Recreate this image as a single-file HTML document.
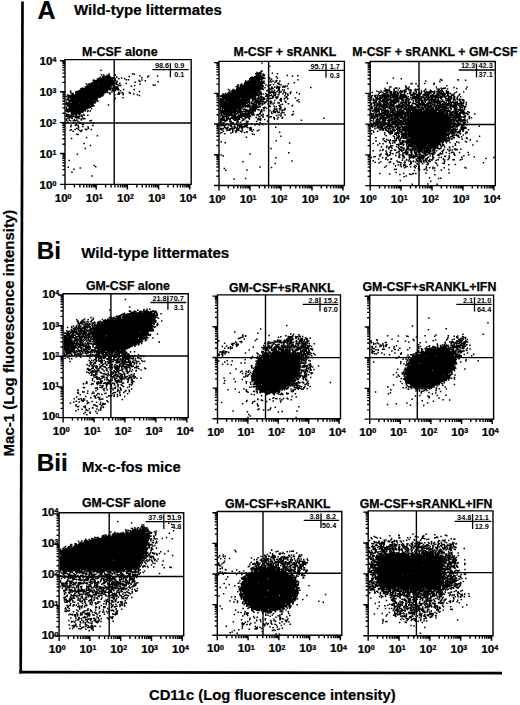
<!DOCTYPE html>
<html><head><meta charset="utf-8"><style>
html,body{margin:0;padding:0;background:#fff;width:520px;height:705px;overflow:hidden}
svg{display:block}
text{font-family:"Liberation Sans", sans-serif;font-weight:bold;fill:#000}
.big{font-size:24.3px;stroke:#000;stroke-width:.2px}
.sub{font-size:15.05px;stroke:#000;stroke-width:.2px}
.ax{font-size:14.8px;stroke:#000;stroke-width:.2px}
.ti{font-size:12.3px;stroke:#000;stroke-width:.25px}
.t{font-size:10.6px;stroke:#000;stroke-width:.25px}
.p{font-size:7.3px}
</style></head><body>
<svg width="520" height="705" viewBox="0 0 520 705">
<path d="M22.5 1.4L20.7 673.4" stroke="#000" stroke-width="2.7"/>
<path d="M19.4 672.2L502 673.2" stroke="#000" stroke-width="2.7"/>
<text x="37.6" y="18.8" class="big" style="font-size:25px">A</text>
<text x="74" y="14.8" class="sub">Wild-type littermates</text>
<text x="36.8" y="258.5" class="big">Bi</text>
<text x="81.3" y="258.3" class="sub">Wild-type littermates</text>
<text x="36.8" y="470.5" class="big">Bii</text>
<text x="82" y="471.6" class="sub" style="font-size:14.8px">Mx-c-fos mice</text>
<text x="149" y="700" class="ax">CD11c (Log fluorescence intensity)</text>
<text transform="translate(13.8 456.4) rotate(-90)" class="ax" style="font-size:15px">Mac-1 (Log fluorescence intensity)</text>
<path d="M65 59.6H191.2V184.4H65ZM114.2 59.6V184.4M65 123H191.2M65 184.4h-5M65 184.4v5M65 175.1h-2.6M74.39 184.4v3M65 169.66h-2.6M79.89 184.4v3M65 165.8h-2.6M83.78 184.4v3M65 162.8h-2.6M86.81 184.4v3M65 160.36h-2.6M89.28 184.4v3M65 158.29h-2.6M91.37 184.4v3M65 156.49h-2.6M93.18 184.4v3M65 154.91h-2.6M94.77 184.4v3M65 153.5h-5M96.2 184.4v5M65 144.2h-2.6M105.59 184.4v3M65 138.76h-2.6M111.09 184.4v3M65 134.9h-2.6M114.98 184.4v3M65 131.9h-2.6M118.01 184.4v3M65 129.46h-2.6M120.48 184.4v3M65 127.39h-2.6M122.57 184.4v3M65 125.59h-2.6M124.38 184.4v3M65 124.01h-2.6M125.97 184.4v3M65 122.6h-5M127.4 184.4v5M65 113.3h-2.6M136.79 184.4v3M65 107.86h-2.6M142.29 184.4v3M65 104h-2.6M146.18 184.4v3M65 101h-2.6M149.21 184.4v3M65 98.56h-2.6M151.68 184.4v3M65 96.49h-2.6M153.77 184.4v3M65 94.69h-2.6M155.58 184.4v3M65 93.11h-2.6M157.17 184.4v3M65 91.7h-5M158.6 184.4v5M65 82.4h-2.6M167.99 184.4v3M65 76.96h-2.6M173.49 184.4v3M65 73.1h-2.6M177.38 184.4v3M65 70.1h-2.6M180.41 184.4v3M65 67.66h-2.6M182.88 184.4v3M65 65.59h-2.6M184.97 184.4v3M65 63.79h-2.6M186.78 184.4v3M65 62.21h-2.6M188.37 184.4v3M65 60.8h-5M189.8 184.4v5" fill="none" stroke="#000" stroke-width="1.4"/>
<text transform="translate(63.1 201.5) scale(1.1 1)" text-anchor="middle" class="t">10<tspan font-size="6.4" dy="-2.8">0</tspan></text>
<text transform="translate(94.3 201.5) scale(1.1 1)" text-anchor="middle" class="t">10<tspan font-size="6.4" dy="-2.8">1</tspan></text>
<text transform="translate(125.5 201.5) scale(1.1 1)" text-anchor="middle" class="t">10<tspan font-size="6.4" dy="-2.8">2</tspan></text>
<text transform="translate(156.7 201.5) scale(1.1 1)" text-anchor="middle" class="t">10<tspan font-size="6.4" dy="-2.8">3</tspan></text>
<text transform="translate(187.9 201.5) scale(1.1 1)" text-anchor="middle" class="t">10<tspan font-size="6.4" dy="-2.8">4</tspan></text>
<text x="81.9" y="55.8" class="ti" style="font-size:12.5px">M-CSF alone</text>
<path d="M152.3 69.6H188.7M170.4 63.2V77.2" stroke="#000" stroke-width="1.3" fill="none"/>
<text x="169.1" y="68" text-anchor="end" class="p">98.6</text>
<text x="184.4" y="68" text-anchor="end" class="p">0.9</text>
<text x="184.4" y="76.8" text-anchor="end" class="p">0.1</text>
<path d="M219 61.4H344.4V185.5H219ZM268.6 61.4V185.5M219 124H344.4M219 185.5h-5M219 185.5v5M219 176.25h-2.6M228.33 185.5v3M219 170.84h-2.6M233.79 185.5v3M219 167h-2.6M237.66 185.5v3M219 164.02h-2.6M240.67 185.5v3M219 161.59h-2.6M243.12 185.5v3M219 159.53h-2.6M245.2 185.5v3M219 157.75h-2.6M247 185.5v3M219 156.18h-2.6M248.58 185.5v3M219 154.78h-5M250 185.5v5M219 145.53h-2.6M259.33 185.5v3M219 140.12h-2.6M264.79 185.5v3M219 136.28h-2.6M268.66 185.5v3M219 133.3h-2.6M271.67 185.5v3M219 130.87h-2.6M274.12 185.5v3M219 128.81h-2.6M276.2 185.5v3M219 127.03h-2.6M278 185.5v3M219 125.46h-2.6M279.58 185.5v3M219 124.05h-5M281 185.5v5M219 114.8h-2.6M290.33 185.5v3M219 109.39h-2.6M295.79 185.5v3M219 105.55h-2.6M299.66 185.5v3M219 102.57h-2.6M302.67 185.5v3M219 100.14h-2.6M305.12 185.5v3M219 98.08h-2.6M307.2 185.5v3M219 96.3h-2.6M309 185.5v3M219 94.73h-2.6M310.58 185.5v3M219 93.33h-5M312 185.5v5M219 84.08h-2.6M321.33 185.5v3M219 78.67h-2.6M326.79 185.5v3M219 74.83h-2.6M330.66 185.5v3M219 71.85h-2.6M333.67 185.5v3M219 69.42h-2.6M336.12 185.5v3M219 67.36h-2.6M338.2 185.5v3M219 65.58h-2.6M340 185.5v3M219 64.01h-2.6M341.58 185.5v3M219 62.6h-5M343 185.5v5" fill="none" stroke="#000" stroke-width="1.4"/>
<text transform="translate(217.1 202.6) scale(1.1 1)" text-anchor="middle" class="t">10<tspan font-size="6.4" dy="-2.8">0</tspan></text>
<text transform="translate(248.1 202.6) scale(1.1 1)" text-anchor="middle" class="t">10<tspan font-size="6.4" dy="-2.8">1</tspan></text>
<text transform="translate(279.1 202.6) scale(1.1 1)" text-anchor="middle" class="t">10<tspan font-size="6.4" dy="-2.8">2</tspan></text>
<text transform="translate(310.1 202.6) scale(1.1 1)" text-anchor="middle" class="t">10<tspan font-size="6.4" dy="-2.8">3</tspan></text>
<text transform="translate(341.1 202.6) scale(1.1 1)" text-anchor="middle" class="t">10<tspan font-size="6.4" dy="-2.8">4</tspan></text>
<text x="233.5" y="56.1" class="ti">M-CSF + sRANKL</text>
<path d="M308.7 70.4H344.2M326 63.6V77.8" stroke="#000" stroke-width="1.3" fill="none"/>
<text x="324.7" y="68.8" text-anchor="end" class="p">95.7</text>
<text x="339.9" y="68.8" text-anchor="end" class="p">1.7</text>
<text x="339.9" y="77.6" text-anchor="end" class="p">0.3</text>
<path d="M370.2 61.5H495.3V185.6H370.2ZM419 61.5V185.6M370.2 124.5H495.3M370.2 185.6h-5M370.2 185.6v5M370.2 176.35h-2.6M379.51 185.6v3M370.2 170.94h-2.6M384.95 185.6v3M370.2 167.1h-2.6M388.82 185.6v3M370.2 164.12h-2.6M391.82 185.6v3M370.2 161.69h-2.6M394.26 185.6v3M370.2 159.63h-2.6M396.33 185.6v3M370.2 157.85h-2.6M398.13 185.6v3M370.2 156.28h-2.6M399.71 185.6v3M370.2 154.88h-5M401.12 185.6v5M370.2 145.63h-2.6M410.43 185.6v3M370.2 140.22h-2.6M415.88 185.6v3M370.2 136.38h-2.6M419.74 185.6v3M370.2 133.4h-2.6M422.74 185.6v3M370.2 130.97h-2.6M425.19 185.6v3M370.2 128.91h-2.6M427.26 185.6v3M370.2 127.13h-2.6M429.05 185.6v3M370.2 125.56h-2.6M430.63 185.6v3M370.2 124.15h-5M432.05 185.6v5M370.2 114.9h-2.6M441.36 185.6v3M370.2 109.49h-2.6M446.8 185.6v3M370.2 105.65h-2.6M450.67 185.6v3M370.2 102.67h-2.6M453.67 185.6v3M370.2 100.24h-2.6M456.11 185.6v3M370.2 98.18h-2.6M458.18 185.6v3M370.2 96.4h-2.6M459.98 185.6v3M370.2 94.83h-2.6M461.56 185.6v3M370.2 93.42h-5M462.98 185.6v5M370.2 84.18h-2.6M472.28 185.6v3M370.2 78.77h-2.6M477.73 185.6v3M370.2 74.93h-2.6M481.59 185.6v3M370.2 71.95h-2.6M484.59 185.6v3M370.2 69.52h-2.6M487.04 185.6v3M370.2 67.46h-2.6M489.11 185.6v3M370.2 65.68h-2.6M490.9 185.6v3M370.2 64.11h-2.6M492.48 185.6v3M370.2 62.7h-5M493.9 185.6v5" fill="none" stroke="#000" stroke-width="1.4"/>
<text transform="translate(368.3 202.7) scale(1.1 1)" text-anchor="middle" class="t">10<tspan font-size="6.4" dy="-2.8">0</tspan></text>
<text transform="translate(399.23 202.7) scale(1.1 1)" text-anchor="middle" class="t">10<tspan font-size="6.4" dy="-2.8">1</tspan></text>
<text transform="translate(430.15 202.7) scale(1.1 1)" text-anchor="middle" class="t">10<tspan font-size="6.4" dy="-2.8">2</tspan></text>
<text transform="translate(461.08 202.7) scale(1.1 1)" text-anchor="middle" class="t">10<tspan font-size="6.4" dy="-2.8">3</tspan></text>
<text transform="translate(492 202.7) scale(1.1 1)" text-anchor="middle" class="t">10<tspan font-size="6.4" dy="-2.8">4</tspan></text>
<text x="352.3" y="55.9" class="ti">M-CSF + sRANKL + GM-CSF</text>
<path d="M458.7 70H494.6M476.5 63.4V77.6" stroke="#000" stroke-width="1.3" fill="none"/>
<text x="475.2" y="68.4" text-anchor="end" class="p">12.3</text>
<text x="492.7" y="68.4" text-anchor="end" class="p">42.3</text>
<text x="492.7" y="77.2" text-anchor="end" class="p">37.1</text>
<path d="M63.1 293.8H188.2V417.6H63.1ZM110.9 293.8V417.6M63.1 356H188.2M63.1 417.6h-5M63.1 417.6v5M63.1 408.37h-2.6M72.41 417.6v3M63.1 402.98h-2.6M77.85 417.6v3M63.1 399.15h-2.6M81.72 417.6v3M63.1 396.18h-2.6M84.72 417.6v3M63.1 393.75h-2.6M87.16 417.6v3M63.1 391.7h-2.6M89.23 417.6v3M63.1 389.92h-2.6M91.03 417.6v3M63.1 388.35h-2.6M92.61 417.6v3M63.1 386.95h-5M94.03 417.6v5M63.1 377.72h-2.6M103.33 417.6v3M63.1 372.33h-2.6M108.78 417.6v3M63.1 368.5h-2.6M112.64 417.6v3M63.1 365.53h-2.6M115.64 417.6v3M63.1 363.1h-2.6M118.09 417.6v3M63.1 361.05h-2.6M120.16 417.6v3M63.1 359.27h-2.6M121.95 417.6v3M63.1 357.7h-2.6M123.53 417.6v3M63.1 356.3h-5M124.95 417.6v5M63.1 347.07h-2.6M134.26 417.6v3M63.1 341.68h-2.6M139.7 417.6v3M63.1 337.85h-2.6M143.57 417.6v3M63.1 334.88h-2.6M146.57 417.6v3M63.1 332.45h-2.6M149.01 417.6v3M63.1 330.4h-2.6M151.08 417.6v3M63.1 328.62h-2.6M152.88 417.6v3M63.1 327.05h-2.6M154.46 417.6v3M63.1 325.65h-5M155.88 417.6v5M63.1 316.42h-2.6M165.18 417.6v3M63.1 311.03h-2.6M170.63 417.6v3M63.1 307.2h-2.6M174.49 417.6v3M63.1 304.23h-2.6M177.49 417.6v3M63.1 301.8h-2.6M179.94 417.6v3M63.1 299.75h-2.6M182.01 417.6v3M63.1 297.97h-2.6M183.8 417.6v3M63.1 296.4h-2.6M185.38 417.6v3M63.1 295h-5M186.8 417.6v5" fill="none" stroke="#000" stroke-width="1.4"/>
<text transform="translate(61.2 434.7) scale(1.1 1)" text-anchor="middle" class="t">10<tspan font-size="6.4" dy="-2.8">0</tspan></text>
<text transform="translate(92.12 434.7) scale(1.1 1)" text-anchor="middle" class="t">10<tspan font-size="6.4" dy="-2.8">1</tspan></text>
<text transform="translate(123.05 434.7) scale(1.1 1)" text-anchor="middle" class="t">10<tspan font-size="6.4" dy="-2.8">2</tspan></text>
<text transform="translate(153.97 434.7) scale(1.1 1)" text-anchor="middle" class="t">10<tspan font-size="6.4" dy="-2.8">3</tspan></text>
<text transform="translate(184.9 434.7) scale(1.1 1)" text-anchor="middle" class="t">10<tspan font-size="6.4" dy="-2.8">4</tspan></text>
<text x="85.9" y="290" class="ti">GM-CSF alone</text>
<path d="M150.6 302.5H186.2M167.9 295.8V309.8" stroke="#000" stroke-width="1.3" fill="none"/>
<text x="166.6" y="300.9" text-anchor="end" class="p">21.8</text>
<text x="183.8" y="300.9" text-anchor="end" class="p">70.7</text>
<text x="183.8" y="309.7" text-anchor="end" class="p">3.1</text>
<path d="M217.5 294.9H340.5V418.8H217.5ZM265.5 294.9V418.8M217.5 357.6H340.5M217.5 418.8h-5M217.5 418.8v5M217.5 409.57h-2.6M226.65 418.8v3M217.5 404.16h-2.6M232 418.8v3M217.5 400.33h-2.6M235.8 418.8v3M217.5 397.36h-2.6M238.75 418.8v3M217.5 394.93h-2.6M241.16 418.8v3M217.5 392.88h-2.6M243.19 418.8v3M217.5 391.1h-2.6M244.95 418.8v3M217.5 389.53h-2.6M246.51 418.8v3M217.5 388.12h-5M247.9 418.8v5M217.5 378.89h-2.6M257.05 418.8v3M217.5 373.49h-2.6M262.4 418.8v3M217.5 369.66h-2.6M266.2 418.8v3M217.5 366.68h-2.6M269.15 418.8v3M217.5 364.26h-2.6M271.56 418.8v3M217.5 362.2h-2.6M273.59 418.8v3M217.5 360.42h-2.6M275.35 418.8v3M217.5 358.85h-2.6M276.91 418.8v3M217.5 357.45h-5M278.3 418.8v5M217.5 348.22h-2.6M287.45 418.8v3M217.5 342.81h-2.6M292.8 418.8v3M217.5 338.98h-2.6M296.6 418.8v3M217.5 336.01h-2.6M299.55 418.8v3M217.5 333.58h-2.6M301.96 418.8v3M217.5 331.53h-2.6M303.99 418.8v3M217.5 329.75h-2.6M305.75 418.8v3M217.5 328.18h-2.6M307.31 418.8v3M217.5 326.77h-5M308.7 418.8v5M217.5 317.54h-2.6M317.85 418.8v3M217.5 312.14h-2.6M323.2 418.8v3M217.5 308.31h-2.6M327 418.8v3M217.5 305.33h-2.6M329.95 418.8v3M217.5 302.91h-2.6M332.36 418.8v3M217.5 300.85h-2.6M334.39 418.8v3M217.5 299.07h-2.6M336.15 418.8v3M217.5 297.5h-2.6M337.71 418.8v3M217.5 296.1h-5M339.1 418.8v5" fill="none" stroke="#000" stroke-width="1.4"/>
<text transform="translate(215.6 435.9) scale(1.1 1)" text-anchor="middle" class="t">10<tspan font-size="6.4" dy="-2.8">0</tspan></text>
<text transform="translate(246 435.9) scale(1.1 1)" text-anchor="middle" class="t">10<tspan font-size="6.4" dy="-2.8">1</tspan></text>
<text transform="translate(276.4 435.9) scale(1.1 1)" text-anchor="middle" class="t">10<tspan font-size="6.4" dy="-2.8">2</tspan></text>
<text transform="translate(306.8 435.9) scale(1.1 1)" text-anchor="middle" class="t">10<tspan font-size="6.4" dy="-2.8">3</tspan></text>
<text transform="translate(337.2 435.9) scale(1.1 1)" text-anchor="middle" class="t">10<tspan font-size="6.4" dy="-2.8">4</tspan></text>
<text x="228.9" y="291.5" class="ti">GM-CSF+sRANKL</text>
<path d="M302.7 304.4H338.3M320 297.2V311.6" stroke="#000" stroke-width="1.3" fill="none"/>
<text x="318.7" y="302.8" text-anchor="end" class="p">2.8</text>
<text x="337.8" y="302.8" text-anchor="end" class="p">15.2</text>
<text x="337.8" y="311.6" text-anchor="end" class="p">67.0</text>
<path d="M369.7 295.1H493.6V419.1H369.7ZM417.3 295.1V419.1M369.7 357.6H493.6M369.7 419.1h-5M369.7 419.1v5M369.7 409.86h-2.6M378.92 419.1v3M369.7 404.45h-2.6M384.31 419.1v3M369.7 400.62h-2.6M388.14 419.1v3M369.7 397.64h-2.6M391.11 419.1v3M369.7 395.21h-2.6M393.53 419.1v3M369.7 393.16h-2.6M395.58 419.1v3M369.7 391.38h-2.6M397.36 419.1v3M369.7 389.8h-2.6M398.92 419.1v3M369.7 388.4h-5M400.32 419.1v5M369.7 379.16h-2.6M409.54 419.1v3M369.7 373.75h-2.6M414.94 419.1v3M369.7 369.92h-2.6M418.76 419.1v3M369.7 366.94h-2.6M421.73 419.1v3M369.7 364.51h-2.6M424.16 419.1v3M369.7 362.46h-2.6M426.21 419.1v3M369.7 360.68h-2.6M427.98 419.1v3M369.7 359.1h-2.6M429.55 419.1v3M369.7 357.7h-5M430.95 419.1v5M369.7 348.46h-2.6M440.17 419.1v3M369.7 343.05h-2.6M445.56 419.1v3M369.7 339.22h-2.6M449.39 419.1v3M369.7 336.24h-2.6M452.36 419.1v3M369.7 333.81h-2.6M454.78 419.1v3M369.7 331.76h-2.6M456.83 419.1v3M369.7 329.98h-2.6M458.61 419.1v3M369.7 328.4h-2.6M460.17 419.1v3M369.7 327h-5M461.58 419.1v5M369.7 317.76h-2.6M470.79 419.1v3M369.7 312.35h-2.6M476.19 419.1v3M369.7 308.52h-2.6M480.01 419.1v3M369.7 305.54h-2.6M482.98 419.1v3M369.7 303.11h-2.6M485.41 419.1v3M369.7 301.06h-2.6M487.46 419.1v3M369.7 299.28h-2.6M489.23 419.1v3M369.7 297.7h-2.6M490.8 419.1v3M369.7 296.3h-5M492.2 419.1v5" fill="none" stroke="#000" stroke-width="1.4"/>
<text transform="translate(367.8 436.2) scale(1.1 1)" text-anchor="middle" class="t">10<tspan font-size="6.4" dy="-2.8">0</tspan></text>
<text transform="translate(398.43 436.2) scale(1.1 1)" text-anchor="middle" class="t">10<tspan font-size="6.4" dy="-2.8">1</tspan></text>
<text transform="translate(429.05 436.2) scale(1.1 1)" text-anchor="middle" class="t">10<tspan font-size="6.4" dy="-2.8">2</tspan></text>
<text transform="translate(459.68 436.2) scale(1.1 1)" text-anchor="middle" class="t">10<tspan font-size="6.4" dy="-2.8">3</tspan></text>
<text transform="translate(490.3 436.2) scale(1.1 1)" text-anchor="middle" class="t">10<tspan font-size="6.4" dy="-2.8">4</tspan></text>
<text x="362.4" y="291.2" class="ti" style="font-size:12.45px">GM-CSF+sRANKL+IFN</text>
<path d="M456.3 304.4H491.8M474.5 297.2V311.6" stroke="#000" stroke-width="1.3" fill="none"/>
<text x="473.2" y="302.8" text-anchor="end" class="p">2.1</text>
<text x="491.2" y="302.8" text-anchor="end" class="p">21.0</text>
<text x="491.2" y="311.6" text-anchor="end" class="p">64.4</text>
<path d="M59.1 512.7H183.7V635.9H59.1ZM109.2 512.7V635.9M59.1 576.5H183.7M59.1 635.9h-5M59.1 635.9v5M59.1 626.72h-2.6M68.37 635.9v3M59.1 621.35h-2.6M73.8 635.9v3M59.1 617.54h-2.6M77.64 635.9v3M59.1 614.58h-2.6M80.63 635.9v3M59.1 612.17h-2.6M83.07 635.9v3M59.1 610.12h-2.6M85.13 635.9v3M59.1 608.36h-2.6M86.92 635.9v3M59.1 606.8h-2.6M88.49 635.9v3M59.1 605.4h-5M89.9 635.9v5M59.1 596.22h-2.6M99.17 635.9v3M59.1 590.85h-2.6M104.6 635.9v3M59.1 587.04h-2.6M108.44 635.9v3M59.1 584.08h-2.6M111.43 635.9v3M59.1 581.67h-2.6M113.87 635.9v3M59.1 579.62h-2.6M115.93 635.9v3M59.1 577.86h-2.6M117.72 635.9v3M59.1 576.3h-2.6M119.29 635.9v3M59.1 574.9h-5M120.7 635.9v5M59.1 565.72h-2.6M129.97 635.9v3M59.1 560.35h-2.6M135.4 635.9v3M59.1 556.54h-2.6M139.24 635.9v3M59.1 553.58h-2.6M142.23 635.9v3M59.1 551.17h-2.6M144.67 635.9v3M59.1 549.12h-2.6M146.73 635.9v3M59.1 547.36h-2.6M148.52 635.9v3M59.1 545.8h-2.6M150.09 635.9v3M59.1 544.4h-5M151.5 635.9v5M59.1 535.22h-2.6M160.77 635.9v3M59.1 529.85h-2.6M166.2 635.9v3M59.1 526.04h-2.6M170.04 635.9v3M59.1 523.08h-2.6M173.03 635.9v3M59.1 520.67h-2.6M175.47 635.9v3M59.1 518.62h-2.6M177.53 635.9v3M59.1 516.86h-2.6M179.32 635.9v3M59.1 515.3h-2.6M180.89 635.9v3M59.1 513.9h-5M182.3 635.9v5" fill="none" stroke="#000" stroke-width="1.4"/>
<text transform="translate(57.2 653) scale(1.1 1)" text-anchor="middle" class="t">10<tspan font-size="6.4" dy="-2.8">0</tspan></text>
<text transform="translate(88 653) scale(1.1 1)" text-anchor="middle" class="t">10<tspan font-size="6.4" dy="-2.8">1</tspan></text>
<text transform="translate(118.8 653) scale(1.1 1)" text-anchor="middle" class="t">10<tspan font-size="6.4" dy="-2.8">2</tspan></text>
<text transform="translate(149.6 653) scale(1.1 1)" text-anchor="middle" class="t">10<tspan font-size="6.4" dy="-2.8">3</tspan></text>
<text transform="translate(180.4 653) scale(1.1 1)" text-anchor="middle" class="t">10<tspan font-size="6.4" dy="-2.8">4</tspan></text>
<text x="81.9" y="507.3" class="ti">GM-CSF alone</text>
<path d="M145.6 521.7H181.2M163.8 514.2V529" stroke="#000" stroke-width="1.3" fill="none"/>
<text x="162.5" y="520.1" text-anchor="end" class="p">37.9</text>
<text x="181.3" y="520.1" text-anchor="end" class="p">51.9</text>
<text x="181.3" y="528.9" text-anchor="end" class="p">4.8</text>
<path d="M217.3 511.5H341.8V635.3H217.3ZM263 511.5V635.3M217.3 573.3H341.8M217.3 635.3h-5M217.3 635.3v5M217.3 626.07h-2.6M226.56 635.3v3M217.3 620.68h-2.6M231.98 635.3v3M217.3 616.85h-2.6M235.83 635.3v3M217.3 613.88h-2.6M238.81 635.3v3M217.3 611.45h-2.6M241.25 635.3v3M217.3 609.4h-2.6M243.31 635.3v3M217.3 607.62h-2.6M245.09 635.3v3M217.3 606.05h-2.6M246.67 635.3v3M217.3 604.65h-5M248.08 635.3v5M217.3 595.42h-2.6M257.34 635.3v3M217.3 590.03h-2.6M262.76 635.3v3M217.3 586.2h-2.6M266.6 635.3v3M217.3 583.23h-2.6M269.59 635.3v3M217.3 580.8h-2.6M272.02 635.3v3M217.3 578.75h-2.6M274.08 635.3v3M217.3 576.97h-2.6M275.87 635.3v3M217.3 575.4h-2.6M277.44 635.3v3M217.3 574h-5M278.85 635.3v5M217.3 564.77h-2.6M288.11 635.3v3M217.3 559.38h-2.6M293.53 635.3v3M217.3 555.55h-2.6M297.38 635.3v3M217.3 552.58h-2.6M300.36 635.3v3M217.3 550.15h-2.6M302.8 635.3v3M217.3 548.1h-2.6M304.86 635.3v3M217.3 546.32h-2.6M306.64 635.3v3M217.3 544.75h-2.6M308.22 635.3v3M217.3 543.35h-5M309.62 635.3v5M217.3 534.12h-2.6M318.89 635.3v3M217.3 528.73h-2.6M324.31 635.3v3M217.3 524.9h-2.6M328.15 635.3v3M217.3 521.93h-2.6M331.14 635.3v3M217.3 519.5h-2.6M333.57 635.3v3M217.3 517.45h-2.6M335.63 635.3v3M217.3 515.67h-2.6M337.42 635.3v3M217.3 514.1h-2.6M338.99 635.3v3M217.3 512.7h-5M340.4 635.3v5" fill="none" stroke="#000" stroke-width="1.4"/>
<text transform="translate(215.4 652.4) scale(1.1 1)" text-anchor="middle" class="t">10<tspan font-size="6.4" dy="-2.8">0</tspan></text>
<text transform="translate(246.18 652.4) scale(1.1 1)" text-anchor="middle" class="t">10<tspan font-size="6.4" dy="-2.8">1</tspan></text>
<text transform="translate(276.95 652.4) scale(1.1 1)" text-anchor="middle" class="t">10<tspan font-size="6.4" dy="-2.8">2</tspan></text>
<text transform="translate(307.73 652.4) scale(1.1 1)" text-anchor="middle" class="t">10<tspan font-size="6.4" dy="-2.8">3</tspan></text>
<text transform="translate(338.5 652.4) scale(1.1 1)" text-anchor="middle" class="t">10<tspan font-size="6.4" dy="-2.8">4</tspan></text>
<text x="225" y="508" class="ti">GM-CSF+sRANKL</text>
<path d="M303.7 520.4H339.2M321 513.4V528" stroke="#000" stroke-width="1.3" fill="none"/>
<text x="319.7" y="518.8" text-anchor="end" class="p">3.8</text>
<text x="336.2" y="518.8" text-anchor="end" class="p">8.2</text>
<text x="336.2" y="527.6" text-anchor="end" class="p">50.4</text>
<path d="M368.2 510.9H493V635.7H368.2ZM416.4 510.9V635.7M368.2 572.6H493M368.2 635.7h-5M368.2 635.7v5M368.2 626.4h-2.6M377.49 635.7v3M368.2 620.96h-2.6M382.92 635.7v3M368.2 617.1h-2.6M386.77 635.7v3M368.2 614.1h-2.6M389.76 635.7v3M368.2 611.66h-2.6M392.21 635.7v3M368.2 609.59h-2.6M394.27 635.7v3M368.2 607.79h-2.6M396.06 635.7v3M368.2 606.21h-2.6M397.64 635.7v3M368.2 604.8h-5M399.05 635.7v5M368.2 595.5h-2.6M408.34 635.7v3M368.2 590.06h-2.6M413.77 635.7v3M368.2 586.2h-2.6M417.62 635.7v3M368.2 583.2h-2.6M420.61 635.7v3M368.2 580.76h-2.6M423.06 635.7v3M368.2 578.69h-2.6M425.12 635.7v3M368.2 576.89h-2.6M426.91 635.7v3M368.2 575.31h-2.6M428.49 635.7v3M368.2 573.9h-5M429.9 635.7v5M368.2 564.6h-2.6M439.19 635.7v3M368.2 559.16h-2.6M444.62 635.7v3M368.2 555.3h-2.6M448.47 635.7v3M368.2 552.3h-2.6M451.46 635.7v3M368.2 549.86h-2.6M453.91 635.7v3M368.2 547.79h-2.6M455.97 635.7v3M368.2 545.99h-2.6M457.76 635.7v3M368.2 544.41h-2.6M459.34 635.7v3M368.2 543h-5M460.75 635.7v5M368.2 533.7h-2.6M470.04 635.7v3M368.2 528.26h-2.6M475.47 635.7v3M368.2 524.4h-2.6M479.32 635.7v3M368.2 521.4h-2.6M482.31 635.7v3M368.2 518.96h-2.6M484.76 635.7v3M368.2 516.89h-2.6M486.82 635.7v3M368.2 515.09h-2.6M488.61 635.7v3M368.2 513.51h-2.6M490.19 635.7v3M368.2 512.1h-5M491.6 635.7v5" fill="none" stroke="#000" stroke-width="1.4"/>
<text transform="translate(366.3 652.8) scale(1.1 1)" text-anchor="middle" class="t">10<tspan font-size="6.4" dy="-2.8">0</tspan></text>
<text transform="translate(397.15 652.8) scale(1.1 1)" text-anchor="middle" class="t">10<tspan font-size="6.4" dy="-2.8">1</tspan></text>
<text transform="translate(428 652.8) scale(1.1 1)" text-anchor="middle" class="t">10<tspan font-size="6.4" dy="-2.8">2</tspan></text>
<text transform="translate(458.85 652.8) scale(1.1 1)" text-anchor="middle" class="t">10<tspan font-size="6.4" dy="-2.8">3</tspan></text>
<text transform="translate(489.7 652.8) scale(1.1 1)" text-anchor="middle" class="t">10<tspan font-size="6.4" dy="-2.8">4</tspan></text>
<text x="359.8" y="507.5" class="ti">GM-CSF+sRANKL+IFN</text>
<path d="M454.7 521.3H491.3M472.6 514V529" stroke="#000" stroke-width="1.3" fill="none"/>
<text x="471.3" y="519.7" text-anchor="end" class="p">34.8</text>
<text x="488.9" y="519.7" text-anchor="end" class="p">21.1</text>
<text x="488.9" y="528.5" text-anchor="end" class="p">12.9</text>
<text transform="translate(56.4 189) scale(1.1 1)" text-anchor="end" class="t">10<tspan font-size="6.4" dy="-2.8">0</tspan></text>
<text transform="translate(56.4 157.8) scale(1.1 1)" text-anchor="end" class="t">10<tspan font-size="6.4" dy="-2.8">1</tspan></text>
<text transform="translate(56.4 127.1) scale(1.1 1)" text-anchor="end" class="t">10<tspan font-size="6.4" dy="-2.8">2</tspan></text>
<text transform="translate(56.4 96.1) scale(1.1 1)" text-anchor="end" class="t">10<tspan font-size="6.4" dy="-2.8">3</tspan></text>
<text transform="translate(56.4 65.1) scale(1.1 1)" text-anchor="end" class="t">10<tspan font-size="6.4" dy="-2.8">4</tspan></text>
<text transform="translate(59.2 420.4) scale(1.1 1)" text-anchor="end" class="t">10<tspan font-size="6.4" dy="-2.8">0</tspan></text>
<text transform="translate(59.2 390.2) scale(1.1 1)" text-anchor="end" class="t">10<tspan font-size="6.4" dy="-2.8">1</tspan></text>
<text transform="translate(59.2 360.2) scale(1.1 1)" text-anchor="end" class="t">10<tspan font-size="6.4" dy="-2.8">2</tspan></text>
<text transform="translate(59.2 329.5) scale(1.1 1)" text-anchor="end" class="t">10<tspan font-size="6.4" dy="-2.8">3</tspan></text>
<text transform="translate(59.2 298.1) scale(1.1 1)" text-anchor="end" class="t">10<tspan font-size="6.4" dy="-2.8">4</tspan></text>
<text transform="translate(58.5 639.4) scale(1.1 1)" text-anchor="end" class="t">10<tspan font-size="6.4" dy="-2.8">0</tspan></text>
<text transform="translate(58.5 608.4) scale(1.1 1)" text-anchor="end" class="t">10<tspan font-size="6.4" dy="-2.8">1</tspan></text>
<text transform="translate(58.5 577.6) scale(1.1 1)" text-anchor="end" class="t">10<tspan font-size="6.4" dy="-2.8">2</tspan></text>
<text transform="translate(58.5 546.9) scale(1.1 1)" text-anchor="end" class="t">10<tspan font-size="6.4" dy="-2.8">3</tspan></text>
<text transform="translate(58.5 516.1) scale(1.1 1)" text-anchor="end" class="t">10<tspan font-size="6.4" dy="-2.8">4</tspan></text>
<path d="M269 66h1v1h-1zM261 71h1v1h-1zM259 72h1v1h-1zM132 73h1v1h-1zM255 73h5v1h-5zM261 73h1v1h-1zM272 73h1v1h-1zM277 73h1v1h-1zM101 74h1v1h-1zM115 74h1v1h-1zM134 74h1v1h-1zM257 74h4v1h-4zM263 74h1v1h-1zM107 75h2v1h-2zM256 75h5v1h-5zM262 75h1v1h-1zM264 75h1v1h-1zM287 75h1v1h-1zM297 75h1v1h-1zM104 76h6v1h-6zM129 76h1v1h-1zM254 76h8v1h-8zM276 76h1v1h-1zM292 76h1v1h-1zM100 77h1v1h-1zM102 77h10v1h-10zM116 77h1v1h-1zM141 77h1v1h-1zM251 77h2v1h-2zM254 77h10v1h-10zM269 77h1v1h-1zM99 78h1v1h-1zM101 78h12v1h-12zM115 78h1v1h-1zM118 78h1v1h-1zM124 78h1v1h-1zM250 78h15v1h-15zM401 78h1v1h-1zM97 79h15v1h-15zM126 79h1v1h-1zM128 79h1v1h-1zM250 79h2v1h-2zM253 79h9v1h-9zM440 79h1v1h-1zM93 80h20v1h-20zM115 80h1v1h-1zM145 80h1v1h-1zM250 80h10v1h-10zM261 80h1v1h-1zM270 80h1v1h-1zM276 80h1v1h-1zM465 80h1v1h-1zM93 81h18v1h-18zM112 81h1v1h-1zM140 81h1v1h-1zM245 81h1v1h-1zM248 81h8v1h-8zM257 81h5v1h-5zM263 81h1v1h-1zM276 81h1v1h-1zM439 81h1v1h-1zM92 82h22v1h-22zM116 82h1v1h-1zM135 82h1v1h-1zM245 82h19v1h-19zM294 82h1v1h-1zM89 83h1v1h-1zM91 83h23v1h-23zM116 83h1v1h-1zM119 83h1v1h-1zM126 83h1v1h-1zM244 83h21v1h-21zM277 83h2v1h-2zM288 83h1v1h-1zM424 83h1v1h-1zM434 83h1v1h-1zM88 84h10v1h-10zM99 84h14v1h-14zM116 84h2v1h-2zM241 84h1v1h-1zM244 84h15v1h-15zM260 84h3v1h-3zM270 84h1v1h-1zM273 84h1v1h-1zM279 84h1v1h-1zM433 84h1v1h-1zM87 85h23v1h-23zM111 85h1v1h-1zM113 85h1v1h-1zM119 85h2v1h-2zM134 85h1v1h-1zM240 85h19v1h-19zM260 85h3v1h-3zM268 85h2v1h-2zM87 86h23v1h-23zM113 86h2v1h-2zM116 86h2v1h-2zM131 86h1v1h-1zM236 86h2v1h-2zM240 86h22v1h-22zM283 86h2v1h-2zM405 86h1v1h-1zM86 87h23v1h-23zM110 87h1v1h-1zM113 87h5v1h-5zM238 87h1v1h-1zM240 87h21v1h-21zM262 87h1v1h-1zM271 87h1v1h-1zM274 87h1v1h-1zM277 87h3v1h-3zM284 87h1v1h-1zM310 87h1v1h-1zM406 87h1v1h-1zM81 88h3v1h-3zM85 88h26v1h-26zM112 88h2v1h-2zM115 88h4v1h-4zM237 88h26v1h-26zM269 88h1v1h-1zM271 88h2v1h-2zM276 88h1v1h-1zM278 88h2v1h-2zM396 88h1v1h-1zM399 88h1v1h-1zM407 88h2v1h-2zM441 88h4v1h-4zM80 89h30v1h-30zM112 89h1v1h-1zM117 89h1v1h-1zM123 89h1v1h-1zM134 89h1v1h-1zM228 89h1v1h-1zM233 89h1v1h-1zM236 89h25v1h-25zM263 89h1v1h-1zM270 89h1v1h-1zM278 89h2v1h-2zM282 89h1v1h-1zM385 89h2v1h-2zM405 89h1v1h-1zM410 89h1v1h-1zM415 89h1v1h-1zM417 89h3v1h-3zM425 89h1v1h-1zM438 89h2v1h-2zM441 89h1v1h-1zM79 90h1v1h-1zM81 90h27v1h-27zM112 90h1v1h-1zM115 90h1v1h-1zM120 90h1v1h-1zM229 90h1v1h-1zM232 90h28v1h-28zM266 90h1v1h-1zM268 90h1v1h-1zM274 90h1v1h-1zM278 90h2v1h-2zM386 90h3v1h-3zM394 90h1v1h-1zM400 90h1v1h-1zM404 90h1v1h-1zM410 90h1v1h-1zM424 90h1v1h-1zM430 90h1v1h-1zM438 90h5v1h-5zM446 90h1v1h-1zM70 91h1v1h-1zM76 91h31v1h-31zM113 91h1v1h-1zM139 91h1v1h-1zM233 91h26v1h-26zM268 91h1v1h-1zM277 91h1v1h-1zM279 91h1v1h-1zM385 91h1v1h-1zM390 91h2v1h-2zM394 91h2v1h-2zM401 91h2v1h-2zM404 91h2v1h-2zM410 91h1v1h-1zM416 91h1v1h-1zM421 91h1v1h-1zM430 91h3v1h-3zM434 91h1v1h-1zM437 91h3v1h-3zM441 91h2v1h-2zM446 91h2v1h-2zM70 92h1v1h-1zM76 92h30v1h-30zM107 92h1v1h-1zM109 92h1v1h-1zM122 92h1v1h-1zM129 92h1v1h-1zM228 92h2v1h-2zM232 92h28v1h-28zM269 92h5v1h-5zM275 92h1v1h-1zM279 92h1v1h-1zM284 92h2v1h-2zM290 92h1v1h-1zM296 92h1v1h-1zM372 92h1v1h-1zM380 92h1v1h-1zM382 92h1v1h-1zM387 92h1v1h-1zM390 92h2v1h-2zM393 92h2v1h-2zM397 92h1v1h-1zM404 92h1v1h-1zM413 92h1v1h-1zM416 92h1v1h-1zM419 92h1v1h-1zM421 92h1v1h-1zM425 92h6v1h-6zM434 92h1v1h-1zM438 92h3v1h-3zM443 92h1v1h-1zM446 92h3v1h-3zM76 93h28v1h-28zM118 93h1v1h-1zM123 93h1v1h-1zM130 93h1v1h-1zM225 93h1v1h-1zM227 93h1v1h-1zM229 93h20v1h-20zM250 93h4v1h-4zM255 93h3v1h-3zM259 93h2v1h-2zM273 93h1v1h-1zM275 93h1v1h-1zM285 93h1v1h-1zM290 93h1v1h-1zM299 93h1v1h-1zM379 93h1v1h-1zM386 93h1v1h-1zM390 93h2v1h-2zM393 93h3v1h-3zM397 93h1v1h-1zM400 93h1v1h-1zM404 93h1v1h-1zM407 93h1v1h-1zM409 93h1v1h-1zM413 93h3v1h-3zM419 93h3v1h-3zM425 93h1v1h-1zM427 93h3v1h-3zM433 93h2v1h-2zM437 93h2v1h-2zM441 93h4v1h-4zM447 93h2v1h-2zM450 93h1v1h-1zM72 94h2v1h-2zM75 94h28v1h-28zM114 94h1v1h-1zM118 94h1v1h-1zM137 94h1v1h-1zM222 94h2v1h-2zM225 94h29v1h-29zM255 94h5v1h-5zM261 94h1v1h-1zM266 94h3v1h-3zM275 94h1v1h-1zM278 94h1v1h-1zM378 94h1v1h-1zM383 94h2v1h-2zM387 94h2v1h-2zM391 94h4v1h-4zM396 94h2v1h-2zM401 94h4v1h-4zM410 94h4v1h-4zM416 94h4v1h-4zM423 94h6v1h-6zM432 94h1v1h-1zM437 94h2v1h-2zM440 94h3v1h-3zM444 94h2v1h-2zM447 94h1v1h-1zM451 94h1v1h-1zM453 94h1v1h-1zM459 94h1v1h-1zM68 95h1v1h-1zM70 95h11v1h-11zM82 95h21v1h-21zM139 95h1v1h-1zM221 95h16v1h-16zM238 95h19v1h-19zM258 95h1v1h-1zM266 95h1v1h-1zM269 95h3v1h-3zM273 95h3v1h-3zM372 95h1v1h-1zM374 95h2v1h-2zM379 95h1v1h-1zM381 95h5v1h-5zM387 95h2v1h-2zM392 95h6v1h-6zM400 95h2v1h-2zM404 95h2v1h-2zM411 95h2v1h-2zM416 95h4v1h-4zM423 95h6v1h-6zM430 95h4v1h-4zM436 95h3v1h-3zM442 95h3v1h-3zM447 95h2v1h-2zM451 95h3v1h-3zM66 96h1v1h-1zM69 96h1v1h-1zM71 96h30v1h-30zM220 96h17v1h-17zM238 96h18v1h-18zM258 96h1v1h-1zM260 96h2v1h-2zM265 96h1v1h-1zM267 96h1v1h-1zM272 96h2v1h-2zM277 96h1v1h-1zM286 96h1v1h-1zM371 96h1v1h-1zM374 96h2v1h-2zM377 96h1v1h-1zM380 96h1v1h-1zM382 96h7v1h-7zM390 96h1v1h-1zM393 96h5v1h-5zM400 96h7v1h-7zM408 96h1v1h-1zM413 96h5v1h-5zM419 96h2v1h-2zM426 96h3v1h-3zM430 96h1v1h-1zM432 96h6v1h-6zM440 96h2v1h-2zM443 96h2v1h-2zM448 96h3v1h-3zM454 96h1v1h-1zM460 96h1v1h-1zM69 97h29v1h-29zM99 97h1v1h-1zM222 97h33v1h-33zM258 97h1v1h-1zM261 97h1v1h-1zM263 97h1v1h-1zM272 97h1v1h-1zM275 97h3v1h-3zM371 97h1v1h-1zM376 97h2v1h-2zM379 97h2v1h-2zM382 97h1v1h-1zM384 97h1v1h-1zM386 97h1v1h-1zM390 97h8v1h-8zM399 97h3v1h-3zM403 97h4v1h-4zM410 97h1v1h-1zM412 97h7v1h-7zM421 97h2v1h-2zM425 97h2v1h-2zM428 97h2v1h-2zM431 97h1v1h-1zM435 97h7v1h-7zM445 97h1v1h-1zM448 97h2v1h-2zM454 97h1v1h-1zM457 97h1v1h-1zM68 98h1v1h-1zM71 98h26v1h-26zM220 98h1v1h-1zM222 98h7v1h-7zM230 98h10v1h-10zM241 98h5v1h-5zM247 98h3v1h-3zM252 98h4v1h-4zM257 98h2v1h-2zM263 98h2v1h-2zM268 98h4v1h-4zM276 98h1v1h-1zM280 98h1v1h-1zM284 98h1v1h-1zM287 98h1v1h-1zM376 98h6v1h-6zM384 98h4v1h-4zM389 98h1v1h-1zM396 98h7v1h-7zM407 98h1v1h-1zM413 98h9v1h-9zM424 98h1v1h-1zM427 98h2v1h-2zM431 98h2v1h-2zM435 98h1v1h-1zM438 98h1v1h-1zM440 98h1v1h-1zM445 98h2v1h-2zM448 98h2v1h-2zM453 98h2v1h-2zM67 99h2v1h-2zM71 99h4v1h-4zM76 99h21v1h-21zM114 99h1v1h-1zM220 99h4v1h-4zM225 99h13v1h-13zM240 99h9v1h-9zM252 99h4v1h-4zM258 99h1v1h-1zM260 99h5v1h-5zM280 99h2v1h-2zM298 99h1v1h-1zM373 99h1v1h-1zM377 99h4v1h-4zM383 99h1v1h-1zM385 99h1v1h-1zM387 99h5v1h-5zM393 99h4v1h-4zM402 99h1v1h-1zM405 99h5v1h-5zM411 99h1v1h-1zM415 99h1v1h-1zM417 99h3v1h-3zM424 99h2v1h-2zM427 99h9v1h-9zM438 99h1v1h-1zM447 99h4v1h-4zM453 99h2v1h-2zM457 99h1v1h-1zM459 99h1v1h-1zM68 100h25v1h-25zM95 100h2v1h-2zM220 100h4v1h-4zM225 100h10v1h-10zM236 100h14v1h-14zM252 100h2v1h-2zM255 100h2v1h-2zM259 100h2v1h-2zM274 100h1v1h-1zM280 100h1v1h-1zM297 100h1v1h-1zM373 100h2v1h-2zM376 100h1v1h-1zM380 100h1v1h-1zM382 100h4v1h-4zM387 100h2v1h-2zM390 100h5v1h-5zM397 100h2v1h-2zM402 100h1v1h-1zM406 100h1v1h-1zM408 100h1v1h-1zM413 100h1v1h-1zM415 100h1v1h-1zM418 100h5v1h-5zM424 100h2v1h-2zM429 100h3v1h-3zM433 100h2v1h-2zM438 100h1v1h-1zM446 100h1v1h-1zM448 100h1v1h-1zM450 100h1v1h-1zM459 100h1v1h-1zM462 100h2v1h-2zM69 101h25v1h-25zM95 101h1v1h-1zM97 101h1v1h-1zM220 101h7v1h-7zM228 101h18v1h-18zM248 101h2v1h-2zM252 101h1v1h-1zM255 101h9v1h-9zM281 101h1v1h-1zM375 101h2v1h-2zM379 101h9v1h-9zM390 101h9v1h-9zM403 101h1v1h-1zM405 101h2v1h-2zM408 101h1v1h-1zM418 101h1v1h-1zM421 101h2v1h-2zM425 101h1v1h-1zM429 101h1v1h-1zM431 101h9v1h-9zM441 101h2v1h-2zM444 101h1v1h-1zM448 101h1v1h-1zM450 101h1v1h-1zM66 102h1v1h-1zM68 102h2v1h-2zM72 102h7v1h-7zM80 102h15v1h-15zM220 102h6v1h-6zM227 102h18v1h-18zM246 102h4v1h-4zM251 102h1v1h-1zM254 102h1v1h-1zM256 102h5v1h-5zM264 102h1v1h-1zM271 102h1v1h-1zM373 102h4v1h-4zM379 102h1v1h-1zM383 102h5v1h-5zM389 102h1v1h-1zM391 102h4v1h-4zM396 102h1v1h-1zM401 102h6v1h-6zM408 102h3v1h-3zM416 102h3v1h-3zM421 102h1v1h-1zM423 102h1v1h-1zM425 102h1v1h-1zM428 102h4v1h-4zM433 102h8v1h-8zM444 102h1v1h-1zM446 102h1v1h-1zM449 102h9v1h-9zM460 102h2v1h-2zM463 102h1v1h-1zM466 102h1v1h-1zM66 103h13v1h-13zM80 103h13v1h-13zM220 103h27v1h-27zM249 103h1v1h-1zM251 103h3v1h-3zM256 103h1v1h-1zM258 103h5v1h-5zM264 103h1v1h-1zM268 103h1v1h-1zM270 103h1v1h-1zM288 103h1v1h-1zM371 103h1v1h-1zM377 103h2v1h-2zM380 103h1v1h-1zM386 103h2v1h-2zM393 103h1v1h-1zM395 103h1v1h-1zM401 103h2v1h-2zM405 103h2v1h-2zM408 103h2v1h-2zM412 103h4v1h-4zM418 103h3v1h-3zM422 103h3v1h-3zM427 103h5v1h-5zM437 103h3v1h-3zM445 103h2v1h-2zM448 103h2v1h-2zM451 103h1v1h-1zM454 103h2v1h-2zM457 103h7v1h-7zM66 104h25v1h-25zM92 104h1v1h-1zM220 104h26v1h-26zM249 104h1v1h-1zM253 104h2v1h-2zM256 104h1v1h-1zM258 104h2v1h-2zM262 104h1v1h-1zM282 104h1v1h-1zM371 104h1v1h-1zM374 104h1v1h-1zM377 104h1v1h-1zM380 104h1v1h-1zM383 104h4v1h-4zM388 104h1v1h-1zM390 104h4v1h-4zM399 104h1v1h-1zM402 104h2v1h-2zM405 104h4v1h-4zM416 104h13v1h-13zM430 104h1v1h-1zM432 104h1v1h-1zM440 104h2v1h-2zM443 104h6v1h-6zM451 104h1v1h-1zM454 104h2v1h-2zM457 104h1v1h-1zM461 104h1v1h-1zM466 104h1v1h-1zM67 105h27v1h-27zM220 105h7v1h-7zM228 105h13v1h-13zM244 105h6v1h-6zM253 105h4v1h-4zM259 105h1v1h-1zM279 105h1v1h-1zM292 105h1v1h-1zM374 105h1v1h-1zM376 105h2v1h-2zM380 105h7v1h-7zM389 105h5v1h-5zM396 105h7v1h-7zM404 105h1v1h-1zM406 105h3v1h-3zM410 105h2v1h-2zM417 105h2v1h-2zM420 105h1v1h-1zM422 105h7v1h-7zM430 105h2v1h-2zM434 105h1v1h-1zM437 105h4v1h-4zM442 105h3v1h-3zM446 105h2v1h-2zM450 105h1v1h-1zM452 105h5v1h-5zM458 105h1v1h-1zM461 105h3v1h-3zM68 106h24v1h-24zM220 106h21v1h-21zM242 106h2v1h-2zM245 106h5v1h-5zM251 106h6v1h-6zM259 106h1v1h-1zM269 106h2v1h-2zM274 106h1v1h-1zM276 106h1v1h-1zM279 106h1v1h-1zM376 106h2v1h-2zM379 106h8v1h-8zM389 106h1v1h-1zM391 106h3v1h-3zM397 106h3v1h-3zM402 106h1v1h-1zM405 106h2v1h-2zM411 106h2v1h-2zM415 106h4v1h-4zM424 106h3v1h-3zM428 106h4v1h-4zM434 106h3v1h-3zM438 106h3v1h-3zM442 106h5v1h-5zM449 106h8v1h-8zM461 106h1v1h-1zM465 106h1v1h-1zM66 107h1v1h-1zM69 107h22v1h-22zM220 107h1v1h-1zM222 107h21v1h-21zM250 107h1v1h-1zM252 107h4v1h-4zM257 107h2v1h-2zM263 107h2v1h-2zM280 107h1v1h-1zM371 107h2v1h-2zM375 107h2v1h-2zM383 107h1v1h-1zM385 107h5v1h-5zM391 107h1v1h-1zM393 107h2v1h-2zM397 107h5v1h-5zM403 107h1v1h-1zM405 107h2v1h-2zM411 107h5v1h-5zM417 107h3v1h-3zM421 107h5v1h-5zM428 107h6v1h-6zM435 107h9v1h-9zM446 107h1v1h-1zM453 107h2v1h-2zM460 107h1v1h-1zM462 107h1v1h-1zM464 107h1v1h-1zM66 108h1v1h-1zM69 108h18v1h-18zM91 108h1v1h-1zM220 108h1v1h-1zM222 108h20v1h-20zM252 108h5v1h-5zM266 108h1v1h-1zM274 108h1v1h-1zM276 108h1v1h-1zM279 108h2v1h-2zM371 108h2v1h-2zM376 108h3v1h-3zM383 108h3v1h-3zM390 108h2v1h-2zM393 108h2v1h-2zM397 108h1v1h-1zM401 108h1v1h-1zM404 108h3v1h-3zM408 108h2v1h-2zM411 108h5v1h-5zM421 108h2v1h-2zM426 108h1v1h-1zM428 108h1v1h-1zM431 108h3v1h-3zM435 108h1v1h-1zM437 108h3v1h-3zM443 108h1v1h-1zM445 108h3v1h-3zM450 108h2v1h-2zM454 108h2v1h-2zM460 108h1v1h-1zM464 108h1v1h-1zM66 109h20v1h-20zM220 109h1v1h-1zM222 109h1v1h-1zM224 109h13v1h-13zM238 109h3v1h-3zM243 109h3v1h-3zM249 109h2v1h-2zM252 109h4v1h-4zM257 109h1v1h-1zM261 109h1v1h-1zM275 109h2v1h-2zM284 109h1v1h-1zM374 109h8v1h-8zM390 109h1v1h-1zM392 109h3v1h-3zM397 109h1v1h-1zM399 109h3v1h-3zM404 109h1v1h-1zM406 109h7v1h-7zM414 109h4v1h-4zM420 109h4v1h-4zM426 109h7v1h-7zM435 109h4v1h-4zM440 109h3v1h-3zM444 109h2v1h-2zM451 109h1v1h-1zM454 109h3v1h-3zM458 109h4v1h-4zM464 109h1v1h-1zM66 110h2v1h-2zM69 110h17v1h-17zM220 110h1v1h-1zM222 110h10v1h-10zM233 110h8v1h-8zM245 110h2v1h-2zM248 110h3v1h-3zM252 110h4v1h-4zM261 110h1v1h-1zM282 110h2v1h-2zM374 110h6v1h-6zM381 110h8v1h-8zM392 110h3v1h-3zM397 110h1v1h-1zM399 110h1v1h-1zM401 110h3v1h-3zM406 110h1v1h-1zM408 110h3v1h-3zM412 110h10v1h-10zM425 110h8v1h-8zM434 110h9v1h-9zM444 110h5v1h-5zM455 110h1v1h-1zM459 110h5v1h-5zM67 111h17v1h-17zM87 111h1v1h-1zM221 111h16v1h-16zM240 111h2v1h-2zM244 111h2v1h-2zM247 111h2v1h-2zM252 111h1v1h-1zM260 111h2v1h-2zM273 111h3v1h-3zM277 111h1v1h-1zM293 111h1v1h-1zM375 111h3v1h-3zM381 111h1v1h-1zM384 111h5v1h-5zM391 111h3v1h-3zM397 111h7v1h-7zM406 111h1v1h-1zM408 111h3v1h-3zM412 111h25v1h-25zM439 111h4v1h-4zM444 111h1v1h-1zM446 111h4v1h-4zM452 111h2v1h-2zM455 111h4v1h-4zM461 111h3v1h-3zM467 111h1v1h-1zM71 112h10v1h-10zM82 112h1v1h-1zM221 112h15v1h-15zM237 112h3v1h-3zM248 112h5v1h-5zM260 112h1v1h-1zM274 112h2v1h-2zM278 112h2v1h-2zM282 112h1v1h-1zM379 112h1v1h-1zM382 112h7v1h-7zM390 112h5v1h-5zM397 112h7v1h-7zM406 112h3v1h-3zM410 112h35v1h-35zM446 112h2v1h-2zM450 112h1v1h-1zM452 112h5v1h-5zM459 112h2v1h-2zM462 112h2v1h-2zM469 112h1v1h-1zM71 113h9v1h-9zM221 113h1v1h-1zM223 113h9v1h-9zM234 113h4v1h-4zM240 113h2v1h-2zM244 113h7v1h-7zM253 113h1v1h-1zM259 113h2v1h-2zM371 113h1v1h-1zM375 113h1v1h-1zM379 113h9v1h-9zM389 113h1v1h-1zM393 113h16v1h-16zM410 113h34v1h-34zM445 113h3v1h-3zM450 113h2v1h-2zM454 113h4v1h-4zM459 113h2v1h-2zM462 113h5v1h-5zM66 114h3v1h-3zM72 114h1v1h-1zM75 114h2v1h-2zM79 114h1v1h-1zM83 114h1v1h-1zM221 114h1v1h-1zM224 114h8v1h-8zM234 114h2v1h-2zM238 114h1v1h-1zM240 114h2v1h-2zM244 114h6v1h-6zM251 114h3v1h-3zM258 114h1v1h-1zM263 114h1v1h-1zM293 114h1v1h-1zM371 114h1v1h-1zM373 114h1v1h-1zM376 114h4v1h-4zM381 114h1v1h-1zM384 114h8v1h-8zM394 114h12v1h-12zM407 114h37v1h-37zM445 114h3v1h-3zM449 114h3v1h-3zM453 114h1v1h-1zM455 114h5v1h-5zM463 114h1v1h-1zM467 114h1v1h-1zM66 115h6v1h-6zM73 115h1v1h-1zM76 115h1v1h-1zM81 115h1v1h-1zM84 115h1v1h-1zM87 115h1v1h-1zM222 115h1v1h-1zM226 115h7v1h-7zM235 115h1v1h-1zM238 115h4v1h-4zM244 115h4v1h-4zM249 115h1v1h-1zM261 115h1v1h-1zM267 115h1v1h-1zM276 115h1v1h-1zM371 115h3v1h-3zM376 115h2v1h-2zM379 115h1v1h-1zM382 115h3v1h-3zM386 115h7v1h-7zM394 115h9v1h-9zM405 115h4v1h-4zM410 115h44v1h-44zM456 115h1v1h-1zM459 115h2v1h-2zM66 116h2v1h-2zM70 116h3v1h-3zM75 116h1v1h-1zM77 116h1v1h-1zM79 116h1v1h-1zM82 116h1v1h-1zM222 116h2v1h-2zM225 116h4v1h-4zM232 116h1v1h-1zM235 116h7v1h-7zM244 116h2v1h-2zM247 116h4v1h-4zM259 116h2v1h-2zM271 116h1v1h-1zM371 116h1v1h-1zM374 116h1v1h-1zM376 116h2v1h-2zM380 116h4v1h-4zM386 116h7v1h-7zM394 116h3v1h-3zM398 116h4v1h-4zM404 116h3v1h-3zM408 116h41v1h-41zM453 116h7v1h-7zM462 116h1v1h-1zM464 116h1v1h-1zM469 116h1v1h-1zM69 117h1v1h-1zM71 117h2v1h-2zM75 117h1v1h-1zM77 117h2v1h-2zM222 117h2v1h-2zM226 117h1v1h-1zM228 117h1v1h-1zM232 117h1v1h-1zM234 117h7v1h-7zM244 117h3v1h-3zM249 117h1v1h-1zM256 117h1v1h-1zM273 117h2v1h-2zM278 117h1v1h-1zM282 117h1v1h-1zM371 117h4v1h-4zM377 117h1v1h-1zM380 117h10v1h-10zM391 117h2v1h-2zM395 117h2v1h-2zM398 117h1v1h-1zM400 117h3v1h-3zM405 117h1v1h-1zM408 117h52v1h-52zM463 117h1v1h-1zM469 117h1v1h-1zM471 117h1v1h-1zM72 118h1v1h-1zM84 118h1v1h-1zM221 118h3v1h-3zM226 118h2v1h-2zM229 118h5v1h-5zM235 118h5v1h-5zM242 118h1v1h-1zM245 118h1v1h-1zM249 118h1v1h-1zM260 118h1v1h-1zM274 118h1v1h-1zM282 118h1v1h-1zM323 118h1v1h-1zM371 118h1v1h-1zM374 118h1v1h-1zM380 118h6v1h-6zM389 118h1v1h-1zM391 118h5v1h-5zM397 118h2v1h-2zM402 118h4v1h-4zM407 118h44v1h-44zM453 118h1v1h-1zM458 118h3v1h-3zM469 118h1v1h-1zM66 119h1v1h-1zM74 119h1v1h-1zM81 119h1v1h-1zM220 119h4v1h-4zM226 119h2v1h-2zM230 119h1v1h-1zM233 119h1v1h-1zM235 119h5v1h-5zM243 119h1v1h-1zM258 119h3v1h-3zM264 119h1v1h-1zM274 119h1v1h-1zM373 119h1v1h-1zM376 119h2v1h-2zM382 119h4v1h-4zM390 119h3v1h-3zM394 119h1v1h-1zM397 119h3v1h-3zM403 119h1v1h-1zM405 119h3v1h-3zM410 119h46v1h-46zM458 119h3v1h-3zM463 119h2v1h-2zM66 120h1v1h-1zM70 120h1v1h-1zM73 120h3v1h-3zM91 120h1v1h-1zM222 120h5v1h-5zM230 120h1v1h-1zM235 120h3v1h-3zM260 120h1v1h-1zM301 120h1v1h-1zM371 120h1v1h-1zM376 120h1v1h-1zM379 120h1v1h-1zM382 120h3v1h-3zM387 120h4v1h-4zM395 120h2v1h-2zM398 120h4v1h-4zM403 120h49v1h-49zM453 120h12v1h-12zM220 121h2v1h-2zM229 121h2v1h-2zM237 121h1v1h-1zM246 121h2v1h-2zM256 121h1v1h-1zM267 121h1v1h-1zM377 121h1v1h-1zM379 121h1v1h-1zM382 121h3v1h-3zM388 121h2v1h-2zM392 121h2v1h-2zM395 121h3v1h-3zM400 121h4v1h-4zM405 121h1v1h-1zM407 121h43v1h-43zM451 121h1v1h-1zM456 121h3v1h-3zM66 122h1v1h-1zM73 122h1v1h-1zM79 122h1v1h-1zM220 122h1v1h-1zM223 122h1v1h-1zM240 122h1v1h-1zM260 122h1v1h-1zM375 122h6v1h-6zM383 122h2v1h-2zM388 122h2v1h-2zM392 122h2v1h-2zM395 122h3v1h-3zM400 122h4v1h-4zM405 122h45v1h-45zM451 122h1v1h-1zM457 122h1v1h-1zM463 122h1v1h-1zM465 122h1v1h-1zM467 122h1v1h-1zM76 123h1v1h-1zM79 123h1v1h-1zM93 123h1v1h-1zM223 123h1v1h-1zM231 123h2v1h-2zM236 123h1v1h-1zM247 123h1v1h-1zM371 123h1v1h-1zM373 123h4v1h-4zM378 123h1v1h-1zM384 123h2v1h-2zM387 123h3v1h-3zM392 123h2v1h-2zM396 123h1v1h-1zM398 123h2v1h-2zM401 123h3v1h-3zM405 123h47v1h-47zM453 123h3v1h-3zM457 123h1v1h-1zM459 123h2v1h-2zM463 123h2v1h-2zM76 124h1v1h-1zM82 124h2v1h-2zM220 124h2v1h-2zM225 124h1v1h-1zM227 124h2v1h-2zM236 124h2v1h-2zM240 124h1v1h-1zM247 124h1v1h-1zM262 124h1v1h-1zM371 124h7v1h-7zM380 124h3v1h-3zM387 124h5v1h-5zM395 124h2v1h-2zM398 124h4v1h-4zM403 124h1v1h-1zM406 124h47v1h-47zM455 124h1v1h-1zM457 124h2v1h-2zM462 124h2v1h-2zM466 124h1v1h-1zM75 125h1v1h-1zM78 125h1v1h-1zM92 125h1v1h-1zM220 125h6v1h-6zM230 125h1v1h-1zM234 125h1v1h-1zM237 125h5v1h-5zM244 125h4v1h-4zM371 125h2v1h-2zM380 125h5v1h-5zM387 125h5v1h-5zM395 125h4v1h-4zM401 125h1v1h-1zM406 125h45v1h-45zM453 125h2v1h-2zM456 125h3v1h-3zM70 126h1v1h-1zM78 126h1v1h-1zM82 126h1v1h-1zM224 126h1v1h-1zM231 126h1v1h-1zM234 126h1v1h-1zM239 126h8v1h-8zM371 126h2v1h-2zM374 126h1v1h-1zM377 126h2v1h-2zM381 126h2v1h-2zM386 126h6v1h-6zM393 126h1v1h-1zM395 126h1v1h-1zM397 126h2v1h-2zM401 126h2v1h-2zM404 126h1v1h-1zM406 126h49v1h-49zM456 126h2v1h-2zM461 126h2v1h-2zM479 126h1v1h-1zM78 127h1v1h-1zM224 127h2v1h-2zM227 127h1v1h-1zM234 127h2v1h-2zM237 127h1v1h-1zM239 127h1v1h-1zM241 127h2v1h-2zM250 127h1v1h-1zM275 127h1v1h-1zM378 127h5v1h-5zM385 127h1v1h-1zM389 127h1v1h-1zM395 127h1v1h-1zM397 127h4v1h-4zM402 127h51v1h-51zM461 127h4v1h-4zM76 128h1v1h-1zM88 128h1v1h-1zM220 128h1v1h-1zM223 128h1v1h-1zM226 128h2v1h-2zM231 128h1v1h-1zM234 128h1v1h-1zM236 128h1v1h-1zM250 128h2v1h-2zM380 128h6v1h-6zM388 128h3v1h-3zM397 128h3v1h-3zM402 128h49v1h-49zM461 128h4v1h-4zM71 129h1v1h-1zM78 129h1v1h-1zM85 129h2v1h-2zM91 129h1v1h-1zM220 129h1v1h-1zM229 129h2v1h-2zM232 129h1v1h-1zM236 129h1v1h-1zM238 129h1v1h-1zM250 129h1v1h-1zM253 129h1v1h-1zM381 129h3v1h-3zM385 129h1v1h-1zM392 129h2v1h-2zM396 129h2v1h-2zM399 129h3v1h-3zM403 129h55v1h-55zM461 129h3v1h-3zM468 129h1v1h-1zM70 130h1v1h-1zM228 130h2v1h-2zM232 130h1v1h-1zM235 130h2v1h-2zM238 130h1v1h-1zM242 130h1v1h-1zM257 130h1v1h-1zM371 130h1v1h-1zM383 130h1v1h-1zM385 130h2v1h-2zM388 130h1v1h-1zM390 130h1v1h-1zM393 130h3v1h-3zM397 130h3v1h-3zM402 130h48v1h-48zM451 130h3v1h-3zM455 130h1v1h-1zM463 130h1v1h-1zM73 131h1v1h-1zM81 131h1v1h-1zM223 131h1v1h-1zM232 131h1v1h-1zM240 131h1v1h-1zM246 131h1v1h-1zM252 131h1v1h-1zM373 131h1v1h-1zM377 131h1v1h-1zM387 131h2v1h-2zM391 131h2v1h-2zM397 131h1v1h-1zM399 131h3v1h-3zM404 131h2v1h-2zM407 131h42v1h-42zM450 131h4v1h-4zM455 131h1v1h-1zM458 131h3v1h-3zM232 132h1v1h-1zM244 132h1v1h-1zM279 132h1v1h-1zM373 132h1v1h-1zM384 132h1v1h-1zM388 132h1v1h-1zM390 132h3v1h-3zM396 132h3v1h-3zM401 132h2v1h-2zM405 132h2v1h-2zM408 132h39v1h-39zM449 132h6v1h-6zM457 132h3v1h-3zM466 132h2v1h-2zM224 133h1v1h-1zM371 133h1v1h-1zM390 133h3v1h-3zM395 133h4v1h-4zM402 133h46v1h-46zM449 133h1v1h-1zM451 133h3v1h-3zM460 133h1v1h-1zM465 133h1v1h-1zM77 134h1v1h-1zM384 134h1v1h-1zM394 134h3v1h-3zM398 134h1v1h-1zM401 134h48v1h-48zM456 134h1v1h-1zM97 135h1v1h-1zM386 135h1v1h-1zM396 135h1v1h-1zM398 135h1v1h-1zM402 135h5v1h-5zM408 135h41v1h-41zM452 135h2v1h-2zM456 135h3v1h-3zM394 136h1v1h-1zM398 136h2v1h-2zM401 136h3v1h-3zM405 136h2v1h-2zM408 136h38v1h-38zM448 136h1v1h-1zM450 136h3v1h-3zM458 136h1v1h-1zM461 136h1v1h-1zM479 136h1v1h-1zM86 137h1v1h-1zM246 137h1v1h-1zM375 137h1v1h-1zM396 137h3v1h-3zM401 137h1v1h-1zM405 137h4v1h-4zM410 137h34v1h-34zM445 137h1v1h-1zM448 137h1v1h-1zM453 137h2v1h-2zM459 137h1v1h-1zM466 137h1v1h-1zM71 138h1v1h-1zM394 138h1v1h-1zM396 138h2v1h-2zM400 138h1v1h-1zM403 138h1v1h-1zM406 138h1v1h-1zM409 138h36v1h-36zM447 138h3v1h-3zM452 138h1v1h-1zM467 138h1v1h-1zM386 139h1v1h-1zM396 139h1v1h-1zM399 139h1v1h-1zM407 139h3v1h-3zM411 139h36v1h-36zM462 139h1v1h-1zM470 139h1v1h-1zM276 140h1v1h-1zM388 140h1v1h-1zM390 140h1v1h-1zM392 140h2v1h-2zM395 140h2v1h-2zM406 140h42v1h-42zM449 140h1v1h-1zM221 141h1v1h-1zM385 141h1v1h-1zM389 141h1v1h-1zM394 141h1v1h-1zM399 141h1v1h-1zM402 141h4v1h-4zM407 141h32v1h-32zM440 141h4v1h-4zM456 141h1v1h-1zM465 141h1v1h-1zM225 142h1v1h-1zM389 142h1v1h-1zM394 142h1v1h-1zM400 142h4v1h-4zM406 142h34v1h-34zM442 142h2v1h-2zM446 142h1v1h-1zM458 142h1v1h-1zM373 143h1v1h-1zM379 143h1v1h-1zM390 143h1v1h-1zM400 143h3v1h-3zM406 143h2v1h-2zM410 143h9v1h-9zM420 143h19v1h-19zM442 143h1v1h-1zM455 143h1v1h-1zM396 144h3v1h-3zM400 144h2v1h-2zM408 144h5v1h-5zM414 144h5v1h-5zM420 144h7v1h-7zM428 144h13v1h-13zM442 144h2v1h-2zM455 144h1v1h-1zM90 145h1v1h-1zM390 145h1v1h-1zM392 145h1v1h-1zM398 145h1v1h-1zM403 145h1v1h-1zM406 145h1v1h-1zM409 145h5v1h-5zM416 145h11v1h-11zM428 145h10v1h-10zM440 145h1v1h-1zM442 145h2v1h-2zM455 145h1v1h-1zM381 146h1v1h-1zM386 146h1v1h-1zM390 146h1v1h-1zM396 146h1v1h-1zM408 146h17v1h-17zM427 146h6v1h-6zM434 146h2v1h-2zM437 146h1v1h-1zM441 146h1v1h-1zM444 146h1v1h-1zM386 147h1v1h-1zM398 147h1v1h-1zM401 147h1v1h-1zM407 147h2v1h-2zM414 147h15v1h-15zM430 147h8v1h-8zM449 147h1v1h-1zM85 148h1v1h-1zM388 148h1v1h-1zM403 148h1v1h-1zM407 148h2v1h-2zM412 148h2v1h-2zM415 148h1v1h-1zM418 148h11v1h-11zM430 148h1v1h-1zM434 148h2v1h-2zM437 148h1v1h-1zM439 148h1v1h-1zM399 149h1v1h-1zM403 149h1v1h-1zM407 149h2v1h-2zM410 149h2v1h-2zM415 149h1v1h-1zM418 149h5v1h-5zM424 149h1v1h-1zM426 149h5v1h-5zM433 149h2v1h-2zM447 149h1v1h-1zM455 149h1v1h-1zM457 149h1v1h-1zM460 149h1v1h-1zM382 150h1v1h-1zM390 150h2v1h-2zM395 150h1v1h-1zM400 150h4v1h-4zM405 150h1v1h-1zM410 150h2v1h-2zM414 150h1v1h-1zM420 150h3v1h-3zM424 150h7v1h-7zM432 150h1v1h-1zM436 150h1v1h-1zM443 150h1v1h-1zM398 151h2v1h-2zM406 151h1v1h-1zM411 151h1v1h-1zM414 151h1v1h-1zM417 151h4v1h-4zM424 151h7v1h-7zM442 151h1v1h-1zM288 152h1v1h-1zM386 152h1v1h-1zM404 152h4v1h-4zM411 152h1v1h-1zM415 152h2v1h-2zM418 152h2v1h-2zM422 152h1v1h-1zM424 152h4v1h-4zM429 152h1v1h-1zM433 152h1v1h-1zM442 152h1v1h-1zM446 152h1v1h-1zM451 152h2v1h-2zM459 152h1v1h-1zM468 152h1v1h-1zM386 153h1v1h-1zM390 153h1v1h-1zM405 153h2v1h-2zM411 153h1v1h-1zM415 153h2v1h-2zM419 153h1v1h-1zM425 153h1v1h-1zM429 153h4v1h-4zM440 153h2v1h-2zM449 153h1v1h-1zM454 153h1v1h-1zM77 154h1v1h-1zM380 154h1v1h-1zM386 154h2v1h-2zM402 154h1v1h-1zM406 154h1v1h-1zM409 154h1v1h-1zM411 154h1v1h-1zM415 154h2v1h-2zM419 154h2v1h-2zM425 154h2v1h-2zM432 154h2v1h-2zM438 154h2v1h-2zM468 154h1v1h-1zM379 155h1v1h-1zM387 155h1v1h-1zM389 155h1v1h-1zM395 155h1v1h-1zM402 155h2v1h-2zM409 155h3v1h-3zM413 155h1v1h-1zM415 155h2v1h-2zM421 155h3v1h-3zM425 155h1v1h-1zM432 155h1v1h-1zM454 155h1v1h-1zM374 156h1v1h-1zM403 156h1v1h-1zM409 156h1v1h-1zM411 156h6v1h-6zM420 156h5v1h-5zM432 156h1v1h-1zM444 156h2v1h-2zM449 156h1v1h-1zM275 157h1v1h-1zM371 157h1v1h-1zM382 157h1v1h-1zM399 157h1v1h-1zM404 157h1v1h-1zM409 157h6v1h-6zM417 157h7v1h-7zM427 157h2v1h-2zM433 157h1v1h-1zM441 157h1v1h-1zM449 157h1v1h-1zM461 157h1v1h-1zM391 158h1v1h-1zM417 158h4v1h-4zM423 158h1v1h-1zM427 158h1v1h-1zM443 158h1v1h-1zM385 159h1v1h-1zM387 159h1v1h-1zM406 159h1v1h-1zM409 159h1v1h-1zM416 159h1v1h-1zM418 159h3v1h-3zM425 159h2v1h-2zM432 159h1v1h-1zM438 159h1v1h-1zM453 159h2v1h-2zM460 159h1v1h-1zM462 159h1v1h-1zM373 160h1v1h-1zM402 160h1v1h-1zM416 160h2v1h-2zM419 160h2v1h-2zM425 160h2v1h-2zM428 160h1v1h-1zM436 160h1v1h-1zM380 161h1v1h-1zM390 161h1v1h-1zM410 161h1v1h-1zM417 161h1v1h-1zM421 161h1v1h-1zM429 161h2v1h-2zM444 161h1v1h-1zM375 162h1v1h-1zM389 162h1v1h-1zM399 162h2v1h-2zM410 162h1v1h-1zM421 162h1v1h-1zM427 162h1v1h-1zM435 162h1v1h-1zM483 162h1v1h-1zM275 163h1v1h-1zM393 163h1v1h-1zM410 163h2v1h-2zM422 163h1v1h-1zM428 163h1v1h-1zM436 163h1v1h-1zM443 163h2v1h-2zM398 164h1v1h-1zM400 164h1v1h-1zM409 164h1v1h-1zM418 164h1v1h-1zM448 164h1v1h-1zM455 164h1v1h-1zM94 165h1v1h-1zM395 165h1v1h-1zM400 165h1v1h-1zM404 165h1v1h-1zM437 165h1v1h-1zM95 166h1v1h-1zM401 166h1v1h-1zM406 166h2v1h-2zM410 166h1v1h-1zM414 166h1v1h-1zM416 166h1v1h-1zM419 166h1v1h-1zM426 166h1v1h-1zM68 167h1v1h-1zM271 167h1v1h-1zM404 167h1v1h-1zM415 167h1v1h-1zM426 167h1v1h-1zM429 167h1v1h-1zM444 167h1v1h-1zM224 168h1v1h-1zM418 168h2v1h-2zM394 169h1v1h-1zM396 169h1v1h-1zM424 169h1v1h-1zM448 169h1v1h-1zM225 170h1v1h-1zM414 170h1v1h-1zM419 170h1v1h-1zM434 170h1v1h-1zM441 170h1v1h-1zM396 172h1v1h-1zM379 173h1v1h-1zM403 173h1v1h-1zM412 173h2v1h-2zM415 173h1v1h-1zM399 174h1v1h-1zM429 177h1v1h-1zM245 178h1v1h-1zM438 178h1v1h-1zM440 178h1v1h-1zM400 180h1v1h-1zM430 181h1v1h-1zM412 184h1v1h-1zM437 184h1v1h-1zM125 299h1v1h-1zM149 309h1v1h-1zM137 310h1v1h-1zM143 310h1v1h-1zM146 310h1v1h-1zM153 310h1v1h-1zM129 311h1v1h-1zM134 311h2v1h-2zM140 311h2v1h-2zM143 311h6v1h-6zM150 311h6v1h-6zM131 312h2v1h-2zM138 312h3v1h-3zM143 312h9v1h-9zM154 312h3v1h-3zM124 313h1v1h-1zM131 313h7v1h-7zM139 313h13v1h-13zM153 313h2v1h-2zM121 314h3v1h-3zM126 314h2v1h-2zM130 314h4v1h-4zM135 314h20v1h-20zM156 314h1v1h-1zM119 315h2v1h-2zM123 315h5v1h-5zM130 315h1v1h-1zM132 315h5v1h-5zM138 315h20v1h-20zM116 316h5v1h-5zM122 316h34v1h-34zM109 317h1v1h-1zM111 317h1v1h-1zM117 317h4v1h-4zM122 317h12v1h-12zM135 317h22v1h-22zM93 318h1v1h-1zM110 318h3v1h-3zM114 318h7v1h-7zM122 318h33v1h-33zM158 318h1v1h-1zM76 319h1v1h-1zM88 319h1v1h-1zM102 319h1v1h-1zM105 319h1v1h-1zM107 319h6v1h-6zM114 319h1v1h-1zM116 319h39v1h-39zM104 320h50v1h-50zM77 321h1v1h-1zM81 321h1v1h-1zM84 321h1v1h-1zM91 321h1v1h-1zM98 321h1v1h-1zM100 321h1v1h-1zM104 321h52v1h-52zM78 322h1v1h-1zM80 322h3v1h-3zM84 322h1v1h-1zM97 322h3v1h-3zM101 322h9v1h-9zM111 322h42v1h-42zM155 322h1v1h-1zM78 323h2v1h-2zM81 323h1v1h-1zM85 323h2v1h-2zM89 323h1v1h-1zM93 323h1v1h-1zM97 323h1v1h-1zM99 323h1v1h-1zM101 323h2v1h-2zM104 323h51v1h-51zM157 323h1v1h-1zM79 324h1v1h-1zM83 324h1v1h-1zM85 324h1v1h-1zM88 324h2v1h-2zM92 324h1v1h-1zM94 324h1v1h-1zM97 324h2v1h-2zM101 324h51v1h-51zM153 324h1v1h-1zM157 324h1v1h-1zM79 325h1v1h-1zM86 325h1v1h-1zM88 325h1v1h-1zM92 325h1v1h-1zM94 325h59v1h-59zM157 325h1v1h-1zM286 325h1v1h-1zM71 326h1v1h-1zM76 326h1v1h-1zM78 326h1v1h-1zM80 326h1v1h-1zM87 326h2v1h-2zM90 326h1v1h-1zM95 326h59v1h-59zM155 326h1v1h-1zM67 327h1v1h-1zM71 327h1v1h-1zM75 327h2v1h-2zM78 327h2v1h-2zM82 327h1v1h-1zM84 327h4v1h-4zM92 327h1v1h-1zM95 327h57v1h-57zM154 327h1v1h-1zM73 328h3v1h-3zM77 328h4v1h-4zM82 328h4v1h-4zM91 328h61v1h-61zM446 328h1v1h-1zM71 329h1v1h-1zM74 329h2v1h-2zM80 329h2v1h-2zM84 329h3v1h-3zM90 329h2v1h-2zM93 329h60v1h-60zM428 329h1v1h-1zM66 330h1v1h-1zM71 330h1v1h-1zM73 330h2v1h-2zM80 330h4v1h-4zM87 330h4v1h-4zM93 330h61v1h-61zM67 331h3v1h-3zM72 331h5v1h-5zM79 331h6v1h-6zM87 331h1v1h-1zM90 331h1v1h-1zM92 331h47v1h-47zM140 331h8v1h-8zM67 332h2v1h-2zM70 332h8v1h-8zM79 332h1v1h-1zM81 332h1v1h-1zM83 332h3v1h-3zM89 332h59v1h-59zM65 333h6v1h-6zM73 333h1v1h-1zM76 333h3v1h-3zM81 333h5v1h-5zM89 333h1v1h-1zM91 333h58v1h-58zM67 334h3v1h-3zM71 334h3v1h-3zM77 334h4v1h-4zM83 334h3v1h-3zM88 334h2v1h-2zM92 334h57v1h-57zM150 334h1v1h-1zM293 334h1v1h-1zM298 334h1v1h-1zM483 334h1v1h-1zM64 335h6v1h-6zM71 335h5v1h-5zM78 335h2v1h-2zM83 335h1v1h-1zM86 335h1v1h-1zM92 335h14v1h-14zM107 335h40v1h-40zM148 335h2v1h-2zM242 335h1v1h-1zM245 335h1v1h-1zM285 335h1v1h-1zM292 335h1v1h-1zM387 335h1v1h-1zM448 335h1v1h-1zM64 336h3v1h-3zM68 336h6v1h-6zM76 336h4v1h-4zM81 336h6v1h-6zM88 336h1v1h-1zM92 336h52v1h-52zM146 336h1v1h-1zM245 336h1v1h-1zM280 336h1v1h-1zM288 336h5v1h-5zM295 336h2v1h-2zM299 336h2v1h-2zM302 336h1v1h-1zM434 336h1v1h-1zM456 336h1v1h-1zM462 336h1v1h-1zM64 337h3v1h-3zM68 337h6v1h-6zM75 337h2v1h-2zM79 337h4v1h-4zM84 337h6v1h-6zM91 337h1v1h-1zM93 337h11v1h-11zM105 337h39v1h-39zM146 337h2v1h-2zM241 337h1v1h-1zM278 337h1v1h-1zM290 337h1v1h-1zM295 337h1v1h-1zM456 337h1v1h-1zM463 337h1v1h-1zM465 337h1v1h-1zM65 338h6v1h-6zM75 338h1v1h-1zM79 338h3v1h-3zM85 338h1v1h-1zM88 338h1v1h-1zM90 338h1v1h-1zM93 338h13v1h-13zM107 338h31v1h-31zM139 338h6v1h-6zM238 338h2v1h-2zM288 338h3v1h-3zM292 338h1v1h-1zM298 338h1v1h-1zM300 338h3v1h-3zM306 338h1v1h-1zM310 338h1v1h-1zM461 338h2v1h-2zM465 338h1v1h-1zM64 339h8v1h-8zM75 339h4v1h-4zM80 339h2v1h-2zM83 339h1v1h-1zM88 339h1v1h-1zM92 339h51v1h-51zM145 339h2v1h-2zM256 339h1v1h-1zM287 339h1v1h-1zM290 339h3v1h-3zM298 339h1v1h-1zM301 339h2v1h-2zM306 339h2v1h-2zM376 339h1v1h-1zM413 339h1v1h-1zM452 339h1v1h-1zM458 339h2v1h-2zM463 339h1v1h-1zM467 339h1v1h-1zM64 340h6v1h-6zM71 340h1v1h-1zM74 340h3v1h-3zM79 340h4v1h-4zM84 340h1v1h-1zM88 340h1v1h-1zM90 340h1v1h-1zM93 340h49v1h-49zM145 340h1v1h-1zM218 340h1v1h-1zM255 340h1v1h-1zM277 340h1v1h-1zM279 340h2v1h-2zM284 340h1v1h-1zM286 340h2v1h-2zM290 340h2v1h-2zM296 340h1v1h-1zM299 340h3v1h-3zM304 340h1v1h-1zM307 340h1v1h-1zM377 340h1v1h-1zM433 340h1v1h-1zM457 340h1v1h-1zM459 340h1v1h-1zM461 340h1v1h-1zM64 341h8v1h-8zM76 341h2v1h-2zM81 341h1v1h-1zM83 341h1v1h-1zM86 341h1v1h-1zM89 341h2v1h-2zM92 341h1v1h-1zM94 341h49v1h-49zM240 341h2v1h-2zM275 341h3v1h-3zM279 341h2v1h-2zM283 341h2v1h-2zM286 341h3v1h-3zM291 341h1v1h-1zM296 341h1v1h-1zM299 341h3v1h-3zM303 341h1v1h-1zM307 341h1v1h-1zM405 341h1v1h-1zM456 341h6v1h-6zM465 341h1v1h-1zM64 342h11v1h-11zM76 342h2v1h-2zM80 342h2v1h-2zM87 342h1v1h-1zM95 342h46v1h-46zM159 342h1v1h-1zM241 342h1v1h-1zM268 342h1v1h-1zM271 342h2v1h-2zM279 342h3v1h-3zM284 342h1v1h-1zM287 342h1v1h-1zM289 342h3v1h-3zM293 342h1v1h-1zM296 342h1v1h-1zM299 342h1v1h-1zM302 342h1v1h-1zM305 342h3v1h-3zM371 342h1v1h-1zM377 342h1v1h-1zM385 342h2v1h-2zM420 342h1v1h-1zM445 342h1v1h-1zM451 342h3v1h-3zM455 342h1v1h-1zM459 342h3v1h-3zM464 342h2v1h-2zM64 343h15v1h-15zM80 343h1v1h-1zM82 343h1v1h-1zM85 343h1v1h-1zM87 343h1v1h-1zM90 343h2v1h-2zM94 343h43v1h-43zM138 343h1v1h-1zM141 343h1v1h-1zM224 343h1v1h-1zM232 343h1v1h-1zM234 343h1v1h-1zM264 343h1v1h-1zM270 343h1v1h-1zM273 343h1v1h-1zM283 343h1v1h-1zM289 343h3v1h-3zM296 343h2v1h-2zM299 343h1v1h-1zM302 343h4v1h-4zM309 343h1v1h-1zM314 343h1v1h-1zM373 343h1v1h-1zM375 343h1v1h-1zM378 343h1v1h-1zM454 343h1v1h-1zM456 343h4v1h-4zM462 343h3v1h-3zM64 344h10v1h-10zM75 344h7v1h-7zM83 344h1v1h-1zM86 344h1v1h-1zM88 344h1v1h-1zM93 344h44v1h-44zM138 344h1v1h-1zM231 344h1v1h-1zM236 344h2v1h-2zM275 344h1v1h-1zM277 344h3v1h-3zM283 344h1v1h-1zM289 344h1v1h-1zM291 344h3v1h-3zM303 344h3v1h-3zM373 344h1v1h-1zM386 344h1v1h-1zM418 344h1v1h-1zM437 344h1v1h-1zM444 344h1v1h-1zM454 344h1v1h-1zM460 344h1v1h-1zM463 344h2v1h-2zM466 344h1v1h-1zM64 345h6v1h-6zM71 345h7v1h-7zM79 345h2v1h-2zM82 345h5v1h-5zM96 345h6v1h-6zM103 345h30v1h-30zM135 345h1v1h-1zM232 345h1v1h-1zM236 345h2v1h-2zM263 345h1v1h-1zM268 345h2v1h-2zM272 345h1v1h-1zM276 345h2v1h-2zM281 345h2v1h-2zM287 345h1v1h-1zM289 345h1v1h-1zM291 345h2v1h-2zM295 345h1v1h-1zM301 345h3v1h-3zM305 345h1v1h-1zM307 345h1v1h-1zM309 345h1v1h-1zM380 345h1v1h-1zM383 345h1v1h-1zM385 345h2v1h-2zM396 345h1v1h-1zM429 345h1v1h-1zM437 345h1v1h-1zM440 345h1v1h-1zM445 345h4v1h-4zM451 345h4v1h-4zM456 345h9v1h-9zM64 346h12v1h-12zM78 346h3v1h-3zM83 346h1v1h-1zM85 346h5v1h-5zM96 346h33v1h-33zM130 346h2v1h-2zM134 346h1v1h-1zM222 346h1v1h-1zM230 346h1v1h-1zM236 346h1v1h-1zM268 346h2v1h-2zM275 346h4v1h-4zM281 346h4v1h-4zM286 346h1v1h-1zM290 346h7v1h-7zM301 346h5v1h-5zM307 346h3v1h-3zM311 346h1v1h-1zM371 346h1v1h-1zM375 346h1v1h-1zM383 346h1v1h-1zM385 346h1v1h-1zM394 346h1v1h-1zM418 346h1v1h-1zM420 346h1v1h-1zM429 346h1v1h-1zM433 346h1v1h-1zM440 346h1v1h-1zM443 346h3v1h-3zM448 346h1v1h-1zM452 346h8v1h-8zM462 346h4v1h-4zM64 347h6v1h-6zM71 347h6v1h-6zM78 347h1v1h-1zM85 347h3v1h-3zM90 347h1v1h-1zM94 347h36v1h-36zM228 347h1v1h-1zM230 347h1v1h-1zM232 347h1v1h-1zM264 347h5v1h-5zM270 347h2v1h-2zM273 347h4v1h-4zM278 347h1v1h-1zM282 347h8v1h-8zM291 347h1v1h-1zM294 347h1v1h-1zM297 347h4v1h-4zM302 347h7v1h-7zM372 347h1v1h-1zM389 347h1v1h-1zM409 347h1v1h-1zM433 347h3v1h-3zM437 347h1v1h-1zM440 347h3v1h-3zM444 347h3v1h-3zM448 347h1v1h-1zM450 347h3v1h-3zM454 347h3v1h-3zM462 347h2v1h-2zM64 348h11v1h-11zM77 348h1v1h-1zM81 348h1v1h-1zM85 348h2v1h-2zM89 348h1v1h-1zM95 348h6v1h-6zM102 348h26v1h-26zM224 348h1v1h-1zM228 348h1v1h-1zM230 348h1v1h-1zM263 348h5v1h-5zM269 348h1v1h-1zM274 348h3v1h-3zM278 348h1v1h-1zM280 348h1v1h-1zM282 348h2v1h-2zM289 348h1v1h-1zM297 348h5v1h-5zM303 348h1v1h-1zM305 348h2v1h-2zM308 348h1v1h-1zM310 348h1v1h-1zM372 348h3v1h-3zM399 348h1v1h-1zM418 348h1v1h-1zM421 348h1v1h-1zM425 348h8v1h-8zM435 348h1v1h-1zM437 348h12v1h-12zM453 348h1v1h-1zM456 348h2v1h-2zM462 348h2v1h-2zM467 348h1v1h-1zM64 349h5v1h-5zM71 349h4v1h-4zM81 349h1v1h-1zM83 349h4v1h-4zM88 349h1v1h-1zM94 349h1v1h-1zM98 349h2v1h-2zM101 349h25v1h-25zM265 349h3v1h-3zM272 349h5v1h-5zM279 349h5v1h-5zM285 349h3v1h-3zM289 349h2v1h-2zM292 349h1v1h-1zM296 349h2v1h-2zM300 349h1v1h-1zM303 349h4v1h-4zM308 349h1v1h-1zM311 349h2v1h-2zM378 349h1v1h-1zM382 349h3v1h-3zM395 349h1v1h-1zM407 349h1v1h-1zM421 349h2v1h-2zM427 349h27v1h-27zM457 349h2v1h-2zM65 350h5v1h-5zM71 350h2v1h-2zM74 350h1v1h-1zM79 350h3v1h-3zM83 350h2v1h-2zM86 350h2v1h-2zM91 350h3v1h-3zM95 350h2v1h-2zM101 350h18v1h-18zM122 350h3v1h-3zM266 350h1v1h-1zM268 350h1v1h-1zM271 350h1v1h-1zM273 350h4v1h-4zM281 350h7v1h-7zM292 350h1v1h-1zM295 350h2v1h-2zM302 350h1v1h-1zM304 350h3v1h-3zM372 350h1v1h-1zM378 350h1v1h-1zM417 350h2v1h-2zM421 350h1v1h-1zM425 350h25v1h-25zM452 350h2v1h-2zM455 350h1v1h-1zM460 350h1v1h-1zM65 351h1v1h-1zM68 351h5v1h-5zM74 351h1v1h-1zM79 351h1v1h-1zM81 351h2v1h-2zM85 351h2v1h-2zM88 351h1v1h-1zM90 351h2v1h-2zM94 351h2v1h-2zM97 351h1v1h-1zM99 351h6v1h-6zM109 351h6v1h-6zM116 351h7v1h-7zM125 351h1v1h-1zM130 351h1v1h-1zM134 351h1v1h-1zM222 351h1v1h-1zM225 351h2v1h-2zM262 351h2v1h-2zM274 351h5v1h-5zM281 351h9v1h-9zM293 351h3v1h-3zM300 351h7v1h-7zM308 351h1v1h-1zM372 351h3v1h-3zM422 351h2v1h-2zM425 351h25v1h-25zM451 351h5v1h-5zM458 351h5v1h-5zM68 352h3v1h-3zM73 352h3v1h-3zM80 352h1v1h-1zM85 352h1v1h-1zM87 352h4v1h-4zM92 352h1v1h-1zM94 352h1v1h-1zM97 352h3v1h-3zM101 352h7v1h-7zM109 352h4v1h-4zM114 352h3v1h-3zM118 352h6v1h-6zM125 352h2v1h-2zM222 352h2v1h-2zM228 352h1v1h-1zM262 352h1v1h-1zM265 352h1v1h-1zM269 352h1v1h-1zM272 352h12v1h-12zM285 352h6v1h-6zM292 352h4v1h-4zM297 352h1v1h-1zM300 352h2v1h-2zM303 352h2v1h-2zM306 352h4v1h-4zM371 352h2v1h-2zM401 352h1v1h-1zM416 352h3v1h-3zM420 352h36v1h-36zM460 352h2v1h-2zM64 353h1v1h-1zM66 353h5v1h-5zM74 353h1v1h-1zM78 353h1v1h-1zM85 353h1v1h-1zM96 353h1v1h-1zM98 353h6v1h-6zM109 353h4v1h-4zM115 353h1v1h-1zM117 353h3v1h-3zM121 353h1v1h-1zM123 353h3v1h-3zM222 353h1v1h-1zM264 353h1v1h-1zM267 353h2v1h-2zM270 353h24v1h-24zM295 353h2v1h-2zM298 353h4v1h-4zM303 353h6v1h-6zM310 353h2v1h-2zM313 353h1v1h-1zM372 353h1v1h-1zM374 353h1v1h-1zM400 353h1v1h-1zM416 353h1v1h-1zM421 353h33v1h-33zM455 353h1v1h-1zM64 354h1v1h-1zM71 354h1v1h-1zM74 354h3v1h-3zM78 354h1v1h-1zM80 354h2v1h-2zM92 354h1v1h-1zM96 354h4v1h-4zM103 354h1v1h-1zM106 354h1v1h-1zM109 354h3v1h-3zM115 354h5v1h-5zM123 354h3v1h-3zM127 354h2v1h-2zM138 354h1v1h-1zM218 354h1v1h-1zM221 354h2v1h-2zM263 354h1v1h-1zM265 354h3v1h-3zM270 354h27v1h-27zM298 354h2v1h-2zM301 354h5v1h-5zM307 354h3v1h-3zM384 354h1v1h-1zM389 354h1v1h-1zM411 354h2v1h-2zM416 354h2v1h-2zM419 354h35v1h-35zM455 354h2v1h-2zM459 354h1v1h-1zM464 354h1v1h-1zM473 354h1v1h-1zM64 355h2v1h-2zM79 355h1v1h-1zM87 355h2v1h-2zM90 355h1v1h-1zM94 355h2v1h-2zM97 355h3v1h-3zM103 355h3v1h-3zM109 355h4v1h-4zM114 355h2v1h-2zM117 355h1v1h-1zM120 355h2v1h-2zM124 355h3v1h-3zM129 355h1v1h-1zM132 355h1v1h-1zM219 355h1v1h-1zM222 355h1v1h-1zM260 355h1v1h-1zM262 355h3v1h-3zM266 355h34v1h-34zM301 355h3v1h-3zM305 355h2v1h-2zM311 355h1v1h-1zM412 355h2v1h-2zM415 355h39v1h-39zM455 355h2v1h-2zM460 355h1v1h-1zM471 355h1v1h-1zM69 356h1v1h-1zM87 356h1v1h-1zM90 356h1v1h-1zM95 356h1v1h-1zM98 356h2v1h-2zM103 356h2v1h-2zM111 356h2v1h-2zM114 356h2v1h-2zM123 356h1v1h-1zM125 356h2v1h-2zM131 356h2v1h-2zM134 356h1v1h-1zM143 356h1v1h-1zM252 356h1v1h-1zM257 356h1v1h-1zM259 356h1v1h-1zM262 356h38v1h-38zM301 356h1v1h-1zM303 356h1v1h-1zM305 356h2v1h-2zM308 356h1v1h-1zM409 356h1v1h-1zM412 356h13v1h-13zM427 356h8v1h-8zM436 356h20v1h-20zM457 356h4v1h-4zM80 357h1v1h-1zM95 357h2v1h-2zM99 357h3v1h-3zM103 357h3v1h-3zM108 357h4v1h-4zM113 357h4v1h-4zM119 357h1v1h-1zM122 357h8v1h-8zM133 357h1v1h-1zM137 357h2v1h-2zM257 357h1v1h-1zM259 357h42v1h-42zM302 357h1v1h-1zM304 357h1v1h-1zM307 357h1v1h-1zM312 357h1v1h-1zM415 357h10v1h-10zM427 357h32v1h-32zM65 358h1v1h-1zM69 358h1v1h-1zM71 358h1v1h-1zM96 358h1v1h-1zM99 358h3v1h-3zM106 358h1v1h-1zM108 358h2v1h-2zM117 358h2v1h-2zM122 358h8v1h-8zM131 358h2v1h-2zM135 358h1v1h-1zM140 358h1v1h-1zM251 358h1v1h-1zM257 358h5v1h-5zM263 358h2v1h-2zM266 358h36v1h-36zM304 358h1v1h-1zM396 358h1v1h-1zM408 358h1v1h-1zM412 358h43v1h-43zM94 359h2v1h-2zM98 359h1v1h-1zM101 359h1v1h-1zM107 359h2v1h-2zM111 359h1v1h-1zM113 359h2v1h-2zM117 359h2v1h-2zM120 359h1v1h-1zM122 359h2v1h-2zM125 359h4v1h-4zM245 359h1v1h-1zM258 359h46v1h-46zM305 359h2v1h-2zM409 359h48v1h-48zM89 360h1v1h-1zM91 360h1v1h-1zM93 360h1v1h-1zM96 360h1v1h-1zM100 360h3v1h-3zM104 360h1v1h-1zM109 360h1v1h-1zM115 360h1v1h-1zM117 360h1v1h-1zM122 360h1v1h-1zM124 360h2v1h-2zM128 360h1v1h-1zM141 360h1v1h-1zM258 360h1v1h-1zM260 360h40v1h-40zM301 360h1v1h-1zM304 360h2v1h-2zM410 360h46v1h-46zM478 360h1v1h-1zM90 361h1v1h-1zM96 361h1v1h-1zM100 361h3v1h-3zM105 361h1v1h-1zM107 361h6v1h-6zM116 361h4v1h-4zM122 361h1v1h-1zM125 361h1v1h-1zM128 361h3v1h-3zM137 361h2v1h-2zM144 361h1v1h-1zM256 361h44v1h-44zM301 361h1v1h-1zM305 361h1v1h-1zM400 361h1v1h-1zM409 361h47v1h-47zM90 362h2v1h-2zM95 362h1v1h-1zM100 362h3v1h-3zM108 362h2v1h-2zM116 362h4v1h-4zM123 362h6v1h-6zM130 362h1v1h-1zM132 362h3v1h-3zM257 362h42v1h-42zM303 362h1v1h-1zM305 362h1v1h-1zM408 362h1v1h-1zM410 362h47v1h-47zM90 363h1v1h-1zM93 363h1v1h-1zM95 363h1v1h-1zM105 363h1v1h-1zM108 363h2v1h-2zM121 363h1v1h-1zM124 363h1v1h-1zM129 363h2v1h-2zM136 363h1v1h-1zM257 363h46v1h-46zM305 363h1v1h-1zM310 363h1v1h-1zM400 363h1v1h-1zM407 363h12v1h-12zM420 363h37v1h-37zM87 364h1v1h-1zM90 364h1v1h-1zM93 364h1v1h-1zM99 364h1v1h-1zM102 364h2v1h-2zM111 364h2v1h-2zM122 364h1v1h-1zM125 364h4v1h-4zM130 364h2v1h-2zM222 364h1v1h-1zM227 364h1v1h-1zM231 364h1v1h-1zM257 364h43v1h-43zM309 364h2v1h-2zM407 364h2v1h-2zM411 364h43v1h-43zM92 365h2v1h-2zM101 365h1v1h-1zM106 365h1v1h-1zM109 365h1v1h-1zM111 365h1v1h-1zM116 365h1v1h-1zM119 365h1v1h-1zM122 365h2v1h-2zM127 365h5v1h-5zM258 365h42v1h-42zM303 365h2v1h-2zM306 365h2v1h-2zM310 365h1v1h-1zM405 365h1v1h-1zM408 365h9v1h-9zM418 365h19v1h-19zM438 365h15v1h-15zM96 366h2v1h-2zM103 366h2v1h-2zM114 366h1v1h-1zM116 366h2v1h-2zM119 366h1v1h-1zM121 366h6v1h-6zM129 366h1v1h-1zM132 366h2v1h-2zM136 366h1v1h-1zM138 366h1v1h-1zM251 366h1v1h-1zM256 366h44v1h-44zM303 366h3v1h-3zM307 366h1v1h-1zM408 366h47v1h-47zM93 367h1v1h-1zM100 367h1v1h-1zM105 367h1v1h-1zM108 367h1v1h-1zM111 367h2v1h-2zM114 367h4v1h-4zM121 367h1v1h-1zM127 367h1v1h-1zM134 367h3v1h-3zM251 367h1v1h-1zM255 367h45v1h-45zM302 367h1v1h-1zM306 367h1v1h-1zM309 367h2v1h-2zM407 367h48v1h-48zM91 368h3v1h-3zM96 368h1v1h-1zM106 368h1v1h-1zM111 368h1v1h-1zM115 368h3v1h-3zM145 368h1v1h-1zM253 368h1v1h-1zM255 368h45v1h-45zM306 368h1v1h-1zM310 368h1v1h-1zM405 368h1v1h-1zM407 368h49v1h-49zM87 369h3v1h-3zM94 369h1v1h-1zM98 369h1v1h-1zM110 369h1v1h-1zM115 369h4v1h-4zM121 369h1v1h-1zM132 369h1v1h-1zM254 369h46v1h-46zM306 369h1v1h-1zM310 369h1v1h-1zM397 369h1v1h-1zM404 369h51v1h-51zM92 370h1v1h-1zM97 370h2v1h-2zM106 370h1v1h-1zM110 370h1v1h-1zM114 370h1v1h-1zM119 370h3v1h-3zM136 370h1v1h-1zM254 370h45v1h-45zM301 370h2v1h-2zM307 370h1v1h-1zM310 370h1v1h-1zM405 370h20v1h-20zM426 370h6v1h-6zM433 370h19v1h-19zM454 370h1v1h-1zM91 371h7v1h-7zM111 371h1v1h-1zM115 371h1v1h-1zM117 371h2v1h-2zM122 371h1v1h-1zM126 371h1v1h-1zM129 371h1v1h-1zM131 371h1v1h-1zM246 371h1v1h-1zM253 371h44v1h-44zM298 371h1v1h-1zM303 371h3v1h-3zM403 371h1v1h-1zM406 371h38v1h-38zM446 371h6v1h-6zM88 372h1v1h-1zM90 372h1v1h-1zM100 372h1v1h-1zM113 372h1v1h-1zM115 372h1v1h-1zM118 372h1v1h-1zM123 372h1v1h-1zM127 372h1v1h-1zM248 372h1v1h-1zM250 372h1v1h-1zM253 372h1v1h-1zM255 372h42v1h-42zM301 372h1v1h-1zM305 372h1v1h-1zM311 372h1v1h-1zM396 372h1v1h-1zM403 372h26v1h-26zM430 372h17v1h-17zM448 372h2v1h-2zM89 373h1v1h-1zM91 373h1v1h-1zM95 373h1v1h-1zM103 373h2v1h-2zM108 373h1v1h-1zM111 373h3v1h-3zM127 373h1v1h-1zM134 373h1v1h-1zM230 373h1v1h-1zM242 373h1v1h-1zM245 373h1v1h-1zM252 373h1v1h-1zM255 373h46v1h-46zM305 373h1v1h-1zM311 373h1v1h-1zM402 373h1v1h-1zM404 373h45v1h-45zM451 373h1v1h-1zM93 374h1v1h-1zM105 374h2v1h-2zM108 374h1v1h-1zM111 374h1v1h-1zM115 374h1v1h-1zM121 374h2v1h-2zM124 374h1v1h-1zM131 374h1v1h-1zM248 374h1v1h-1zM252 374h46v1h-46zM299 374h1v1h-1zM305 374h2v1h-2zM308 374h1v1h-1zM393 374h1v1h-1zM402 374h1v1h-1zM404 374h44v1h-44zM450 374h2v1h-2zM91 375h1v1h-1zM93 375h1v1h-1zM107 375h1v1h-1zM110 375h2v1h-2zM114 375h2v1h-2zM117 375h1v1h-1zM120 375h2v1h-2zM124 375h1v1h-1zM129 375h1v1h-1zM133 375h1v1h-1zM252 375h50v1h-50zM306 375h1v1h-1zM404 375h1v1h-1zM407 375h35v1h-35zM444 375h7v1h-7zM96 376h1v1h-1zM101 376h3v1h-3zM111 376h1v1h-1zM113 376h1v1h-1zM117 376h1v1h-1zM119 376h1v1h-1zM121 376h1v1h-1zM124 376h1v1h-1zM127 376h1v1h-1zM129 376h1v1h-1zM135 376h1v1h-1zM245 376h1v1h-1zM247 376h1v1h-1zM251 376h47v1h-47zM299 376h2v1h-2zM302 376h5v1h-5zM399 376h1v1h-1zM407 376h42v1h-42zM95 377h3v1h-3zM99 377h1v1h-1zM103 377h1v1h-1zM106 377h1v1h-1zM112 377h1v1h-1zM114 377h1v1h-1zM119 377h4v1h-4zM125 377h1v1h-1zM129 377h1v1h-1zM131 377h1v1h-1zM134 377h1v1h-1zM252 377h46v1h-46zM299 377h1v1h-1zM303 377h2v1h-2zM310 377h1v1h-1zM405 377h45v1h-45zM454 377h1v1h-1zM92 378h1v1h-1zM99 378h1v1h-1zM116 378h1v1h-1zM120 378h3v1h-3zM128 378h2v1h-2zM131 378h1v1h-1zM252 378h43v1h-43zM296 378h1v1h-1zM303 378h1v1h-1zM401 378h1v1h-1zM403 378h47v1h-47zM451 378h1v1h-1zM454 378h1v1h-1zM92 379h1v1h-1zM97 379h1v1h-1zM100 379h1v1h-1zM104 379h1v1h-1zM107 379h2v1h-2zM114 379h1v1h-1zM121 379h1v1h-1zM242 379h1v1h-1zM252 379h40v1h-40zM294 379h2v1h-2zM297 379h2v1h-2zM303 379h1v1h-1zM305 379h2v1h-2zM404 379h24v1h-24zM429 379h4v1h-4zM434 379h13v1h-13zM448 379h1v1h-1zM92 380h1v1h-1zM100 380h1v1h-1zM109 380h4v1h-4zM115 380h4v1h-4zM121 380h1v1h-1zM128 380h1v1h-1zM224 380h1v1h-1zM252 380h43v1h-43zM306 380h1v1h-1zM406 380h41v1h-41zM86 381h1v1h-1zM94 381h1v1h-1zM98 381h1v1h-1zM100 381h3v1h-3zM115 381h5v1h-5zM121 381h1v1h-1zM132 381h2v1h-2zM235 381h1v1h-1zM246 381h1v1h-1zM252 381h1v1h-1zM255 381h40v1h-40zM298 381h1v1h-1zM400 381h1v1h-1zM406 381h37v1h-37zM97 382h2v1h-2zM100 382h2v1h-2zM105 382h1v1h-1zM107 382h4v1h-4zM116 382h2v1h-2zM127 382h1v1h-1zM131 382h2v1h-2zM246 382h1v1h-1zM250 382h1v1h-1zM254 382h36v1h-36zM294 382h1v1h-1zM297 382h3v1h-3zM302 382h1v1h-1zM330 382h1v1h-1zM405 382h36v1h-36zM444 382h1v1h-1zM83 383h1v1h-1zM86 383h1v1h-1zM92 383h1v1h-1zM96 383h3v1h-3zM100 383h1v1h-1zM103 383h2v1h-2zM106 383h4v1h-4zM113 383h1v1h-1zM122 383h1v1h-1zM132 383h1v1h-1zM224 383h1v1h-1zM254 383h37v1h-37zM292 383h6v1h-6zM308 383h1v1h-1zM406 383h34v1h-34zM442 383h1v1h-1zM91 384h1v1h-1zM97 384h1v1h-1zM106 384h1v1h-1zM111 384h1v1h-1zM114 384h1v1h-1zM118 384h1v1h-1zM121 384h1v1h-1zM129 384h1v1h-1zM250 384h1v1h-1zM253 384h2v1h-2zM256 384h5v1h-5zM262 384h32v1h-32zM295 384h2v1h-2zM406 384h1v1h-1zM410 384h27v1h-27zM438 384h1v1h-1zM454 384h1v1h-1zM100 385h1v1h-1zM102 385h1v1h-1zM106 385h1v1h-1zM111 385h1v1h-1zM122 385h1v1h-1zM256 385h5v1h-5zM262 385h27v1h-27zM290 385h3v1h-3zM294 385h1v1h-1zM296 385h3v1h-3zM411 385h6v1h-6zM418 385h17v1h-17zM442 385h1v1h-1zM106 386h1v1h-1zM111 386h1v1h-1zM123 386h1v1h-1zM129 386h1v1h-1zM251 386h1v1h-1zM253 386h34v1h-34zM294 386h1v1h-1zM297 386h1v1h-1zM299 386h3v1h-3zM310 386h1v1h-1zM408 386h9v1h-9zM418 386h15v1h-15zM83 387h2v1h-2zM97 387h1v1h-1zM100 387h2v1h-2zM115 387h1v1h-1zM120 387h1v1h-1zM127 387h1v1h-1zM249 387h1v1h-1zM256 387h30v1h-30zM287 387h2v1h-2zM294 387h5v1h-5zM303 387h2v1h-2zM403 387h1v1h-1zM406 387h1v1h-1zM410 387h1v1h-1zM414 387h3v1h-3zM418 387h3v1h-3zM422 387h1v1h-1zM425 387h1v1h-1zM428 387h4v1h-4zM95 388h1v1h-1zM97 388h1v1h-1zM110 388h1v1h-1zM114 388h2v1h-2zM120 388h1v1h-1zM256 388h1v1h-1zM258 388h29v1h-29zM297 388h1v1h-1zM300 388h1v1h-1zM307 388h1v1h-1zM411 388h1v1h-1zM415 388h4v1h-4zM421 388h4v1h-4zM426 388h1v1h-1zM428 388h2v1h-2zM431 388h1v1h-1zM436 388h1v1h-1zM439 388h1v1h-1zM97 389h1v1h-1zM103 389h1v1h-1zM107 389h1v1h-1zM121 389h1v1h-1zM246 389h1v1h-1zM256 389h4v1h-4zM261 389h18v1h-18zM281 389h2v1h-2zM284 389h1v1h-1zM295 389h1v1h-1zM298 389h1v1h-1zM390 389h1v1h-1zM408 389h1v1h-1zM419 389h1v1h-1zM425 389h1v1h-1zM78 390h1v1h-1zM104 390h1v1h-1zM117 390h1v1h-1zM129 390h1v1h-1zM246 390h1v1h-1zM260 390h8v1h-8zM269 390h10v1h-10zM293 390h1v1h-1zM419 390h1v1h-1zM424 390h1v1h-1zM82 391h1v1h-1zM117 391h1v1h-1zM125 391h1v1h-1zM129 391h1v1h-1zM246 391h2v1h-2zM253 391h2v1h-2zM256 391h1v1h-1zM260 391h6v1h-6zM267 391h1v1h-1zM270 391h10v1h-10zM292 391h2v1h-2zM421 391h1v1h-1zM440 391h1v1h-1zM77 392h1v1h-1zM113 392h3v1h-3zM119 392h1v1h-1zM123 392h1v1h-1zM239 392h1v1h-1zM257 392h1v1h-1zM260 392h1v1h-1zM265 392h11v1h-11zM279 392h1v1h-1zM390 392h1v1h-1zM78 393h1v1h-1zM87 393h1v1h-1zM97 393h1v1h-1zM105 393h1v1h-1zM127 393h1v1h-1zM266 393h4v1h-4zM273 393h1v1h-1zM277 393h1v1h-1zM281 393h2v1h-2zM287 393h2v1h-2zM295 393h1v1h-1zM388 393h1v1h-1zM432 393h1v1h-1zM80 394h1v1h-1zM101 394h1v1h-1zM117 394h1v1h-1zM251 394h1v1h-1zM254 394h1v1h-1zM266 394h1v1h-1zM274 394h1v1h-1zM280 394h3v1h-3zM94 395h1v1h-1zM108 395h1v1h-1zM111 395h1v1h-1zM114 395h1v1h-1zM120 395h1v1h-1zM261 395h1v1h-1zM437 395h1v1h-1zM85 396h1v1h-1zM95 396h1v1h-1zM114 396h1v1h-1zM117 396h1v1h-1zM124 396h1v1h-1zM429 396h1v1h-1zM76 397h1v1h-1zM90 397h1v1h-1zM99 397h1v1h-1zM273 397h1v1h-1zM429 397h1v1h-1zM74 398h1v1h-1zM81 398h1v1h-1zM83 398h1v1h-1zM275 398h2v1h-2zM283 398h1v1h-1zM287 398h1v1h-1zM78 399h1v1h-1zM81 399h1v1h-1zM83 399h1v1h-1zM122 399h1v1h-1zM257 399h1v1h-1zM269 399h1v1h-1zM291 399h1v1h-1zM81 400h3v1h-3zM262 400h1v1h-1zM422 400h1v1h-1zM76 401h1v1h-1zM83 401h1v1h-1zM92 401h1v1h-1zM246 401h1v1h-1zM253 401h2v1h-2zM266 401h1v1h-1zM280 401h1v1h-1zM433 401h1v1h-1zM88 402h1v1h-1zM96 402h1v1h-1zM100 402h1v1h-1zM221 402h1v1h-1zM70 403h1v1h-1zM87 403h1v1h-1zM103 403h1v1h-1zM105 403h1v1h-1zM242 403h1v1h-1zM252 403h1v1h-1zM396 403h1v1h-1zM417 403h1v1h-1zM100 404h1v1h-1zM102 404h3v1h-3zM257 404h1v1h-1zM387 404h1v1h-1zM101 405h1v1h-1zM257 405h1v1h-1zM410 405h1v1h-1zM423 405h1v1h-1zM77 406h2v1h-2zM84 406h1v1h-1zM97 406h1v1h-1zM85 407h1v1h-1zM92 407h1v1h-1zM103 407h1v1h-1zM275 407h1v1h-1zM89 408h1v1h-1zM78 409h1v1h-1zM86 409h1v1h-1zM100 409h1v1h-1zM258 409h1v1h-1zM86 410h1v1h-1zM98 410h1v1h-1zM268 410h1v1h-1zM95 411h1v1h-1zM247 411h1v1h-1zM282 411h1v1h-1zM85 412h1v1h-1zM83 413h1v1h-1zM86 414h1v1h-1zM248 414h1v1h-1zM117 521h1v1h-1zM168 523h1v1h-1zM171 524h1v1h-1zM142 526h1v1h-1zM138 527h1v1h-1zM141 527h1v1h-1zM143 527h1v1h-1zM146 527h1v1h-1zM131 528h2v1h-2zM137 528h1v1h-1zM140 528h1v1h-1zM142 528h5v1h-5zM125 529h1v1h-1zM132 529h1v1h-1zM134 529h4v1h-4zM139 529h2v1h-2zM142 529h4v1h-4zM128 530h3v1h-3zM133 530h3v1h-3zM137 530h12v1h-12zM173 530h1v1h-1zM126 531h1v1h-1zM131 531h17v1h-17zM154 531h1v1h-1zM123 532h1v1h-1zM126 532h2v1h-2zM131 532h14v1h-14zM150 532h2v1h-2zM113 533h2v1h-2zM117 533h2v1h-2zM121 533h4v1h-4zM126 533h25v1h-25zM155 533h1v1h-1zM169 533h1v1h-1zM109 534h1v1h-1zM113 534h2v1h-2zM116 534h1v1h-1zM119 534h30v1h-30zM155 534h1v1h-1zM434 534h1v1h-1zM102 535h2v1h-2zM108 535h1v1h-1zM112 535h38v1h-38zM389 535h1v1h-1zM399 535h1v1h-1zM423 535h1v1h-1zM446 535h1v1h-1zM102 536h3v1h-3zM106 536h5v1h-5zM112 536h39v1h-39zM374 536h1v1h-1zM415 536h1v1h-1zM422 536h2v1h-2zM94 537h2v1h-2zM97 537h2v1h-2zM102 537h1v1h-1zM104 537h45v1h-45zM166 537h1v1h-1zM371 537h1v1h-1zM375 537h1v1h-1zM399 537h1v1h-1zM407 537h1v1h-1zM410 537h1v1h-1zM422 537h1v1h-1zM436 537h2v1h-2zM91 538h1v1h-1zM97 538h1v1h-1zM99 538h2v1h-2zM102 538h43v1h-43zM146 538h3v1h-3zM154 538h1v1h-1zM162 538h1v1h-1zM172 538h1v1h-1zM380 538h1v1h-1zM391 538h1v1h-1zM421 538h1v1h-1zM423 538h2v1h-2zM451 538h1v1h-1zM85 539h1v1h-1zM89 539h1v1h-1zM92 539h56v1h-56zM150 539h1v1h-1zM409 539h1v1h-1zM414 539h1v1h-1zM426 539h1v1h-1zM428 539h1v1h-1zM85 540h2v1h-2zM90 540h58v1h-58zM150 540h1v1h-1zM153 540h1v1h-1zM369 540h1v1h-1zM384 540h1v1h-1zM394 540h1v1h-1zM396 540h1v1h-1zM406 540h1v1h-1zM414 540h1v1h-1zM420 540h1v1h-1zM438 540h2v1h-2zM442 540h3v1h-3zM448 540h1v1h-1zM78 541h1v1h-1zM84 541h64v1h-64zM156 541h1v1h-1zM374 541h1v1h-1zM378 541h1v1h-1zM384 541h1v1h-1zM388 541h2v1h-2zM392 541h1v1h-1zM394 541h1v1h-1zM396 541h1v1h-1zM431 541h1v1h-1zM444 541h1v1h-1zM80 542h1v1h-1zM84 542h17v1h-17zM102 542h47v1h-47zM152 542h2v1h-2zM156 542h1v1h-1zM374 542h3v1h-3zM378 542h1v1h-1zM381 542h4v1h-4zM391 542h2v1h-2zM397 542h1v1h-1zM401 542h1v1h-1zM428 542h1v1h-1zM431 542h1v1h-1zM434 542h1v1h-1zM441 542h1v1h-1zM446 542h1v1h-1zM452 542h1v1h-1zM79 543h70v1h-70zM372 543h2v1h-2zM379 543h2v1h-2zM382 543h3v1h-3zM392 543h1v1h-1zM394 543h1v1h-1zM407 543h1v1h-1zM411 543h2v1h-2zM417 543h1v1h-1zM419 543h3v1h-3zM431 543h1v1h-1zM433 543h1v1h-1zM438 543h2v1h-2zM456 543h1v1h-1zM71 544h1v1h-1zM75 544h2v1h-2zM78 544h74v1h-74zM376 544h1v1h-1zM383 544h2v1h-2zM390 544h3v1h-3zM394 544h3v1h-3zM399 544h1v1h-1zM401 544h1v1h-1zM403 544h1v1h-1zM407 544h1v1h-1zM412 544h1v1h-1zM418 544h2v1h-2zM423 544h1v1h-1zM426 544h2v1h-2zM435 544h1v1h-1zM438 544h1v1h-1zM442 544h3v1h-3zM449 544h4v1h-4zM70 545h1v1h-1zM74 545h73v1h-73zM148 545h2v1h-2zM372 545h1v1h-1zM375 545h3v1h-3zM380 545h2v1h-2zM383 545h1v1h-1zM390 545h3v1h-3zM394 545h3v1h-3zM402 545h3v1h-3zM409 545h1v1h-1zM412 545h1v1h-1zM415 545h1v1h-1zM418 545h1v1h-1zM426 545h3v1h-3zM432 545h2v1h-2zM437 545h1v1h-1zM440 545h1v1h-1zM444 545h1v1h-1zM447 545h2v1h-2zM450 545h2v1h-2zM453 545h1v1h-1zM65 546h1v1h-1zM68 546h3v1h-3zM74 546h72v1h-72zM149 546h1v1h-1zM371 546h2v1h-2zM374 546h1v1h-1zM380 546h1v1h-1zM383 546h1v1h-1zM386 546h1v1h-1zM388 546h2v1h-2zM393 546h3v1h-3zM399 546h1v1h-1zM402 546h1v1h-1zM405 546h2v1h-2zM411 546h1v1h-1zM414 546h2v1h-2zM418 546h3v1h-3zM422 546h4v1h-4zM427 546h1v1h-1zM430 546h1v1h-1zM437 546h1v1h-1zM441 546h1v1h-1zM444 546h1v1h-1zM446 546h1v1h-1zM450 546h1v1h-1zM64 547h1v1h-1zM68 547h2v1h-2zM73 547h73v1h-73zM147 547h1v1h-1zM149 547h1v1h-1zM151 547h1v1h-1zM369 547h1v1h-1zM373 547h1v1h-1zM377 547h1v1h-1zM380 547h3v1h-3zM384 547h1v1h-1zM387 547h1v1h-1zM389 547h1v1h-1zM392 547h1v1h-1zM398 547h2v1h-2zM403 547h2v1h-2zM406 547h1v1h-1zM411 547h1v1h-1zM417 547h2v1h-2zM420 547h4v1h-4zM435 547h3v1h-3zM444 547h3v1h-3zM450 547h2v1h-2zM63 548h1v1h-1zM66 548h4v1h-4zM71 548h77v1h-77zM151 548h1v1h-1zM156 548h1v1h-1zM373 548h3v1h-3zM380 548h3v1h-3zM384 548h4v1h-4zM389 548h5v1h-5zM395 548h2v1h-2zM398 548h2v1h-2zM401 548h1v1h-1zM406 548h3v1h-3zM413 548h1v1h-1zM422 548h7v1h-7zM432 548h1v1h-1zM436 548h2v1h-2zM442 548h3v1h-3zM447 548h1v1h-1zM449 548h2v1h-2zM464 548h1v1h-1zM60 549h1v1h-1zM63 549h12v1h-12zM76 549h4v1h-4zM81 549h67v1h-67zM151 549h2v1h-2zM373 549h4v1h-4zM381 549h4v1h-4zM386 549h4v1h-4zM392 549h5v1h-5zM399 549h1v1h-1zM401 549h1v1h-1zM405 549h1v1h-1zM408 549h1v1h-1zM415 549h1v1h-1zM421 549h1v1h-1zM428 549h4v1h-4zM437 549h1v1h-1zM440 549h1v1h-1zM443 549h1v1h-1zM446 549h1v1h-1zM449 549h1v1h-1zM451 549h1v1h-1zM455 549h1v1h-1zM60 550h1v1h-1zM62 550h82v1h-82zM145 550h2v1h-2zM271 550h1v1h-1zM371 550h1v1h-1zM375 550h1v1h-1zM382 550h2v1h-2zM386 550h1v1h-1zM390 550h1v1h-1zM393 550h1v1h-1zM399 550h1v1h-1zM402 550h1v1h-1zM406 550h3v1h-3zM411 550h1v1h-1zM417 550h1v1h-1zM419 550h1v1h-1zM423 550h3v1h-3zM429 550h1v1h-1zM432 550h1v1h-1zM439 550h2v1h-2zM450 550h2v1h-2zM60 551h87v1h-87zM160 551h1v1h-1zM235 551h1v1h-1zM276 551h1v1h-1zM287 551h1v1h-1zM292 551h2v1h-2zM369 551h1v1h-1zM375 551h2v1h-2zM378 551h1v1h-1zM380 551h1v1h-1zM382 551h3v1h-3zM386 551h1v1h-1zM389 551h1v1h-1zM393 551h1v1h-1zM402 551h1v1h-1zM405 551h1v1h-1zM407 551h1v1h-1zM414 551h1v1h-1zM418 551h2v1h-2zM423 551h1v1h-1zM425 551h2v1h-2zM430 551h4v1h-4zM439 551h4v1h-4zM448 551h1v1h-1zM60 552h88v1h-88zM150 552h1v1h-1zM152 552h1v1h-1zM369 552h4v1h-4zM375 552h1v1h-1zM377 552h1v1h-1zM384 552h2v1h-2zM392 552h3v1h-3zM398 552h1v1h-1zM402 552h2v1h-2zM412 552h1v1h-1zM415 552h1v1h-1zM419 552h1v1h-1zM422 552h3v1h-3zM426 552h2v1h-2zM430 552h1v1h-1zM432 552h1v1h-1zM435 552h1v1h-1zM438 552h2v1h-2zM441 552h4v1h-4zM60 553h87v1h-87zM154 553h1v1h-1zM156 553h1v1h-1zM159 553h1v1h-1zM164 553h1v1h-1zM272 553h1v1h-1zM279 553h2v1h-2zM282 553h1v1h-1zM284 553h1v1h-1zM370 553h2v1h-2zM373 553h1v1h-1zM378 553h4v1h-4zM384 553h3v1h-3zM389 553h6v1h-6zM397 553h8v1h-8zM406 553h1v1h-1zM408 553h5v1h-5zM415 553h3v1h-3zM419 553h1v1h-1zM422 553h9v1h-9zM432 553h2v1h-2zM435 553h4v1h-4zM441 553h1v1h-1zM451 553h1v1h-1zM60 554h83v1h-83zM145 554h2v1h-2zM148 554h1v1h-1zM267 554h1v1h-1zM272 554h1v1h-1zM279 554h1v1h-1zM301 554h1v1h-1zM370 554h1v1h-1zM380 554h9v1h-9zM390 554h18v1h-18zM411 554h4v1h-4zM416 554h3v1h-3zM423 554h8v1h-8zM432 554h2v1h-2zM435 554h4v1h-4zM445 554h1v1h-1zM448 554h1v1h-1zM451 554h1v1h-1zM61 555h82v1h-82zM145 555h2v1h-2zM172 555h1v1h-1zM219 555h1v1h-1zM264 555h1v1h-1zM272 555h1v1h-1zM274 555h1v1h-1zM288 555h1v1h-1zM291 555h1v1h-1zM293 555h1v1h-1zM299 555h1v1h-1zM372 555h3v1h-3zM377 555h2v1h-2zM380 555h3v1h-3zM385 555h24v1h-24zM412 555h8v1h-8zM422 555h12v1h-12zM436 555h3v1h-3zM440 555h3v1h-3zM445 555h1v1h-1zM448 555h3v1h-3zM452 555h1v1h-1zM458 555h1v1h-1zM60 556h83v1h-83zM144 556h1v1h-1zM146 556h2v1h-2zM150 556h4v1h-4zM223 556h1v1h-1zM225 556h1v1h-1zM265 556h2v1h-2zM272 556h3v1h-3zM282 556h1v1h-1zM284 556h1v1h-1zM289 556h1v1h-1zM293 556h2v1h-2zM300 556h1v1h-1zM369 556h2v1h-2zM373 556h1v1h-1zM376 556h17v1h-17zM394 556h17v1h-17zM412 556h32v1h-32zM445 556h1v1h-1zM449 556h1v1h-1zM60 557h6v1h-6zM67 557h78v1h-78zM146 557h1v1h-1zM150 557h2v1h-2zM153 557h1v1h-1zM218 557h1v1h-1zM273 557h3v1h-3zM281 557h1v1h-1zM284 557h4v1h-4zM291 557h1v1h-1zM298 557h1v1h-1zM369 557h1v1h-1zM375 557h50v1h-50zM426 557h17v1h-17zM444 557h1v1h-1zM447 557h3v1h-3zM451 557h1v1h-1zM453 557h1v1h-1zM456 557h1v1h-1zM60 558h68v1h-68zM129 558h17v1h-17zM220 558h1v1h-1zM224 558h1v1h-1zM229 558h1v1h-1zM266 558h1v1h-1zM268 558h1v1h-1zM273 558h1v1h-1zM279 558h1v1h-1zM281 558h1v1h-1zM283 558h5v1h-5zM298 558h1v1h-1zM370 558h2v1h-2zM376 558h67v1h-67zM444 558h1v1h-1zM446 558h1v1h-1zM448 558h3v1h-3zM61 559h52v1h-52zM114 559h15v1h-15zM130 559h12v1h-12zM149 559h1v1h-1zM154 559h2v1h-2zM254 559h1v1h-1zM256 559h1v1h-1zM261 559h1v1h-1zM264 559h5v1h-5zM270 559h1v1h-1zM274 559h1v1h-1zM276 559h2v1h-2zM279 559h3v1h-3zM283 559h1v1h-1zM287 559h1v1h-1zM291 559h1v1h-1zM297 559h1v1h-1zM303 559h1v1h-1zM307 559h1v1h-1zM371 559h1v1h-1zM373 559h1v1h-1zM377 559h50v1h-50zM428 559h17v1h-17zM448 559h3v1h-3zM452 559h2v1h-2zM464 559h1v1h-1zM61 560h18v1h-18zM80 560h33v1h-33zM114 560h30v1h-30zM146 560h1v1h-1zM151 560h1v1h-1zM154 560h1v1h-1zM260 560h2v1h-2zM264 560h4v1h-4zM274 560h1v1h-1zM278 560h1v1h-1zM282 560h2v1h-2zM290 560h1v1h-1zM295 560h1v1h-1zM297 560h1v1h-1zM299 560h1v1h-1zM372 560h3v1h-3zM378 560h66v1h-66zM445 560h2v1h-2zM448 560h1v1h-1zM452 560h1v1h-1zM456 560h1v1h-1zM60 561h82v1h-82zM144 561h1v1h-1zM147 561h1v1h-1zM152 561h1v1h-1zM224 561h1v1h-1zM265 561h2v1h-2zM268 561h1v1h-1zM270 561h1v1h-1zM272 561h1v1h-1zM278 561h2v1h-2zM281 561h2v1h-2zM285 561h1v1h-1zM289 561h3v1h-3zM297 561h1v1h-1zM299 561h6v1h-6zM371 561h1v1h-1zM373 561h4v1h-4zM378 561h68v1h-68zM449 561h1v1h-1zM452 561h4v1h-4zM60 562h82v1h-82zM145 562h1v1h-1zM223 562h1v1h-1zM251 562h1v1h-1zM256 562h2v1h-2zM265 562h1v1h-1zM272 562h1v1h-1zM275 562h2v1h-2zM278 562h1v1h-1zM280 562h1v1h-1zM282 562h1v1h-1zM287 562h4v1h-4zM293 562h2v1h-2zM296 562h4v1h-4zM302 562h2v1h-2zM305 562h3v1h-3zM371 562h1v1h-1zM374 562h1v1h-1zM377 562h1v1h-1zM379 562h67v1h-67zM449 562h6v1h-6zM60 563h81v1h-81zM218 563h1v1h-1zM254 563h1v1h-1zM256 563h2v1h-2zM263 563h1v1h-1zM266 563h3v1h-3zM270 563h2v1h-2zM273 563h2v1h-2zM278 563h1v1h-1zM282 563h4v1h-4zM287 563h3v1h-3zM293 563h1v1h-1zM299 563h1v1h-1zM302 563h2v1h-2zM305 563h1v1h-1zM369 563h1v1h-1zM371 563h2v1h-2zM377 563h66v1h-66zM444 563h2v1h-2zM448 563h4v1h-4zM455 563h1v1h-1zM457 563h1v1h-1zM464 563h1v1h-1zM60 564h80v1h-80zM141 564h1v1h-1zM218 564h1v1h-1zM252 564h2v1h-2zM255 564h1v1h-1zM258 564h2v1h-2zM263 564h1v1h-1zM267 564h2v1h-2zM270 564h2v1h-2zM273 564h1v1h-1zM278 564h1v1h-1zM283 564h2v1h-2zM292 564h3v1h-3zM302 564h2v1h-2zM305 564h1v1h-1zM371 564h9v1h-9zM381 564h62v1h-62zM447 564h4v1h-4zM464 564h1v1h-1zM60 565h80v1h-80zM144 565h1v1h-1zM219 565h2v1h-2zM256 565h1v1h-1zM258 565h1v1h-1zM261 565h1v1h-1zM264 565h2v1h-2zM269 565h3v1h-3zM273 565h1v1h-1zM276 565h3v1h-3zM280 565h1v1h-1zM283 565h2v1h-2zM290 565h2v1h-2zM294 565h4v1h-4zM300 565h2v1h-2zM371 565h51v1h-51zM424 565h11v1h-11zM436 565h9v1h-9zM447 565h2v1h-2zM453 565h2v1h-2zM456 565h1v1h-1zM60 566h79v1h-79zM142 566h1v1h-1zM147 566h1v1h-1zM248 566h1v1h-1zM256 566h1v1h-1zM258 566h4v1h-4zM264 566h2v1h-2zM269 566h8v1h-8zM278 566h1v1h-1zM283 566h2v1h-2zM289 566h2v1h-2zM294 566h2v1h-2zM370 566h3v1h-3zM374 566h1v1h-1zM378 566h64v1h-64zM444 566h2v1h-2zM447 566h1v1h-1zM449 566h1v1h-1zM453 566h2v1h-2zM456 566h2v1h-2zM60 567h70v1h-70zM131 567h8v1h-8zM164 567h1v1h-1zM171 567h1v1h-1zM253 567h1v1h-1zM256 567h1v1h-1zM258 567h1v1h-1zM260 567h6v1h-6zM267 567h1v1h-1zM269 567h11v1h-11zM283 567h1v1h-1zM285 567h1v1h-1zM293 567h3v1h-3zM299 567h3v1h-3zM371 567h6v1h-6zM378 567h65v1h-65zM447 567h1v1h-1zM449 567h2v1h-2zM457 567h1v1h-1zM60 568h42v1h-42zM104 568h20v1h-20zM125 568h8v1h-8zM136 568h1v1h-1zM138 568h1v1h-1zM220 568h1v1h-1zM222 568h1v1h-1zM251 568h2v1h-2zM254 568h12v1h-12zM267 568h8v1h-8zM277 568h3v1h-3zM283 568h1v1h-1zM285 568h3v1h-3zM290 568h1v1h-1zM299 568h3v1h-3zM369 568h1v1h-1zM373 568h1v1h-1zM375 568h69v1h-69zM447 568h2v1h-2zM450 568h1v1h-1zM60 569h20v1h-20zM82 569h14v1h-14zM97 569h5v1h-5zM103 569h27v1h-27zM131 569h1v1h-1zM134 569h2v1h-2zM138 569h1v1h-1zM225 569h1v1h-1zM251 569h24v1h-24zM277 569h3v1h-3zM281 569h3v1h-3zM285 569h1v1h-1zM287 569h6v1h-6zM294 569h1v1h-1zM298 569h1v1h-1zM304 569h1v1h-1zM369 569h1v1h-1zM375 569h76v1h-76zM62 570h6v1h-6zM69 570h4v1h-4zM74 570h6v1h-6zM81 570h1v1h-1zM84 570h1v1h-1zM87 570h2v1h-2zM90 570h2v1h-2zM93 570h14v1h-14zM110 570h1v1h-1zM112 570h4v1h-4zM117 570h8v1h-8zM128 570h4v1h-4zM135 570h1v1h-1zM138 570h1v1h-1zM254 570h4v1h-4zM259 570h21v1h-21zM281 570h3v1h-3zM285 570h4v1h-4zM290 570h2v1h-2zM293 570h1v1h-1zM298 570h2v1h-2zM306 570h1v1h-1zM369 570h1v1h-1zM371 570h5v1h-5zM378 570h65v1h-65zM444 570h2v1h-2zM450 570h1v1h-1zM455 570h2v1h-2zM459 570h1v1h-1zM60 571h1v1h-1zM63 571h1v1h-1zM65 571h1v1h-1zM68 571h4v1h-4zM75 571h7v1h-7zM88 571h3v1h-3zM93 571h1v1h-1zM96 571h1v1h-1zM99 571h6v1h-6zM107 571h2v1h-2zM113 571h1v1h-1zM116 571h5v1h-5zM123 571h1v1h-1zM125 571h1v1h-1zM127 571h6v1h-6zM134 571h2v1h-2zM138 571h1v1h-1zM220 571h1v1h-1zM232 571h1v1h-1zM239 571h1v1h-1zM252 571h1v1h-1zM254 571h4v1h-4zM259 571h27v1h-27zM288 571h3v1h-3zM293 571h2v1h-2zM297 571h3v1h-3zM306 571h1v1h-1zM369 571h3v1h-3zM374 571h1v1h-1zM376 571h69v1h-69zM450 571h3v1h-3zM454 571h1v1h-1zM457 571h1v1h-1zM61 572h1v1h-1zM63 572h2v1h-2zM70 572h1v1h-1zM72 572h1v1h-1zM79 572h5v1h-5zM86 572h1v1h-1zM89 572h3v1h-3zM97 572h2v1h-2zM100 572h3v1h-3zM110 572h1v1h-1zM114 572h1v1h-1zM116 572h3v1h-3zM120 572h1v1h-1zM127 572h1v1h-1zM132 572h5v1h-5zM138 572h1v1h-1zM140 572h1v1h-1zM143 572h1v1h-1zM222 572h1v1h-1zM251 572h2v1h-2zM254 572h33v1h-33zM295 572h1v1h-1zM297 572h3v1h-3zM305 572h1v1h-1zM376 572h69v1h-69zM448 572h2v1h-2zM453 572h1v1h-1zM464 572h1v1h-1zM63 573h5v1h-5zM73 573h1v1h-1zM76 573h1v1h-1zM82 573h5v1h-5zM89 573h3v1h-3zM100 573h2v1h-2zM104 573h1v1h-1zM112 573h1v1h-1zM120 573h2v1h-2zM126 573h4v1h-4zM159 573h1v1h-1zM218 573h1v1h-1zM246 573h1v1h-1zM249 573h40v1h-40zM291 573h1v1h-1zM296 573h3v1h-3zM304 573h2v1h-2zM377 573h36v1h-36zM414 573h31v1h-31zM450 573h1v1h-1zM453 573h1v1h-1zM63 574h1v1h-1zM69 574h1v1h-1zM74 574h2v1h-2zM89 574h1v1h-1zM91 574h1v1h-1zM93 574h1v1h-1zM101 574h1v1h-1zM105 574h5v1h-5zM119 574h1v1h-1zM121 574h3v1h-3zM129 574h1v1h-1zM132 574h1v1h-1zM134 574h4v1h-4zM218 574h1v1h-1zM223 574h1v1h-1zM236 574h1v1h-1zM246 574h42v1h-42zM291 574h2v1h-2zM299 574h1v1h-1zM301 574h2v1h-2zM370 574h5v1h-5zM377 574h1v1h-1zM379 574h23v1h-23zM403 574h39v1h-39zM443 574h3v1h-3zM461 574h1v1h-1zM464 574h2v1h-2zM60 575h1v1h-1zM68 575h5v1h-5zM75 575h1v1h-1zM80 575h3v1h-3zM89 575h1v1h-1zM91 575h1v1h-1zM93 575h2v1h-2zM99 575h1v1h-1zM101 575h1v1h-1zM106 575h5v1h-5zM117 575h2v1h-2zM120 575h3v1h-3zM128 575h2v1h-2zM132 575h4v1h-4zM137 575h1v1h-1zM246 575h48v1h-48zM296 575h1v1h-1zM301 575h1v1h-1zM304 575h1v1h-1zM372 575h1v1h-1zM378 575h64v1h-64zM443 575h1v1h-1zM446 575h1v1h-1zM448 575h3v1h-3zM453 575h2v1h-2zM65 576h2v1h-2zM68 576h2v1h-2zM75 576h2v1h-2zM78 576h1v1h-1zM88 576h4v1h-4zM94 576h2v1h-2zM98 576h1v1h-1zM100 576h2v1h-2zM106 576h4v1h-4zM115 576h3v1h-3zM120 576h3v1h-3zM124 576h1v1h-1zM126 576h2v1h-2zM129 576h2v1h-2zM227 576h1v1h-1zM244 576h1v1h-1zM248 576h44v1h-44zM372 576h1v1h-1zM375 576h1v1h-1zM377 576h68v1h-68zM447 576h2v1h-2zM450 576h1v1h-1zM452 576h1v1h-1zM459 576h2v1h-2zM63 577h1v1h-1zM67 577h1v1h-1zM70 577h1v1h-1zM72 577h2v1h-2zM75 577h1v1h-1zM79 577h1v1h-1zM87 577h5v1h-5zM93 577h1v1h-1zM97 577h2v1h-2zM104 577h1v1h-1zM106 577h4v1h-4zM112 577h2v1h-2zM119 577h1v1h-1zM121 577h1v1h-1zM124 577h3v1h-3zM129 577h2v1h-2zM136 577h1v1h-1zM243 577h3v1h-3zM248 577h19v1h-19zM268 577h28v1h-28zM303 577h1v1h-1zM374 577h4v1h-4zM379 577h8v1h-8zM388 577h60v1h-60zM450 577h1v1h-1zM452 577h1v1h-1zM460 577h1v1h-1zM61 578h1v1h-1zM70 578h1v1h-1zM72 578h2v1h-2zM92 578h1v1h-1zM95 578h1v1h-1zM97 578h1v1h-1zM101 578h1v1h-1zM103 578h1v1h-1zM107 578h1v1h-1zM110 578h5v1h-5zM121 578h1v1h-1zM130 578h4v1h-4zM241 578h26v1h-26zM269 578h24v1h-24zM294 578h2v1h-2zM371 578h2v1h-2zM375 578h72v1h-72zM450 578h3v1h-3zM455 578h1v1h-1zM459 578h1v1h-1zM72 579h5v1h-5zM78 579h4v1h-4zM84 579h2v1h-2zM87 579h2v1h-2zM91 579h4v1h-4zM101 579h1v1h-1zM103 579h3v1h-3zM107 579h1v1h-1zM110 579h1v1h-1zM115 579h1v1h-1zM119 579h3v1h-3zM126 579h1v1h-1zM129 579h3v1h-3zM133 579h1v1h-1zM226 579h1v1h-1zM242 579h25v1h-25zM268 579h28v1h-28zM372 579h1v1h-1zM376 579h69v1h-69zM449 579h6v1h-6zM60 580h1v1h-1zM67 580h1v1h-1zM80 580h2v1h-2zM84 580h2v1h-2zM87 580h1v1h-1zM95 580h1v1h-1zM100 580h1v1h-1zM103 580h2v1h-2zM106 580h6v1h-6zM115 580h1v1h-1zM119 580h2v1h-2zM126 580h1v1h-1zM129 580h1v1h-1zM132 580h2v1h-2zM244 580h52v1h-52zM371 580h2v1h-2zM377 580h30v1h-30zM408 580h33v1h-33zM445 580h3v1h-3zM452 580h1v1h-1zM454 580h4v1h-4zM60 581h1v1h-1zM66 581h2v1h-2zM94 581h1v1h-1zM98 581h1v1h-1zM100 581h1v1h-1zM104 581h2v1h-2zM112 581h2v1h-2zM116 581h2v1h-2zM120 581h1v1h-1zM122 581h2v1h-2zM129 581h1v1h-1zM132 581h3v1h-3zM242 581h55v1h-55zM369 581h1v1h-1zM371 581h1v1h-1zM377 581h60v1h-60zM438 581h4v1h-4zM446 581h5v1h-5zM452 581h2v1h-2zM455 581h1v1h-1zM463 581h1v1h-1zM60 582h1v1h-1zM65 582h2v1h-2zM71 582h1v1h-1zM73 582h1v1h-1zM75 582h2v1h-2zM78 582h3v1h-3zM84 582h1v1h-1zM86 582h1v1h-1zM89 582h2v1h-2zM92 582h1v1h-1zM94 582h3v1h-3zM103 582h2v1h-2zM112 582h1v1h-1zM114 582h1v1h-1zM116 582h5v1h-5zM125 582h2v1h-2zM128 582h2v1h-2zM132 582h1v1h-1zM137 582h1v1h-1zM242 582h16v1h-16zM259 582h37v1h-37zM298 582h1v1h-1zM369 582h1v1h-1zM371 582h1v1h-1zM373 582h1v1h-1zM376 582h67v1h-67zM444 582h1v1h-1zM446 582h1v1h-1zM449 582h6v1h-6zM460 582h1v1h-1zM61 583h4v1h-4zM66 583h2v1h-2zM70 583h2v1h-2zM74 583h2v1h-2zM78 583h4v1h-4zM83 583h1v1h-1zM87 583h1v1h-1zM90 583h2v1h-2zM94 583h1v1h-1zM97 583h1v1h-1zM103 583h2v1h-2zM107 583h1v1h-1zM109 583h1v1h-1zM111 583h3v1h-3zM115 583h7v1h-7zM126 583h1v1h-1zM128 583h1v1h-1zM130 583h1v1h-1zM224 583h1v1h-1zM238 583h1v1h-1zM241 583h17v1h-17zM259 583h37v1h-37zM298 583h1v1h-1zM372 583h2v1h-2zM379 583h20v1h-20zM400 583h40v1h-40zM441 583h2v1h-2zM445 583h2v1h-2zM449 583h3v1h-3zM455 583h1v1h-1zM458 583h3v1h-3zM62 584h2v1h-2zM66 584h1v1h-1zM72 584h1v1h-1zM75 584h1v1h-1zM78 584h1v1h-1zM90 584h1v1h-1zM96 584h2v1h-2zM101 584h1v1h-1zM110 584h2v1h-2zM113 584h4v1h-4zM118 584h1v1h-1zM120 584h1v1h-1zM122 584h5v1h-5zM131 584h1v1h-1zM134 584h2v1h-2zM229 584h1v1h-1zM241 584h19v1h-19zM261 584h38v1h-38zM369 584h1v1h-1zM375 584h1v1h-1zM379 584h2v1h-2zM382 584h62v1h-62zM445 584h1v1h-1zM447 584h3v1h-3zM455 584h2v1h-2zM460 584h1v1h-1zM62 585h3v1h-3zM70 585h1v1h-1zM76 585h1v1h-1zM78 585h1v1h-1zM90 585h1v1h-1zM94 585h4v1h-4zM104 585h1v1h-1zM109 585h1v1h-1zM112 585h1v1h-1zM114 585h1v1h-1zM116 585h2v1h-2zM122 585h1v1h-1zM124 585h3v1h-3zM134 585h2v1h-2zM234 585h1v1h-1zM242 585h18v1h-18zM261 585h35v1h-35zM297 585h1v1h-1zM376 585h5v1h-5zM382 585h9v1h-9zM392 585h46v1h-46zM439 585h5v1h-5zM445 585h7v1h-7zM454 585h1v1h-1zM457 585h1v1h-1zM60 586h1v1h-1zM63 586h3v1h-3zM67 586h1v1h-1zM70 586h1v1h-1zM80 586h2v1h-2zM87 586h1v1h-1zM90 586h2v1h-2zM94 586h1v1h-1zM96 586h2v1h-2zM100 586h1v1h-1zM105 586h1v1h-1zM108 586h5v1h-5zM119 586h1v1h-1zM133 586h1v1h-1zM242 586h55v1h-55zM369 586h5v1h-5zM375 586h1v1h-1zM377 586h1v1h-1zM380 586h61v1h-61zM442 586h1v1h-1zM445 586h4v1h-4zM454 586h2v1h-2zM66 587h3v1h-3zM72 587h2v1h-2zM76 587h1v1h-1zM78 587h1v1h-1zM81 587h1v1h-1zM86 587h1v1h-1zM88 587h1v1h-1zM91 587h1v1h-1zM95 587h3v1h-3zM99 587h1v1h-1zM101 587h3v1h-3zM105 587h2v1h-2zM108 587h1v1h-1zM111 587h2v1h-2zM114 587h1v1h-1zM123 587h1v1h-1zM129 587h1v1h-1zM220 587h1v1h-1zM241 587h58v1h-58zM369 587h1v1h-1zM373 587h2v1h-2zM380 587h16v1h-16zM398 587h1v1h-1zM400 587h3v1h-3zM404 587h6v1h-6zM411 587h13v1h-13zM426 587h15v1h-15zM443 587h2v1h-2zM446 587h2v1h-2zM451 587h3v1h-3zM456 587h3v1h-3zM62 588h1v1h-1zM66 588h1v1h-1zM78 588h1v1h-1zM81 588h1v1h-1zM86 588h1v1h-1zM88 588h1v1h-1zM99 588h2v1h-2zM103 588h2v1h-2zM107 588h1v1h-1zM111 588h4v1h-4zM118 588h9v1h-9zM137 588h1v1h-1zM239 588h56v1h-56zM296 588h3v1h-3zM371 588h3v1h-3zM378 588h6v1h-6zM386 588h1v1h-1zM388 588h3v1h-3zM392 588h5v1h-5zM398 588h16v1h-16zM415 588h7v1h-7zM423 588h1v1h-1zM426 588h15v1h-15zM443 588h2v1h-2zM446 588h1v1h-1zM450 588h2v1h-2zM453 588h1v1h-1zM65 589h2v1h-2zM69 589h1v1h-1zM78 589h1v1h-1zM81 589h2v1h-2zM86 589h1v1h-1zM88 589h2v1h-2zM96 589h1v1h-1zM102 589h1v1h-1zM109 589h1v1h-1zM111 589h2v1h-2zM118 589h1v1h-1zM121 589h3v1h-3zM125 589h1v1h-1zM132 589h1v1h-1zM134 589h1v1h-1zM239 589h59v1h-59zM370 589h4v1h-4zM382 589h5v1h-5zM388 589h3v1h-3zM393 589h6v1h-6zM403 589h6v1h-6zM410 589h6v1h-6zM417 589h5v1h-5zM423 589h2v1h-2zM428 589h2v1h-2zM431 589h1v1h-1zM436 589h5v1h-5zM442 589h2v1h-2zM447 589h2v1h-2zM63 590h2v1h-2zM66 590h1v1h-1zM70 590h3v1h-3zM74 590h1v1h-1zM77 590h3v1h-3zM81 590h4v1h-4zM86 590h6v1h-6zM94 590h1v1h-1zM102 590h2v1h-2zM105 590h1v1h-1zM109 590h2v1h-2zM113 590h1v1h-1zM117 590h1v1h-1zM121 590h1v1h-1zM136 590h1v1h-1zM240 590h26v1h-26zM269 590h29v1h-29zM381 590h3v1h-3zM388 590h3v1h-3zM394 590h5v1h-5zM400 590h2v1h-2zM403 590h6v1h-6zM410 590h4v1h-4zM415 590h3v1h-3zM420 590h4v1h-4zM426 590h3v1h-3zM430 590h1v1h-1zM434 590h2v1h-2zM437 590h5v1h-5zM456 590h1v1h-1zM462 590h1v1h-1zM64 591h1v1h-1zM70 591h1v1h-1zM72 591h2v1h-2zM75 591h6v1h-6zM83 591h3v1h-3zM89 591h2v1h-2zM92 591h1v1h-1zM96 591h2v1h-2zM99 591h4v1h-4zM104 591h1v1h-1zM109 591h3v1h-3zM121 591h2v1h-2zM132 591h1v1h-1zM135 591h1v1h-1zM237 591h1v1h-1zM240 591h1v1h-1zM242 591h25v1h-25zM269 591h29v1h-29zM374 591h1v1h-1zM376 591h2v1h-2zM382 591h4v1h-4zM387 591h4v1h-4zM392 591h2v1h-2zM397 591h5v1h-5zM403 591h1v1h-1zM405 591h4v1h-4zM410 591h6v1h-6zM420 591h3v1h-3zM424 591h10v1h-10zM436 591h3v1h-3zM440 591h1v1h-1zM454 591h1v1h-1zM65 592h1v1h-1zM68 592h2v1h-2zM76 592h1v1h-1zM78 592h1v1h-1zM83 592h1v1h-1zM87 592h2v1h-2zM93 592h1v1h-1zM95 592h2v1h-2zM101 592h2v1h-2zM104 592h2v1h-2zM107 592h1v1h-1zM110 592h2v1h-2zM118 592h2v1h-2zM124 592h2v1h-2zM132 592h1v1h-1zM240 592h1v1h-1zM243 592h55v1h-55zM369 592h1v1h-1zM374 592h2v1h-2zM380 592h1v1h-1zM384 592h5v1h-5zM390 592h3v1h-3zM395 592h1v1h-1zM399 592h1v1h-1zM402 592h15v1h-15zM418 592h2v1h-2zM424 592h5v1h-5zM431 592h3v1h-3zM436 592h3v1h-3zM441 592h2v1h-2zM445 592h1v1h-1zM457 592h2v1h-2zM64 593h1v1h-1zM69 593h1v1h-1zM74 593h2v1h-2zM78 593h1v1h-1zM83 593h1v1h-1zM86 593h2v1h-2zM95 593h5v1h-5zM101 593h2v1h-2zM108 593h1v1h-1zM112 593h1v1h-1zM114 593h1v1h-1zM116 593h1v1h-1zM119 593h1v1h-1zM129 593h1v1h-1zM223 593h1v1h-1zM241 593h1v1h-1zM243 593h55v1h-55zM383 593h2v1h-2zM387 593h1v1h-1zM390 593h1v1h-1zM392 593h1v1h-1zM395 593h1v1h-1zM398 593h3v1h-3zM404 593h1v1h-1zM407 593h2v1h-2zM413 593h2v1h-2zM416 593h1v1h-1zM419 593h3v1h-3zM423 593h7v1h-7zM431 593h1v1h-1zM433 593h2v1h-2zM436 593h1v1h-1zM439 593h4v1h-4zM459 593h1v1h-1zM468 593h1v1h-1zM64 594h1v1h-1zM74 594h1v1h-1zM80 594h2v1h-2zM87 594h3v1h-3zM94 594h3v1h-3zM105 594h1v1h-1zM112 594h2v1h-2zM115 594h2v1h-2zM119 594h1v1h-1zM239 594h57v1h-57zM297 594h1v1h-1zM325 594h1v1h-1zM380 594h1v1h-1zM385 594h2v1h-2zM390 594h3v1h-3zM395 594h1v1h-1zM399 594h6v1h-6zM407 594h1v1h-1zM413 594h1v1h-1zM415 594h1v1h-1zM417 594h2v1h-2zM423 594h3v1h-3zM427 594h3v1h-3zM432 594h3v1h-3zM436 594h1v1h-1zM439 594h4v1h-4zM444 594h1v1h-1zM450 594h1v1h-1zM454 594h1v1h-1zM457 594h1v1h-1zM461 594h1v1h-1zM464 594h1v1h-1zM67 595h1v1h-1zM71 595h1v1h-1zM73 595h3v1h-3zM77 595h1v1h-1zM79 595h1v1h-1zM88 595h3v1h-3zM92 595h1v1h-1zM99 595h1v1h-1zM101 595h1v1h-1zM105 595h2v1h-2zM110 595h1v1h-1zM112 595h1v1h-1zM115 595h3v1h-3zM120 595h1v1h-1zM124 595h1v1h-1zM126 595h1v1h-1zM128 595h1v1h-1zM240 595h3v1h-3zM245 595h27v1h-27zM273 595h6v1h-6zM280 595h14v1h-14zM296 595h1v1h-1zM306 595h1v1h-1zM381 595h1v1h-1zM393 595h5v1h-5zM399 595h2v1h-2zM404 595h2v1h-2zM407 595h2v1h-2zM414 595h1v1h-1zM416 595h2v1h-2zM422 595h3v1h-3zM427 595h1v1h-1zM432 595h3v1h-3zM436 595h1v1h-1zM439 595h2v1h-2zM449 595h1v1h-1zM457 595h1v1h-1zM462 595h1v1h-1zM73 596h1v1h-1zM82 596h1v1h-1zM90 596h1v1h-1zM92 596h1v1h-1zM98 596h2v1h-2zM108 596h1v1h-1zM113 596h2v1h-2zM116 596h1v1h-1zM123 596h1v1h-1zM241 596h6v1h-6zM248 596h18v1h-18zM267 596h30v1h-30zM379 596h1v1h-1zM382 596h1v1h-1zM385 596h1v1h-1zM393 596h2v1h-2zM398 596h2v1h-2zM406 596h3v1h-3zM411 596h1v1h-1zM413 596h1v1h-1zM416 596h2v1h-2zM419 596h2v1h-2zM424 596h1v1h-1zM426 596h2v1h-2zM430 596h4v1h-4zM437 596h1v1h-1zM439 596h3v1h-3zM455 596h1v1h-1zM461 596h1v1h-1zM464 596h1v1h-1zM469 596h1v1h-1zM64 597h2v1h-2zM70 597h1v1h-1zM73 597h1v1h-1zM82 597h1v1h-1zM91 597h1v1h-1zM94 597h1v1h-1zM111 597h4v1h-4zM118 597h1v1h-1zM127 597h1v1h-1zM131 597h1v1h-1zM241 597h1v1h-1zM243 597h22v1h-22zM266 597h26v1h-26zM293 597h3v1h-3zM381 597h1v1h-1zM390 597h1v1h-1zM393 597h1v1h-1zM400 597h1v1h-1zM407 597h1v1h-1zM411 597h1v1h-1zM413 597h1v1h-1zM415 597h1v1h-1zM418 597h1v1h-1zM420 597h1v1h-1zM425 597h3v1h-3zM430 597h2v1h-2zM439 597h1v1h-1zM453 597h1v1h-1zM70 598h1v1h-1zM73 598h2v1h-2zM78 598h1v1h-1zM82 598h1v1h-1zM96 598h2v1h-2zM113 598h2v1h-2zM116 598h1v1h-1zM122 598h2v1h-2zM126 598h1v1h-1zM241 598h1v1h-1zM243 598h53v1h-53zM297 598h1v1h-1zM370 598h1v1h-1zM393 598h3v1h-3zM409 598h1v1h-1zM414 598h1v1h-1zM420 598h1v1h-1zM422 598h1v1h-1zM428 598h3v1h-3zM435 598h1v1h-1zM437 598h1v1h-1zM442 598h1v1h-1zM64 599h3v1h-3zM69 599h3v1h-3zM83 599h2v1h-2zM86 599h1v1h-1zM90 599h2v1h-2zM94 599h1v1h-1zM101 599h1v1h-1zM243 599h53v1h-53zM302 599h1v1h-1zM391 599h3v1h-3zM402 599h1v1h-1zM404 599h1v1h-1zM408 599h1v1h-1zM412 599h3v1h-3zM416 599h2v1h-2zM420 599h1v1h-1zM422 599h1v1h-1zM426 599h2v1h-2zM430 599h1v1h-1zM433 599h1v1h-1zM441 599h1v1h-1zM445 599h1v1h-1zM461 599h1v1h-1zM66 600h1v1h-1zM69 600h1v1h-1zM72 600h1v1h-1zM79 600h1v1h-1zM89 600h1v1h-1zM91 600h1v1h-1zM93 600h1v1h-1zM111 600h2v1h-2zM115 600h1v1h-1zM125 600h1v1h-1zM244 600h48v1h-48zM294 600h1v1h-1zM386 600h1v1h-1zM392 600h3v1h-3zM404 600h1v1h-1zM408 600h3v1h-3zM414 600h1v1h-1zM416 600h1v1h-1zM422 600h1v1h-1zM426 600h6v1h-6zM434 600h1v1h-1zM441 600h1v1h-1zM444 600h1v1h-1zM450 600h1v1h-1zM453 600h1v1h-1zM457 600h1v1h-1zM66 601h2v1h-2zM69 601h1v1h-1zM82 601h1v1h-1zM84 601h1v1h-1zM91 601h1v1h-1zM104 601h1v1h-1zM106 601h3v1h-3zM112 601h1v1h-1zM115 601h1v1h-1zM237 601h1v1h-1zM244 601h3v1h-3zM248 601h44v1h-44zM293 601h1v1h-1zM394 601h2v1h-2zM402 601h1v1h-1zM405 601h1v1h-1zM408 601h2v1h-2zM413 601h3v1h-3zM419 601h1v1h-1zM425 601h2v1h-2zM429 601h2v1h-2zM449 601h2v1h-2zM452 601h1v1h-1zM66 602h2v1h-2zM74 602h1v1h-1zM90 602h1v1h-1zM95 602h1v1h-1zM106 602h1v1h-1zM113 602h1v1h-1zM121 602h1v1h-1zM125 602h1v1h-1zM237 602h1v1h-1zM242 602h1v1h-1zM245 602h2v1h-2zM248 602h43v1h-43zM292 602h2v1h-2zM323 602h1v1h-1zM379 602h1v1h-1zM394 602h3v1h-3zM401 602h2v1h-2zM408 602h1v1h-1zM411 602h1v1h-1zM419 602h1v1h-1zM424 602h1v1h-1zM426 602h1v1h-1zM429 602h1v1h-1zM439 602h1v1h-1zM442 602h1v1h-1zM450 602h1v1h-1zM459 602h1v1h-1zM70 603h1v1h-1zM82 603h1v1h-1zM85 603h1v1h-1zM95 603h3v1h-3zM103 603h1v1h-1zM106 603h1v1h-1zM124 603h1v1h-1zM242 603h1v1h-1zM244 603h41v1h-41zM287 603h3v1h-3zM292 603h1v1h-1zM375 603h1v1h-1zM393 603h2v1h-2zM405 603h2v1h-2zM415 603h2v1h-2zM419 603h2v1h-2zM422 603h1v1h-1zM426 603h1v1h-1zM429 603h2v1h-2zM432 603h4v1h-4zM441 603h1v1h-1zM70 604h1v1h-1zM73 604h1v1h-1zM91 604h1v1h-1zM106 604h1v1h-1zM111 604h1v1h-1zM115 604h1v1h-1zM119 604h1v1h-1zM247 604h5v1h-5zM253 604h28v1h-28zM282 604h3v1h-3zM287 604h3v1h-3zM297 604h1v1h-1zM389 604h1v1h-1zM391 604h4v1h-4zM398 604h4v1h-4zM405 604h2v1h-2zM408 604h1v1h-1zM412 604h4v1h-4zM420 604h2v1h-2zM424 604h1v1h-1zM427 604h1v1h-1zM429 604h1v1h-1zM434 604h1v1h-1zM70 605h1v1h-1zM76 605h1v1h-1zM85 605h2v1h-2zM101 605h1v1h-1zM122 605h1v1h-1zM124 605h1v1h-1zM247 605h2v1h-2zM251 605h36v1h-36zM289 605h2v1h-2zM384 605h1v1h-1zM392 605h1v1h-1zM394 605h1v1h-1zM397 605h1v1h-1zM400 605h1v1h-1zM402 605h1v1h-1zM405 605h1v1h-1zM408 605h1v1h-1zM411 605h1v1h-1zM413 605h1v1h-1zM415 605h1v1h-1zM417 605h5v1h-5zM428 605h4v1h-4zM434 605h1v1h-1zM442 605h1v1h-1zM68 606h1v1h-1zM78 606h2v1h-2zM81 606h1v1h-1zM84 606h1v1h-1zM103 606h2v1h-2zM111 606h2v1h-2zM115 606h1v1h-1zM246 606h1v1h-1zM251 606h6v1h-6zM258 606h29v1h-29zM289 606h2v1h-2zM394 606h3v1h-3zM398 606h2v1h-2zM403 606h1v1h-1zM406 606h1v1h-1zM411 606h1v1h-1zM416 606h3v1h-3zM425 606h5v1h-5zM434 606h3v1h-3zM443 606h1v1h-1zM450 606h1v1h-1zM67 607h1v1h-1zM79 607h1v1h-1zM81 607h1v1h-1zM95 607h2v1h-2zM99 607h1v1h-1zM111 607h1v1h-1zM251 607h33v1h-33zM289 607h2v1h-2zM394 607h1v1h-1zM397 607h1v1h-1zM399 607h1v1h-1zM410 607h1v1h-1zM413 607h2v1h-2zM418 607h1v1h-1zM425 607h1v1h-1zM427 607h1v1h-1zM435 607h1v1h-1zM437 607h1v1h-1zM439 607h1v1h-1zM65 608h1v1h-1zM69 608h1v1h-1zM79 608h1v1h-1zM99 608h1v1h-1zM107 608h1v1h-1zM116 608h1v1h-1zM243 608h1v1h-1zM251 608h2v1h-2zM255 608h26v1h-26zM282 608h3v1h-3zM289 608h1v1h-1zM377 608h1v1h-1zM385 608h1v1h-1zM389 608h1v1h-1zM391 608h1v1h-1zM394 608h1v1h-1zM397 608h1v1h-1zM399 608h2v1h-2zM407 608h2v1h-2zM410 608h2v1h-2zM413 608h1v1h-1zM415 608h1v1h-1zM418 608h2v1h-2zM439 608h2v1h-2zM90 609h1v1h-1zM109 609h1v1h-1zM121 609h1v1h-1zM251 609h1v1h-1zM253 609h7v1h-7zM261 609h7v1h-7zM269 609h11v1h-11zM393 609h1v1h-1zM396 609h3v1h-3zM401 609h1v1h-1zM407 609h1v1h-1zM410 609h2v1h-2zM413 609h1v1h-1zM417 609h5v1h-5zM428 609h1v1h-1zM437 609h2v1h-2zM450 609h3v1h-3zM67 610h1v1h-1zM69 610h1v1h-1zM84 610h1v1h-1zM91 610h1v1h-1zM111 610h2v1h-2zM117 610h1v1h-1zM252 610h1v1h-1zM256 610h1v1h-1zM258 610h2v1h-2zM261 610h1v1h-1zM264 610h4v1h-4zM269 610h7v1h-7zM281 610h1v1h-1zM393 610h1v1h-1zM395 610h3v1h-3zM401 610h5v1h-5zM410 610h3v1h-3zM414 610h1v1h-1zM421 610h3v1h-3zM427 610h1v1h-1zM431 610h1v1h-1zM438 610h1v1h-1zM443 610h1v1h-1zM66 611h1v1h-1zM73 611h1v1h-1zM83 611h1v1h-1zM106 611h1v1h-1zM113 611h1v1h-1zM253 611h1v1h-1zM263 611h9v1h-9zM275 611h1v1h-1zM280 611h3v1h-3zM288 611h1v1h-1zM394 611h1v1h-1zM397 611h1v1h-1zM399 611h2v1h-2zM411 611h1v1h-1zM414 611h1v1h-1zM416 611h1v1h-1zM419 611h1v1h-1zM422 611h3v1h-3zM427 611h1v1h-1zM82 612h2v1h-2zM92 612h1v1h-1zM116 612h1v1h-1zM238 612h1v1h-1zM262 612h1v1h-1zM270 612h2v1h-2zM389 612h1v1h-1zM394 612h1v1h-1zM397 612h1v1h-1zM400 612h1v1h-1zM408 612h7v1h-7zM86 613h4v1h-4zM96 613h1v1h-1zM116 613h1v1h-1zM244 613h1v1h-1zM247 613h2v1h-2zM262 613h1v1h-1zM273 613h1v1h-1zM288 613h1v1h-1zM382 613h1v1h-1zM395 613h2v1h-2zM400 613h2v1h-2zM409 613h4v1h-4zM414 613h1v1h-1zM420 613h1v1h-1zM429 613h4v1h-4zM436 613h1v1h-1zM70 614h1v1h-1zM72 614h1v1h-1zM75 614h1v1h-1zM77 614h1v1h-1zM81 614h1v1h-1zM85 614h1v1h-1zM87 614h3v1h-3zM97 614h1v1h-1zM104 614h1v1h-1zM113 614h3v1h-3zM234 614h1v1h-1zM244 614h1v1h-1zM246 614h2v1h-2zM281 614h1v1h-1zM387 614h1v1h-1zM395 614h1v1h-1zM399 614h2v1h-2zM406 614h1v1h-1zM414 614h1v1h-1zM419 614h1v1h-1zM424 614h1v1h-1zM428 614h5v1h-5zM74 615h2v1h-2zM77 615h1v1h-1zM88 615h2v1h-2zM99 615h1v1h-1zM247 615h1v1h-1zM265 615h1v1h-1zM289 615h1v1h-1zM393 615h3v1h-3zM404 615h1v1h-1zM406 615h1v1h-1zM412 615h1v1h-1zM417 615h1v1h-1zM420 615h2v1h-2zM424 615h1v1h-1zM427 615h2v1h-2zM432 615h1v1h-1zM435 615h1v1h-1zM75 616h1v1h-1zM84 616h1v1h-1zM253 616h1v1h-1zM279 616h1v1h-1zM395 616h1v1h-1zM400 616h1v1h-1zM403 616h1v1h-1zM406 616h1v1h-1zM409 616h2v1h-2zM412 616h1v1h-1zM416 616h1v1h-1zM421 616h1v1h-1zM424 616h2v1h-2zM431 616h1v1h-1zM78 617h1v1h-1zM83 617h1v1h-1zM85 617h1v1h-1zM110 617h3v1h-3zM257 617h1v1h-1zM280 617h1v1h-1zM409 617h3v1h-3zM419 617h1v1h-1zM79 618h1v1h-1zM81 618h1v1h-1zM90 618h2v1h-2zM93 618h2v1h-2zM101 618h1v1h-1zM112 618h1v1h-1zM265 618h1v1h-1zM280 618h1v1h-1zM282 618h1v1h-1zM406 618h2v1h-2zM413 618h1v1h-1zM415 618h1v1h-1zM424 618h1v1h-1zM426 618h1v1h-1zM77 619h1v1h-1zM85 619h2v1h-2zM90 619h1v1h-1zM95 619h1v1h-1zM241 619h1v1h-1zM249 619h1v1h-1zM260 619h1v1h-1zM265 619h1v1h-1zM400 619h1v1h-1zM403 619h1v1h-1zM408 619h1v1h-1zM411 619h2v1h-2zM415 619h1v1h-1zM420 619h1v1h-1zM75 620h1v1h-1zM81 620h1v1h-1zM90 620h1v1h-1zM94 620h1v1h-1zM99 620h1v1h-1zM256 620h1v1h-1zM270 620h1v1h-1zM285 620h1v1h-1zM411 620h1v1h-1zM414 620h2v1h-2zM420 620h1v1h-1zM71 621h2v1h-2zM80 621h1v1h-1zM83 621h1v1h-1zM87 621h1v1h-1zM95 621h1v1h-1zM97 621h2v1h-2zM113 621h1v1h-1zM233 621h1v1h-1zM247 621h1v1h-1zM260 621h1v1h-1zM275 621h1v1h-1zM286 621h1v1h-1zM386 621h1v1h-1zM415 621h1v1h-1zM418 621h1v1h-1zM74 622h1v1h-1zM80 622h1v1h-1zM83 622h1v1h-1zM85 622h1v1h-1zM88 622h1v1h-1zM96 622h2v1h-2zM245 622h1v1h-1zM271 622h1v1h-1zM399 622h1v1h-1zM406 622h1v1h-1zM422 622h1v1h-1zM85 623h1v1h-1zM91 623h1v1h-1zM242 623h3v1h-3zM250 623h1v1h-1zM263 623h1v1h-1zM268 623h1v1h-1zM271 623h1v1h-1zM75 624h1v1h-1zM85 624h1v1h-1zM249 624h1v1h-1zM263 624h2v1h-2zM267 624h1v1h-1zM290 624h1v1h-1zM72 625h2v1h-2zM91 625h2v1h-2zM264 625h1v1h-1zM276 625h1v1h-1zM281 625h1v1h-1zM74 626h1v1h-1zM80 626h1v1h-1zM85 626h1v1h-1zM88 626h1v1h-1zM91 626h1v1h-1zM95 626h1v1h-1zM226 626h1v1h-1zM242 626h1v1h-1zM255 626h1v1h-1zM73 627h1v1h-1zM82 627h1v1h-1zM87 627h3v1h-3zM91 627h2v1h-2zM256 627h2v1h-2zM424 627h1v1h-1zM72 628h1v1h-1zM81 628h1v1h-1zM91 628h2v1h-2zM242 628h1v1h-1zM255 628h3v1h-3zM261 628h1v1h-1zM282 628h1v1h-1zM85 629h1v1h-1zM238 629h1v1h-1zM249 629h1v1h-1zM277 629h1v1h-1zM89 630h1v1h-1zM93 630h1v1h-1zM234 630h1v1h-1zM272 630h1v1h-1zM262 631h1v1h-1zM230 632h1v1h-1zM237 633h1v1h-1zM420 633h1v1h-1z" fill="#000"/>
<path transform="scale(.1)" d="M2613 629h15m61 33h15m-1701 40h15m1596 8h15m-27 6h15m-13 1h15m-57 8h15m7 2h15m-9 1h15m-17 2h15m113 3h15m-165 1h15m-4 2h15m13 0h15m-71 1h15m14 0h15m-1275 1h15m1434 0h15m-229 0h15m58 1h15m-1557 0h15m1470 2h15m-1249 1h15m1245 3h15m-1527 2h15m1465 1h15m-1570 0h15m121 1h15m1466 0h15m-3 1h15m-1622 1h15m22 1h15m0 1h15m1768 2h15m-284 0h15m7 1h15m-1568 0h15m1555 1h15m321 0h15m-1594 0h15m1193 1h15m-1532 1h15m470 0h15m-105 0h15m1061 1h15m-1483 1h15m1816 2h15m-373 1h15m-1290 0h15m-223 0h15m-51 2h15m1542 0h15m-1558 0h15m-48 0h15m1503 1h15m-1475 0h15m1515 1h15m133 0h15m-163 0h15m-112 1h15m-1494 1h15m-32 0h15m438 1h15m-388 0h15m50 0h15m-148 1h15m-48 1h15m1598 1h15m-1607 0h15m1594 1h15m-106 0h15m-1464 1h15m-69 0h15m1456 1h15m1 0h15m-1122 0h15m-392 0h15m62 0h15m1562 1h15m-167 1h15m217 0h15m-1657 1h15m2785 0h15m-2733 1h15m-116 0h15m-106 0h15m-46 1h15m1640 1h15m-1539 0h15m1488 1h15m-26 0h15m-101 0h15m2 1h15m81 1h15m-1636 0h15m152 1h15m-50 0h15m-157 0h15m1513 0h15m-47 0h15m-1276 1h15m2751 0h15m-1524 1h15m-1541 0h15m1723 0h15m-234 1h15m177 0h15m-175 0h15m-1569 0h15m1529 1h15m0 0h15m-1556 1h15m1607 0h15m-1509 0h15m-118 0h15m1505 0h15m45 1h15m-107 0h15m-1528 1h15m1590 0h15m-1638 0h15m3416 0h15m-3419 0h15m1483 1h15m-1518 1h15m-17 1h15m276 0h15m1679 0h15m-2000 0h15m1611 0h15m-1520 1h15m3449 0h15m-3330 0h15m141 2h15m1066 1h15m2067 0h15m-179 1h15m-1900 0h15m2106 0h15m-2137 0h15m-1423 0h15m-208 0h15m1758 1h15m-1777 0h15m1596 0h15m-57 0h15m-14 0h15m-1417 0h15m-10 1h15m23 0h15m-194 1h15m1579 0h15m-1194 0h15m1363 1h15m-1654 0h15m1359 0h15m-1555 1h15m1592 0h15m-1629 0h15m-4 0h15m125 0h15m1382 1h15m-1066 0h15m1146 1h15m-147 0h15m301 0h15m-82 1h15m-1603 0h15m1300 0h15m120 1h15m151 0h15m1482 0h15m-1814 1h15m-1302 0h15m1455 0h15m-164 1h15m-1382 0h15m3259 1h15m-1649 0h15m-146 1h15m-1247 0h15m164 2h15m1104 1h15m-141 1h15m-1465 0h15m1330 1h15m132 0h15m-10 0h15m-1527 0h15m1592 1h15m-272 0h15m97 0h15m-1468 0h15m1437 0h15m-98 0h15m-29 1h15m-1136 0h15m1100 1h15m76 0h15m-1403 0h15m-25 1h15m-66 0h15m1505 0h15m-1712 1h15m1803 1h15m-146 0h15m310 1h15m-506 1h15m-1542 0h15m2932 1h15m-1254 0h15m-1724 1h15m1516 0h15m164 0h15m140 1h15m-1883 1h15m1511 0h15m-1547 0h15m3412 0h15m-1759 1h15m16 0h15m-1 0h15m-1670 0h15m161 1h15m1428 0h15m1624 0h15m-1811 0h15m135 0h15m-1420 1h15m-232 0h15m205 0h15m49 0h15m1500 1h15m-1803 0h15m-11 0h15m-87 0h15m-11 0h15m-20 0h15m1665 0h15m1505 0h15m-3238 1h15m3248 0h15m-1569 0h15m262 0h15m-442 0h15m-1548 0h15m-14 0h15m1480 2h15m158 0h15m-1633 0h15m3121 0h15m-2987 0h15m-290 1h15m1729 0h15m-1461 0h15m1409 0h15m22 1h15m-1493 0h15m4 1h15m-54 0h15m261 0h15m-292 0h15m-254 0h15m13 2h15m-16 1h15m-32 0h15m1826 1h15m1588 0h15m-1942 0h15m365 0h15m-1678 0h15m1303 1h15m348 0h15m-378 0h15m-1332 1h15m1561 0h15m-1544 0h15m1191 1h15m262 0h15m-297 1h15m11 1h15m-886 0h15m-434 0h15m1316 0h15m-21 1h15m-1472 0h15m554 0h15m1123 0h15m-97 0h15m-18 0h15m-16 1h15m-1520 0h15m-16 0h15m80 1h15m1202 0h15m273 0h15m-275 0h15m-1334 1h15m1454 0h15m-1716 0h15m1720 0h15m-229 1h15m-1546 0h15m456 0h15m-154 0h15m1213 1h15m-1316 0h15m3319 0h15m-1798 2h15m-1825 0h15m3167 0h15m-1440 0h15m-57 1h15m267 1h15m-33 0h15m1310 0h15m-1514 0h15m-93 1h15m-1520 0h15m36 0h15m1668 0h15m-257 1h15m-1509 0h15m1660 0h15m-1471 0h15m-192 1h15m1455 0h15m-1521 0h15m1254 0h15m-1287 1h15m-245 1h15m1521 0h15m-1550 1h15m202 0h15m1272 0h15m-26 1h15m-1504 0h15m258 0h15m11 0h15m2871 0h15m-1226 1h15m-249 0h15m-1492 0h15m3213 0h15m291 0h15m-788 1h15m-1115 0h15m-428 0h15m320 0h15m-1881 0h15m3040 0h15m-1546 0h15m-1285 0h15m1704 1h15m1250 0h15m-1325 0h15m-171 1h15m-1776 0h15m1966 0h15m-1683 0h15m1556 1h15m-1621 0h15m-282 0h15m3171 1h15m464 0h15m-1786 0h15m-1626 1h15m1604 0h15m315 0h15m-741 1h15m-1219 0h15m1212 0h15m207 0h15m77 1h15m-1648 1h15m1549 0h15m-1540 1h15m2829 1h15m-27 0h15m482 0h15m-2079 1h15m-1541 0h15m1528 0h15m-1300 0h15m-10 0h15m-38 0h15m2957 1h15m-3263 0h15m3152 0h15m403 1h15m-2049 0h15m2040 0h15m-487 0h15m-1208 0h15m-91 0h15m15 0h15m-1926 1h15m1890 0h15m-1892 0h15m3592 0h15m108 1h15m-3401 0h15m-112 0h15m-8 0h15m1281 0h15m475 0h15m956 1h15m-1170 0h15m-1623 0h15m35 0h15m1578 0h15m42 1h15m-83 0h15m1351 0h15m-2942 0h15m1439 0h15m-256 0h15m-1266 1h15m1234 0h15m-1570 0h15m3594 0h15m-3342 0h15m2957 1h15m-1708 0h15m1998 1h15m-3555 0h15m3507 0h15m-442 0h15m703 0h15m-3510 0h15m1447 1h15m1250 0h15m567 0h15m-2119 0h15m-20 0h15m1775 1h15m-1563 0h15m1634 0h15m144 0h15m-1729 0h15m1476 1h15m-1603 0h15m-1383 1h15m1084 0h15m-1544 0h15m1783 0h15m-1783 0h15m1780 1h15m-1564 0h15m3296 0h15m-353 0h15m103 0h15m-1484 0h15m-388 1h15m1835 0h15m-1820 0h15m-108 0h15m-958 0h15m-270 0h15m-252 1h15m-49 0h15m347 0h15m2663 0h15m-2748 0h15m2733 1h15m55 0h15m195 0h15m-1567 0h15m180 0h15m1296 0h15m-1293 1h15m1249 1h15m-1420 0h15m-1890 0h15m277 0h15m-301 0h15m3150 1h15m-2868 0h15m1700 0h15m-519 0h15m-1165 0h15m1393 0h15m1435 1h15m-1279 0h15m1313 0h15m-1382 0h15m-1637 0h15m3167 0h15m-3247 1h15m-22 0h15m70 0h15m1173 0h15m-1287 0h15m3165 1h15m-376 0h15m485 0h15m-361 0h15m-189 1h15m-1528 0h15m-40 0h15m-45 0h15m14 1h15m11 0h15m301 0h15m-319 0h15m212 0h15m-247 0h15m-1583 0h15m349 0h15m37 1h15m2588 0h15m598 0h15m-1849 0h15m1339 0h15m-73 0h15m-59 1h15m249 1h15m344 0h15m-473 0h15m372 0h15m-245 0h15m-1860 0h15m1536 1h15m14 0h15m248 0h15m136 0h15m-3621 0h15m1999 0h15m1287 1h15m178 0h15m-79 0h15m-1572 0h15m1160 1h15m232 0h15m29 0h15m-3280 0h15m1880 0h15m1665 0h15m-3249 1h15m3194 0h15m-1564 0h15m1429 0h15m-3202 0h15m1729 1h15m1147 0h15m129 0h15m-1434 0h15m1603 0h15m-3256 0h15m1613 0h15m-1309 0h15m2444 0h15m547 1h15m-3619 0h15m-17 0h15m1946 0h15m-1991 0h15m3611 1h15m43 0h15m-3728 0h15m288 0h15m3184 0h15m-3505 0h15m3590 0h15m-609 1h15m239 0h15m-145 0h15m121 0h15m264 1h15m3 0h15m120 0h15m-544 1h15m-1223 0h15m1705 0h15m-131 0h15m-1525 0h15m1555 0h15m-371 0h15m-126 0h15m680 0h15m-1743 0h15m-113 0h15m1168 0h15m557 0h15m-480 0h15m-1303 1h15m-2071 0h15m1939 0h15m-34 0h15m1229 0h15m531 0h15m-1766 0h15m1543 0h15m14 0h15m-3214 1h15m2975 0h15m-1512 0h15m1398 0h15m14 0h15m198 0h15m-3574 0h15m1611 0h15m-18 0h15m2088 0h15m-401 1h15m-1764 0h15m532 0h15m-16 0h15m-164 0h15m1262 0h15m-1668 0h15m-1568 1h15m2010 0h15m-225 0h15m-107 0h15m-1 0h15m1732 0h15m-103 0h15m-270 0h15m-2868 0h15m1216 0h15m1528 1h15m291 0h15m-1643 0h15m-21 0h15m1971 0h15m-601 0h15m-1580 0h15m383 0h15m-192 0h15m-18 0h15m1778 0h15m-553 0h15m-1248 1h15m1700 0h15m-1550 0h15m1240 0h15m-1305 0h15m232 0h15m1283 0h15m-402 0h15m-1409 0h15m-1206 0h15m2973 0h15m-3218 0h15m1444 0h15m-1495 0h15m3121 0h15m-1670 1h15m-1363 0h15m1343 0h15m1650 0h15m-506 0h15m-1203 0h15m1497 1h15m-1487 0h15m-103 0h15m-165 0h15m155 0h15m-1814 0h15m3677 0h15m-1819 0h15m-106 1h15m-1298 0h15m2701 0h15m-91 0h15m-1389 0h15m1413 0h15m366 0h15m-1757 0h15m286 0h15m-1773 1h15m3353 0h15m-171 0h15m-3566 0h15m3327 0h15m143 0h15m-3075 0h15m1389 0h15m-294 0h15m-20 0h15m1536 0h15m95 1h15m-1441 0h15m-267 0h15m261 0h15m1956 0h15m-557 0h15m366 0h15m-429 0h15m-1284 0h15m-234 0h15m1637 1h15m-251 0h15m-1309 1h15m1352 0h15m-2804 0h15m3287 0h15m-404 0h15m179 0h15m-3545 0h15m3602 0h15m-444 0h15m-1229 0h15m1618 0h15m-593 1h15m61 0h15m332 0h15m-1689 0h15m-1253 0h15m1585 0h15m1274 0h15m271 0h15m-489 1h15m113 0h15m-3107 0h15m1484 0h15m1891 0h15m-545 0h15m-1630 0h15m1900 1h15m192 0h15m-1833 0h15m136 0h15m-451 0h15m1528 0h15m466 0h15m-3126 0h15m1011 0h15m1635 1h15m583 0h15m-109 0h15m-3698 0h15m2160 0h15m1331 0h15m-1730 0h15m1787 0h15m-3589 1h15m1882 0h15m1263 0h15m494 0h15m-622 0h15m299 0h15m-92 0h15m111 1h15m-3451 0h15m1515 0h15m-35 0h15m1663 0h15m-1140 0h15m1200 1h15m-1065 0h15m1472 0h15m-1993 0h15m1904 0h15m7 0h15m-1582 0h15m-1857 0h15m3399 0h15m-3732 0h15m3198 1h15m-1726 0h15m382 0h15m1803 0h15m-89 0h15m-3672 0h15m367 1h15m2867 0h15m12 0h15m-1541 0h15m1940 0h15m-2162 0h15m1987 0h15m-157 0h15m-2829 0h15m1439 0h15m1381 0h15m-1718 0h15m358 0h15m-276 0h15m1 0h15m-1447 1h15m-472 0h15m1802 0h15m1896 0h15m-2214 0h15m-1507 0h15m3074 0h15m385 0h15m-3240 0h15m3558 1h15m-3888 0h15m3633 0h15m-250 0h15m-219 0h15m304 0h15m-1703 0h15m1954 0h15m-307 0h15m-213 0h15m478 0h15m-294 0h15m117 0h15m-3595 0h15m366 0h15m-388 0h15m3435 0h15m-1714 0h15m1599 0h15m-32 0h15m-1492 0h15m-1895 1h15m1933 0h15m-2049 0h15m3534 0h15m-113 0h15m223 0h15m-1861 0h15m-355 0h15m1883 0h15m-302 0h15m-1595 0h15m221 1h15m-141 0h15m-151 0h15m1640 0h15m343 0h15m-289 0h15m-1414 0h15m1250 0h15m-1469 0h15m138 0h15m-1792 0h15m3145 1h15m-1429 0h15m1616 0h15m-41 0h15m-1742 0h15m86 0h15m1909 0h15m-1920 0h15m1911 0h15m-468 0h15m-65 0h15m-1556 0h15m-108 0h15m1718 1h15m439 0h15m-1708 0h15m-1568 0h15m1240 0h15m1822 0h15m-329 0h15m-1791 0h15m285 0h15m1780 0h15m-2969 1h15m1203 0h15m1354 0h15m223 0h15m-183 0h15m-175 0h15m-2739 0h15m3073 0h15m-271 0h15m-211 0h15m-1416 1h15m277 0h15m1825 0h15m-3725 0h15m3095 0h15m211 0h15m-1577 0h15m1853 0h15m-3638 0h15m3046 1h15m-3178 0h15m1648 0h15m-1370 0h15m3281 0h15m-1625 0h15m-2009 0h15m1799 0h15m-163 0h15m1507 1h15m80 0h15m-1436 0h15m144 0h15m-388 0h15m-1708 0h15m33 0h15m3634 0h15m-2018 0h15m1437 0h15m274 1h15m-3387 0h15m2125 0h15m-2157 0h15m1986 0h15m1837 0h15m-2351 0h15m1586 0h15m666 0h15m-182 0h15m-1848 0h15m16 0h15m1237 0h15m56 0h15m-146 0h15m510 1h15m-1548 0h15m1765 0h15m-7 0h15m-627 0h15m102 0h15m-3335 0h15m3645 0h15m-40 0h15m-2135 0h15m411 1h15m1241 0h15m-3185 0h15m1474 0h15m1470 0h15m576 0h15m-1592 0h15m1428 0h15m141 1h15m-1798 0h15m-33 0h15m-1851 0h15m-31 0h15m3421 0h15m-81 0h15m-2676 0h15m1139 0h15m1289 1h15m-3110 0h15m3744 0h15m-606 0h15m-128 0h15m-1579 0h15m2042 0h15m-2096 0h15m129 0h15m1952 0h15m-2109 0h15m-1233 0h15m2905 0h15m-1374 0h15m-344 0h15m443 0h15m1703 1h15m-2189 0h15m-1532 0h15m1941 0h15m-1685 0h15m1808 0h15m950 0h15m405 0h15m236 0h15m-235 0h15m-1910 1h15m1812 0h15m-45 0h15m-389 0h15m582 0h15m-583 0h15m48 0h15m-3074 0h15m-127 0h15m3696 0h15m-2228 0h15m-1217 1h15m-319 0h15m3026 0h15m-3065 0h15m3091 1h15m413 0h15m-183 0h15m-3386 0h15m3763 0h15m-468 0h15m436 0h15m-3676 0h15m3192 0h15m322 0h15m149 0h15m-531 1h15m473 0h15m-147 0h15m5 0h15m-1780 0h15m1354 0h15m-121 1h15m-3077 0h15m3515 0h15m-1699 0h15m-465 0h15m366 0h15m1112 0h15m174 0h15m518 0h15m-3477 1h15m2849 0h15m-1246 0h15m1389 0h15m378 0h15m-64 0h15m-2155 0h15m-1410 0h15m3471 0h15m-282 0h15m-279 0h15m84 0h15m474 1h15m-98 0h15m-435 0h15m-1149 0h15m1235 0h15m31 0h15m155 0h15m-3545 1h15m3625 0h15m261 0h15m-463 0h15m-3154 0h15m2 0h15m3018 0h15m377 1h15m-1672 0h15m1096 0h15m-1295 0h15m1529 0h15m-1623 0h15m1886 0h15m-2239 0h15m2123 0h15m-3394 0h15m2752 0h15m251 1h15m-1353 0h15m-322 0h15m351 0h15m1057 0h15m785 0h15m-209 0h15m-2205 0h15m-1417 0h15m2030 1h15m1460 0h15m-380 0h15m-1371 0h15m1218 0h15m-2873 0h15m3537 0h15m-60 0h15m23 0h15m-492 0h15m362 0h15m-423 0h15m36 0h15m107 0h15m-3238 0h15m2890 1h15m-147 0h15m-1222 0h15m1455 0h15m-1668 0h15m207 0h15m-1887 0h15m3543 0h15m64 0h15m-3386 0h15m3245 0h15m-1495 1h15m1678 0h15m-2083 0h15m1820 0h15m-3240 0h15m3123 0h15m200 0h15m-189 0h15m-260 0h15m-1578 0h15m1970 0h15m-1632 0h15m1007 0h15m739 0h15m-1906 0h15m-1954 0h15m299 0h15m2706 0h15m-1345 1h15m377 0h15m1565 0h15m-526 0h15m271 0h15m-1590 0h15m-203 0h15m1965 0h15m-52 0h15m-1781 1h15m1364 0h15m-1070 0h15m1221 0h15m-3149 0h15m1397 0h15m1931 0h15m-171 0h15m-3192 0h15m3095 0h15m-215 0h15m371 1h15m-258 0h15m-59 0h15m386 0h15m-73 0h15m1 0h15m-1872 0h15m1612 0h15m40 0h15m-1921 0h15m-1303 0h15m-314 0h15m3323 0h15m-1593 0h15m1743 0h15m188 0h15m-1907 0h15m1722 0h15m-454 0h15m-1327 0h15m-148 0h15m1566 0h15m403 1h15m-3429 0h15m1778 0h15m1146 0h15m-2970 0h15m3403 0h15m-3694 0h15m3460 0h15m-1719 0h15m1285 0h15m-1174 0h15m-266 0h15m-1411 0h15m3590 1h15m-593 0h15m386 0h15m-149 0h15m-1894 0h15m367 0h15m1135 0h15m15 0h15m169 0h15m-1365 0h15m-278 0h15m1273 1h15m-103 0h15m-1346 0h15m1858 0h15m-1802 0h15m24 0h15m113 0h15m1409 0h15m211 1h15m-1996 0h15m1859 0h15m-1738 0h15m-1759 0h15m1641 0h15m-1154 0h15m2549 0h15m233 1h15m11 0h15m-1623 0h15m-1776 0h15m1797 0h15m1839 0h15m-516 0h15m349 0h15m-295 0h15m144 0h15m-1536 1h15m1302 0h15m-1192 0h15m1583 0h15m-1489 0h15m1195 0h15m443 0h15m-659 1h15m-126 0h15m-1274 0h15m1695 0h15m-234 0h15m-1515 0h15m-1826 0h15m3207 1h15m-79 0h15m-1352 0h15m82 0h15m1196 0h15m-1537 0h15m648 0h15m746 0h15m755 0h15m-2277 0h15m1640 0h15m653 0h15m-2084 1h15m1638 0h15m-1751 0h15m302 0h15m-310 0h15m1880 0h15m-1748 0h15m-302 0h15m2155 0h15m-1927 0h15m46 0h15m1622 1h15m196 0h15m13 0h15m-3350 0h15m3372 0h15m-3588 0h15m2994 0h15m14 0h15m478 0h15m-1868 1h15m1484 0h15m127 0h15m-1709 0h15m161 0h15m-111 0h15m-1924 0h15m3035 0h15m167 0h15m-1783 0h15m1773 0h15m380 0h15m-283 1h15m-3474 0h15m1699 0h15m1596 0h15m332 0h15m-1737 0h15m-1904 0h15m2053 0h15m-2083 0h15m3087 0h15m551 0h15m-619 0h15m33 1h15m-1647 0h15m2081 0h15m-2085 0h15m439 0h15m1048 0h15m-3068 0h15m3299 0h15m529 0h15m-2349 0h15m2061 0h15m-487 1h15m-1634 0h15m1962 0h15m-316 0h15m-1069 0h15m912 0h15m83 0h15m-1680 0h15m341 0h15m-196 0h15m294 0h15m1372 0h15m-1212 0h15m1604 0h15m-239 0h15m-325 0h15m175 1h15m46 0h15m-203 0h15m441 0h15m-514 0h15m498 0h15m-2290 0h15m286 0h15m271 0h15m1173 0h15m-72 1h15m33 0h15m-243 0h15m-3062 0h15m3105 0h15m-972 0h15m-639 0h15m-1501 0h15m1674 0h15m57 0h15m-44 1h15m-1548 0h15m-5 0h15m-274 0h15m238 0h15m3528 0h15m-143 0h15m17 0h15m-418 0h15m-132 1h15m51 0h15m-172 0h15m-1592 0h15m1845 0h15m313 0h15m-3463 0h15m3436 0h15m-495 0h15m642 0h15m-3850 0h15m2959 0h15m423 0h15m145 1h15m-3676 0h15m3407 0h15m489 0h15m-1991 0h15m1261 0h15m-1611 0h15m1514 0h15m91 0h15m-1315 1h15m-14 0h15m1851 0h15m-40 0h15m-199 0h15m-3372 0h15m1596 0h15m-337 0h15m231 0h15m1285 0h15m-1140 0h15m1456 0h15m-235 0h15m368 0h15m-2007 0h15m2233 0h15m-2341 0h15m-1297 0h15m0 1h15m3132 0h15m199 0h15m27 0h15m-1548 0h15m906 0h15m609 1h15m-3428 0h15m1399 0h15m-8 0h15m1970 0h15m-126 0h15m-1669 0h15m-131 0h15m1630 0h15m-1919 0h15m226 0h15m-118 0h15m216 0h15m1341 0h15m-2806 0h15m3460 0h15m-679 0h15m367 1h15m-284 0h15m-1876 0h15m1929 0h15m375 0h15m-785 0h15m0 0h15m-1393 0h15m1645 0h15m-184 0h15m-1513 1h15m1902 0h15m-1935 0h15m-208 0h15m1695 0h15m-3248 0h15m3188 0h15m-1294 0h15m363 0h15m911 0h15m-52 0h15m-1480 0h15m182 0h15m-222 0h15m2163 1h15m-564 0h15m129 0h15m-157 0h15m11 0h15m-1272 0h15m1379 0h15m-1802 0h15m-63 0h15m2228 0h15m-361 1h15m267 0h15m-93 0h15m-2129 0h15m-122 0h15m1796 0h15m-1861 0h15m-1550 0h15m1722 0h15m137 0h15m1517 1h15m-251 0h15m47 0h15m-215 0h15m142 0h15m80 0h15m-1624 0h15m2182 0h15m-108 0h15m-503 0h15m646 0h15m-564 0h15m-3390 1h15m3071 0h15m-3115 0h15m3653 0h15m-2001 0h15m1341 0h15m405 0h15m-427 0h15m868 0h15m-373 1h15m313 0h15m-664 0h15m-3245 0h15m3616 0h15m-344 0h15m-3072 0h15m3483 0h15m-1920 0h15m-168 0h15m-39 1h15m141 0h15m1933 0h15m-256 0h15m-1799 0h15m196 0h15m-294 0h15m1817 0h15m-154 0h15m-1530 0h15m-319 0h15m-1562 0h15m3755 0h15m-3546 0h15m1486 1h15m-1714 0h15m1484 0h15m476 0h15m-2061 0h15m1737 0h15m-187 0h15m-1609 0h15m3328 0h15m420 1h15m-235 0h15m-128 0h15m-1763 0h15m1982 0h15m-555 0h15m-1469 0h15m2027 0h15m-1640 0h15m1062 1h15m356 0h15m-1740 0h15m1640 0h15m-323 0h15m307 0h15m-358 0h15m517 0h15m-191 0h15m-1636 0h15m-1837 0h15m1489 1h15m196 0h15m-1731 0h15m1710 0h15m1300 0h15m-1565 0h15m224 0h15m47 0h15m-1826 0h15m195 0h15m2967 0h15m-1558 0h15m75 0h15m472 0h15m-702 1h15m1993 0h15m-2023 0h15m1527 0h15m-75 0h15m284 0h15m-1611 0h15m112 0h15m-331 0h15m2171 0h15m-745 0h15m888 0h15m-665 1h15m502 0h15m-209 0h15m-36 0h15m-1456 0h15m1469 0h15m-1864 0h15m180 0h15m-64 0h15m1729 0h15m112 1h15m-384 0h15m452 0h15m-393 0h15m-1782 0h15m1284 0h15m-2790 0h15m3404 0h15m-3488 0h15m2803 1h15m96 0h15m-2933 0h15m1677 0h15m1514 0h15m145 0h15m-300 0h15m-1430 0h15m1850 0h15m-434 0h15m-1730 0h15m1594 1h15m-1513 0h15m1382 0h15m544 0h15m-1722 0h15m1438 0h15m-1555 0h15m-152 0h15m1929 0h15m-492 0h15m-157 0h15m-1 0h15m584 0h15m-535 0h15m-1662 1h15m1707 0h15m-3194 0h15m3058 0h15m-1280 0h15m-1644 0h15m1820 0h15m-624 1h15m14 0h15m2282 0h15m-2096 0h15m-1531 0h15m1256 0h15m304 0h15m1795 0h15m-124 0h15m108 1h15m-1810 0h15m1393 0h15m-3254 0h15m3166 0h15m-1660 1h15m300 0h15m1321 0h15m-1719 0h15m2137 0h15m-620 0h15m-2979 1h15m156 0h15m3445 0h15m-2181 0h15m-60 0h15m18 0h15m-6 0h15m95 0h15m1416 0h15m251 0h15m-3265 0h15m1757 0h15m-339 1h15m1706 0h15m456 0h15m-1902 0h15m-1784 0h15m2959 0h15m307 0h15m-1541 0h15m1224 1h15m504 0h15m-79 0h15m-52 0h15m-3441 0h15m1827 0h15m1604 0h15m-435 0h15m-1565 0h15m1933 0h15m-1611 0h15m1 0h15m1345 0h15m-37 0h15m-1012 0h15m1609 0h15m-443 0h15m-1914 1h15m2192 0h15m-445 0h15m-1440 0h15m1263 0h15m-3238 0h15m3863 0h15m-2043 0h15m142 0h15m-1992 1h15m3205 0h15m-1403 0h15m-1624 0h15m1484 0h15m253 0h15m-67 0h15m-1738 0h15m3606 0h15m-3776 0h15m3715 0h15m-2286 0h15m-20 1h15m2043 0h15m218 0h15m-278 0h15m-78 0h15m103 0h15m-407 0h15m216 0h15m254 0h15m-360 0h15m-3312 0h15m3482 1h15m-139 0h15m177 0h15m-545 0h15m174 0h15m-1559 0h15m46 0h15m2078 0h15m-1792 0h15m1678 0h15m-2073 1h15m1995 0h15m-225 0h15m-269 0h15m-1338 0h15m1522 0h15m-233 0h15m45 0h15m-1645 0h15m2182 0h15m-3741 0h15m2898 0h15m-2935 1h15m3242 0h15m402 0h15m-657 0h15m79 0h15m-3408 0h15m1525 0h15m2338 0h15m-3627 0h15m3143 0h15m-1602 0h15m-1584 1h15m1599 0h15m1506 0h15m-3414 0h15m3464 0h15m229 0h15m-682 1h15m763 0h15m-1752 0h15m1041 0h15m28 0h15m35 0h15m247 0h15m-408 0h15m102 0h15m-2992 0h15m2946 0h15m-3250 0h15m3688 0h15m-2178 0h15m2288 0h15m16 0h15m-318 1h15m-391 0h15m-3072 0h15m3645 0h15m-714 0h15m-2839 0h15m2797 1h15m299 0h15m-1631 0h15m104 0h15m1861 0h15m-111 0h15m-2109 0h15m524 0h15m-602 0h15m-1438 0h15m152 0h15m3473 0h15m-733 1h15m-1150 0h15m-329 0h15m503 0h15m1684 0h15m-374 0h15m-1399 0h15m-290 0h15m1530 0h15m-1759 0h15m275 1h15m1797 0h15m-256 0h15m-281 0h15m-13 0h15m679 0h15m-535 0h15m-3393 0h15m1771 1h15m1818 0h15m-110 0h15m-3504 0h15m1871 0h15m-1876 0h15m1532 0h15m2336 0h15m-496 0h15m-3226 0h15m1262 0h15m2152 0h15m-1890 0h15m1614 0h15m-403 1h15m737 0h15m129 0h15m-3943 0h15m3087 0h15m-1215 0h15m1655 0h15m-1838 0h15m1538 0h15m-309 0h15m221 0h15m-3164 0h15m3056 1h15m-102 0h15m575 0h15m9 0h15m-3695 0h15m1735 0h15m-1803 0h15m1559 0h15m-1467 0h15m3567 0h15m-3687 0h15m1919 0h15m-1859 0h15m3374 0h15m-144 0h15m116 0h15m-1952 1h15m2282 0h15m-3873 0h15m3491 0h15m365 0h15m-23 0h15m-110 0h15m115 0h15m-488 0h15m459 0h15m-416 0h15m-168 0h15m-1812 0h15m2328 0h15m-302 0h15m-306 0h15m-1355 0h15m1074 1h15m-2878 0h15m1346 0h15m-28 0h15m312 0h15m-153 0h15m1661 0h15m-1612 0h15m81 0h15m1595 0h15m-1712 1h15m-34 0h15m2059 0h15m-26 0h15m-165 0h15m-1561 0h15m-405 0h15m1866 0h15m240 0h15m-376 0h15m-3381 0h15m1789 0h15m1513 0h15m-8 1h15m-30 0h15m-437 0h15m-1191 0h15m-1844 0h15m3121 0h15m340 0h15m-591 0h15m-1527 0h15m2271 0h15m-195 0h15m-181 0h15m-3357 0h15m3636 0h15m-315 0h15m324 1h15m-1824 0h15m1577 0h15m-1558 0h15m1650 0h15m-1812 0h15m-1694 0h15m2926 0h15m215 1h15m436 0h15m-470 0h15m-116 0h15m329 0h15m118 0h15m-171 0h15m-1780 0h15m1869 0h15m111 0h15m-168 0h15m182 0h15m-3805 0h15m3067 1h15m-63 0h15m-140 0h15m812 0h15m-648 1h15m587 0h15m-366 0h15m-2 0h15m-3386 0h15m3247 0h15m-1493 0h15m-315 1h15m190 0h15m2104 0h15m-2187 0h15m1324 0h15m-2993 0h15m1747 0h15m2087 0h15m-204 0h15m-1665 0h15m-2048 0h15m3100 0h15m530 1h15m-3669 0h15m1452 0h15m2209 0h15m-420 0h15m-1473 0h15m1768 0h15m57 0h15m-3711 0h15m3002 0h15m731 1h15m-149 0h15m-262 0h15m-1902 0h15m1477 0h15m-1583 0h15m344 0h15m-166 0h15m1428 0h15m12 0h15m-1454 0h15m-43 0h15m2057 0h15m-153 0h15m183 0h15m-497 0h15m-242 0h15m-3047 0h15m3178 1h15m71 0h15m-267 0h15m358 0h15m-142 0h15m-178 0h15m542 0h15m-427 0h15m-1788 0h15m1691 0h15m24 1h15m132 0h15m-3266 0h15m-271 0h15m3885 0h15m-146 0h15m-1870 0h15m-195 0h15m-218 0h15m1775 0h15m-1582 0h15m1979 0h15m-1815 0h15m1640 0h15m-17 0h15m-3359 1h15m2995 0h15m-208 0h15m-1216 0h15m-146 0h15m-1526 0h15m1365 0h15m2029 0h15m-3415 0h15m3093 1h15m-2966 0h15m1448 0h15m1943 0h15m-1977 0h15m1204 0h15m6 0h15m-1314 0h15m2059 0h15m-226 0h15m-1765 1h15m-1685 0h15m1864 0h15m1113 0h15m95 0h15m423 0h15m-434 0h15m541 0h15m-428 1h15m-180 0h15m-1794 0h15m3 0h15m1822 0h15m237 0h15m238 0h15m-755 0h15m-85 0h15m-1420 0h15m1376 0h15m-1284 0h15m-1638 1h15m3074 0h15m392 0h15m-600 0h15m-1237 0h15m1397 0h15m-255 0h15m31 0h15m515 0h15m-52 0h15m-38 0h15m-2012 0h15m1596 0h15m711 0h15m-626 1h15m159 0h15m40 0h15m-73 0h15m-1722 0h15m1787 0h15m-110 0h15m323 0h15m0 0h15m-546 0h15m327 0h15m-458 0h15m620 1h15m-2054 0h15m1231 0h15m503 0h15m-1796 0h15m1983 0h15m-2022 0h15m1910 0h15m-36 1h15m-323 0h15m-85 0h15m386 0h15m-1930 0h15m-32 0h15m1330 0h15m-904 0h15m-734 0h15m1649 0h15m193 0h15m-69 0h15m-1472 0h15m1881 0h15m108 0h15m-524 1h15m114 0h15m121 0h15m-1918 0h15m1516 0h15m131 0h15m-60 0h15m531 0h15m-92 0h15m-1763 0h15m1459 0h15m193 0h15m-3573 0h15m3496 0h15m-1890 1h15m1411 0h15m-29 0h15m559 0h15m-468 0h15m-1611 0h15m1298 0h15m20 0h15m-29 0h15m204 0h15m579 0h15m-544 0h15m-1201 1h15m1153 0h15m234 0h15m-2072 0h15m2204 0h15m-1918 0h15m1613 0h15m75 0h15m-3390 0h15m2785 0h15m43 0h15m798 0h15m-542 0h15m204 0h15m-34 0h15m-495 1h15m-76 0h15m534 0h15m-592 0h15m182 0h15m172 0h15m-347 0h15m-2856 0h15m3695 1h15m-2198 0h15m-1795 0h15m2003 0h15m-20 0h15m1015 0h15m833 0h15m-214 0h15m-117 0h15m230 0h15m-166 0h15m-2092 0h15m1723 0h15m-66 0h15m317 1h15m-126 0h15m-430 0h15m807 0h15m-2325 0h15m1718 0h15m134 0h15m133 1h15m-538 0h15m-1271 0h15m-56 0h15m1558 0h15m-1519 0h15m-300 0h15m-26 0h15m137 0h15m-232 0h15m184 0h15m101 0h15m-330 0h15m1548 0h15m308 1h15m-1407 0h15m1853 0h15m-172 0h15m-2215 0h15m342 0h15m1187 0h15m-1321 0h15m2182 0h15m-2453 0h15m506 0h15m1512 0h15m-158 0h15m162 1h15m-159 0h15m-241 0h15m-141 0h15m-1059 0h15m-494 0h15m2155 0h15m-3553 0h15m-243 0h15m1822 0h15m2015 0h15m45 0h15m-813 0h15m609 0h15m-110 0h15m-1890 0h15m1310 0h15m-1587 0h15m1602 1h15m-1435 0h15m1429 0h15m-38 0h15m-1653 0h15m1970 0h15m-1500 0h15m-218 0h15m1612 0h15m412 0h15m-394 0h15m-259 0h15m30 0h15m-1558 0h15m-241 0h15m251 0h15m1949 0h15m-362 0h15m-156 1h15m-108 0h15m241 0h15m-233 0h15m607 0h15m-1965 0h15m-107 0h15m1916 0h15m-354 0h15m415 0h15m-455 0h15m-3168 1h15m3151 0h15m-1864 0h15m319 0h15m228 0h15m-531 0h15m1859 0h15m-1888 0h15m191 0h15m1933 0h15m-2048 0h15m55 0h15m2166 1h15m-2069 0h15m1642 0h15m-469 0h15m498 0h15m-2128 0h15m2308 0h15m-568 0h15m542 0h15m-494 0h15m433 0h15m46 1h15m-2124 0h15m1562 0h15m416 0h15m61 0h15m-709 0h15m-6 0h15m-38 0h15m69 0h15m-112 1h15m320 0h15m261 0h15m-222 0h15m-1801 0h15m-222 0h15m167 0h15m1525 0h15m165 0h15m-1660 0h15m93 0h15m1312 0h15m-1345 0h15m1594 1h15m-199 0h15m-79 0h15m-1377 0h15m-27 0h15m-108 0h15m1612 0h15m377 0h15m-639 0h15m139 0h15m311 0h15m-2151 0h15m352 0h15m1681 0h15m167 0h15m-614 1h15m-1678 0h15m1912 0h15m388 0h15m-549 0h15m425 0h15m-259 0h15m397 0h15m24 1h15m-3966 0h15m3587 0h15m-11 0h15m-1507 0h15m1433 0h15m-1622 0h15m-242 0h15m-1572 0h15m3530 0h15m198 0h15m-456 0h15m-1627 0h15m1471 0h15m143 0h15m-3329 0h15m3624 0h15m-445 0h15m-371 1h15m-2895 0h15m3710 0h15m-187 0h15m-3557 0h15m3355 0h15m-32 0h15m-1750 0h15m1850 0h15m-202 0h15m-472 0h15m-3076 0h15m3677 0h15m61 0h15m-462 0h15m218 1h15m-481 0h15m24 0h15m-2923 0h15m1306 0h15m2165 0h15m-155 0h15m-1850 0h15m1752 0h15m133 0h15m-186 0h15m-19 0h15m-1960 0h15m2184 1h15m-287 0h15m98 0h15m-424 0h15m215 0h15m61 0h15m-65 1h15m-1878 0h15m2072 0h15m-88 0h15m-288 0h15m255 0h15m105 0h15m-41 0h15m-65 1h15m-1774 0h15m1177 0h15m332 0h15m-316 0h15m621 0h15m6 0h15m-497 0h15m-236 0h15m122 0h15m22 0h15m-24 0h15m673 0h15m-552 0h15m-3155 0h15m1727 0h15m1582 0h15m380 0h15m-352 0h15m-3436 0h15m3662 0h15m-167 0h15m-513 1h15m525 0h15m-189 0h15m207 0h15m-781 0h15m914 0h15m-3997 1h15m201 0h15m3261 0h15m-256 0h15m-1424 0h15m1931 0h15m-1943 0h15m1748 0h15m-23 0h15m170 0h15m-196 1h15m14 0h15m-240 0h15m-157 0h15m151 0h15m-92 0h15m-141 0h15m390 0h15m-274 0h15m-161 1h15m-1719 0h15m446 0h15m1417 0h15m282 0h15m-637 0h15m473 0h15m230 0h15m-1957 0h15m-330 1h15m482 0h15m1071 0h15m-1037 0h15m1391 0h15m-479 0h15m450 0h15m241 1h15m119 0h15m-504 0h15m-1491 0h15m1857 0h15m-3672 0h15m1374 0h15m1805 1h15m183 0h15m154 0h15m-670 0h15m-1551 0h15m149 0h15m1486 0h15m225 0h15m-1743 0h15m1356 0h15m-1417 0h15m1348 1h15m-916 0h15m1265 0h15m413 0h15m-2157 0h15m1292 0h15m178 0h15m136 0h15m-181 0h15m474 0h15m-2200 0h15m2246 0h15m-192 0h15m-1534 1h15m-405 0h15m22 0h15m1925 0h15m-2149 0h15m1890 0h15m-1347 0h15m-428 0h15m1457 0h15m-59 0h15m782 1h15m-906 0h15m-2815 0h15m2909 0h15m-1004 0h15m1493 0h15m108 0h15m-585 0h15m125 1h15m81 0h15m-3499 0h15m3242 0h15m147 0h15m280 0h15m-131 0h15m271 0h15m-131 1h15m-366 0h15m-3227 0h15m3381 0h15m-16 0h15m-1719 0h15m-371 0h15m2116 0h15m-376 0h15m-1549 0h15m98 1h15m-1883 0h15m3243 0h15m-103 0h15m361 0h15m-1731 0h15m1473 0h15m188 0h15m-1764 1h15m1505 0h15m-55 0h15m319 0h15m-1789 0h15m-1837 0h15m3771 0h15m-22 0h15m-202 0h15m79 0h15m-609 1h15m-33 0h15m41 0h15m384 0h15m150 0h15m-594 0h15m424 0h15m-81 0h15m-227 0h15m-1213 0h15m-317 0h15m1514 0h15m297 0h15m-562 0h15m505 1h15m-2076 0h15m1790 0h15m-1471 0h15m1743 0h15m321 0h15m-251 0h15m156 0h15m-3899 0h15m1812 0h15m42 0h15m1685 1h15m297 0h15m-97 0h15m-582 0h15m241 0h15m-457 0h15m497 0h15m11 0h15m-3459 0h15m3556 0h15m126 0h15m-605 0h15m127 0h15m-133 0h15m430 0h15m-223 0h15m-77 0h15m174 1h15m-60 0h15m-1484 0h15m-286 0h15m1451 0h15m57 0h15m-32 0h15m293 0h15m-3756 0h15m3615 0h15m292 0h15m-385 1h15m81 0h15m-1728 0h15m1695 0h15m-79 0h15m168 0h15m-387 0h15m-1652 0h15m1758 0h15m-128 0h15m-94 0h15m589 0h15m-2135 0h15m1896 0h15m-19 0h15m-376 1h15m-321 0h15m475 0h15m-181 0h15m182 0h15m-165 0h15m-1806 0h15m1769 0h15m-299 0h15m549 1h15m-167 0h15m-165 0h15m-191 0h15m280 0h15m-1991 0h15m1838 0h15m159 0h15m-317 0h15m-1559 0h15m37 0h15m50 0h15m51 1h15m161 0h15m1763 0h15m-1818 0h15m1786 0h15m60 1h15m-275 0h15m-1627 0h15m1790 0h15m-691 0h15m370 0h15m288 0h15m-2083 0h15m1838 0h15m-3672 0h15m1766 0h15m335 0h15m-36 0h15m-567 0h15m2330 1h15m-770 0h15m214 0h15m-1719 0h15m1454 0h15m-1010 0h15m-380 0h15m-171 0h15m309 0h15m-321 0h15m2285 0h15m-436 0h15m160 0h15m-226 0h15m-214 0h15m-3158 1h15m1657 0h15m1824 0h15m-169 0h15m-369 0h15m-1025 0h15m1296 0h15m47 0h15m-384 0h15m-54 0h15m457 1h15m160 0h15m-1955 0h15m126 0h15m1469 0h15m-1683 0h15m1320 0h15m373 0h15m190 0h15m49 0h15m36 0h15m-1902 0h15m1853 0h15m-546 0h15m436 0h15m-293 0h15m121 0h15m-1775 1h15m-1665 0h15m1594 0h15m1415 0h15m-1678 0h15m2243 0h15m-100 0h15m-266 0h15m216 0h15m-1694 0h15m-95 0h15m1693 1h15m-310 0h15m219 0h15m-1886 0h15m-202 0h15m2140 0h15m-231 0h15m-1937 0h15m2147 0h15m-56 0h15m-414 0h15m-93 0h15m-164 1h15m532 0h15m-429 0h15m-1491 0h15m1466 0h15m600 0h15m-1999 0h15m1761 0h15m-533 0h15m384 0h15m-1658 0h15m97 1h15m1698 0h15m-1816 0h15m-1661 0h15m-42 0h15m3594 1h15m83 0h15m-2372 0h15m1669 0h15m492 0h15m-3727 0h15m1822 0h15m1401 0h15m-1129 0h15m-2158 0h15m1844 0h15m-188 1h15m1614 0h15m-1533 0h15m1848 0h15m283 0h15m-3960 0h15m3716 0h15m-1978 0h15m1522 0h15m-1460 0h15m1917 1h15m-2133 0h15m1532 0h15m-3264 0h15m224 0h15m3687 0h15m-3943 0h15m3395 0h15m287 0h15m58 0h15m-3780 0h15m2061 0h15m1464 0h15m-3433 0h15m3395 1h15m-1878 0h15m2172 0h15m-765 0h15m56 0h15m435 0h15m-1942 0h15m2056 0h15m-174 0h15m-3531 1h15m3067 0h15m720 0h15m-176 0h15m-1745 0h15m1595 0h15m-1618 0h15m997 0h15m323 0h15m-329 0h15m-3079 0h15m3755 0h15m-3797 0h15m3317 0h15m-318 0h15m822 0h15m-807 1h15m-857 0h15m-610 0h15m1987 0h15m-288 0h15m166 0h15m-1785 0h15m1484 0h15m355 0h15m63 0h15m-107 0h15m-1894 1h15m-1593 0h15m3691 0h15m-3925 0h15m1629 0h15m-1518 0h15m3792 0h15m-137 0h15m-3810 0h15m3291 0h15m601 0h15m-2028 0h15m1301 1h15m17 0h15m580 0h15m-2149 0h15m21 0h15m-1660 0h15m1572 0h15m2152 0h15m-2366 0h15m-1517 0h15m1603 1h15m1694 0h15m-1435 0h15m121 0h15m-353 0h15m13 0h15m2073 0h15m-333 0h15m-1741 1h15m-150 0h15m2194 0h15m100 0h15m-2254 0h15m1635 0h15m-1499 0h15m1822 0h15m-687 0h15m734 1h15m-691 0h15m769 0h15m-797 0h15m-1507 0h15m1712 0h15m-58 0h15m-282 1h15m656 0h15m-3635 0h15m3232 0h15m450 0h15m-3865 0h15m3914 0h15m11 1h15m-818 0h15m651 0h15m-725 0h15m-1091 0h15m-331 0h15m9 0h15m1666 0h15m-1328 0h15m1232 0h15m408 0h15m-3649 0h15m3700 0h15m-797 1h15m668 0h15m16 0h15m-62 0h15m-318 1h15m-1385 0h15m-558 0h15m1704 0h15m-62 0h15m-1388 0h15m-1731 0h15m3097 0h15m-1396 1h15m-1737 0h15m1497 0h15m1590 0h15m-3130 0h15m1919 0h15m1642 0h15m-2080 0h15m-1540 0h15m1933 0h15m-423 1h15m26 0h15m110 0h15m2165 0h15m-648 0h15m460 0h15m-574 0h15m-47 0h15m-1453 1h15m-61 0h15m-1761 0h15m3359 0h15m289 0h15m-339 0h15m558 0h15m-1816 1h15m-374 1h15m285 0h15m-2081 0h15m3779 0h15m-1702 0h15m-458 1h15m1429 0h15m-1621 0h15m-28 0h15m2349 0h15m-542 0h15m-1733 0h15m-15 0h15m-130 1h15m2215 0h15m74 0h15m30 0h15m-545 0h15m514 0h15m-845 0h15m299 0h15m-1866 1h15m1888 0h15m-307 0h15m-1294 0h15m-148 0h15m-48 1h15m-29 0h15m2198 0h15m-2073 0h15m1532 0h15m15 0h15m401 0h15m-552 0h15m-1608 0h15m1500 0h15m758 1h15m-884 0h15m859 0h15m-3904 0h15m3273 0h15m-258 0h15m809 0h15m-53 0h15m-671 0h15m-3249 0h15m1638 0h15m217 1h15m-1835 0h15m3177 0h15m-1180 0h15m1637 0h15m98 0h15m36 0h15m-743 0h15m-83 1h15m-130 0h15m748 0h15m-778 0h15m-3005 0h15m3314 0h15m430 0h15m-2280 1h15m-1449 0h15m1904 0h15m1221 0h15m-3205 0h15m3654 0h15m63 0h15m-2109 0h15m-1665 1h15m-42 0h15m3143 0h15m-3130 0h15m3636 0h15m-1984 0h15m-73 0h15m-61 0h15m-33 0h15m1397 0h15m684 0h15m-394 0h15m-1775 1h15m-1577 0h15m1465 0h15m196 0h15m138 0h15m-117 0h15m2083 0h15m-808 0h15m-1284 0h15m1261 1h15m-3101 0h15m3701 0h15m-3790 0h15m1742 0h15m-4 0h15m2301 1h15m-1047 0h15m858 0h15m-712 0h15m32 0h15m-1354 0h15m1141 0h15m663 0h15m-2018 0h15m2011 0h15m-739 1h15m751 0h15m-637 0h15m35 0h15m-1627 0h15m-1578 0h15m3176 0h15m716 0h15m-973 0h15m-1415 0h15m1514 1h15m-3129 0h15m1596 0h15m-1638 0h15m3206 0h15m-1711 0h15m373 0h15m1439 0h15m-256 0h15m-72 0h15m-869 0h15m912 1h15m-3111 0h15m3727 0h15m-2161 0h15m1394 0h15m-1526 0h15m-61 0h15m1804 0h15m591 0h15m-136 0h15m-768 0h15m-3017 1h15m2994 0h15m31 0h15m270 0h15m378 0h15m-3759 0h15m1581 0h15m1728 0h15m-329 1h15m702 0h15m-2014 0h15m1543 0h15m-1650 0h15m-11 0h15m-1761 0h15m145 0h15m3706 1h15m-523 0h15m-198 0h15m688 0h15m-683 0h15m-1396 0h15m48 0h15m2084 0h15m-666 0h15m4 0h15m-152 0h15m-1487 0h15m2124 0h15m-74 0h15m3 1h15m-466 0h15m-1843 0h15m2182 0h15m-2086 0h15m185 0h15m-195 1h15m-102 0h15m-1644 0h15m1650 0h15m-1574 0h15m3752 1h15m-714 0h15m579 0h15m-1621 0h15m-526 0h15m-1596 0h15m3174 0h15m-1277 0h15m1881 0h15m-2069 0h15m247 0h15m1046 0h15m-1281 1h15m-108 0h15m-184 0h15m231 0h15m-43 0h15m-338 0h15m2217 0h15m-393 0h15m-1166 0h15m-491 1h15m1975 0h15m-15 0h15m154 0h15m-89 0h15m-521 0h15m-120 0h15m656 1h15m-36 0h15m-1967 0h15m-1925 0h15m3880 0h15m-1807 0h15m1608 0h15m-3605 0h15m1367 0h15m1586 0h15m-1387 1h15m1330 0h15m-2935 0h15m-80 0h15m2906 0h15m320 0h15m-3411 0h15m3807 0h15m-2204 0h15m30 1h15m2145 0h15m-2124 0h15m2119 0h15m-28 0h15m-2061 0h15m1351 1h15m-97 0h15m-3092 0h15m1762 0h15m1362 0h15m-3089 1h15m-116 0h15m1724 0h15m-2 0h15m-44 0h15m2250 0h15m-1898 0h15m-490 0h15m1678 0h15m597 0h15m-2296 0h15m-1633 1h15m3803 0h15m-456 0h15m-1421 0h15m1074 0h15m5 0h15m-78 0h15m775 1h15m-469 0h15m-142 0h15m-3220 1h15m3824 0h15m-3838 0h15m64 0h15m1801 0h15m2007 0h15m-2233 0h15m-114 0h15m1631 0h15m-1492 1h15m-274 0h15m2242 0h15m-718 0h15m829 0h15m-904 0h15m-1567 0h15m212 0h15m227 0h15m1130 0h15m273 0h15m-1312 1h15m-380 0h15m1487 0h15m-1462 0h15m1326 0h15m-113 0h15m264 0h15m-1831 0h15m-1545 0h15m3362 0h15m-127 0h15m-176 1h15m-1354 0h15m-131 0h15m-1673 0h15m1651 0h15m-1642 0h15m3824 0h15m-2061 0h15m-1796 0h15m3043 0h15m711 0h15m41 0h15m-2283 1h15m2235 0h15m-777 0h15m-1406 0h15m1402 0h15m264 0h15m-1858 0h15m1570 0h15m-3016 0h15m3166 0h15m-303 0h15m-1505 1h15m26 0h15m-10 0h15m317 0h15m1483 0h15m-18 0h15m-127 0h15m-90 0h15m-1656 0h15m2285 0h15m-2264 0h15m-83 1h15m1683 0h15m623 0h15m-828 0h15m-2995 0h15m1666 0h15m-74 0h15m-1654 0h15m1710 0h15m1436 0h15m-75 1h15m130 0h15m-1682 0h15m2303 0h15m-658 0h15m-296 0h15m-3060 0h15m3069 0h15m267 1h15m-3380 0h15m1973 0h15m989 0h15m-1374 0h15m2168 0h15m71 0h15m-873 0h15m-1452 0h15m68 1h15m163 0h15m-122 0h15m-1748 0h15m3284 0h15m15 0h15m555 1h15m-2250 0h15m1320 0h15m-1538 1h15m457 0h15m1893 0h15m-2275 0h15m-1593 0h15m3235 0h15m576 0h15m-655 0h15m-1527 0h15m-1686 1h15m1466 0h15m1582 0h15m180 0h15m-86 0h15m9 0h15m-306 0h15m-3043 0h15m3185 1h15m-1505 0h15m2178 0h15m-2329 0h15m149 0h15m1269 0h15m-1117 1h15m-1891 0h15m3785 0h15m-845 0h15m342 0h15m-356 1h15m-3066 0h15m2033 0h15m1206 0h15m-171 0h15m822 0h15m-2417 0h15m203 0h15m2049 0h15m-38 0h15m88 1h15m-44 0h15m-554 0h15m-1264 0h15m1159 0h15m-3215 0h15m3761 0h15m-816 0h15m123 0h15m-1058 1h15m936 0h15m289 0h15m-3397 0h15m1757 0h15m1367 0h15m828 0h15m-2148 0h15m1504 0h15m464 0h15m-546 0h15m670 1h15m-894 0h15m38 0h15m-1160 0h15m-439 0h15m1721 0h15m-355 0h15m109 0h15m158 1h15m-79 0h15m-107 0h15m634 0h15m-2029 0h15m-1791 0h15m3193 0h15m565 0h15m-2170 1h15m1387 0h15m811 0h15m-3913 0h15m3284 0h15m-264 0h15m127 0h15m-149 0h15m-1512 0h15m1662 0h15m663 1h15m-602 0h15m-38 0h15m-3173 0h15m3745 0h15m-2209 0h15m1313 0h15m-2960 0h15m1551 1h15m-1585 0h15m3235 0h15m-1698 0h15m-24 0h15m-1650 0h15m3371 0h15m408 0h15m-2208 0h15m496 0h15m-525 0h15m1610 1h15m86 0h15m-1563 0h15m2029 0h15m-2225 0h15m1682 0h15m-1827 0h15m1492 0h15m323 0h15m-324 1h15m-521 0h15m847 0h15m-131 0h15m-1779 0h15m1681 0h15m-121 0h15m-1246 1h15m-330 0h15m-1556 0h15m3081 0h15m193 0h15m48 0h15m-3257 0h15m3050 0h15m-1506 0h15m1535 0h15m572 1h15m117 0h15m-2252 0h15m1625 0h15m489 0h15m-536 0h15m-54 1h15m543 0h15m-3822 0h15m3088 0h15m189 0h15m-304 0h15m131 0h15m86 1h15m-1802 0h15m1822 0h15m-260 0h15m73 0h15m-13 1h15m-27 0h15m-154 0h15m-1536 0h15m1678 0h15m-1377 0h15m1985 1h15m-2327 0h15m2221 0h15m-768 0h15m308 0h15m-3454 0h15m3236 0h15m-1334 1h15m1932 0h15m-1966 0h15m-1772 0h15m1392 0h15m238 0h15m-1698 0h15m1526 0h15m407 0h15m1859 0h15m-756 1h15m-1568 0h15m1533 0h15m588 0h15m-449 0h15m-1803 0h15m2249 0h15m-621 0h15m-1212 0h15m-364 1h15m1671 0h15m-103 0h15m-1675 0h15m1419 0h15m43 0h15m770 0h15m-718 0h15m113 0h15m29 0h15m-108 0h15m558 0h15m-624 1h15m579 0h15m-786 0h15m-1355 0h15m1528 1h15m-1758 0h15m2280 0h15m-2326 0h15m-1488 0h15m1507 1h15m318 0h15m-313 0h15m1663 0h15m-1554 0h15m138 1h15m1941 0h15m-1918 0h15m1193 0h15m665 1h15m-1969 0h15m1203 0h15m824 0h15m-2273 0h15m2133 0h15m-718 0h15m215 0h15m-144 1h15m-1737 0h15m1581 0h15m237 0h15m455 0h15m-2263 0h15m1448 1h15m897 0h15m-695 0h15m-1641 0h15m1528 0h15m-3087 0h15m1441 0h15m-1592 1h15m59 0h15m3892 0h15m-3997 0h15m3077 0h15m-1362 0h15m2159 0h15m-709 1h15m690 0h15m-82 0h15m-530 0h15m-1675 0h15m2230 0h15m-104 0h15m-2291 1h15m1636 0h15m-912 0h15m1584 0h15m-2251 0h15m-158 0h15m11 0h15m1821 0h15m402 0h15m-514 0h15m61 0h15m-223 0h15m-1292 1h15m1957 0h15m-746 0h15m171 0h15m585 0h15m-2283 0h15m1672 0h15m17 0h15m-3430 0h15m3921 0h15m-524 0h15m491 1h15m-527 0h15m408 0h15m115 1h15m-121 0h15m-2304 0h15m-37 0h15m1851 0h15m-344 0h15m722 0h15m-412 0h15m-1850 0h15m1436 0h15m326 0h15m508 1h15m-723 0h15m-37 0h15m-2952 0h15m3022 0h15m-1618 0h15m-102 1h15m2269 0h15m-597 0h15m-3245 0h15m3237 0h15m-3295 0h15m3293 0h15m-3271 0h15m3231 1h15m492 0h15m-627 0h15m-118 0h15m175 0h15m-1579 0h15m2125 0h15m-538 0h15m486 0h15m33 0h15m-3858 0h15m1490 0h15m37 1h15m2180 1h15m-514 0h15m645 0h15m-903 0h15m157 0h15m575 0h15m-3646 0h15m3126 1h15m-263 0h15m726 0h15m-510 0h15m586 1h15m-1980 0h15m1134 0h15m212 0h15m543 0h15m-3845 0h15m3172 0h15m18 1h15m-1550 0h15m-268 0h15m1752 0h15m-1621 1h15m1437 0h15m-65 0h15m752 0h15m-619 0h15m-1386 0h15m-330 0h15m1583 1h15m-1387 0h15m-13 0h15m-197 0h15m1581 1h15m-138 0h15m264 0h15m-243 0h15m91 0h15m-1631 0h15m2241 1h15m-2377 0h15m1700 0h15m650 0h15m-599 0h15m-62 1h15m-85 0h15m597 1h15m-669 0h15m-39 0h15m684 0h15m-2226 1h15m1411 0h15m-1365 0h15m2225 0h15m-3958 0h15m3078 0h15m-1322 0h15m2020 0h15m-699 1h15m148 0h15m581 1h15m-787 0h15m-30 0h15m248 0h15m-167 0h15m-140 0h15m48 0h15m206 0h15m-323 1h15m310 0h15m-1686 0h15m1513 0h15m728 0h15m-621 0h15m-200 0h15m-1696 1h15m1559 0h15m281 0h15m-316 0h15m-3124 0h15m114 1h15m2955 0h15m65 0h15m-1654 0h15m1796 0h15m606 1h15m-712 0h15m23 0h15m528 0h15m-1933 1h15m-380 0h15m-1519 0h15m1583 0h15m1591 0h15m10 0h15m-81 0h15m97 0h15m36 0h15m421 1h15m-500 0h15m627 0h15m-167 1h15m-2195 0h15m2200 0h15m-561 0h15m-1784 0h15m1818 1h15m-287 0h15m36 0h15m-1609 0h15m1536 0h15m65 0h15m-3083 0h15m1552 0h15m2134 0h15m105 1h15m-704 0h15m-43 0h15m2 0h15m-3016 1h15m3560 0h15m-555 0h15m509 0h15m-3711 0h15m3679 0h15m-515 0h15m536 0h15m-795 0h15m72 1h15m729 0h15m-2135 0h15m2063 0h15m-503 0h15m-222 0h15m-85 0h15m802 0h15m-904 1h15m117 0h15m-53 0h15m688 0h15m-2292 0h15m200 0h15m2182 0h15m-88 0h15m-2271 1h15m1545 0h15m-51 0h15m143 0h15m-275 0h15m95 0h15m632 1h15m-525 0h15m15 0h15m544 0h15m-93 1h15m-590 0h15m-3173 0h15m3715 0h15m-591 0h15m-1696 1h15m1781 0h15m-1738 0h15m1459 0h15m259 1h15m-56 0h15m-139 0h15m78 0h15m-41 0h15m610 0h15m-2085 0h15m2112 1h15m-852 0h15m-1252 1h15m-319 0h15m48 0h15m135 0h15m-52 0h15m1590 0h15m-250 0h15m205 1h15m-3224 0h15m3080 0h15m-29 0h15m82 0h15m-3183 0h15m1622 0h15m1423 0h15m-207 1h15m93 0h15m716 0h15m-760 0h15m-1417 1h15m1354 0h15m-61 0h15m72 0h15m155 0h15m526 0h15m-2179 0h15m249 0h15m-173 1h15m-112 0h15m1601 0h15m-1727 0h15m2260 0h15m-556 0h15m-59 1h15m-1582 0h15m1625 0h15m613 0h15m-808 0h15m743 0h15m-696 0h15m-1759 0h15m-7 0h15m2292 1h15m-2280 0h15m2310 0h15m-93 0h15m-9 1h15m-3762 0h15m1506 0h15m10 0h15m2340 0h15m-936 0h15m225 0h15m-126 0h15m178 0h15m540 1h15m-2293 0h15m-69 0h15m113 0h15m161 1h15m1959 0h15m-2297 0h15m1502 0h15m-1405 0h15m1613 0h15m583 0h15m-3897 0h15m2946 0h15m333 1h15m-1530 0h15m2002 1h15m-80 0h15m-548 0h15m-154 0h15m-3135 0h15m3228 0h15m-1747 0h15m-1 0h15m2285 0h15m-539 1h15m-3273 0h15m3196 0h15m-1507 0h15m2051 0h15m-717 0h15m719 0h15m-824 1h15m813 0h15m-593 0h15m-1823 0h15m-1289 0h15m-18 0h15m3020 1h15m-1560 0h15m-179 1h15m1651 0h15m-92 0h15m-47 0h15m-25 0h15m-3033 0h15m3047 0h15m-1398 1h15m-99 0h15m-143 0h15m1801 1h15m540 0h15m-3855 0h15m1590 0h15m2135 0h15m-2103 0h15m-244 0h15m1493 0h15m221 1h15m-1670 0h15m1740 0h15m-241 0h15m726 0h15m-46 0h15m-722 0h15m761 0h15m-2286 1h15m1421 0h15m176 1h15m-160 0h15m705 0h15m-2252 0h15m2469 1h15m-824 1h15m-45 0h15m-1657 0h15m2247 0h15m-2194 0h15m1607 0h15m-10 1h15m-319 0h15m18 0h15m-1417 0h15m104 1h15m1414 0h15m-123 0h15m-1378 0h15m-30 0h15m-1597 0h15m3787 1h15m-2251 0h15m1562 0h15m578 0h15m-76 0h15m-639 1h15m-21 0h15m-3180 0h15m3320 0h15m484 0h15m-694 0h15m-101 0h15m272 0h15m483 1h15m-4 0h15m-675 0h15m-181 0h15m-1323 0h15m2161 0h15m-2230 0h15m2149 0h15m-47 1h15m-613 0h15m606 0h15m-700 0h15m103 0h15m646 0h15m-937 0h15m69 0h15m-1358 0h15m2082 1h15m-723 0h15m-1552 0h15m1684 0h15m17 0h15m-69 0h15m-3132 1h15m1551 0h15m1459 0h15m-121 1h15m-1587 0h15m500 0h15m-1986 0h15m3007 0h15m-1472 0h15m-87 1h15m2227 0h15m-9 0h15m-613 1h15m-141 0h15m815 0h15m-697 0h15m-1544 0h15m69 1h15m1522 0h15m-57 0h15m-42 0h15m-1574 1h15m-57 0h15m1472 0h15m153 0h15m-1789 1h15m79 0h15m2272 0h15m-2373 1h15m1659 0h15m-1619 0h15m63 0h15m1348 0h15m-1463 0h15m124 0h15m-148 1h15m2247 1h15m-772 0h15m-1367 0h15m1329 0h15m-1464 1h15m2253 0h15m-908 0h15m-1272 1h15m1369 0h15m80 1h15m-198 0h15m-1479 0h15m1496 0h15m-1502 0h15m-175 0h15m38 0h15m1548 1h15m90 0h15m705 0h15m-785 0h15m132 1h15m-133 0h15m-1654 0h15m1612 0h15m731 0h15m-3773 1h15m-133 0h15m3008 0h15m-1487 0h15m1494 1h15m-92 0h15m777 0h15m-2322 1h15m1723 0h15m-1679 0h15m-51 1h15m1529 0h15m-1564 0h15m1601 0h15m-1602 0h15m1547 0h15m104 1h15m-1772 0h15m2295 0h15m-2210 0h15m2283 0h15m-113 0h15m-2347 0h15m201 0h15m-50 0h15m2106 1h15m-13 0h15m-3739 0h15m3752 0h15m-2241 0h15m1695 0h15m463 1h15m-2027 0h15m1452 1h15m-127 0h15m-3016 0h15m3140 0h15m-1821 0h15m1750 0h15m588 0h15m-3718 1h15m3113 0h15m-73 0h15m666 0h15m-820 0h15m-3079 0h15m3782 0h15m-3776 1h15m3716 0h15m-676 0h15m666 0h15m9 0h15m-2208 1h15m1545 0h15m-3031 0h15m1584 1h15m2075 0h15m-61 0h15m114 0h15m-3986 0h15m3767 0h15m-2209 0h15m1540 0h15m761 1h15m-2114 0h15m-245 0h15m1700 0h15m-108 0h15m-1438 1h15m-298 1h15m1595 0h15m713 0h15m-1982 1h15m-105 0h15m2085 0h15m-76 0h15m-755 0h15m50 0h15m-1587 0h15m-1605 1h15m3141 0h15m626 0h15m119 0h15m-697 0h15m-65 1h15m-83 0h15m-1460 0h15m-116 0h15m1721 0h15m-3220 0h15m3209 1h15m-1788 0h15m1786 0h15m-95 0h15m-1581 0h15m1497 1h15m585 0h15m-474 0h15m-65 0h15m-327 1h15m344 0h15m-111 0h15m544 1h15m-3752 0h15m3068 0h15m-1571 1h15m232 0h15m-235 0h15m1700 0h15m-32 0h15m450 1h15m-479 0h15m-162 0h15m-187 1h15m-1380 0h15m1614 0h15m-70 1h15m-42 0h15m-1697 1h15m1747 0h15m-139 0h15m189 0h15m-315 0h15m692 0h15m-441 0h15m557 1h15m-2239 0h15m2060 0h15m-494 0h15m-1494 0h15m1548 0h15m-3369 0h15m3135 1h15m706 0h15m-24 0h15m-561 1h15m521 0h15m-131 0h15m-396 0h15m-3288 0h15m3092 1h15m622 0h15m30 0h15m-566 0h15m530 1h15m-147 0h15m29 0h15m-58 1h15m-2014 0h15m1443 0h15m77 0h15m-114 1h15m605 0h15m-537 0h15m466 1h15m151 0h15m-785 0h15m658 0h15m-26 0h15m-2152 0h15m2065 1h15m-596 0h15m85 0h15m-54 0h15m23 1h15m-1234 0h15m1771 1h15m-2270 0h15m2164 0h15m-784 0h15m-1281 0h15m1540 1h15m632 0h15m-192 0h15m-488 0h15m-1820 0h15m1733 0h15m28 1h15m-112 0h15m99 0h15m21 0h15m-65 0h15m-139 0h15m-1457 0h15m-102 1h15m2203 0h15m-102 0h15m-451 0h15m-59 0h15m514 0h15m-43 1h15m58 0h15m-614 0h15m660 0h15m-165 0h15m-558 0h15m-136 1h15m105 0h15m8 0h15m-99 0h15m63 0h15m594 0h15m-617 1h15m540 0h15m-20 1h15m-41 0h15m-2326 0h15m90 0h15m1628 0h15m97 1h15m386 0h15m-523 0h15m568 1h15m-475 1h15m-11 0h15m417 0h15m126 1h15m-584 0h15m373 1h15m-22 0h15m-440 0h15m-17 0h15m-2 1h15m9 0h15m-1847 1h15m1648 0h15m602 1h15m-826 0h15m254 0h15m604 1h15m-664 0h15m-1445 1h15m1956 0h15m-19 0h15m-607 1h15m-3145 1h15m3164 0h15m602 1h15m-619 0h15m38 0h15m445 0h15m-13 1h15m-643 0h15m-1322 0h15m1428 0h15m521 1h15m-3754 1h15m3217 0h15m-1 2h15m591 1h15m-627 1h15m512 1h15m-77 0h15m69 1h15m-601 0h15m566 0h15m-511 0h15m-95 0h15m480 1h15m-20 0h15m43 0h15m-482 0h15m373 0h15m93 1h15m-7 0h15m-520 1h15m-119 0h15m484 1h15m104 0h15m-736 2h15m576 0h15m16 0h15m-3526 0h15m3539 1h15m-555 1h15m68 0h15m-151 1h15m73 0h15m20 0h15m387 1h15m321 0h15m-779 1h15m-1237 0h15m1755 1h15m-553 0h15m392 0h15m-394 1h15m426 1h15m-88 0h15m-460 1h15m499 0h15m-5 0h15m85 0h15m-645 1h15m13 0h15m-86 0h15m60 1h15m-52 0h15m537 0h15m-564 2h15m70 0h15m371 0h15m121 1h15m-2142 0h15m2006 1h15m-527 0h15m467 1h15m-17 0h15m68 0h15m-469 0h15m-41 0h15m-91 1h15m-3130 0h15m3182 0h15m-2 0h15m-115 1h15m552 1h15m-799 0h15m892 0h15m-713 0h15m87 0h15m-103 1h15m474 1h15m-471 0h15m20 1h15m369 0h15m-394 0h15m-28 1h15m-2 0h15m423 0h15m-74 0h15m-415 0h15m-69 1h15m102 0h15m336 1h15m-427 0h15m-3335 1h15m3765 0h15m-451 0h15m-235 0h15m623 0h15m179 1h15m-246 0h15m-452 0h15m-73 1h15m490 1h15m59 0h15m-436 0h15m-50 1h15m364 0h15m51 1h15m-436 0h15m-6 1h15m-152 1h15m509 0h15m-412 0h15m515 0h15m-168 0h15m-392 1h15m-17 3h15m339 0h15m-593 0h15m564 0h15m-630 0h15m153 1h15m82 0h15m-117 0h15m-7 0h15m-25 1h15m460 0h15m-403 0h15m609 2h15m-599 1h15m-229 1h15m-37 1h15m490 1h15m-307 0h15m297 0h15m-354 1h15m-118 0h15m-28 0h15m106 1h15m406 0h15m-117 0h15m32 1h15m-423 1h15m392 0h15m-516 1h15m-1189 0h15m1698 0h15m-99 0h15m-3 0h15m-492 0h15m-45 1h15m542 0h15m-447 0h15m-192 0h15m140 0h15m465 1h15m-23 0h15m-53 0h15m-688 1h15m272 1h15m708 1h15m-326 1h15m-70 0h15m-1 0h15m-579 0h15m546 1h15m-378 0h15m-41 0h15m382 1h15m217 0h15m-649 0h15m-1824 1h15m1770 0h15m394 1h15m-561 0h15m692 1h15m-637 0h15m704 0h15m-622 0h15m-32 1h15m-21 1h15m24 1h15m344 0h15m-500 1h15m438 0h15m84 1h15m-89 0h15m-347 0h15m-212 0h15m291 0h15m-148 0h15m341 0h15m148 1h15m-512 0h15m-82 0h15m62 1h15m-93 0h15m68 1h15m-114 0h15m378 0h15m-336 0h15m370 0h15m-531 0h15m220 0h15m-100 1h15m-1862 0h15m2124 0h15m-201 1h15m176 0h15m-218 0h15m-1311 0h15m1191 0h15m-16 1h15m90 1h15m-294 0h15m160 0h15m-43 0h15m-8 1h15m-193 0h15m109 1h15m90 0h15m-82 2h15m-348 0h15m536 0h15m-501 1h15m-2972 0h15m3271 0h15m131 1h15m-104 0h15m354 0h15m-427 0h15m48 1h15m-388 0h15m539 1h15m-272 0h15m41 0h15m-13 1h15m-207 0h15m416 0h15m-54 0h15m-134 0h15m106 1h15m-385 1h15m37 0h15m-81 0h15m86 0h15m146 0h15m108 1h15m-247 0h15m91 0h15m-129 1h15m-76 1h15m64 0h15m246 0h15m-40 0h15m-255 1h15m-33 0h15m-121 0h15m-72 0h15m438 1h15m-481 1h15m401 0h15m-132 0h15m-193 1h15m161 0h15m-94 1h15m-424 0h15m302 0h15m619 1h15m-677 1h15m123 0h15m335 1h15m-662 1h15m109 0h15m139 1h15m-16 0h15m143 0h15m-155 0h15m144 0h15m48 0h15m-34 0h15m18 1h15m-3549 0h15m3209 0h15m203 1h15m-373 0h15m280 0h15m-374 1h15m197 0h15m-58 0h15m222 1h15m-276 0h15m168 0h15m57 1h15m-77 0h15m97 0h15m-132 0h15m-3 0h15m-33 0h15m-106 2h15m-35 0h15m89 0h15m-171 1h15m41 0h15m-291 0h15m424 0h15m-223 0h15m20 2h15m264 0h15m-281 0h15m-75 1h15m427 0h15m-445 0h15m168 0h15m7 0h15m-505 1h15m325 0h15m203 0h15m-274 1h15m-162 0h15m139 1h15m107 0h15m190 0h15m-164 0h15m-241 0h15m-175 0h15m566 0h15m-503 0h15m123 1h15m-144 0h15m256 0h15m-399 1h15m224 0h15m175 1h15m-455 0h15m468 0h15m-32 1h15m-37 0h15m-99 0h15m36 0h15m21 1h15m-51 0h15m62 0h15m-527 0h15m274 1h15m143 0h15m-145 0h15m85 0h15m-314 0h15m169 1h15m138 1h15m-69 0h15m-127 0h15m160 0h15m-188 1h15m-161 0h15m472 0h15m-338 1h15m-149 0h15m288 1h15m-202 0h15m-149 0h15m103 1h15m254 0h15m-121 1h15m-9 0h15m-138 0h15m-283 0h15m425 1h15m3 0h15m-90 1h15m-158 0h15m75 0h15m-224 1h15m103 0h15m88 0h15m-208 0h15m-92 1h15m-3153 0h15m3265 0h15m-1438 0h15m1579 0h15m-431 1h15m228 0h15m251 0h15m-128 0h15m-56 0h15m-138 2h15m168 0h15m-280 0h15m345 0h15m145 0h15m-226 1h15m-134 0h15m-122 0h15m43 0h15m-94 0h15m273 0h15m142 1h15m-422 0h15m454 1h15m-630 1h15m134 0h15m27 0h15m93 0h15m-81 1h15m199 0h15m-125 1h15m-334 0h15m319 0h15m-203 0h15m-341 0h15m633 1h15m-409 1h15m-28 0h15m-93 0h15m95 1h15m453 0h15m-470 0h15m-11 0h15m419 0h15m-262 1h15m-166 0h15m-3 1h15m-238 0h15m100 0h15m-128 0h15m385 0h15m159 1h15m-35 0h15m-376 1h15m-138 0h15m117 0h15m-159 1h15m-64 0h15m65 0h15m201 0h15m-442 0h15m374 1h15m16 0h15m-345 0h15m97 0h15m162 0h15m44 1h15m-221 0h15m138 0h15m-106 1h15m-334 0h15m432 0h15m-54 1h15m208 0h15m-120 1h15m-436 0h15m446 0h15m-279 0h15m97 0h15m-498 0h15m359 0h15m105 1h15m-66 0h15m3 1h15m-348 0h15m430 0h15m-103 1h15m260 0h15m-85 1h15m-418 0h15m151 0h15m41 0h15m86 3h15m-240 0h15m79 0h15m-161 1h15m215 0h15m-164 1h15m-15 0h15m40 0h15m93 0h15m-336 1h15m-9 0h15m188 1h15m-134 0h15m24 1h15m150 1h15m49 0h15m-215 0h15m-81 0h15m74 0h15m-125 0h15m455 1h15m-387 0h15m-192 0h15m-15 0h15m123 0h15m107 0h15m-389 1h15m371 0h15m-13 1h15m-368 0h15m680 0h15m-278 0h15m-285 1h15m-5 0h15m105 0h15m-165 1h15m55 0h15m554 0h15m-442 0h15m194 0h15m37 0h15m-308 1h15m18 0h15m80 0h15m-101 1h15m-93 0h15m-1313 0h15m1207 0h15m66 0h15m219 1h15m-162 0h15m-105 0h15m-133 1h15m-8 0h15m59 0h15m-203 0h15m216 1h15m-180 0h15m193 0h15m44 0h15m92 0h15m123 2h15m-263 0h15m-401 0h15m573 1h15m-361 1h15m34 0h15m-160 0h15m-203 1h15m443 0h15m-10 1h15m-178 0h15m-125 0h15m-141 0h15m368 0h15m-26 0h15m102 2h15m-186 0h15m-1762 0h15m1774 0h15m-493 1h15m295 1h15m-144 0h15m533 1h15m-3782 0h15m3084 1h15m451 0h15m-236 0h15m-273 0h15m381 1h15m127 0h15m-27 0h15m-333 0h15m13 1h15m-86 0h15m32 1h15m-285 1h15m447 0h15m-71 0h15m-322 1h15m771 0h15m-702 0h15m75 1h15m-1892 0h15m1885 0h15m142 1h15m-186 0h15m278 0h15m-136 0h15m-88 1h15m-41 0h15m70 1h15m-42 0h15m-8 0h15m-216 1h15m329 0h15m-500 0h15m417 0h15m207 0h15m-349 1h15m-429 0h15m318 0h15m-353 1h15m68 0h15m65 0h15m119 0h15m-13 1h15m-86 1h15m71 1h15m514 0h15m-503 1h15m-31 0h15m152 1h15m-444 0h15m103 1h15m486 0h15m-395 0h15m-1894 0h15m1906 0h15m-73 0h15m-311 0h15m350 1h15m-60 0h15m321 1h15m-441 0h15m202 1h15m-48 1h15m19 0h15m184 0h15m-133 1h15m-305 0h15m76 1h15m56 0h15m-13 0h15m19 0h15m-511 1h15m339 0h15m41 0h15m329 0h15m-758 0h15m426 2h15m-30 1h15m550 0h15m-343 1h15m-240 0h15m-62 1h15m-168 0h15m614 0h15m-349 0h15m-584 1h15m386 0h15m-38 0h15m385 1h15m-465 0h15m75 0h15m-151 0h15m123 0h15m55 1h15m116 0h15m38 0h15m534 0h15m-1092 1h15m-1118 0h15m1052 0h15m261 0h15m213 1h15m-127 0h15m-98 0h15m124 0h15m-50 0h15m-119 1h15m80 1h15m-9 3h15m239 1h15m355 1h15m-846 1h15m167 1h15m-310 0h15m341 1h15m147 1h15m-286 1h15m-391 0h15m457 1h15m55 0h15m-433 1h15m-68 1h15m750 0h15m-544 0h15m-43 1h15m150 0h15m-48 1h15m87 1h15m166 0h15m-173 1h15m205 0h15m-176 0h15m-518 1h15m638 0h15m57 1h15m-177 1h15m-141 0h15m-125 0h15m-154 1h15m366 0h15m-212 1h15m-242 0h15m323 0h15m-210 1h15m84 0h15m-106 1h15m77 0h15m-3591 1h15m3501 1h15m67 1h15m-571 1h15m427 1h15m8 0h15m-127 0h15m-131 1h15m253 0h15m-117 1h15m-1232 0h15m1169 0h15m97 1h15m-180 0h15m226 1h15m-2 1h15m-101 0h15m26 1h15m-143 1h15m-1716 1h15m1732 0h15m255 1h15m-655 0h15m84 1h15m292 0h15m-116 1h15m-146 0h15m161 0h15m-63 3h15m89 0h15m-234 0h15m-257 0h15m505 2h15m69 0h15m-131 0h15m-204 1h15m-173 0h15m102 2h15m810 0h15m-1059 1h15m-15 2h15m238 0h15m226 1h15m130 1h15m-330 2h15m-1377 0h15m1675 1h15m-349 1h15m242 0h15m-210 0h15m39 0h15m-302 1h15m329 2h15m-198 4h15m-105 1h15m159 0h15m356 1h15m-80 1h15m-521 0h15m42 1h15m215 0h15m-231 3h15m-20 2h15m-3121 2h15m3191 0h15m-160 1h15m357 0h15m-387 0h15m-64 3h15m67 0h15m-187 0h15m285 3h15m12 3h15m-135 1h15m-73 1h15m-3071 0h15m3086 0h15m33 0h15m20 1h15m108 1h15m-1680 0h15m1716 3h15m-3663 1h15m3151 0h15m-1148 2h15m1920 0h15m-401 2h15m-90 0h15m-158 0h15m236 0h15m130 0h15m-304 1h15m490 2h15m-327 0h15m-3559 0h15m3374 2h15m123 2h15m-152 0h15m-1964 2h15m1926 2h15m60 1h15m-3534 4h15m3206 0h15m511 2h15m-260 0h15m-313 1h15m-1490 4h15m1929 1h15m-159 2h15m-88 0h15m-1954 0h15m2074 1h15m-217 0h15m-3440 19h15m3227 3h15m515 5h15m-246 0h15m-141 3h15m-352 1h15m346 0h15m-137 0h15m76 2h15m-47 2h15m-214 2h15m199 4h15m-127 1h15m335 1h15m-3443 12h15m3128 1h15m-38 7h15m240 11h15m98 4h15m-37 3h15m-1945 1h15m-131 3h15m1648 15h15m289 9h15m-44 27h15m-170 2h15m233 0h15m-3132 1152h15m27 76h15m159 22h15m13 1h15m-74 3h15m-356 4h15m264 2h15m45 6h15m10 0h15m54 0h15m-246 1h15m159 2h15m-196 0h15m94 1h15m-74 0h15m88 1h15m97 0h15m-160 1h15m-71 0h15m75 0h15m46 1h15m-91 0h15m59 0h15m22 0h15m-40 1h15m-2 0h15m0 2h15m-220 0h15m127 0h15m-86 1h15m63 0h15m-110 1h15m-100 1h15m179 2h15m-82 1h15m54 0h15m27 1h15m2 0h15m-260 0h15m100 0h15m-122 1h15m-27 0h15m216 0h15m-180 1h15m119 0h15m-134 1h15m-9 0h15m-30 0h15m-8 1h15m-46 1h15m-34 0h15m-35 1h15m65 0h15m-57 0h15m48 1h15m-76 0h15m-72 0h15m36 0h15m-130 1h15m51 1h15m212 0h15m-18 0h15m-187 1h15m-34 0h15m-17 0h15m160 0h15m11 1h15m-150 0h15m112 1h15m61 0h15m-309 0h15m33 0h15m-5 0h15m16 0h15m-26 1h15m-94 0h15m-40 0h15m72 0h15m-118 1h15m-12 1h15m254 0h15m-323 0h15m317 1h15m-272 1h15m209 0h15m-39 1h15m-226 0h15m-93 0h15m292 1h15m-27 0h15m-167 0h15m146 1h15m-280 0h15m289 1h15m-211 0h15m-172 1h15m96 0h15m12 1h15m-15 0h15m10 0h15m-10 0h15m-12 1h15m-94 1h15m-41 0h15m247 0h15m-322 1h15m-2 0h15m3 1h15m60 0h15m-146 1h15m74 0h15m259 0h15m-285 1h15m241 2h15m-308 0h15m266 0h15m-295 1h15m-3 1h15m-99 1h15m92 1h15m5 0h15m-57 0h15m68 0h15m-86 1h15m-20 0h15m-27 1h15m10 0h15m-146 0h15m1 0h15m353 0h15m-281 1h15m46 0h15m-69 0h15m1 1h15m16 0h15m27 1h15m-59 0h15m-28 0h15m-16 0h15m-114 0h15m50 0h15m57 1h15m1 0h15m-232 0h15m192 0h15m-207 0h15m94 1h15m81 0h15m-213 0h15m140 0h15m-166 0h15m-23 0h15m102 0h15m-87 0h15m146 0h15m-47 1h15m-15 2h15m199 2h15m-231 0h15m-160 3h15m-312 0h15m190 0h15m10 1h15m-62 0h15m447 0h15m-457 0h15m422 1h15m-230 2h15m-126 0h15m116 1h15m-251 0h15m90 0h15m-102 0h15m3136 1h15m-2946 0h15m-21 0h15m-205 1h15m408 1h15m-396 0h15m327 0h15m-626 0h15m204 1h15m8 1h15m158 0h15m-187 0h15m-69 1h15m68 1h15m322 1h15m-712 1h15m365 2h15m-134 0h15m-41 1h15m47 0h15m-83 1h15m9 1h15m418 0h15m-617 0h15m79 0h15m63 1h15m-236 0h15m652 1h15m-460 1h15m-65 0h15m154 0h15m-15 0h15m-470 0h15m341 0h15m403 0h15m-15 1h15m-412 1h15m6 1h15m358 0h15m-722 1h15m319 0h15m368 0h15m-399 0h15m-37 0h15m-238 1h15m195 1h15m-315 0h15m317 3h15m-30 1h15m-123 1h15m506 1h15m43 0h15m-815 0h15m-53 1h15m208 2h15m-14 0h15m-107 1h15m612 1h15m-508 0h15m-213 1h15m671 0h15m-432 0h15m-22 0h15m-253 1h15m661 0h15m-14 0h15m-752 1h15m267 0h15m-199 1h15m-150 0h15m195 0h15m-56 1h15m80 0h15m-23 0h15m-216 0h15m40 1h15m-78 0h15m257 1h15m418 0h15m-724 1h15m179 0h15m529 0h15m-728 0h15m156 1h15m-36 0h15m-223 0h15m11 1h15m0 0h15m201 0h15m-32 2h15m-11 0h15m-93 1h15m80 0h15m-252 0h15m218 0h15m3823 1h15m-3919 0h15m126 0h15m-315 1h15m191 0h15m63 1h15m-73 0h15m38 0h15m-100 0h15m-105 1h15m43 0h15m-139 1h15m243 0h15m-86 0h15m-248 0h15m32 0h15m663 1h15m-616 0h15m585 1h15m-553 0h15m-190 0h15m259 0h15m-10 0h15m-97 0h15m-250 0h15m23 1h15m260 0h15m-240 0h15m691 0h15m-56 0h15m-11 1h15m-760 0h15m301 0h15m419 1h15m-661 0h15m-101 0h15m283 0h15m-265 1h15m138 1h15m487 1h15m-681 1h15m159 0h15m-158 0h15m51 1h15m577 0h15m-696 1h15m154 0h15m532 0h15m-612 1h15m546 1h15m26 0h15m-613 0h15m-14 0h15m-163 1h15m53 0h15m-84 0h15m-54 1h15m81 0h15m-24 0h15m30 0h15m50 1h15m566 1h15m-627 1h15m19 0h15m-115 1h15m97 0h15m-131 1h15m61 0h15m16 0h15m503 0h15m-552 0h15m-72 1h15m1933 1h15m-1307 0h15m-76 0h15m-661 1h15m-25 0h15m-104 0h15m137 1h15m10 0h15m41 0h15m-48 0h15m-144 1h15m145 0h15m-8 0h15m-20 0h15m-24 0h15m-201 2h15m-88 0h15m3375 1h15m-3348 0h15m128 1h15m574 1h15m-653 0h15m53 0h15m-181 1h15m710 0h15m-686 0h15m-49 0h15m108 1h15m-181 2h15m757 0h15m-26 0h15m-637 1h15m-43 0h15m-9 1h15m60 0h15m583 0h15m-853 1h15m148 0h15m623 0h15m-675 1h15m17 0h15m-48 0h15m-30 3h15m661 0h15m-766 0h15m83 0h15m-203 1h15m209 0h15m-159 0h15m53 0h15m89 1h15m-226 0h15m120 0h15m-82 0h15m741 1h15m-756 0h15m58 1h15m631 0h15m-583 0h15m-217 1h15m161 2h15m-65 1h15m51 0h15m-7 1h15m-192 0h15m17 0h15m21 0h15m-30 0h15m101 1h15m559 0h15m-749 0h15m25 1h15m-40 0h15m-77 0h15m166 1h15m-4 0h15m-157 1h15m-51 0h15m3698 1h15m-3558 2h15m-30 1h15m604 0h15m1069 1h15m-1691 1h15m-13 1h15m-37 0h15m-24 0h15m-72 0h15m-40 1h15m-121 0h15m786 1h15m-673 0h15m-114 0h15m757 1h15m-642 0h15m-156 0h15m3508 1h15m-3488 0h15m42 1h15m-103 0h15m117 1h15m-126 1h15m119 1h15m-59 0h15m26 0h15m-55 1h15m-190 0h15m653 1h15m-505 0h15m476 0h15m93 0h15m-13 0h15m-603 0h15m-189 0h15m635 0h15m-655 1h15m638 0h15m-6 0h15m53 0h15m-7 0h15m-111 1h15m-575 0h15m566 0h15m-521 1h15m486 0h15m-18 0h15m78 0h15m-33 0h15m-608 1h15m7 0h15m602 0h15m-600 0h15m-130 0h15m34 1h15m-218 0h15m157 0h15m632 0h15m34 0h15m-814 1h15m-23 0h15m45 0h15m-1 0h15m32 0h15m610 0h15m22 1h15m-30 0h15m-28 0h15m-729 0h15m94 1h15m515 0h15m-734 1h15m233 1h15m-219 0h15m-38 0h15m-32 1h15m171 0h15m-203 0h15m221 0h15m-185 1h15m78 0h15m-36 1h15m-35 0h15m-113 0h15m749 1h15m-582 1h15m-248 0h15m697 1h15m77 1h15m-584 0h15m1423 0h15m-1510 1h15m-102 0h15m78 0h15m511 0h15m-473 0h15m-34 0h15m464 1h15m6 0h15m-498 0h15m-200 1h15m42 0h15m-102 1h15m24 0h15m83 0h15m531 0h15m-562 0h15m-143 0h15m160 1h15m-8 0h15m-19 0h15m490 1h15m-711 1h15m663 0h15m80 1h15m-679 0h15m-56 0h15m126 0h15m-198 0h15m116 1h15m598 0h15m-677 1h15m-65 0h15m-131 1h15m66 0h15m45 1h15m-144 0h15m32 1h15m17 0h15m-99 0h15m166 0h15m-174 0h15m1888 0h15m-1734 1h15m-56 0h15m92 0h15m-116 1h15m-155 1h15m190 0h15m580 1h15m-807 0h15m215 0h15m-175 0h15m-85 0h15m207 1h15m-143 0h15m76 1h15m-126 1h15m3 0h15m775 0h15m-693 0h15m-110 0h15m2091 1h15m-2149 1h15m4043 0h15m-217 1h15m-3861 0h15m272 0h15m-11 0h15m-196 0h15m2027 0h15m-2025 0h15m532 1h15m-5 0h15m-660 0h15m-1 0h15m-134 0h15m758 0h15m-722 1h15m-6 0h15m238 1h15m389 0h15m-8 0h15m-2 0h15m-600 0h15m2074 1h15m-2212 0h15m25 0h15m642 1h15m-666 1h15m-138 0h15m4 0h15m3612 0h15m-3487 0h15m600 1h15m-38 0h15m-832 1h15m1751 0h15m-1751 1h15m-34 0h15m59 0h15m-12 0h15m-51 1h15m140 0h15m-22 0h15m565 0h15m-537 0h15m528 0h15m4 0h15m-51 0h15m-786 1h15m2000 0h15m-2045 1h15m-30 0h15m264 0h15m-277 0h15m116 0h15m-139 0h15m1741 1h15m-944 0h15m1346 1h15m-2214 0h15m1783 0h15m-1026 0h15m2789 0h15m-2820 0h15m-762 1h15m2214 0h15m1541 0h15m-622 0h15m-2441 0h15m3113 1h15m-3879 0h15m-48 0h15m100 0h15m6 0h15m28 1h15m24 0h15m7 0h15m3047 1h15m68 0h15m-1652 0h15m-1011 0h15m1548 0h15m-1952 0h15m-430 1h15m3882 0h15m-3872 0h15m34 1h15m304 0h15m-140 0h15m1986 0h15m-2299 0h15m1796 0h15m1876 0h15m-3538 0h15m2044 1h15m-2081 0h15m225 1h15m-296 0h15m2168 0h15m-1937 0h15m-262 0h15m236 0h15m-16 0h15m-17 0h15m-259 0h15m2103 0h15m100 0h15m-2105 1h15m3674 0h15m-3706 0h15m-172 0h15m60 0h15m14 0h15m159 0h15m3010 0h15m-3255 1h15m1953 0h15m82 0h15m-1868 0h15m394 0h15m-612 0h15m2122 0h15m-1983 0h15m1921 0h15m-2300 1h15m-19 0h15m3873 0h15m-3652 0h15m-187 0h15m665 0h15m1440 1h15m-480 0h15m2188 0h15m-3784 0h15m172 0h15m1892 0h15m-2143 0h15m3320 0h15m-3342 0h15m204 1h15m-18 0h15m-267 0h15m78 0h15m-83 1h15m2142 0h15m-2084 0h15m-285 0h15m104 0h15m3859 1h15m-1868 0h15m-1742 1h15m395 0h15m-765 0h15m123 0h15m519 0h15m-595 0h15m567 0h15m-704 0h15m2191 0h15m-1987 1h15m-93 0h15m-188 0h15m2255 0h15m-2146 0h15m534 0h15m-725 0h15m180 0h15m-77 0h15m81 0h15m3749 1h15m-3612 0h15m3493 0h15m-3208 0h15m-531 1h15m-147 0h15m109 0h15m514 0h15m-536 0h15m3607 0h15m-2084 0h15m-1608 1h15m-182 0h15m2289 0h15m-2087 0h15m-159 0h15m302 1h15m-310 0h15m105 0h15m582 0h15m-735 0h15m261 0h15m1911 1h15m-1509 0h15m-637 0h15m601 0h15m1587 0h15m-2020 0h15m-37 0h15m-382 0h15m182 0h15m56 1h15m486 0h15m-375 0h15m1832 0h15m-1410 0h15m3033 0h15m-3196 1h15m-559 0h15m2187 0h15m-2164 0h15m526 0h15m-576 0h15m2059 1h15m-1915 0h15m1323 0h15m-1663 0h15m270 1h15m-144 0h15m1962 0h15m204 0h15m1497 0h15m-3849 1h15m239 0h15m1976 0h15m1613 0h15m-1650 1h15m-2101 0h15m1438 0h15m618 0h15m-11 0h15m-1602 0h15m-22 0h15m-561 1h15m-227 0h15m113 0h15m245 0h15m-265 0h15m-145 0h15m2200 0h15m-1971 0h15m-97 1h15m3751 0h15m-1628 0h15m-37 0h15m-1550 0h15m-652 1h15m102 0h15m481 1h15m3189 0h15m-1741 0h15m1691 0h15m-83 0h15m-3913 0h15m3943 0h15m-3866 1h15m-48 0h15m2167 0h15m-1543 0h15m1538 0h15m-497 0h15m-1530 0h15m1961 0h15m-31 1h15m-1845 0h15m3401 0h15m-1618 0h15m174 0h15m-2419 0h15m2402 0h15m1544 1h15m-1769 0h15m-1971 0h15m138 0h15m1893 0h15m-2354 0h15m713 0h15m-574 0h15m230 1h15m1857 0h15m-1874 0h15m-393 0h15m3212 0h15m-1026 0h15m-53 0h15m-318 0h15m437 1h15m-106 0h15m1730 0h15m-3259 0h15m-50 0h15m2722 0h15m-3380 1h15m3805 0h15m-3896 0h15m2200 0h15m-1510 0h15m-743 0h15m2213 1h15m-1547 0h15m3220 0h15m-3569 0h15m3499 0h15m-3178 0h15m-557 1h15m161 0h15m344 0h15m2334 0h15m-2998 0h15m32 0h15m3676 0h15m-3485 0h15m8 0h15m-39 0h15m305 0h15m-616 0h15m-140 0h15m804 1h15m1397 1h15m117 0h15m-2117 0h15m1855 1h15m-2090 0h15m2147 0h15m1477 0h15m94 1h15m-1567 0h15m94 0h15m-2177 0h15m-159 0h15m723 0h15m1574 0h15m-2168 1h15m-105 0h15m2030 0h15m-2143 0h15m2342 0h15m-186 0h15m-2075 0h15m2014 1h15m157 0h15m-2178 0h15m-141 0h15m-16 0h15m3889 1h15m-1880 0h15m963 0h15m809 1h15m-3895 0h15m1823 0h15m427 0h15m-2255 0h15m-20 0h15m-25 1h15m2209 0h15m-172 0h15m-2005 0h15m3308 0h15m-3343 0h15m3785 1h15m-295 0h15m227 0h15m-1682 0h15m-147 0h15m58 0h15m156 0h15m-2239 1h15m2205 0h15m-2334 0h15m2999 0h15m-844 0h15m-1442 0h15m1546 0h15m1542 0h15m-877 0h15m-1537 1h15m884 0h15m-2333 0h15m1959 1h15m34 0h15m60 0h15m-76 0h15m-2102 0h15m2162 1h15m-167 0h15m1860 0h15m-27 0h15m-1553 0h15m-2142 0h15m1878 1h15m-2090 0h15m38 0h15m2209 0h15m-299 0h15m1287 1h15m-3426 0h15m3320 0h15m-3100 0h15m3688 0h15m-1540 0h15m-2221 0h15m1985 0h15m-1458 1h15m-494 0h15m1958 0h15m-531 0h15m-1523 0h15m1969 0h15m1764 0h15m-2253 0h15m2143 0h15m-27 0h15m-3632 0h15m-61 0h15m1967 1h15m-2123 0h15m131 0h15m467 0h15m-658 0h15m3837 0h15m-3888 1h15m656 0h15m1581 0h15m-24 0h15m-2060 0h15m1994 0h15m1607 0h15m-1834 0h15m241 1h15m-2266 0h15m623 0h15m3146 0h15m-3167 0h15m-510 0h15m2031 0h15m1675 0h15m-3980 0h15m239 0h15m1728 0h15m1947 0h15m-3711 0h15m-155 0h15m2008 0h15m1666 1h15m-3594 0h15m-122 0h15m-204 0h15m71 1h15m2006 0h15m-2052 0h15m3936 0h15m-1845 0h15m-94 0h15m103 0h15m132 0h15m-2238 1h15m3862 0h15m-4046 0h15m3429 0h15m158 0h15m-3461 0h15m2079 0h15m1574 0h15m-1737 0h15m1713 0h15m-1685 1h15m-1910 0h15m3575 0h15m-1554 0h15m-152 0h15m1772 0h15m-2298 0h15m436 0h15m-1232 0h15m-204 0h15m-604 1h15m-112 0h15m2119 0h15m185 0h15m1470 0h15m-840 0h15m-759 0h15m1470 0h15m-3740 0h15m59 1h15m2148 0h15m-43 0h15m903 1h15m741 0h15m-908 0h15m-919 0h15m-148 0h15m381 0h15m-156 0h15m-129 0h15m-2059 1h15m3737 0h15m-2130 0h15m365 0h15m185 0h15m-2132 1h15m2170 0h15m-1694 0h15m1330 0h15m280 0h15m825 0h15m-969 0h15m1599 0h15m-3150 0h15m1308 0h15m-2081 1h15m2372 0h15m728 0h15m-2395 0h15m3244 0h15m-954 0h15m-826 0h15m-2099 0h15m2072 0h15m-2183 0h15m3863 0h15m11 1h15m-63 0h15m-3241 0h15m3172 0h15m-3198 0h15m1324 0h15m187 0h15m1273 0h15m-3336 0h15m2022 1h15m1686 0h15m-3756 0h15m2025 0h15m141 0h15m-2322 0h15m3672 0h15m-3513 0h15m1844 1h15m-90 0h15m214 0h15m-1600 0h15m1471 0h15m-520 0h15m308 0h15m1813 0h15m-1507 0h15m-2187 0h15m2153 1h15m-2233 0h15m563 1h15m2343 0h15m790 0h15m37 0h15m-17 0h15m-3826 0h15m103 1h15m1332 0h15m479 0h15m-107 0h15m356 0h15m-2083 0h15m-13 0h15m-214 1h15m1572 0h15m-1614 0h15m2335 0h15m1461 0h15m-1621 0h15m-98 0h15m106 0h15m-314 1h15m1860 0h15m-1535 0h15m-2217 0h15m1456 0h15m-1390 0h15m1874 0h15m-114 0h15m-1339 1h15m1304 0h15m1894 0h15m-1604 0h15m-23 0h15m1573 0h15m-3707 0h15m3552 1h15m-739 0h15m-2922 0h15m2080 0h15m-2163 0h15m2301 0h15m-2243 0h15m2900 1h15m-3110 0h15m3008 0h15m-2896 0h15m2141 0h15m-167 0h15m1748 0h15m-34 0h15m-1803 0h15m1711 0h15m-3824 1h15m2219 0h15m-2089 0h15m-5 0h15m425 0h15m-436 1h15m3691 0h15m-122 0h15m-1878 0h15m-1758 0h15m3422 0h15m-3579 1h15m1503 0h15m575 0h15m-38 1h15m-2264 0h15m2394 0h15m-14 0h15m-2205 0h15m509 0h15m977 0h15m-1507 1h15m-110 0h15m1507 0h15m-1614 0h15m102 0h15m488 0h15m3250 1h15m-170 0h15m-3751 0h15m-9 0h15m2309 0h15m-2027 0h15m1748 0h15m-1871 0h15m2878 0h15m-911 1h15m-169 0h15m-39 0h15m-1756 0h15m-63 0h15m53 0h15m3558 0h15m-3839 0h15m1577 1h15m-70 0h15m1404 0h15m-2408 0h15m1370 0h15m-1793 0h15m1763 0h15m1902 0h15m-3628 0h15m313 0h15m-430 0h15m-172 0h15m-30 1h15m1571 0h15m1492 0h15m-1107 0h15m-1774 0h15m3155 0h15m-3558 0h15m56 0h15m3938 0h15m-3354 1h15m1491 0h15m-1528 0h15m1558 0h15m1737 0h15m-3853 1h15m40 0h15m451 0h15m-530 0h15m203 0h15m2755 0h15m646 0h15m152 0h15m-222 0h15m-3088 0h15m-562 1h15m21 0h15m2203 0h15m-1689 0h15m-532 0h15m2142 0h15m-2344 0h15m2305 0h15m1394 1h15m-2072 0h15m450 0h15m-467 0h15m-1044 0h15m1506 1h15m-166 0h15m-1414 0h15m-10 0h15m1580 0h15m-2163 0h15m1978 0h15m-1919 0h15m3562 1h15m-599 0h15m828 0h15m-1757 0h15m59 0h15m1473 0h15m-1461 0h15m1445 0h15m-1568 0h15m813 0h15m-3059 0h15m523 0h15m2545 0h15m-3114 1h15m71 0h15m3735 0h15m-3860 0h15m3772 0h15m-1875 0h15m1887 0h15m-86 0h15m-3793 0h15m3724 0h15m-1390 1h15m-475 0h15m-1819 0h15m3768 0h15m-1783 0h15m-2220 0h15m3851 0h15m-1806 1h15m-1914 0h15m1939 0h15m100 0h15m-88 0h15m1694 0h15m-3688 0h15m63 0h15m345 0h15m1593 0h15m1492 0h15m-3138 0h15m3080 0h15m172 0h15m-2251 0h15m2140 0h15m75 0h15m-132 1h15m-1776 0h15m-1386 0h15m2626 0h15m-2680 0h15m2979 0h15m-3421 1h15m2932 0h15m-2549 0h15m3300 0h15m-3934 0h15m2341 0h15m-82 1h15m810 0h15m-886 0h15m-1657 1h15m1759 0h15m-2333 0h15m-52 0h15m2356 0h15m-2239 1h15m2196 0h15m-825 0h15m-979 1h15m-601 0h15m2047 0h15m1861 0h15m-3638 0h15m1904 0h15m-1950 0h15m-11 0h15m1662 0h15m73 0h15m-431 1h15m659 0h15m1490 0h15m-1605 0h15m-1655 0h15m1430 0h15m175 0h15m-211 0h15m-1422 0h15m859 1h15m-1436 0h15m2193 0h15m1432 0h15m-142 0h15m197 0h15m-3538 0h15m1782 0h15m1655 0h15m-1747 0h15m347 0h15m-241 0h15m1430 0h15m221 0h15m-3556 1h15m-211 0h15m2872 0h15m-910 0h15m-2146 0h15m2151 0h15m-1570 0h15m-445 0h15m-38 0h15m2069 0h15m-138 0h15m-2115 0h15m3130 0h15m-947 0h15m1262 1h15m-3509 0h15m-80 0h15m3913 0h15m-3753 0h15m2950 0h15m477 0h15m-3275 0h15m2045 0h15m1470 0h15m-1838 0h15m1527 1h15m249 0h15m-1494 0h15m-790 0h15m523 0h15m10 0h15m-1983 0h15m1919 0h15m122 0h15m726 0h15m721 0h15m-1745 0h15m-2017 0h15m3539 1h15m-1496 0h15m-18 0h15m-2019 0h15m2130 0h15m999 0h15m-1027 0h15m813 0h15m412 1h15m236 0h15m-42 0h15m-3456 0h15m1550 0h15m152 0h15m-1958 0h15m2050 0h15m185 0h15m-246 0h15m1639 1h15m-3500 0h15m2748 0h15m-956 0h15m280 0h15m743 0h15m678 0h15m-3756 0h15m129 0h15m3468 0h15m-1745 1h15m-1999 0h15m3877 0h15m-251 0h15m-1586 0h15m1539 0h15m272 0h15m-1967 0h15m-1801 0h15m-108 0h15m47 0h15m3550 0h15m92 0h15m-96 0h15m-1818 0h15m1807 1h15m-103 0h15m207 0h15m-1741 0h15m-31 0h15m-28 0h15m1684 1h15m-1809 0h15m239 0h15m1340 0h15m-1624 0h15m-1486 0h15m1575 0h15m1627 0h15m-1629 0h15m1542 0h15m-1521 0h15m66 0h15m-391 0h15m-2024 0h15m1624 1h15m775 0h15m-37 0h15m-354 0h15m38 0h15m-1877 0h15m-156 0h15m518 1h15m1371 0h15m-58 0h15m1688 0h15m-15 0h15m-3073 0h15m-26 0h15m3261 0h15m-2259 0h15m-1299 0h15m-31 0h15m3313 0h15m73 0h15m163 0h15m-260 0h15m-1546 1h15m-2054 0h15m1821 0h15m190 0h15m1800 0h15m-1993 0h15m-1857 0h15m2046 0h15m1684 0h15m-3647 1h15m-318 0h15m2282 0h15m1451 0h15m213 0h15m-1680 0h15m-2105 0h15m2018 0h15m-2174 1h15m-12 0h15m3715 0h15m2 0h15m-627 0h15m-1170 0h15m1811 0h15m-199 0h15m-1501 0h15m1188 0h15m-3091 0h15m2002 1h15m-2303 0h15m1558 0h15m747 0h15m1162 0h15m167 0h15m-105 0h15m-3496 0h15m3600 0h15m-3222 1h15m-547 0h15m106 0h15m1919 0h15m-145 0h15m1735 0h15m-3433 0h15m3299 1h15m291 0h15m-238 0h15m-3611 0h15m3786 0h15m-3808 0h15m1811 0h15m1811 0h15m-3457 1h15m-329 0h15m3715 0h15m-3711 0h15m265 0h15m1975 0h15m1609 0h15m-1908 0h15m1641 0h15m-1381 0h15m948 0h15m392 0h15m252 0h15m-2010 0h15m-1721 1h15m3502 0h15m-3603 0h15m1737 0h15m31 0h15m355 0h15m-798 0h15m-1597 0h15m2367 0h15m-263 0h15m-1973 0h15m1353 0h15m2031 1h15m157 0h15m-1847 0h15m-1381 0h15m3350 0h15m-459 1h15m330 0h15m-3275 0h15m2454 0h15m-724 0h15m-2051 0h15m3341 0h15m-429 0h15m343 0h15m-3334 1h15m3414 0h15m-111 0h15m-1542 0h15m-2083 0h15m43 0h15m3602 0h15m171 0h15m-149 0h15m-730 0h15m737 0h15m-770 0h15m556 0h15m-1203 1h15m1445 0h15m-1579 0h15m1243 0h15m-3592 0h15m14 0h15m3596 0h15m194 0h15m-1443 0h15m-377 1h15m1866 0h15m-910 0h15m-982 0h15m1496 0h15m-3427 0h15m1842 0h15m90 0h15m229 0h15m1168 0h15m359 0h15m-2334 0h15m1892 1h15m-3332 0h15m-215 0h15m3640 0h15m-3549 0h15m193 0h15m1614 0h15m-1894 0h15m2250 0h15m-52 0h15m-33 0h15m1484 0h15m-131 0h15m-1488 0h15m-43 1h15m-26 0h15m-199 0h15m-2041 0h15m2233 0h15m73 0h15m-124 0h15m-2186 1h15m1915 0h15m347 0h15m-85 0h15m34 0h15m-163 0h15m-47 0h15m316 0h15m1215 0h15m-3655 0h15m3971 0h15m-3877 0h15m3508 1h15m-3123 0h15m2956 0h15m-1429 0h15m-1938 0h15m1905 0h15m1004 1h15m-2618 0h15m1877 0h15m1244 0h15m-44 0h15m-1402 0h15m-2133 0h15m3658 0h15m-3880 0h15m3178 0h15m-965 0h15m1613 0h15m-3308 1h15m2469 0h15m-823 0h15m-2062 0h15m155 0h15m209 0h15m1822 0h15m850 0h15m-2982 0h15m-165 0h15m1987 1h15m-1856 0h15m1992 0h15m-2159 0h15m2026 0h15m45 0h15m-1722 0h15m1790 0h15m-2061 1h15m3473 0h15m-3291 0h15m3096 0h15m-3607 0h15m2032 1h15m-10 0h15m-1890 0h15m3647 0h15m-3751 0h15m1871 0h15m1787 0h15m-1645 0h15m-1976 0h15m56 0h15m1947 0h15m-261 0h15m1841 0h15m-523 1h15m-1365 0h15m-1793 0h15m289 0h15m1629 0h15m869 0h15m-3111 0h15m506 0h15m2538 0h15m-736 0h15m72 1h15m843 0h15m522 0h15m-3616 0h15m3558 0h15m-2015 0h15m392 0h15m1660 0h15m-1562 0h15m-62 0h15m1668 1h15m-3701 0h15m1722 0h15m-1991 0h15m1928 0h15m67 0h15m175 0h15m-2179 0h15m64 1h15m3715 0h15m-3965 0h15m216 0h15m1757 0h15m255 0h15m1282 0h15m-3545 0h15m1960 0h15m331 1h15m-97 0h15m16 0h15m-1783 0h15m1480 0h15m-1984 0h15m3827 0h15m-3623 0h15m-153 0h15m182 0h15m-310 1h15m352 0h15m-35 0h15m70 0h15m1769 0h15m-1877 0h15m-153 0h15m3240 1h15m-3406 0h15m3860 0h15m-3521 0h15m1702 0h15m1639 0h15m-3807 0h15m3735 0h15m-1673 1h15m241 0h15m-2056 0h15m1747 0h15m-109 0h15m235 0h15m1620 0h15m-3703 0h15m1922 0h15m-1772 0h15m134 0h15m1475 1h15m1033 0h15m469 0h15m-3040 0h15m-444 0h15m2024 0h15m-2058 0h15m14 0h15m199 0h15m3192 0h15m-3482 1h15m-137 0h15m78 0h15m390 0h15m2543 0h15m-3047 0h15m383 0h15m1774 0h15m-1962 0h15m141 0h15m-139 0h15m-116 0h15m41 1h15m3241 0h15m-1447 0h15m-2099 0h15m0 0h15m20 0h15m235 0h15m255 1h15m1685 0h15m-1723 0h15m3392 0h15m-725 0h15m-2854 1h15m1673 0h15m1474 0h15m-1590 0h15m-2024 0h15m304 0h15m-321 0h15m3940 0h15m-2418 0h15m2268 0h15m-1771 0h15m-2001 0h15m-69 0h15m132 1h15m3669 0h15m-1615 0h15m-1748 0h15m1699 0h15m-2236 0h15m238 0h15m1787 0h15m166 0h15m-1747 0h15m1708 0h15m-1868 1h15m1832 0h15m-2155 0h15m2230 0h15m-829 0h15m-1235 0h15m-315 0h15m3831 0h15m-1552 0h15m-8 0h15m-1815 0h15m-374 0h15m265 0h15m-249 0h15m-126 0h15m2228 0h15m1545 0h15m-3717 0h15m3580 1h15m49 0h15m-3724 0h15m2221 0h15m-328 0h15m-9 0h15m-1840 0h15m-53 0h15m3681 0h15m-3908 0h15m394 0h15m23 0h15m3444 1h15m-3989 0h15m3568 0h15m-3080 0h15m8 0h15m1722 0h15m-691 0h15m-1451 0h15m3424 0h15m-1327 0h15m1538 0h15m-3685 0h15m2901 0h15m-974 0h15m-1598 0h15m3281 0h15m-3387 1h15m1803 0h15m-339 0h15m-2 0h15m244 0h15m1631 0h15m-832 0h15m-880 0h15m195 0h15m-1895 1h15m3020 0h15m-504 0h15m-857 0h15m-1739 0h15m3361 0h15m-3367 0h15m2527 0h15m-2953 0h15m3733 0h15m-3814 1h15m447 0h15m1049 0h15m2306 0h15m-3780 0h15m153 0h15m250 0h15m1760 0h15m-1882 0h15m1701 0h15m1292 0h15m-3320 0h15m73 0h15m3507 0h15m-1573 1h15m-2224 0h15m199 0h15m3544 0h15m-3170 0h15m3141 0h15m-1678 0h15m-1836 0h15m-349 0h15m9 0h15m3860 0h15m-3292 1h15m-610 0h15m2016 0h15m-1742 0h15m1784 0h15m-615 0h15m1987 0h15m-1435 1h15m-2149 0h15m391 0h15m1537 0h15m-1951 0h15m2001 0h15m-1889 0h15m-64 0h15m333 0h15m112 1h15m-286 0h15m17 0h15m1172 0h15m-965 0h15m-35 0h15m1654 0h15m-2057 0h15m3731 0h15m-3911 0h15m442 1h15m-134 0h15m15 0h15m1639 0h15m1771 0h15m-3383 0h15m3333 0h15m-3749 0h15m2122 0h15m-8 0h15m1641 1h15m-3670 0h15m3575 0h15m-1849 0h15m421 0h15m-32 0h15m-138 1h15m-1738 0h15m-31 0h15m1559 0h15m1397 0h15m-3160 0h15m87 0h15m1083 0h15m-1079 0h15m1796 0h15m-2045 0h15m2092 0h15m-2176 0h15m2079 0h15m-334 1h15m-1765 0h15m1664 0h15m93 0h15m1750 0h15m-3766 0h15m1524 0h15m-1617 0h15m2256 0h15m-177 0h15m5 0h15m1388 0h15m-59 0h15m394 1h15m-410 0h15m-1406 0h15m89 0h15m803 0h15m-1033 0h15m1527 0h15m-3107 0h15m1529 0h15m-481 0h15m1982 0h15m-3482 0h15m1969 0h15m331 0h15m-1936 0h15m1853 0h15m-1838 0h15m1701 0h15m-2263 1h15m288 0h15m-262 0h15m1942 0h15m-468 0h15m2358 0h15m-3364 0h15m-598 0h15m3820 0h15m-3362 0h15m-93 1h15m2674 0h15m-1139 0h15m1494 0h15m-1558 0h15m-1568 0h15m170 0h15m2746 1h15m510 0h15m-3678 0h15m2085 0h15m-2189 0h15m2135 0h15m-1770 0h15m1358 0h15m391 0h15m-283 0h15m1494 0h15m-1777 0h15m-1202 0h15m-202 0h15m-430 1h15m3268 0h15m-1291 0h15m-25 0h15m172 1h15m952 0h15m-3002 0h15m2146 0h15m-2134 0h15m-31 0h15m314 0h15m-319 0h15m3779 0h15m-1785 0h15m-253 0h15m-1718 0h15m1876 0h15m-1789 0h15m1742 0h15m-210 0h15m-1664 0h15m-363 1h15m3497 0h15m-3112 0h15m-76 0h15m2087 0h15m-129 0h15m-2152 0h15m263 1h15m2582 0h15m-3032 0h15m1958 0h15m144 0h15m-130 0h15m-1706 0h15m1652 0h15m-2027 1h15m2359 0h15m-2412 0h15m571 0h15m-118 1h15m-492 0h15m2274 0h15m35 0h15m9 0h15m-133 0h15m-1908 0h15m1678 0h15m-2088 1h15m521 0h15m3357 0h15m-3924 0h15m2384 0h15m1476 0h15m-1629 0h15m-1810 0h15m1974 0h15m-287 0h15m280 0h15m-230 0h15m-99 1h15m2 0h15m-166 0h15m-1500 0h15m-447 0h15m2118 0h15m116 0h15m-2380 0h15m313 0h15m2717 0h15m-2524 0h15m2755 1h15m-1339 1h15m-1417 0h15m3261 0h15m-3873 0h15m3049 0h15m-1199 0h15m-1378 0h15m-265 0h15m237 0h15m-457 0h15m25 1h15m-187 0h15m559 0h15m1017 0h15m699 0h15m-44 0h15m47 0h15m-1759 0h15m-212 0h15m-323 0h15m2202 0h15m1591 0h15m-3770 1h15m3309 0h15m-3247 0h15m1265 0h15m-1337 0h15m1341 0h15m395 0h15m56 1h15m1875 0h15m-3579 0h15m48 0h15m3446 0h15m-3754 0h15m3907 0h15m-3469 0h15m1659 0h15m-298 0h15m-2019 0h15m3325 0h15m176 0h15m-1264 0h15m-750 0h15m2322 1h15m-393 0h15m24 0h15m-386 1h15m-2628 0h15m2962 0h15m-3055 0h15m1834 1h15m-2052 0h15m293 0h15m-540 0h15m2217 0h15m-1817 0h15m3435 0h15m-106 1h15m-3309 0h15m-555 0h15m3431 0h15m-1196 0h15m-2023 0h15m40 0h15m-7 0h15m2022 0h15m-862 0h15m790 0h15m849 1h15m-2842 0h15m-157 0h15m2110 0h15m24 0h15m-2121 0h15m3108 0h15m439 0h15m-1427 0h15m-501 0h15m-1875 1h15m3304 0h15m-1041 0h15m-1934 0h15m-9 0h15m-86 0h15m256 0h15m2774 0h15m346 0h15m-1897 0h15m-1700 0h15m3212 0h15m-3054 0h15m65 0h15m1845 0h15m-2052 1h15m203 0h15m-328 0h15m1210 0h15m-1303 0h15m3664 0h15m-2003 0h15m445 0h15m-2319 0h15m193 1h15m3110 0h15m-3056 0h15m237 0h15m-337 0h15m1642 0h15m-1470 0h15m-214 0h15m1976 1h15m1156 0h15m-3366 0h15m3390 0h15m-3126 0h15m-31 0h15m67 0h15m1481 0h15m1508 1h15m-3530 0h15m3873 0h15m-3370 0h15m2960 0h15m-1466 0h15m-1596 0h15m-19 0h15m-338 0h15m163 1h15m3284 0h15m-1277 0h15m-2083 0h15m2069 0h15m1235 0h15m311 1h15m-59 0h15m-298 0h15m57 0h15m-88 0h15m-3152 0h15m2974 0h15m-1951 0h15m758 0h15m-2321 0h15m1950 0h15m-1372 0h15m2907 0h15m-1517 1h15m-1815 0h15m47 0h15m2003 0h15m50 0h15m1200 0h15m-3108 0h15m-15 0h15m3086 1h15m-1663 0h15m394 0h15m1331 0h15m-3469 0h15m427 0h15m2889 1h15m-1585 0h15m-1484 0h15m94 0h15m3379 0h15m-2106 0h15m474 0h15m-2411 0h15m529 0h15m3089 0h15m-3733 0h15m2302 0h15m1199 0h15m-2902 1h15m-211 0h15m3237 0h15m-3309 0h15m-194 0h15m307 0h15m1855 0h15m-2048 1h15m3100 0h15m-1172 0h15m1131 0h15m-2976 0h15m-311 0h15m153 0h15m3513 0h15m-3480 1h15m3233 0h15m-3395 0h15m-9 0h15m138 0h15m3418 0h15m-224 0h15m-131 0h15m-3269 0h15m3334 0h15m-3310 0h15m3549 1h15m-380 0h15m-2037 0h15m-829 0h15m3170 0h15m-1991 0h15m-1587 0h15m-192 1h15m460 0h15m3196 0h15m-3536 0h15m272 0h15m1325 0h15m-1425 0h15m3315 0h15m-348 0h15m328 0h15m-3483 0h15m2996 0h15m-1159 1h15m-2025 0h15m202 0h15m1819 0h15m-2143 0h15m391 1h15m3268 0h15m-1957 0h15m1579 0h15m-1687 0h15m472 1h15m1199 0h15m-163 0h15m127 0h15m-2975 1h15m113 0h15m3130 0h15m-3642 0h15m2082 0h15m-543 0h15m-1844 0h15m3899 0h15m-634 0h15m86 1h15m-1022 0h15m-35 0h15m-2318 0h15m2237 0h15m1316 1h15m-3127 0h15m-203 0h15m1536 0h15m405 0h15m1116 0h15m-3199 1h15m3165 0h15m-90 0h15m-2924 0h15m3098 0h15m-3037 0h15m-25 0h15m-571 0h15m-25 1h15m316 0h15m2045 0h15m-1971 0h15m3125 0h15m-3024 0h15m128 1h15m-107 0h15m1694 0h15m-1744 0h15m-292 0h15m3261 0h15m-3307 0h15m3253 0h15m-3257 0h15m2042 0h15m-1811 0h15m-125 0h15m1451 1h15m-1481 0h15m-201 0h15m3575 0h15m-3609 0h15m28 0h15m202 0h15m-153 1h15m-90 0h15m166 0h15m-119 0h15m230 0h15m-203 0h15m-354 0h15m3422 0h15m-3096 0h15m3398 1h15m-3310 0h15m1318 0h15m421 0h15m-1825 1h15m-204 0h15m2058 0h15m-2033 0h15m178 0h15m2958 1h15m-2998 0h15m1363 0h15m-1448 0h15m1395 0h15m-1402 0h15m-219 0h15m129 0h15m1785 0h15m-1783 0h15m3107 1h15m-3264 0h15m117 0h15m-136 0h15m1518 0h15m-1282 0h15m-360 0h15m3200 0h15m-1188 0h15m-46 1h15m-36 0h15m-458 0h15m-1566 0h15m3544 0h15m-3466 1h15m1485 0h15m-1546 0h15m3124 0h15m-2931 0h15m1220 1h15m1573 0h15m-3172 0h15m2030 0h15m-2157 0h15m3634 0h15m-3381 0h15m193 1h15m-446 0h15m3284 0h15m-1191 0h15m-450 0h15m1609 1h15m-25 0h15m-1679 0h15m-1960 0h15m3595 0h15m-5 0h15m-3246 0h15m2909 1h15m-2968 0h15m-36 0h15m403 0h15m2822 0h15m-1212 0h15m-2101 0h15m117 1h15m1895 0h15m-1838 0h15m3078 0h15m-164 0h15m-3137 0h15m337 0h15m-130 0h15m1257 0h15m-1442 0h15m3489 1h15m-471 0h15m113 0h15m-3029 0h15m52 1h15m1248 0h15m-1308 0h15m1289 0h15m-1505 1h15m-418 0h15m694 0h15m1586 0h15m1243 0h15m-2960 0h15m2805 0h15m437 0h15m-3309 0h15m-245 0h15m-364 0h15m441 0h15m1828 1h15m-396 0h15m1436 0h15m-1487 0h15m-1307 0h15m3211 1h15m-3328 0h15m84 1h15m-93 0h15m-67 0h15m2891 0h15m-65 0h15m-2934 0h15m-169 0h15m3555 0h15m-1927 1h15m-17 0h15m401 0h15m-1998 1h15m2939 1h15m-1448 0h15m422 0h15m5 0h15m-466 0h15m447 0h15m1477 0h15m-1984 1h15m-1659 0h15m1700 0h15m1888 0h15m-3401 0h15m1826 0h15m-1810 0h15m-94 1h15m1870 0h15m-457 0h15m-1420 0h15m-121 0h15m3006 1h15m-3127 0h15m1649 0h15m1879 0h15m-3540 0h15m1992 0h15m-2082 1h15m3132 0h15m-1093 0h15m-1925 0h15m1897 0h15m-423 0h15m-1499 0h15m1437 0h15m460 1h15m1582 0h15m-2224 0h15m-1267 0h15m73 1h15m2770 0h15m-2999 0h15m111 0h15m1807 1h15m-1817 0h15m3305 0h15m-1550 1h15m-1875 0h15m1427 0h15m-1487 0h15m1872 0h15m25 0h15m-18 1h15m1037 0h15m-2890 0h15m-330 1h15m2067 0h15m-1661 0h15m1215 0h15m398 0h15m-1967 1h15m119 0h15m1898 0h15m-2007 0h15m305 1h15m-465 0h15m271 0h15m-260 0h15m2025 0h15m-11 1h15m-2175 0h15m244 1h15m-232 0h15m1322 0h15m-1322 0h15m3803 0h15m-1802 0h15m1069 1h15m-3090 0h15m271 0h15m1734 0h15m-1806 0h15m2838 1h15m-2888 0h15m-221 0h15m2009 0h15m1596 0h15m-2350 1h15m248 0h15m-1239 0h15m-387 0h15m2037 1h15m-1726 0h15m843 0h15m899 0h15m-546 0h15m-1305 1h15m150 0h15m-496 0h15m203 1h15m106 0h15m-152 0h15m1378 0h15m-1573 0h15m182 1h15m215 0h15m1539 0h15m-1829 0h15m-485 0h15m505 0h15m-123 1h15m2972 0h15m-2728 0h15m-217 1h15m1819 0h15m-1773 0h15m1326 0h15m-1444 0h15m-110 1h15m88 0h15m178 0h15m-131 0h15m-154 1h15m-228 0h15m212 0h15m2956 0h15m-2889 0h15m49 0h15m2800 0h15m-115 0h15m-1453 0h15m416 1h15m-1957 0h15m13 0h15m135 0h15m2485 0h15m-764 0h15m1063 0h15m-2858 1h15m-282 0h15m2089 1h15m1534 0h15m-3522 0h15m1131 0h15m-973 0h15m2801 0h15m-2796 1h15m3217 0h15m-3281 0h15m1753 1h15m1111 0h15m-2862 0h15m2831 0h15m-3177 0h15m250 0h15m-25 1h15m1285 0h15m-1395 1h15m-293 0h15m3266 0h15m-2966 0h15m43 0h15m-58 0h15m1778 0h15m-1970 0h15m171 0h15m-73 1h15m-236 0h15m317 0h15m2830 0h15m3 0h15m-3269 0h15m3238 1h15m-3037 0h15m-1 0h15m-296 0h15m415 0h15m1680 1h15m-1881 0h15m-26 0h15m2910 0h15m-2937 1h15m1232 0h15m1759 0h15m-1161 1h15m-605 0h15m-1447 0h15m3153 0h15m-2839 0h15m-130 0h15m1724 1h15m35 0h15m-2000 0h15m165 0h15m2941 0h15m-1631 1h15m428 0h15m-2126 0h15m2072 0h15m-1760 1h15m1769 0h15m1510 1h15m-3488 0h15m117 0h15m1775 0h15m990 0h15m-3068 0h15m275 1h15m1796 1h15m-1976 0h15m-171 0h15m345 0h15m85 0h15m3121 0h15m-435 1h15m-2919 0h15m2887 0h15m-2761 0h15m1193 0h15m514 1h15m1447 0h15m-482 0h15m426 0h15m-484 0h15m-2841 0h15m-205 1h15m3486 0h15m-3262 0h15m2787 0h15m-2784 0h15m1638 0h15m1075 0h15m450 0h15m-8 1h15m-497 0h15m-1085 0h15m1519 1h15m-3241 0h15m1233 0h15m1962 0h15m-513 0h15m-1828 1h15m-1208 0h15m177 0h15m1851 1h15m-831 0h15m-1174 0h15m1960 1h15m-1841 0h15m3246 0h15m-3608 0h15m2045 1h15m-1751 0h15m-247 0h15m267 0h15m-414 1h15m73 0h15m1567 0h15m-1565 0h15m3479 0h15m-3414 0h15m61 1h15m71 0h15m3226 0h15m-1957 0h15m1608 0h15m-3111 0h15m148 0h15m1293 1h15m-1311 0h15m-430 0h15m264 0h15m1148 0h15m2055 1h15m-3165 0h15m2828 0h15m-1507 0h15m-1404 1h15m-143 0h15m3101 0h15m-3084 0h15m3395 1h15m-3224 0h15m2785 0h15m-1088 0h15m1052 0h15m257 1h15m-12 0h15m-15 0h15m-3118 1h15m-3 0h15m-241 0h15m3005 0h15m-1001 0h15m-1800 0h15m-94 0h15m2807 0h15m-3183 1h15m2203 0h15m-564 0h15m-1648 0h15m152 1h15m61 0h15m105 0h15m-67 0h15m-27 1h15m2815 0h15m-995 0h15m-1820 0h15m1763 0h15m3 1h15m-1916 0h15m2936 0h15m-1613 0h15m1562 0h15m-3189 0h15m369 0h15m1708 1h15m-2029 0h15m3493 0h15m-3237 0h15m1678 0h15m1353 1h15m-3411 0h15m228 0h15m-331 0h15m3476 0h15m-3081 0h15m-312 1h15m-89 0h15m3579 0h15m-9 0h15m-480 0h15m-3159 0h15m2053 0h15m-21 0h15m38 0h15m-1954 0h15m1932 0h15m-1852 1h15m2948 0h15m-1017 0h15m-2187 0h15m2071 0h15m1410 0h15m-3398 0h15m3215 0h15m-3022 1h15m2999 0h15m-3176 0h15m102 0h15m3036 0h15m-1404 0h15m64 0h15m-577 1h15m55 0h15m-18 0h15m-1403 1h15m2964 0h15m-2960 0h15m1333 0h15m-6 0h15m455 1h15m1311 0h15m-3475 0h15m2095 0h15m-1879 0h15m-143 0h15m-78 1h15m187 0h15m3335 0h15m-3380 0h15m207 0h15m-349 1h15m1930 0h15m1515 0h15m-354 0h15m-3081 0h15m3043 0h15m-1620 0h15m-1328 0h15m1835 0h15m-1805 1h15m-82 0h15m-258 0h15m1970 0h15m-2037 1h15m3092 0h15m-2799 0h15m-313 0h15m356 1h15m-141 0h15m-301 0h15m2155 0h15m-1879 0h15m1274 0h15m-5 1h15m-1477 0h15m3429 0h15m-3506 1h15m1929 0h15m1068 0h15m-2948 0h15m119 1h15m1726 0h15m1037 0h15m460 0h15m-3406 1h15m19 0h15m-276 0h15m2095 0h15m-1932 1h15m1422 0h15m-1300 0h15m2792 0h15m-2826 1h15m75 0h15m-261 0h15m1870 0h15m-1893 1h15m1380 0h15m535 0h15m-87 0h15m-2079 0h15m2155 0h15m-1867 0h15m-263 1h15m2074 0h15m-2019 0h15m245 0h15m-144 0h15m2841 1h15m-2933 0h15m276 0h15m3089 0h15m-3416 0h15m204 1h15m-422 1h15m2093 1h15m-549 0h15m-1484 0h15m1474 0h15m-1270 0h15m2736 0h15m-3134 0h15m3105 1h15m2 0h15m473 0h15m-3384 0h15m-323 2h15m74 2h15m471 0h15m-481 0h15m384 1h15m-487 0h15m187 1h15m3516 0h15m-1666 0h15m-1993 0h15m151 0h15m2852 0h15m-1513 1h15m534 0h15m-760 0h15m-1271 0h15m111 0h15m24 0h15m-30 1h15m1815 0h15m-2037 0h15m-203 0h15m266 1h15m2807 0h15m255 1h15m-3151 0h15m1938 0h15m-530 0h15m1511 0h15m155 0h15m53 0h15m-1187 1h15m1380 0h15m-3521 0h15m1502 1h15m1774 0h15m-298 0h15m-3173 0h15m307 0h15m1311 1h15m1985 0h15m-3373 1h15m2848 0h15m254 0h15m-3007 0h15m1661 1h15m-2071 0h15m3376 0h15m-3369 1h15m3048 0h15m-3172 0h15m262 0h15m-2 0h15m1826 0h15m-50 0h15m1263 0h15m-3204 0h15m213 0h15m3000 1h15m195 0h15m-1428 0h15m-77 0h15m-1654 0h15m2621 0h15m-2894 0h15m-281 1h15m2144 0h15m27 0h15m936 0h15m-3180 1h15m198 0h15m1985 0h15m-88 0h15m-1831 1h15m3217 0h15m-1444 0h15m1425 0h15m-33 1h15m-3259 0h15m3256 0h15m-37 1h15m-3096 0h15m-107 0h15m-84 0h15m3302 1h15m-1551 0h15m1461 1h15m-3408 0h15m-96 0h15m3453 0h15m-3325 0h15m1863 0h15m39 0h15m-2162 0h15m46 1h15m1486 0h15m2041 0h15m-3588 0h15m3461 0h15m-20 0h15m-399 0h15m-1110 1h15m1468 0h15m-196 0h15m-3240 0h15m1485 0h15m-1639 1h15m3512 0h15m-3498 0h15m2018 0h15m-468 0h15m1702 0h15m-1203 0h15m981 1h15m-22 0h15m-2715 0h15m1045 0h15m104 0h15m517 0h15m-2132 0h15m-11 0h15m198 0h15m3327 1h15m-91 0h15m-3225 0h15m3272 1h15m-3267 0h15m3225 0h15m-270 0h15m-1226 0h15m-1824 0h15m1221 1h15m2001 0h15m-206 0h15m-42 0h15m-2960 0h15m1655 0h15m1306 0h15m-76 0h15m-3338 0h15m3327 0h15m-1314 0h15m-2030 1h15m3355 0h15m-3064 0h15m-317 0h15m127 0h15m1841 0h15m1280 1h15m206 0h15m6 0h15m-11 0h15m-223 0h15m-3024 1h15m1245 0h15m-27 0h15m1782 0h15m-3416 0h15m234 0h15m3293 0h15m-248 0h15m-238 0h15m-2900 1h15m1887 0h15m-29 0h15m1383 0h15m-1989 0h15m591 0h15m1352 0h15m35 0h15m-2096 1h15m-1480 0h15m-26 0h15m2148 0h15m1376 0h15m-3561 0h15m210 0h15m1377 0h15m1910 1h15m-31 0h15m-3611 0h15m91 0h15m1544 0h15m1961 1h15m-83 0h15m-170 0h15m185 0h15m-1944 0h15m-1441 0h15m3350 0h15m-3427 0h15m-96 1h15m1995 0h15m1406 0h15m-1943 0h15m451 0h15m3 0h15m-2097 0h15m1610 0h15m-1396 1h15m1316 0h15m-1336 0h15m-45 0h15m-262 1h15m3066 0h15m-2974 0h15m1514 0h15m-1315 0h15m1716 0h15m1460 0h15m-1924 0h15m1972 0h15m-3574 1h15m-72 0h15m240 0h15m2886 1h15m-9 0h15m-1527 0h15m-1291 0h15m2763 0h15m376 0h15m34 0h15m-3275 0h15m3189 1h15m-4 0h15m-426 0h15m-943 1h15m-1972 0h15m13 0h15m3106 1h15m-3040 0h15m-280 0h15m3002 0h15m-921 1h15m882 0h15m-2848 0h15m3268 0h15m3 1h15m-221 0h15m8 0h15m-23 0h15m-1345 1h15m1319 0h15m171 0h15m-1389 0h15m1176 0h15m-1267 0h15m-766 0h15m658 0h15m-1881 0h15m3349 1h15m-3216 0h15m1721 0h15m-61 0h15m-1856 0h15m-1 0h15m1830 1h15m1525 0h15m-1487 1h15m-2169 0h15m3568 0h15m-3251 0h15m-338 0h15m1523 0h15m523 0h15m-30 0h15m1470 1h15m-2053 0h15m-1396 0h15m1492 0h15m-1225 1h15m-275 0h15m-139 0h15m58 0h15m2067 0h15m-607 0h15m17 0h15m-1360 1h15m3292 0h15m-1541 0h15m-1876 0h15m-24 1h15m1423 0h15m-19 1h15m497 0h15m-536 0h15m-63 1h15m-1316 0h15m-89 0h15m111 0h15m1274 1h15m429 0h15m1481 0h15m-3429 1h15m-108 0h15m3533 0h15m-507 0h15m3 0h15m-2898 0h15m-122 1h15m2977 0h15m-2743 0h15m-401 0h15m270 1h15m2841 0h15m-1039 1h15m1013 0h15m347 0h15m-399 0h15m-3011 0h15m1463 1h15m-1438 0h15m3304 0h15m-1965 0h15m-1346 1h15m-80 0h15m1984 0h15m-49 0h15m1371 0h15m-518 0h15m482 0h15m59 0h15m-1995 0h15m1877 0h15m-3206 0h15m3261 1h15m-3572 0h15m217 0h15m1332 1h15m-1319 0h15m3316 0h15m-1568 0h15m-1704 0h15m2657 1h15m-3059 0h15m3117 0h15m335 0h15m8 1h15m-3355 0h15m220 0h15m3140 0h15m-3595 1h15m146 0h15m2982 0h15m-2934 0h15m1293 0h15m-1524 0h15m143 1h15m1893 0h15m-504 0h15m1502 0h15m-994 1h15m-1872 1h15m68 0h15m3196 0h15m-41 0h15m-3351 0h15m-222 0h15m2043 1h15m-5 0h15m1060 0h15m-2844 0h15m-82 1h15m2879 0h15m329 0h15m11 1h15m-3382 0h15m2949 0h15m359 0h15m60 1h15m-1462 0h15m-1895 0h15m3312 0h15m-84 0h15m-3399 0h15m1924 0h15m1078 0h15m-2754 1h15m1169 0h15m-1311 1h15m3184 0h15m-439 0h15m-972 0h15m-2037 0h15m1446 0h15m535 1h15m-2077 0h15m3437 0h15m-3315 1h15m1396 0h15m1883 0h15m-3417 1h15m236 0h15m-117 0h15m4 0h15m1788 1h15m-491 0h15m-1422 0h15m1930 0h15m-1878 0h15m1311 0h15m1914 0h15m-413 0h15m-1544 0h15m1878 1h15m-1908 0h15m1881 0h15m-17 0h15m-1973 0h15m-1119 1h15m-175 0h15m-75 0h15m1917 0h15m-77 1h15m-1705 0h15m-387 0h15m270 0h15m-118 1h15m-106 0h15m3029 0h15m-121 0h15m-1010 0h15m62 0h15m-1768 1h15m-56 0h15m1166 0h15m-1208 0h15m80 0h15m2717 1h15m-3112 0h15m-34 0h15m289 1h15m-68 0h15m3273 0h15m-3198 0h15m2749 0h15m-2944 0h15m-122 0h15m1895 1h15m-1935 0h15m2001 0h15m998 0h15m470 0h15m-72 0h15m-1395 0h15m-172 1h15m-1904 0h15m2998 0h15m-1567 0h15m496 0h15m1015 1h15m-1085 0h15m1068 0h15m-2773 0h15m-362 0h15m84 1h15m-92 0h15m188 1h15m1736 0h15m-436 0h15m430 0h15m1069 0h15m-2758 0h15m1641 0h15m-1727 1h15m67 1h15m-227 0h15m1099 0h15m774 0h15m-1698 1h15m-75 0h15m1674 0h15m-2021 0h15m3066 0h15m432 0h15m-3143 1h15m-217 0h15m2874 1h15m203 0h15m-2974 0h15m3155 0h15m-23 0h15m-3084 0h15m3092 0h15m-192 0h15m-61 1h15m-1787 0h15m-1242 0h15m-288 1h15m1910 0h15m1365 0h15m-328 0h15m-993 1h15m-1819 0h15m3042 0h15m23 1h15m-1427 0h15m-1723 0h15m-69 0h15m3128 1h15m153 0h15m-3329 0h15m-238 0h15m3337 0h15m-1325 0h15m-62 0h15m1403 1h15m-318 0h15m-2779 0h15m-300 0h15m2057 0h15m-2104 0h15m-13 0h15m3558 1h15m-217 0h15m-66 0h15m-3064 1h15m3089 0h15m-2020 0h15m-1355 0h15m192 0h15m1762 0h15m-1929 1h15m3382 0h15m-3508 1h15m157 1h15m1261 0h15m-1218 0h15m1713 1h15m1085 0h15m-999 0h15m-45 0h15m-531 0h15m-1486 1h15m1996 0h15m-1793 0h15m1648 1h15m17 0h15m1074 0h15m408 1h15m-3182 0h15m-125 0h15m3048 0h15m-3204 0h15m1858 0h15m1373 1h15m-3174 0h15m1733 0h15m-1795 1h15m143 1h15m2719 0h15m-2875 0h15m-132 0h15m1841 0h15m-1827 1h15m3160 0h15m-3379 0h15m3125 1h15m-2955 0h15m-34 0h15m3328 0h15m-17 0h15m-167 1h15m-3094 0h15m3201 0h15m-3438 1h15m150 0h15m1361 1h15m499 0h15m1262 0h15m-3190 0h15m3094 0h15m-1754 0h15m1909 0h15m-147 1h15m-3127 0h15m-141 0h15m-94 1h15m1222 0h15m689 0h15m-1962 0h15m86 0h15m162 1h15m-104 0h15m1348 0h15m-49 1h15m-1216 1h15m2722 0h15m-3050 1h15m-32 0h15m2058 1h15m-191 0h15m1520 0h15m-3433 0h15m1486 1h15m-1349 0h15m1261 1h15m-1535 0h15m380 0h15m1574 1h15m-28 0h15m-1774 0h15m-157 0h15m2977 0h15m-1083 0h15m-1628 1h15m1644 0h15m-52 0h15m-2096 0h15m103 0h15m187 0h15m1153 1h15m-1155 0h15m-64 1h15m-80 0h15m86 0h15m1684 1h15m-1722 1h15m1821 1h15m-1869 0h15m89 0h15m1248 0h15m-1240 0h15m-325 0h15m-50 0h15m3077 1h15m-1055 0h15m-486 0h15m736 1h15m-2242 0h15m9 0h15m-127 0h15m83 0h15m1888 1h15m-1832 0h15m1842 1h15m-490 0h15m-21 0h15m436 0h15m-510 0h15m552 1h15m-117 0h15m-1817 0h15m3260 0h15m-48 1h15m-3371 0h15m1478 0h15m1495 0h15m-1151 0h15m-1833 1h15m1346 0h15m-1305 0h15m47 0h15m1744 1h15m-1688 0h15m-271 1h15m48 0h15m-273 0h15m127 0h15m2009 0h15m-1923 0h15m79 0h15m-175 1h15m1859 0h15m-1908 0h15m1918 0h15m-1987 0h15m1608 1h15m305 0h15m-336 0h15m-1560 0h15m-109 0h15m3100 0h15m-1876 0h15m1812 1h15m7 0h15m-1022 0h15m-136 0h15m-1848 0h15m-282 0h15m217 1h15m1793 0h15m-1776 0h15m1781 0h15m1471 0h15m-3405 1h15m-81 0h15m3411 0h15m-1862 0h15m-1639 0h15m1621 0h15m1448 0h15m47 0h15m-3263 0h15m1753 0h15m-1644 0h15m1934 0h15m1449 1h15m-1501 0h15m1467 0h15m-1778 0h15m-73 1h15m1816 0h15m-3083 0h15m1269 0h15m-1479 1h15m3229 0h15m-3473 1h15m3419 0h15m-1755 0h15m-1805 0h15m2215 1h15m-2003 0h15m1883 0h15m-1890 0h15m3254 1h15m-15 0h15m-1818 0h15m326 0h15m-386 0h15m75 0h15m321 0h15m-56 1h15m-428 0h15m39 0h15m1790 0h15m-1850 0h15m-2 1h15m1625 0h15m344 0h15m-1509 0h15m1290 0h15m-3395 0h15m304 0h15m1317 1h15m-1342 0h15m2792 0h15m-3054 0h15m3264 1h15m-253 0h15m-3211 0h15m1616 0h15m1829 1h15m-1517 0h15m-1717 0h15m1760 0h15m-1861 0h15m3038 0h15m-1294 0h15m-1690 1h15m2837 0h15m-2899 0h15m2920 0h15m55 0h15m-1265 0h15m-1888 1h15m3103 0h15m-3048 0h15m3195 0h15m-3056 0h15m2605 2h15m236 1h15m-1120 0h15m-473 0h15m229 1h15m60 0h15m1228 0h15m-22 0h15m135 0h15m-1718 0h15m1787 0h15m-3441 0h15m1888 1h15m1424 0h15m-3177 0h15m1429 0h15m323 0h15m8 0h15m-1779 1h15m1682 1h15m-28 0h15m-45 1h15m1271 0h15m-1252 0h15m-337 0h15m1498 1h15m-3101 0h15m1861 0h15m-296 0h15m329 0h15m-363 0h15m-1615 1h15m1529 0h15m1535 0h15m243 0h15m-1777 0h15m1445 0h15m-1476 0h15m1491 1h15m-1249 0h15m2 0h15m1159 1h15m-1479 0h15m-1557 0h15m1915 1h15m-1900 0h15m1844 0h15m-363 1h15m1589 0h15m-24 0h15m-48 0h15m62 0h15m-13 0h15m-1334 0h15m1173 1h15m88 0h15m19 0h15m-53 0h15m-2953 0h15m2875 0h15m-87 0h15m-2892 0h15m3036 0h15m-15 0h15m24 1h15m-237 0h15m115 0h15m-1388 0h15m226 0h15m982 0h15m-1063 0h15m-460 1h15m-67 0h15m1573 0h15m65 0h15m-31 0h15m-1594 0h15m1595 0h15m-1713 0h15m1696 1h15m-1654 0h15m-1510 0h15m2994 0h15m-1517 0h15m1548 0h15m-112 1h15m143 0h15m-1248 0h15m1201 0h15m-1387 0h15m-1692 0h15m1322 0h15m1791 0h15m-1800 1h15m1535 0h15m173 0h15m-154 0h15m51 0h15m122 0h15m-478 0h15m559 1h15m-146 0h15m-456 0h15m-2738 1h15m1682 0h15m-1855 1h15m3233 0h15m-71 1h15m-1276 0h15m1248 0h15m72 0h15m-1362 0h15m-465 0h15m68 0h15m1511 1h15m-3287 0h15m3292 0h15m-3156 0h15m1927 0h15m24 1h15m1170 0h15m-1143 0h15m-1777 1h15m2960 0h15m-3245 0h15m3277 1h15m-20 0h15m-3352 0h15m-142 0h15m3202 0h15m-2923 0h15m3022 0h15m-1641 1h15m1733 0h15m-3126 0h15m1668 0h15m91 0h15m37 0h15m974 0h15m-1169 1h15m71 0h15m-1916 0h15m3287 0h15m-211 1h15m25 0h15m3 1h15m-1386 0h15m103 1h15m1326 0h15m-3374 0h15m3321 1h15m-1492 0h15m-1688 0h15m1460 0h15m1655 0h15m-34 1h15m-130 0h15m18 0h15m-3160 0h15m1547 0h15m-7 0h15m1565 0h15m-3103 0h15m1673 0h15m-1654 0h15m1630 0h15m0 0h15m1406 0h15m-3 1h15m-1475 0h15m273 0h15m-295 0h15m-1688 0h15m1475 1h15m189 0h15m11 0h15m1263 0h15m-1129 0h15m1136 0h15m-1366 1h15m1417 0h15m143 0h15m-1585 0h15m-226 0h15m1591 0h15m-1371 1h15m-263 0h15m216 0h15m1502 1h15m-3170 0h15m2953 0h15m-2874 0h15m2963 1h15m-1956 0h15m427 0h15m207 0h15m-162 0h15m1578 1h15m-1909 0h15m33 0h15m278 0h15m1156 0h15m-1657 0h15m498 1h15m1193 0h15m-2967 0h15m1591 0h15m1258 0h15m-1119 0h15m-1818 0h15m3060 0h15m-1239 1h15m-355 0h15m-118 0h15m-1629 0h15m3271 0h15m-1708 0h15m1675 1h15m-1711 0h15m1619 0h15m-1260 1h15m-1931 0h15m1548 2h15m231 0h15m-1787 0h15m126 0h15m1559 1h15m-109 0h15m116 0h15m-558 0h15m277 0h15m-123 0h15m1429 1h15m-1133 0h15m-1674 1h15m1447 0h15m-37 0h15m103 1h15m224 0h15m-328 0h15m182 0h15m-2048 0h15m498 2h15m1354 0h15m260 0h15m-1908 1h15m1599 0h15m1598 0h15m-38 1h15m-3085 0h15m1505 1h15m-109 0h15m87 0h15m-1461 0h15m1399 1h15m-34 0h15m-1710 0h15m3386 0h15m-1767 0h15m-1842 1h15m1878 0h15m-9 1h15m-1817 0h15m301 0h15m3022 0h15m-1456 1h15m-102 0h15m1442 0h15m-1522 0h15m-1471 0h15m2982 1h15m-1297 0h15m-248 0h15m238 1h15m-411 1h15m-88 0h15m289 0h15m-1531 1h15m2948 0h15m-8 0h15m-1594 0h15m-1483 0h15m1607 0h15m-171 0h15m-1547 1h15m3282 0h15m-1877 0h15m94 0h15m-1373 2h15m1163 0h15m126 0h15m29 0h15m-69 1h15m85 0h15m-153 0h15m343 0h15m-2111 1h15m1795 0h15m-79 0h15m88 0h15m-1851 0h15m1786 0h15m1099 1h15m-1142 0h15m-1713 0h15m1535 2h15m296 0h15m-207 0h15m-222 1h15m346 0h15m-73 0h15m-59 0h15m1623 1h15m-1645 0h15m-1437 0h15m1440 1h15m-7 0h15m-9 0h15m-2 0h15m-1581 0h15m1499 1h15m73 0h15m-106 0h15m74 0h15m-103 1h15m19 0h15m-1517 0h15m-436 0h15m1887 0h15m3 0h15m1193 1h15m-2783 0h15m1455 1h15m245 1h15m1476 0h15m-160 0h15m-1448 0h15m-220 1h15m-1805 0h15m1939 1h15m62 0h15m-1891 1h15m104 0h15m1699 0h15m-1912 0h15m1806 1h15m-1582 0h15m1586 0h15m-64 1h15m-1646 1h15m-88 0h15m-72 0h15m1947 0h15m57 1h15m-1693 0h15m1391 0h15m1626 1h15m-454 0h15m-1161 1h15m118 1h15m-219 1h15m-1691 0h15m1737 0h15m31 1h15m-289 0h15m287 1h15m-19 0h15m-1811 1h15m1636 0h15m123 1h15m6 0h15m-1669 1h15m-15 1h15m-386 0h15m383 0h15m1447 0h15m-135 1h15m186 0h15m-1617 1h15m-190 1h15m3478 3h15m-3357 2h15m3067 0h15m159 0h15m-3186 1h15m1398 2h15m-1542 0h15m-161 0h15m135 1h15m3046 1h15m-3056 0h15m3152 0h15m-3343 2h15m1954 2h15m-1794 1h15m18 0h15m-332 1h15m375 0h15m3031 1h15m-1346 2h15m-1908 1h15m-318 1h15m199 2h15m1 3h15m3280 1h15m-3356 0h15m-58 1h15m1814 0h15m-1794 1h15m3418 2h15m-1534 1h15m-156 1h15m90 1h15m-94 2h15m28 1h15m-1976 1h15m-42 0h15m-84 0h15m233 0h15m1763 0h15m96 1h15m-1867 0h15m-29 1h15m1549 1h15m-1757 1h15m3271 0h15m-3351 1h15m-10 0h15m1893 1h15m-1489 0h15m1339 0h15m-1592 3h15m1803 0h15m1595 1h15m-1532 0h15m-2082 1h15m3636 0h15m-1899 0h15m-1784 1h15m-43 4h15m1639 0h15m-1656 0h15m1782 2h15m-1570 1h15m3137 1h15m-3367 2h15m1846 1h15m59 0h15m-1989 1h15m-83 0h15m3555 1h15m-1801 0h15m-1641 1h15m1730 2h15m-217 0h15m52 2h15m-1466 0h15m-303 1h15m-70 0h15m2054 0h15m-1855 4h15m-101 2h15m110 1h15m1196 0h15m-1345 1h15m-14 0h15m3374 2h15m-222 2h15m-1561 1h15m1636 1h15m-3485 0h15m313 1h15m-175 1h15m1538 2h15m-1389 0h15m2897 0h15m-1405 2h15m-1565 2h15m-37 1h15m25 0h15m-30 0h15m2834 4h15m-3130 1h15m253 1h15m-94 1h15m-28 1h15m3153 2h15m118 2h15m-1674 0h15m-1633 3h15m39 1h15m1554 2h15m-1838 0h15m78 0h15m-86 4h15m-11 1h15m172 1h15m2000 1h15m-2164 0h15m-76 0h15m238 4h15m-197 0h15m1889 1h15m-1734 2h15m-39 2h15m-100 2h15m-84 1h15m1835 2h15m-1792 0h15m-51 7h15m60 3h15m24 0h15m1568 0h15m-1602 1h15m-198 0h15m1865 2h15m-1933 1h15m1782 1h15m-1730 1h15m127 3h15m1614 1h15m-1789 1h15m1806 1h15m-1818 3h15m91 0h15m-242 2h15m2197 2h15m-654 1h15m-1389 3h15m1849 1h15m-363 3h15m-1588 1h15m1868 1h15m-1947 5h15m104 7h15m-84 1h15m-78 5h15m1634 6h15m-1634 3h15m1619 12h15m-38 15h15m466 0h15m-1798 1041h15m124 15h15m356 2h15m16 10h15m-313 7h15m1 1h15m-25 17h15m1 2h15m-44 1h15m9 1h15m-37 1h15m-16 1h15m-80 4h15m104 1h15m-102 0h15m72 2h15m-32 1h15m-34 0h15m15 0h15m-152 3h15m91 1h15m-38 0h15m-109 0h15m46 0h15m45 1h15m-22 0h15m-42 0h15m-10 0h15m26 0h15m-114 4h15m10 2h15m90 1h15m-87 1h15m-61 2h15m-48 0h15m55 1h15m-155 1h15m100 0h15m32 1h15m-92 0h15m69 0h15m27 1h15m-140 0h15m16 1h15m-17 1h15m77 1h15m-199 0h15m182 1h15m-114 0h15m2 1h15m-151 0h15m191 0h15m-60 1h15m19 0h15m13 1h15m-194 0h15m-28 1h15m431 0h15m-266 1h15m60 1h15m-241 1h15m130 0h15m-118 1h15m-22 0h15m-60 0h15m-29 0h15m-11 1h15m23 0h15m-106 0h15m184 0h15m-117 1h15m-57 0h15m42 0h15m73 0h15m-122 1h15m92 1h15m-160 0h15m148 0h15m49 1h15m-113 1h15m-190 2h15m-177 1h15m320 0h15m-183 0h15m-13 0h15m208 0h15m-366 1h15m315 1h15m-228 0h15m-50 2h15m62 2h15m192 0h15m29 0h15m-340 1h15m-99 1h15m139 1h15m-19 0h15m-6 0h15m-64 0h15m-65 0h15m79 1h15m-85 0h15m266 0h15m-228 0h15m376 1h15m-250 0h15m-23 0h15m-296 0h15m311 1h15m-360 0h15m109 0h15m4 0h15m197 0h15m-244 1h15m-7 0h15m152 0h15m-18 0h15m5 1h15m72 0h15m-263 0h15m-141 1h15m-7 0h15m88 0h15m-163 0h15m56 0h15m-7 1h15m60 0h15m140 0h15m-202 0h15m188 0h15m-351 1h15m95 1h15m-44 0h15m-19 0h15m-24 0h15m27 1h15m2872 1h15m-2896 0h15m-57 0h15m-10 0h15m-130 2h15m3148 0h15m-3064 3h15m3122 1h15m-3169 1h15m281 0h15m-344 0h15m1 1h15m363 0h15m-447 1h15m2850 0h15m-2949 1h15m80 0h15m329 0h15m2946 0h15m-3410 0h15m102 1h15m-15 0h15m-58 0h15m31 0h15m-66 1h15m46 1h15m-42 0h15m-19 0h15m-134 0h15m70 1h15m-16 0h15m348 0h15m-415 1h15m42 0h15m3310 1h15m-3457 1h15m45 0h15m2890 0h15m-109 0h15m325 0h15m-3166 1h15m1 0h15m-79 1h15m483 0h15m-517 1h15m462 0h15m-440 1h15m-28 1h15m14 0h15m3116 0h15m-3127 1h15m364 0h15m2227 0h15m468 0h15m170 1h15m-3361 0h15m422 0h15m2636 0h15m-3069 1h15m-72 1h15m29 0h15m-54 1h15m0 1h15m-49 0h15m-22 0h15m3335 1h15m-3265 1h15m406 0h15m2623 0h15m-2705 1h15m-397 0h15m363 0h15m-378 0h15m2619 0h15m-2328 1h15m-356 0h15m328 1h15m2901 0h15m-2711 1h15m2424 0h15m-3161 0h15m-17 0h15m3405 0h15m-3410 1h15m-50 0h15m164 0h15m303 0h15m-480 1h15m3231 1h15m-162 0h15m-2634 0h15m2238 0h15m272 1h15m-2972 0h15m-15 0h15m431 1h15m2269 0h15m203 0h15m-2959 0h15m3286 1h15m-558 0h15m415 1h15m-3226 0h15m452 1h15m-462 0h15m422 0h15m-522 1h15m9 0h15m2904 0h15m-2307 0h15m-721 1h15m541 1h15m54 0h15m12 1h15m2928 0h15m-3509 0h15m689 0h15m-691 0h15m3156 0h15m-513 1h15m513 0h15m-3260 0h15m-43 0h15m475 1h15m-4 0h15m-31 0h15m77 0h15m-52 0h15m-596 1h15m3599 0h15m-3587 1h15m492 0h15m-24 0h15m-469 0h15m469 0h15m-581 1h15m513 0h15m-624 0h15m63 0h15m513 0h15m-523 0h15m475 1h15m3081 0h15m-269 0h15m-3296 0h15m443 0h15m-503 0h15m454 0h15m-482 1h15m-101 0h15m554 0h15m2616 0h15m-3158 1h15m28 0h15m498 0h15m2748 0h15m-3327 0h15m3172 0h15m-3147 1h15m450 0h15m-528 0h15m467 0h15m-479 0h15m450 0h15m-433 0h15m-94 0h15m58 0h15m-95 1h15m491 0h15m-493 0h15m494 1h15m-13 0h15m2954 1h15m-2990 1h15m2371 1h15m33 0h15m-2443 1h15m-587 0h15m3282 0h15m-378 0h15m209 1h15m345 0h15m-2908 1h15m-628 0h15m-14 0h15m3007 1h15m190 0h15m-3244 1h15m3552 0h15m-3634 0h15m2813 0h15m258 0h15m-2475 1h15m2871 1h15m-23 0h15m-3547 0h15m3569 0h15m-564 1h15m103 0h15m-20 0h15m-69 1h15m-3119 0h15m-40 0h15m3200 1h15m-3147 0h15m2969 0h15m-2336 1h15m-795 0h15m82 1h15m3070 0h15m-192 0h15m-2913 0h15m3538 0h15m-516 1h15m-3071 0h15m104 0h15m451 0h15m2299 0h15m-2897 0h15m2962 0h15m-2888 0h15m3145 1h15m131 0h15m-3449 0h15m107 0h15m2829 0h15m-121 0h15m-2865 1h15m-8 1h15m3014 0h15m-3086 0h15m3024 1h15m-2890 1h15m3092 1h15m307 0h15m-639 0h15m-2364 1h15m2700 0h15m-379 1h15m538 0h15m-479 0h15m413 0h15m54 0h15m-606 0h15m-2364 0h15m-10 1h15m2696 0h15m-442 0h15m-2931 1h15m3153 1h15m-3222 0h15m3705 0h15m-3019 0h15m2384 0h15m-124 1h15m-80 0h15m551 0h15m-46 0h15m-2730 1h15m2883 0h15m-658 0h15m-70 0h15m-2943 1h15m678 0h15m-62 0h15m2473 0h15m260 0h15m275 1h15m-372 0h15m-420 0h15m-2949 0h15m168 0h15m-248 0h15m3604 0h15m-635 1h15m-2967 0h15m165 0h15m-211 0h15m182 0h15m521 1h15m-756 0h15m-27 0h15m3389 0h15m-3390 1h15m3442 0h15m-86 1h15m-83 0h15m-3159 0h15m1 0h15m-233 0h15m-27 0h15m3387 0h15m-3205 0h15m2699 1h15m210 0h15m-2934 0h15m3294 1h15m-176 0h15m-3163 0h15m-203 0h15m-16 0h15m3533 0h15m-670 0h15m819 0h15m-3734 1h15m-45 0h15m194 0h15m3353 0h15m-3572 0h15m3262 0h15m-3102 1h15m3038 0h15m32 0h15m-331 0h15m-3073 0h15m3653 1h15m-405 0h15m-219 0h15m-115 0h15m-2 0h15m-2265 0h15m2567 1h15m475 0h15m-80 0h15m-3748 0h15m3148 1h15m447 0h15m-285 0h15m-334 0h15m718 1h15m-473 0h15m472 0h15m-260 0h15m194 0h15m-3055 1h15m-701 0h15m3545 0h15m-300 0h15m38 1h15m208 0h15m150 0h15m-32 0h15m-3017 0h15m2725 1h15m-279 0h15m-2517 0h15m2438 0h15m-2429 0h15m2865 0h15m-3644 0h15m18 1h15m3702 0h15m-326 0h15m-376 0h15m-3096 0h15m3263 0h15m392 0h15m-3743 1h15m3349 0h15m-3305 1h15m3378 0h15m-2725 0h15m2415 0h15m43 0h15m294 1h15m-88 0h15m217 0h15m-426 0h15m-37 0h15m-2489 0h15m2231 0h15m120 0h15m364 0h15m150 0h15m-3739 1h15m47 0h15m3677 0h15m-364 1h15m12 0h15m-226 1h15m-119 0h15m245 1h15m-3406 0h15m-13 0h15m48 0h15m2973 0h15m738 1h15m-148 0h15m-2900 0h15m2305 0h15m-71 1h15m132 0h15m568 0h15m-729 0h15m500 0h15m105 0h15m-383 1h15m-3347 0h15m825 0h15m-107 0h15m3064 0h15m-68 0h15m-17 1h15m-314 0h15m139 0h15m-2851 0h15m2400 0h15m-2446 1h15m2229 0h15m528 0h15m-479 0h15m-3074 0h15m3158 0h15m191 0h15m-98 1h15m-31 0h15m286 0h15m-2882 0h15m-18 0h15m2491 1h15m-70 0h15m34 0h15m-2517 0h15m3027 0h15m-445 0h15m420 1h15m-271 0h15m149 1h15m-504 0h15m286 0h15m-2710 0h15m2905 0h15m-354 1h15m-223 0h15m-2424 1h15m2961 0h15m-209 0h15m-32 0h15m-319 0h15m141 1h15m-257 0h15m-3227 0h15m3272 0h15m201 0h15m-288 0h15m-3190 0h15m2992 0h15m714 1h15m-345 0h15m13 0h15m-262 0h15m503 1h15m-239 0h15m-372 0h15m-59 0h15m437 0h15m45 0h15m-79 0h15m-257 0h15m-266 0h15m288 1h15m-125 0h15m73 0h15m-3343 0h15m3491 1h15m-3533 0h15m3357 0h15m256 0h15m32 0h15m-664 1h15m808 0h15m-3832 0h15m3791 1h15m-347 0h15m-31 0h15m-218 0h15m-172 0h15m270 0h15m388 0h15m-739 0h15m-3076 1h15m3432 0h15m-395 0h15m1 0h15m377 0h15m168 0h15m-3670 0h15m3125 1h15m572 0h15m-124 1h15m-301 0h15m97 0h15m-2741 0h15m3090 1h15m-373 0h15m-372 0h15m-35 0h15m-26 0h15m341 0h15m-290 0h15m128 1h15m465 0h15m-83 0h15m-326 0h15m-3424 0h15m3030 0h15m-3149 1h15m3851 0h15m-3005 0h15m2638 0h15m32 0h15m-2737 0h15m2341 0h15m423 1h15m-3618 0h15m3033 0h15m682 0h15m-2974 1h15m2508 0h15m-92 0h15m101 0h15m471 0h15m-608 0h15m423 0h15m126 0h15m-3026 0h15m2534 0h15m-256 0h15m297 1h15m-435 0h15m728 0h15m-379 0h15m-228 0h15m20 0h15m324 1h15m-3532 0h15m3696 0h15m-376 0h15m388 0h15m-253 0h15m-29 0h15m-3554 0h15m3571 1h15m-96 0h15m-2720 0h15m2459 0h15m264 0h15m-114 0h15m75 0h15m254 0h15m-2944 0h15m2871 1h15m-3748 0h15m1 0h15m3615 0h15m-3582 1h15m3518 0h15m82 0h15m-67 0h15m-145 0h15m-7 0h15m-515 0h15m498 0h15m-3580 0h15m3791 1h15m-3786 0h15m3699 0h15m-478 0h15m323 0h15m303 0h15m-595 1h15m-3411 0h15m64 0h15m-100 0h15m787 0h15m-842 0h15m98 0h15m3516 0h15m-3626 1h15m35 0h15m3349 0h15m37 0h15m-3414 0h15m3747 0h15m-213 0h15m-3522 0h15m3155 1h15m-103 0h15m-3140 0h15m3476 0h15m241 0h15m-40 0h15m-3856 0h15m3161 1h15m83 0h15m-120 0h15m122 0h15m65 0h15m-97 0h15m-73 0h15m25 0h15m140 0h15m135 1h15m-182 0h15m-223 0h15m-2347 0h15m2522 1h15m-274 0h15m16 0h15m533 0h15m155 0h15m-287 0h15m157 0h15m-154 0h15m2 0h15m-266 0h15m-190 1h15m-3272 0h15m160 0h15m3283 0h15m-393 0h15m535 0h15m-481 1h15m-3226 0h15m3560 0h15m-3448 0h15m3641 0h15m-556 0h15m-2412 1h15m2454 0h15m-2421 0h15m-72 0h15m-783 0h15m-4 0h15m740 1h15m2890 0h15m77 0h15m-528 0h15m-3257 0h15m723 0h15m8 0h15m2601 0h15m-176 1h15m-198 0h15m794 0h15m-279 0h15m-3652 0h15m3417 0h15m338 0h15m40 0h15m-217 0h15m208 1h15m-657 0h15m425 0h15m-344 0h15m-2532 0h15m-766 0h15m3485 0h15m-11 0h15m-2778 0h15m2494 1h15m-3313 0h15m3334 0h15m-264 0h15m377 0h15m-3460 0h15m-91 0h15m3099 0h15m-2333 0h15m2386 0h15m209 1h15m-207 0h15m583 0h15m-617 0h15m62 1h15m65 0h15m475 0h15m-174 0h15m-340 0h15m-3279 0h15m3046 0h15m-2380 0h15m2944 0h15m-308 1h15m-378 0h15m687 0h15m-2965 0h15m-774 0h15m-22 0h15m3238 0h15m329 0h15m-457 0h15m-3115 1h15m-184 0h15m3221 0h15m-40 0h15m165 0h15m-1320 0h15m-1923 1h15m1526 0h15m2028 0h15m-2945 1h15m2275 0h15m-2960 0h15m3686 0h15m-353 0h15m-3438 0h15m3533 0h15m-3500 1h15m-79 0h15m-130 0h15m3867 0h15m-138 0h15m-81 0h15m-3734 0h15m3312 0h15m-233 1h15m778 0h15m-620 0h15m338 0h15m-3508 0h15m-174 0h15m3573 1h15m197 0h15m-3793 0h15m3592 0h15m-385 1h15m368 0h15m-148 0h15m-61 0h15m-3323 0h15m-14 0h15m23 0h15m-20 0h15m-60 0h15m44 0h15m-62 0h15m3307 1h15m200 0h15m-83 0h15m10 0h15m-2759 0h15m2389 1h15m436 0h15m-293 1h15m107 0h15m-529 0h15m46 0h15m-3159 0h15m3364 1h15m-188 0h15m-2397 0h15m231 0h15m1235 0h15m-2339 0h15m3402 1h15m107 0h15m-3558 0h15m3769 0h15m-2948 1h15m1449 0h15m-155 0h15m-1331 0h15m2670 1h15m323 0h15m-166 0h15m-2902 0h15m2720 1h15m-300 0h15m112 0h15m240 0h15m14 0h15m-3700 0h15m3557 0h15m192 0h15m-617 0h15m608 1h15m-590 0h15m3 0h15m-983 0h15m847 1h15m639 0h15m-356 0h15m-1328 0h15m1059 0h15m-3242 0h15m984 0h15m2204 0h15m-59 1h15m-1440 0h15m-1768 0h15m2252 0h15m1010 0h15m141 0h15m194 1h15m31 0h15m0 0h15m-84 1h15m-430 0h15m219 0h15m-265 0h15m514 0h15m-430 1h15m-127 0h15m393 0h15m177 1h15m3 0h15m-338 0h15m88 0h15m157 0h15m-183 0h15m-519 1h15m194 0h15m-1116 1h15m1098 0h15m-249 0h15m576 0h15m-3710 0h15m3129 0h15m543 1h15m-2847 0h15m2430 0h15m367 0h15m66 0h15m-2892 0h15m2704 0h15m62 0h15m123 1h15m-39 0h15m-736 0h15m483 0h15m-3604 0h15m3649 0h15m-126 0h15m348 0h15m-154 0h15m-2870 1h15m2494 0h15m-275 0h15m534 0h15m-187 0h15m-3563 0h15m3133 1h15m155 0h15m188 0h15m-221 0h15m26 0h15m9 1h15m330 0h15m-1378 0h15m833 0h15m298 0h15m-238 0h15m-2456 0h15m2499 1h15m498 0h15m-480 0h15m-3434 0h15m3814 0h15m51 0h15m-3912 0h15m3654 0h15m219 0h15m59 0h15m-80 0h15m-95 1h15m-164 0h15m75 0h15m-175 0h15m-256 0h15m47 0h15m-142 0h15m-1224 0h15m1371 0h15m-110 1h15m161 0h15m-1382 0h15m-1339 0h15m2350 0h15m-2312 0h15m2778 0h15m-639 0h15m-2200 1h15m2192 0h15m-2317 0h15m2969 0h15m-23 0h15m-70 0h15m-2923 1h15m2604 0h15m145 0h15m-2795 0h15m-24 0h15m47 0h15m2550 0h15m-32 0h15m-2613 1h15m1357 0h15m1054 0h15m-51 0h15m289 0h15m-1355 0h15m1495 0h15m-606 0h15m586 0h15m-2930 1h15m2269 0h15m13 0h15m113 0h15m386 0h15m-466 0h15m-1037 0h15m1290 0h15m-312 0h15m356 0h15m-380 0h15m543 0h15m-77 0h15m-2724 0h15m38 1h15m-227 0h15m2872 0h15m-319 0h15m-175 0h15m304 0h15m-395 0h15m679 0h15m-718 0h15m392 0h15m-3605 0h15m3615 1h15m-2681 0h15m2722 0h15m-3716 0h15m829 0h15m1381 0h15m1254 0h15m-328 0h15m-1090 0h15m1377 0h15m254 0h15m-234 0h15m-342 1h15m612 0h15m-610 0h15m-2451 0h15m2492 0h15m-2533 0h15m2425 1h15m508 0h15m-685 1h15m-2280 0h15m72 0h15m10 0h15m2386 0h15m159 1h15m-250 0h15m312 0h15m267 0h15m-196 0h15m-202 0h15m11 1h15m-364 0h15m-3234 0h15m3560 0h15m197 0h15m-276 0h15m-303 0h15m595 0h15m-257 1h15m-272 0h15m111 0h15m-135 0h15m168 0h15m229 0h15m-1603 0h15m1546 0h15m-553 0h15m-1041 0h15m1135 1h15m230 0h15m-2783 0h15m2710 0h15m-291 0h15m-29 0h15m-1199 1h15m1500 0h15m-28 0h15m-2725 0h15m2496 0h15m-284 0h15m77 0h15m547 0h15m-13 0h15m-2955 1h15m2922 0h15m-544 0h15m110 0h15m-955 0h15m1035 0h15m-2653 0h15m2459 1h15m-2429 0h15m2680 0h15m289 1h15m-1774 0h15m1142 0h15m227 0h15m165 0h15m-209 1h15m-55 0h15m100 0h15m-2633 0h15m647 1h15m1579 0h15m681 0h15m-1541 0h15m1073 0h15m326 1h15m-1793 0h15m1796 0h15m-566 0h15m241 0h15m-1241 0h15m-39 0h15m1478 0h15m-104 0h15m-564 0h15m300 0h15m425 0h15m-457 0h15m-1206 1h15m-1482 0h15m1450 0h15m-1474 0h15m2639 0h15m310 0h15m-344 0h15m233 0h15m143 0h15m-161 1h15m-573 0h15m-1067 1h15m1491 0h15m-327 0h15m564 0h15m-178 0h15m-623 0h15m-2288 0h15m3008 0h15m-295 0h15m-2490 0h15m2406 0h15m-2738 0h15m2789 1h15m-519 0h15m844 0h15m-654 0h15m-158 0h15m351 0h15m-2683 0h15m2719 0h15m-1251 0h15m-264 1h15m1561 0h15m-2142 0h15m-785 0h15m2301 0h15m83 2h15m229 0h15m1 0h15m-2679 0h15m3069 0h15m-67 0h15m-259 0h15m-2796 0h15m2903 0h15m-2906 0h15m2734 0h15m-12 0h15m-514 1h15m-1001 0h15m1076 0h15m5 0h15m240 0h15m77 0h15m1 0h15m-2749 0h15m-67 0h15m2752 0h15m-1519 0h15m288 0h15m1200 0h15m242 1h15m64 0h15m-3126 0h15m2679 0h15m-1492 0h15m1686 0h15m-536 0h15m99 0h15m-104 0h15m324 0h15m-85 0h15m-305 0h15m485 1h15m-135 0h15m-34 0h15m136 0h15m-1697 0h15m1811 0h15m-105 0h15m-711 0h15m488 0h15m-1531 0h15m1093 0h15m-13 1h15m-3207 0h15m3481 0h15m-1867 0h15m1941 0h15m-2704 0h15m2264 0h15m647 0h15m-129 0h15m96 0h15m-1749 0h15m1035 1h15m-3184 0h15m822 0h15m2376 0h15m-2369 0h15m1515 0h15m-130 0h15m1454 0h15m-251 0h15m-1209 1h15m1456 0h15m-2887 0h15m1064 0h15m214 0h15m-115 0h15m-1291 0h15m2221 1h15m715 0h15m-217 0h15m114 0h15m-279 0h15m-270 0h15m-10 0h15m-3245 1h15m3912 0h15m-3039 0h15m2691 0h15m-1390 0h15m1496 0h15m67 0h15m-243 0h15m-531 0h15m-3104 0h15m3813 0h15m-1704 0h15m1023 0h15m-975 1h15m-606 0h15m-805 0h15m2651 0h15m-1181 0h15m774 0h15m19 1h15m161 0h15m-1301 0h15m1271 0h15m288 0h15m-1546 0h15m259 0h15m940 0h15m-17 1h15m-2455 0h15m2408 0h15m555 0h15m-3834 1h15m2092 0h15m80 0h15m-138 1h15m-582 0h15m1909 0h15m325 0h15m-358 1h15m-364 0h15m172 0h15m518 0h15m17 0h15m-3064 0h15m3088 0h15m-3283 1h15m1558 0h15m-1588 0h15m1399 0h15m84 0h15m-1550 1h15m214 0h15m3002 0h15m-1675 0h15m888 0h15m-866 0h15m1556 1h15m-1764 0h15m1726 0h15m47 0h15m-425 0h15m-216 1h15m-2662 0h15m223 0h15m-94 0h15m2671 0h15m-1559 0h15m-1941 1h15m3754 0h15m-2902 0h15m-263 0h15m3184 0h15m-807 0h15m-2437 1h15m-630 0h15m3039 0h15m-1001 0h15m76 1h15m14 0h15m1697 0h15m-1737 0h15m-5 0h15m-1587 0h15m3246 0h15m-1672 0h15m-379 0h15m1978 0h15m-801 1h15m528 0h15m-15 0h15m206 1h15m-3896 0h15m826 0h15m3004 0h15m-1814 0h15m-2012 0h15m3576 0h15m169 0h15m34 0h15m-3848 0h15m754 1h15m1368 0h15m1597 0h15m-2983 0h15m-54 0h15m-301 0h15m1495 0h15m1615 0h15m-3624 1h15m2165 0h15m1408 0h15m-1413 0h15m-1446 0h15m-319 0h15m299 1h15m2820 0h15m-1307 0h15m-157 1h15m-614 0h15m-1136 0h15m3109 0h15m-494 0h15m-937 0h15m1399 0h15m-1592 0h15m-406 0h15m-897 0h15m-824 1h15m1588 0h15m573 0h15m-2153 0h15m3578 0h15m-559 0h15m-2580 0h15m3116 0h15m-2870 0h15m1419 0h15m-197 0h15m47 0h15m1759 0h15m-3377 1h15m-19 0h15m3395 0h15m-3434 0h15m-15 0h15m3124 0h15m-2989 1h15m-9 0h15m1341 0h15m339 0h15m-50 0h15m1518 0h15m-1853 1h15m-1105 0h15m2846 0h15m-752 0h15m-775 0h15m1468 0h15m-710 0h15m702 0h15m-704 0h15m-3 1h15m-1047 0h15m-2147 0h15m652 0h15m2979 0h15m-3681 0h15m2190 0h15m247 0h15m1197 1h15m-3684 0h15m3798 0h15m-1667 0h15m-143 0h15m23 0h15m-1574 0h15m-356 1h15m2969 0h15m-1076 0h15m-1182 0h15m1058 0h15m283 0h15m1568 0h15m-3238 0h15m2490 0h15m-5 0h15m-3193 1h15m3906 0h15m-3421 0h15m1516 0h15m167 0h15m-35 0h15m-67 0h15m950 0h15m-2194 0h15m-783 0h15m1998 1h15m1635 0h15m-3179 0h15m1316 0h15m-1348 0h15m1577 0h15m-1447 0h15m2257 0h15m-3116 1h15m2080 0h15m-2105 0h15m866 0h15m2928 0h15m-3330 0h15m1897 0h15m-381 0h15m-118 0h15m1863 0h15m-3848 1h15m3855 0h15m-3700 0h15m-201 0h15m3856 0h15m-3029 0h15m3065 1h15m-795 0h15m749 0h15m98 0h15m-2119 0h15m-1252 0h15m3204 1h15m-1634 0h15m1361 0h15m-3496 0h15m1990 0h15m1617 0h15m10 1h15m-1597 0h15m29 0h15m1533 1h15m-1843 0h15m-1355 0h15m2966 0h15m-2753 0h15m2186 0h15m801 0h15m-3456 1h15m3318 0h15m-1728 0h15m-1242 0h15m2924 0h15m16 0h15m-1507 1h15m726 0h15m-2452 0h15m1661 0h15m-1554 0h15m1154 0h15m60 0h15m87 1h15m1484 0h15m-1217 1h15m-482 0h15m-1483 0h15m127 0h15m-159 0h15m333 0h15m41 1h15m2900 0h15m-188 0h15m-22 0h15m-2875 0h15m-144 0h15m155 1h15m2787 0h15m-13 0h15m-1327 0h15m811 0h15m-2373 1h15m1395 0h15m898 0h15m730 1h15m-1873 0h15m-1222 0h15m1277 1h15m-2124 0h15m3907 0h15m-1898 0h15m1887 0h15m-98 0h15m-2912 0h15m2853 1h15m-3304 0h15m-379 0h15m833 0h15m1182 0h15m-194 0h15m1085 0h15m-724 1h15m-1909 0h15m1542 0h15m-473 0h15m648 0h15m1572 0h15m-1466 0h15m720 1h15m-58 0h15m-1030 0h15m-2132 0h15m2193 0h15m183 0h15m1429 1h15m-1478 0h15m790 0h15m-2368 0h15m-854 0h15m2065 0h15m-1283 0h15m-649 0h15m3742 0h15m3 1h15m-3955 0h15m2388 0h15m-2245 0h15m1988 0h15m-2201 0h15m854 0h15m1534 0h15m-131 0h15m-2139 0h15m1951 0h15m-1245 0h15m1033 1h15m-1441 0h15m1669 0h15m-1429 0h15m1488 0h15m-247 0h15m-37 0h15m1851 0h15m-1548 0h15m28 1h15m-27 0h15m-272 0h15m1675 0h15m-721 0h15m27 0h15m-76 0h15m-851 0h15m801 0h15m722 0h15m-3661 0h15m2962 1h15m-1111 0h15m1084 0h15m-18 0h15m-972 0h15m55 0h15m61 1h15m-137 0h15m1687 0h15m-1706 0h15m887 0h15m730 0h15m-726 0h15m-61 0h15m-2349 0h15m1148 0h15m170 1h15m1002 0h15m709 0h15m-1900 0h15m-66 0h15m203 1h15m980 0h15m-752 0h15m1443 1h15m-1716 0h15m-16 0h15m1675 0h15m-1938 0h15m1185 0h15m-35 0h15m-1250 0h15m1929 1h15m-1818 0h15m1834 0h15m-3913 0h15m2342 0h15m1566 1h15m-841 0h15m-675 0h15m-417 0h15m-19 0h15m-1256 0h15m3015 1h15m-1474 0h15m1516 0h15m-1645 1h15m-174 0h15m134 1h15m-1435 0h15m1524 0h15m-62 0h15m1465 0h15m-1562 0h15m1638 0h15m-2307 0h15m2268 0h15m-35 0h15m-1481 0h15m22 0h15m-178 1h15m1656 0h15m-1658 0h15m14 0h15m-175 0h15m-50 0h15m203 0h15m1439 0h15m-668 0h15m-1225 0h15m211 1h15m-1415 0h15m1406 0h15m55 0h15m-98 1h15m-642 0h15m548 0h15m1779 0h15m-763 0h15m-87 0h15m-2209 0h15m1507 0h15m-311 1h15m-60 0h15m-1302 0h15m3085 0h15m-1756 0h15m-2194 0h15m3955 0h15m-102 0h15m-1760 1h15m-54 0h15m-119 0h15m56 1h15m1828 0h15m-833 0h15m-825 0h15m-337 0h15m58 0h15m374 0h15m1420 0h15m-1742 0h15m1828 0h15m-73 1h15m-2312 0h15m2211 0h15m-661 0h15m-44 0h15m-857 0h15m-307 0h15m1902 0h15m-3966 0h15m1923 0h15m270 1h15m927 0h15m696 0h15m8 0h15m130 0h15m-1977 0h15m136 0h15m0 0h15m848 0h15m-3124 0h15m928 1h15m2985 0h15m-763 0h15m-1152 1h15m282 0h15m16 0h15m1640 0h15m-3203 0h15m1209 1h15m294 0h15m688 0h15m-862 0h15m-286 0h15m38 0h15m1131 0h15m-972 1h15m-120 0h15m163 0h15m830 0h15m-920 0h15m-348 0h15m366 0h15m800 1h15m-1158 0h15m373 0h15m1528 0h15m-1810 0h15m298 0h15m-170 0h15m834 0h15m-842 1h15m884 0h15m-823 0h15m-334 0h15m-128 0h15m-7 0h15m44 1h15m1186 0h15m618 0h15m-1887 0h15m486 1h15m1278 0h15m-1325 0h15m710 0h15m453 0h15m-1613 0h15m132 0h15m1568 0h15m-1451 0h15m1274 1h15m-2840 0h15m778 0h15m1530 0h15m682 0h15m-13 0h15m-101 0h15m151 0h15m-1942 1h15m1642 0h15m-1199 0h15m1355 0h15m-1857 0h15m1136 0h15m-1170 0h15m1651 0h15m212 1h15m-1546 0h15m68 0h15m1608 0h15m-233 0h15m-1426 0h15m689 0h15m-3134 0h15m3727 0h15m-587 0h15m-828 0h15m777 0h15m-2355 1h15m2281 0h15m-10 1h15m-1025 0h15m-6 0h15m1622 0h15m-1632 0h15m10 0h15m1456 0h15m-1320 0h15m60 0h15m-144 0h15m-213 1h15m-501 0h15m581 0h15m1014 0h15m-1150 1h15m-71 0h15m1912 0h15m-318 0h15m-15 0h15m-1424 0h15m-176 0h15m1673 1h15m-561 0h15m-1100 0h15m-1232 0h15m-925 0h15m1005 0h15m2870 0h15m-3920 0h15m2153 0h15m1459 1h15m-1616 0h15m253 0h15m1515 0h15m-1555 0h15m38 0h15m1597 1h15m-802 0h15m-1030 0h15m963 0h15m-33 0h15m-1537 0h15m1537 0h15m-923 1h15m-210 0h15m307 0h15m-259 0h15m-540 0h15m610 0h15m-1450 0h15m2333 0h15m714 0h15m-1834 0h15m-107 0h15m231 1h15m123 0h15m812 0h15m654 0h15m-1839 0h15m1090 0h15m77 1h15m-1142 0h15m-1312 0h15m-21 0h15m2343 0h15m53 0h15m-996 1h15m-1449 0h15m-807 0h15m827 0h15m1156 0h15m-436 0h15m489 0h15m243 0h15m1500 1h15m47 0h15m-1786 0h15m968 0h15m-752 1h15m-59 0h15m-79 0h15m-423 0h15m1732 0h15m-1224 0h15m1496 0h15m-1797 0h15m-224 0h15m20 0h15m1921 0h15m-1663 0h15m1601 0h15m-288 1h15m198 0h15m-3014 1h15m2770 0h15m281 0h15m-282 0h15m-1694 0h15m1835 0h15m-1416 0h15m-311 0h15m5 1h15m-1442 1h15m-27 0h15m3028 0h15m-1359 0h15m-1719 0h15m1381 0h15m-1233 0h15m2728 0h15m-526 0h15m-1129 0h15m1611 1h15m-1395 0h15m1377 0h15m-1395 0h15m1500 0h15m-22 0h15m-3075 0h15m3131 0h15m82 1h15m-329 0h15m-1223 0h15m-1633 0h15m34 0h15m1178 0h15m1126 0h15m546 0h15m-578 0h15m-2486 0h15m3240 0h15m-1998 0h15m1762 1h15m-1547 0h15m63 0h15m1441 0h15m78 0h15m-24 0h15m-746 0h15m748 1h15m-3065 0h15m1449 0h15m-305 0h15m-134 0h15m454 1h15m1606 0h15m-1983 0h15m-19 0h15m26 0h15m1124 0h15m-3192 0h15m680 0h15m2396 0h15m-780 0h15m-129 0h15m-1530 1h15m2455 0h15m-2371 0h15m253 1h15m-412 0h15m1546 0h15m-206 0h15m1727 0h15m-3121 1h15m2405 0h15m-2205 0h15m1444 0h15m1487 0h15m-1979 1h15m1196 0h15m-996 0h15m1798 0h15m-840 0h15m-837 0h15m-96 0h15m-248 0h15m-410 1h15m-1216 0h15m3386 0h15m-1582 0h15m-1515 0h15m-353 0h15m1922 0h15m-1604 0h15m1600 0h15m-432 0h15m187 1h15m8 0h15m1614 0h15m-3827 0h15m2152 0h15m-1397 0h15m3057 0h15m-1714 0h15m-104 1h15m-1672 0h15m1802 0h15m-1137 0h15m2805 0h15m2 1h15m-827 0h15m-2401 0h15m115 0h15m1441 0h15m1557 0h15m-1780 0h15m-70 1h15m-1361 0h15m-321 0h15m1488 0h15m-1534 0h15m2674 0h15m-2368 0h15m-346 0h15m1972 0h15m13 0h15m-475 0h15m-1991 1h15m3882 0h15m-3148 0h15m-73 0h15m317 0h15m1137 0h15m959 1h15m-2769 0h15m323 0h15m1239 0h15m425 0h15m-1828 0h15m67 0h15m1261 0h15m1119 0h15m-1068 0h15m-1364 0h15m-310 0h15m1713 0h15m2 0h15m250 0h15m-2449 1h15m3144 0h15m682 0h15m-3148 0h15m3135 0h15m-3477 1h15m352 0h15m-12 0h15m1163 0h15m75 0h15m-148 0h15m343 0h15m13 0h15m-2317 0h15m673 1h15m1685 0h15m-420 0h15m1948 0h15m-3772 1h15m2887 1h15m-2347 0h15m-563 0h15m-22 0h15m3608 0h15m-3644 1h15m2020 0h15m-630 0h15m-913 0h15m1665 0h15m-342 0h15m1747 0h15m-705 0h15m19 0h15m-804 0h15m-215 1h15m-1795 0h15m-203 0h15m-38 0h15m3615 0h15m-1937 0h15m341 0h15m-300 0h15m96 1h15m-1898 0h15m1376 0h15m-1204 0h15m1648 0h15m-1878 0h15m-6 0h15m1730 0h15m-33 0h15m-1240 0h15m-381 1h15m1544 0h15m263 0h15m-39 0h15m-1469 0h15m-37 0h15m-52 0h15m95 0h15m1491 0h15m-32 0h15m-346 0h15m412 1h15m-2156 0h15m215 0h15m1924 0h15m737 1h15m-2926 0h15m181 0h15m1913 0h15m-1661 0h15m1591 0h15m-147 0h15m1658 0h15m27 0h15m-1760 1h15m62 0h15m-1603 1h15m-643 0h15m1907 0h15m-1227 0h15m3108 0h15m-1680 0h15m-1534 0h15m1751 0h15m-290 0h15m-1788 0h15m3519 0h15m-3274 1h15m100 0h15m3097 0h15m-3588 0h15m3542 0h15m-27 0h15m-1801 0h15m-1583 0h15m-427 0h15m693 0h15m1413 0h15m1625 0h15m-3866 0h15m264 0h15m271 1h15m1761 0h15m-73 0h15m-2014 0h15m-175 0h15m2084 0h15m-2021 0h15m-15 0h15m2922 0h15m-1240 0h15m-1616 0h15m392 0h15m-200 0h15m-565 0h15m2233 1h15m-1629 0h15m3229 0h15m-3880 0h15m2265 0h15m851 0h15m-2439 0h15m-513 0h15m3635 0h15m144 0h15m-3651 1h15m1800 0h15m-1911 0h15m3512 0h15m-2221 0h15m1517 0h15m-885 0h15m-278 0h15m1793 0h15m0 0h15m-3652 0h15m1817 0h15m240 1h15m-1861 0h15m1498 0h15m1087 0h15m-900 0h15m1650 0h15m-1606 0h15m-1724 0h15m88 0h15m3202 0h15m-1635 0h15m1558 0h15m-3429 1h15m304 0h15m3077 0h15m-3852 0h15m2170 0h15m6 0h15m-2086 0h15m147 0h15m257 0h15m-74 0h15m-513 1h15m1623 0h15m770 0h15m-2126 0h15m1571 0h15m-1133 0h15m-33 0h15m2383 0h15m-1048 0h15m285 0h15m-1703 0h15m-308 0h15m1907 0h15m-637 0h15m689 0h15m-2114 1h15m125 0h15m-17 0h15m-384 0h15m2143 0h15m-401 0h15m1169 0h15m57 0h15m-747 0h15m697 0h15m-988 0h15m-2065 1h15m2115 0h15m-1849 0h15m-359 0h15m132 0h15m48 0h15m1933 0h15m-1916 0h15m1819 0h15m-6 0h15m-1478 0h15m1419 0h15m-1656 1h15m1784 0h15m-161 0h15m1 0h15m-21 0h15m-1487 0h15m2431 0h15m-2477 0h15m1450 0h15m7 0h15m1668 0h15m-1633 0h15m-1934 0h15m-236 0h15m140 0h15m-237 1h15m1901 0h15m316 0h15m-1937 0h15m-295 0h15m3071 0h15m-3058 0h15m-82 0h15m1910 0h15m-1741 0h15m2117 0h15m-226 0h15m-1914 0h15m256 0h15m-401 0h15m337 0h15m233 1h15m3223 0h15m-1855 0h15m-1621 0h15m-105 0h15m-317 0h15m1808 0h15m-1557 1h15m1852 0h15m-2014 0h15m1852 0h15m1771 0h15m-3775 0h15m-65 0h15m3798 0h15m-3516 0h15m-89 0h15m3572 0h15m-3643 0h15m-81 0h15m3617 0h15m-1763 1h15m-2144 0h15m83 0h15m2318 0h15m-2129 0h15m2028 0h15m-2068 0h15m2045 0h15m-2201 1h15m242 0h15m-127 0h15m2722 0h15m-2485 0h15m-197 0h15m10 0h15m216 0h15m-96 0h15m-198 0h15m-106 0h15m2757 0h15m-870 1h15m854 0h15m-3076 0h15m1911 0h15m1835 0h15m-706 1h15m-853 0h15m-1822 0h15m1814 0h15m-1736 0h15m1703 0h15m-2100 0h15m357 0h15m-190 0h15m-87 0h15m3435 0h15m-684 0h15m-2384 0h15m3106 1h15m-2085 0h15m-1780 0h15m254 0h15m1943 0h15m866 0h15m-1223 0h15m-1143 0h15m-241 1h15m3191 0h15m-3780 0h15m486 0h15m92 0h15m-409 0h15m2108 0h15m1498 1h15m-3139 0h15m-470 0h15m2833 0h15m-3108 0h15m-60 0h15m521 0h15m-474 0h15m1589 0h15m2240 0h15m-3705 0h15m233 1h15m1800 0h15m730 0h15m-2329 0h15m1599 0h15m-2051 0h15m322 0h15m1539 0h15m-2075 0h15m3716 0h15m-3251 1h15m-302 0h15m-22 0h15m76 0h15m2650 0h15m24 0h15m-2666 0h15m2562 0h15m58 0h15m-866 0h15m-2245 0h15m310 0h15m2665 0h15m-2757 1h15m-378 0h15m2361 0h15m-108 0h15m-1628 0h15m-36 0h15m20 0h15m3198 0h15m-3824 0h15m499 0h15m-52 1h15m-416 0h15m-125 0h15m140 0h15m517 0h15m2335 0h15m-642 0h15m1463 0h15m-3857 0h15m514 0h15m1550 1h15m-1509 0h15m1516 0h15m7 0h15m-1741 0h15m1056 0h15m309 0h15m-1339 0h15m-253 0h15m-346 0h15m2255 0h15m-1726 0h15m-494 1h15m651 0h15m-81 0h15m-426 0h15m2059 0h15m-1666 0h15m1055 0h15m-1372 0h15m225 0h15m-454 0h15m39 0h15m451 1h15m-535 0h15m-97 0h15m438 0h15m-152 0h15m-312 0h15m3656 0h15m-1405 0h15m-2131 0h15m1637 0h15m-1740 1h15m2812 0h15m-2668 0h15m286 0h15m3121 0h15m-3575 1h15m3548 0h15m-1979 0h15m-1641 0h15m-261 0h15m433 0h15m253 1h15m-726 0h15m196 0h15m3571 0h15m-3638 0h15m1384 0h15m753 0h15m-2193 0h15m-15 0h15m1767 1h15m-1443 0h15m-199 0h15m-276 0h15m282 0h15m307 0h15m-527 0h15m-126 0h15m370 1h15m29 0h15m-366 0h15m1735 0h15m-1130 0h15m-65 0h15m-502 0h15m-7 0h15m406 1h15m1635 0h15m-415 0h15m1541 0h15m-380 0h15m-829 0h15m-2264 0h15m3771 0h15m28 0h15m-1999 0h15m14 1h15m-12 0h15m-1427 0h15m152 0h15m-324 0h15m363 1h15m3227 0h15m-3746 0h15m423 0h15m-392 1h15m1260 0h15m1876 0h15m-2887 0h15m-671 0h15m171 0h15m2055 0h15m68 0h15m7 1h15m743 0h15m806 0h15m-3424 0h15m2971 0h15m-1232 0h15m-433 0h15m-1861 1h15m3906 0h15m-3569 0h15m1499 0h15m-82 0h15m-1365 0h15m3370 0h15m-3722 1h15m2944 0h15m699 0h15m-1976 0h15m346 0h15m1629 0h15m11 0h15m-3782 1h15m2203 0h15m-1793 0h15m-559 0h15m2189 0h15m-696 0h15m-1185 0h15m2024 1h15m-2070 0h15m1500 0h15m1242 0h15m-2947 0h15m-225 0h15m28 1h15m47 0h15m3684 0h15m-1983 0h15m-1477 0h15m1476 0h15m-1649 0h15m419 0h15m1731 0h15m-1756 1h15m2480 0h15m-2983 0h15m-190 0h15m553 0h15m2794 0h15m-2778 0h15m-382 0h15m365 0h15m2484 0h15m-1265 0h15m-1721 1h15m3673 0h15m-1560 0h15m-2337 0h15m636 0h15m1110 0h15m2097 0h15m-2951 0h15m1266 1h15m86 0h15m-2142 0h15m3155 0h15m-3139 1h15m2003 0h15m-1804 0h15m3289 0h15m-1558 0h15m-1854 0h15m-45 1h15m-354 0h15m430 0h15m3315 0h15m-3387 0h15m1781 0h15m-1973 0h15m-64 0h15m2887 1h15m-909 0h15m-1886 0h15m1471 0h15m-1291 0h15m-490 0h15m470 0h15m-545 0h15m438 0h15m2628 0h15m-2506 0h15m76 0h15m1608 0h15m-1944 0h15m-210 1h15m8 0h15m3588 0h15m-803 0h15m48 0h15m-1346 0h15m398 0h15m-1500 1h15m-467 0h15m3494 0h15m37 0h15m-3555 0h15m318 0h15m15 0h15m-166 0h15m2587 0h15m-2738 0h15m1167 1h15m-1021 0h15m-310 0h15m3709 0h15m-256 1h15m-3056 0h15m3224 0h15m-3299 0h15m1141 0h15m1251 0h15m-737 0h15m-569 0h15m-1292 1h15m2505 0h15m-2796 0h15m1468 0h15m-1344 0h15m1818 0h15m-1723 0h15m-335 0h15m2082 0h15m-2370 1h15m420 0h15m-29 0h15m270 0h15m1007 0h15m1326 0h15m923 0h15m-2473 1h15m-1109 0h15m2644 0h15m376 0h15m-26 0h15m-3390 0h15m2969 0h15m-2522 1h15m3194 0h15m-3096 0h15m-186 0h15m2589 0h15m-2880 0h15m2849 1h15m228 0h15m-2948 0h15m115 0h15m-618 0h15m644 0h15m-359 0h15m1947 0h15m-2063 1h15m3696 0h15m-3654 0h15m-200 0h15m476 0h15m2542 1h15m-2513 0h15m28 0h15m1661 0h15m-2346 0h15m484 1h15m-307 0h15m1971 0h15m1571 0h15m-3428 0h15m34 0h15m1797 0h15m-2097 0h15m3648 1h15m-3515 0h15m1455 0h15m-1764 0h15m3809 0h15m-823 0h15m691 0h15m-3439 0h15m2766 1h15m221 0h15m-1078 0h15m-108 0h15m-1778 0h15m-316 0h15m207 0h15m22 0h15m-170 0h15m-201 0h15m1746 0h15m-1211 1h15m2712 0h15m-2682 0h15m1530 0h15m2 0h15m-2149 0h15m546 0h15m1693 0h15m968 0h15m-1116 0h15m-2011 0h15m379 0h15m3139 0h15m-3800 1h15m3079 0h15m-16 0h15m-2984 0h15m230 1h15m3467 0h15m-3388 0h15m3360 0h15m-3357 0h15m1678 0h15m-2312 0h15m659 0h15m2737 0h15m462 1h15m-3610 0h15m12 0h15m3462 0h15m-1491 1h15m-1730 0h15m3196 0h15m-3535 0h15m-282 0h15m451 0h15m1342 0h15m-1877 0h15m1842 0h15m1298 0h15m-2908 1h15m2129 0h15m1493 0h15m-1640 0h15m-1639 0h15m-9 0h15m2413 0h15m-2987 0h15m3671 1h15m-3680 0h15m3726 0h15m-3273 0h15m-539 0h15m627 0h15m1085 0h15m-1187 0h15m-139 0h15m-208 1h15m3488 0h15m-3559 0h15m3644 1h15m-3447 0h15m1793 0h15m795 0h15m-1356 0h15m1288 0h15m-2522 0h15m1407 0h15m1204 0h15m-1219 0h15m-1358 1h15m2526 0h15m-2882 0h15m178 0h15m2506 0h15m672 0h15m-3156 1h15m-81 0h15m2537 0h15m-2469 0h15m2549 0h15m0 0h15m582 0h15m-623 0h15m555 0h15m-3453 0h15m138 0h15m3248 1h15m-1766 0h15m-1462 0h15m-177 0h15m-16 0h15m198 0h15m2579 0h15m-1212 0h15m-1522 0h15m-514 0h15m3098 0h15m-2572 0h15m3203 0h15m137 0h15m-3391 1h15m-467 0h15m3699 0h15m-3389 0h15m-332 0h15m-113 0h15m357 0h15m-373 0h15m592 0h15m1348 0h15m-1726 0h15m295 1h15m-302 0h15m167 0h15m1735 0h15m1575 0h15m-635 0h15m624 0h15m-3659 1h15m1384 0h15m193 0h15m1254 0h15m25 0h15m-1145 0h15m-1469 0h15m1226 0h15m-1604 0h15m2082 1h15m814 0h15m649 0h15m-1799 0h15m-2 0h15m1853 0h15m-3326 0h15m-549 0h15m597 1h15m-492 0h15m3621 0h15m-607 0h15m550 0h15m-580 0h15m-2802 0h15m-65 0h15m1372 0h15m-1476 0h15m-9 0h15m54 0h15m3410 1h15m-3498 0h15m3602 0h15m-847 0h15m662 0h15m-1985 0h15m-1738 0h15m3091 0h15m-941 1h15m-2038 0h15m1738 0h15m9 0h15m-1803 0h15m376 0h15m-5 0h15m-190 0h15m-266 0h15m2024 0h15m-1738 0h15m-580 0h15m109 0h15m355 1h15m1527 0h15m-1787 0h15m456 0h15m-443 0h15m-68 0h15m3567 0h15m-725 0h15m-2524 0h15m8 0h15m-637 1h15m2268 0h15m-1697 0h15m-465 0h15m451 0h15m-605 0h15m2269 1h15m-2294 0h15m3758 0h15m61 0h15m-769 0h15m-3059 0h15m2203 1h15m-2094 0h15m-164 0h15m153 0h15m76 0h15m254 0h15m1681 0h15m76 0h15m-572 0h15m-1230 0h15m1163 0h15m1303 0h15m-2537 0h15m2487 0h15m39 1h15m77 0h15m-1447 0h15m2055 0h15m-674 1h15m-2755 0h15m202 0h15m-527 0h15m3720 0h15m-786 0h15m-3076 0h15m1727 1h15m2016 0h15m-3441 0h15m50 0h15m1534 0h15m-1644 0h15m-159 0h15m-200 0h15m2279 1h15m-569 0h15m-1421 0h15m1386 0h15m2024 0h15m-3735 0h15m408 0h15m29 0h15m1182 0h15m-1823 0h15m415 0h15m1830 0h15m-1910 0h15m1373 0h15m-2 0h15m-1736 0h15m380 0h15m2765 0h15m-1436 1h15m1394 0h15m2 0h15m-1233 0h15m1823 0h15m-3215 0h15m1144 0h15m208 0h15m-245 1h15m2034 0h15m-69 0h15m-587 0h15m-2798 0h15m1359 0h15m177 0h15m-1703 0h15m-265 0h15m1739 1h15m2062 0h15m-1908 0h15m-1648 0h15m3611 0h15m-3568 0h15m2639 0h15m844 0h15m-1680 0h15m-1866 1h15m1315 0h15m1276 0h15m-2597 0h15m1263 0h15m2008 0h15m-3442 0h15m111 0h15m2560 1h15m820 0h15m-3952 0h15m61 0h15m3087 0h15m-2855 0h15m3523 0h15m-3470 0h15m3409 0h15m-3145 0h15m-227 1h15m2644 0h15m-2685 0h15m194 0h15m2448 0h15m-2667 0h15m-173 0h15m-369 1h15m510 0h15m146 0h15m-77 0h15m78 0h15m-7 0h15m3239 0h15m-11 1h15m-3471 0h15m2602 1h15m-2544 0h15m1453 0h15m-1793 1h15m-192 0h15m107 0h15m314 0h15m3265 0h15m-756 0h15m776 0h15m-3738 0h15m-68 1h15m451 0h15m1458 0h15m224 0h15m-1785 0h15m-288 0h15m2863 0h15m-2667 0h15m3323 0h15m-3353 0h15m175 0h15m2409 0h15m807 0h15m-794 0h15m-3019 0h15m1648 0h15m-1525 1h15m1762 0h15m-1849 0h15m279 0h15m1519 0h15m-438 0h15m-1346 0h15m3457 0h15m-3124 0h15m-273 0h15m-301 0h15m3759 0h15m-96 1h15m-1765 0h15m-44 0h15m1405 0h15m-2970 0h15m3282 0h15m93 0h15m-3238 1h15m3180 0h15m-3644 0h15m2051 0h15m-2100 0h15m-139 0h15m323 0h15m1602 0h15m218 0h15m-1886 0h15m1623 0h15m-1600 0h15m3303 1h15m-1742 0h15m-270 0h15m-1386 0h15m-45 1h15m-124 0h15m265 0h15m3271 0h15m-3697 0h15m-63 0h15m1663 0h15m2064 0h15m-3596 0h15m304 0h15m-598 1h15m92 0h15m2156 0h15m-2154 0h15m9 0h15m156 1h15m19 0h15m3348 0h15m-3698 0h15m366 0h15m1549 0h15m-1784 0h15m91 0h15m3388 1h15m-3329 0h15m-258 0h15m-74 1h15m3611 0h15m-3179 0h15m1413 0h15m1779 0h15m-2055 0h15m-1125 0h15m-275 0h15m3494 1h15m-48 0h15m-3884 0h15m377 0h15m3346 0h15m-669 0h15m-2450 0h15m2726 0h15m463 1h15m-3483 0h15m3455 0h15m-853 0h15m-2882 0h15m3501 0h15m158 0h15m-3753 1h15m55 0h15m2825 0h15m-1070 0h15m1693 0h15m-3230 0h15m-85 0h15m49 0h15m1520 0h15m-1848 1h15m396 0h15m-163 0h15m-92 0h15m-191 0h15m1804 0h15m-17 1h15m-1873 0h15m460 0h15m-471 0h15m3672 0h15m-3345 0h15m-107 0h15m3354 0h15m-3385 0h15m2597 1h15m743 0h15m-3413 0h15m3367 0h15m-3520 0h15m-363 0h15m3941 0h15m-2177 0h15m-1089 0h15m2725 1h15m466 0h15m-2114 0h15m-1343 0h15m3231 0h15m-606 1h15m-2695 0h15m3448 0h15m-3245 0h15m2743 0h15m-1126 0h15m-2297 0h15m2992 1h15m0 0h15m705 0h15m-3739 0h15m184 0h15m3633 0h15m-3297 0h15m-54 0h15m-90 1h15m3328 0h15m23 1h15m-485 0h15m-1130 0h15m1587 0h15m-3473 0h15m88 0h15m3305 1h15m-455 0h15m-30 0h15m-2735 0h15m-453 0h15m2848 0h15m-2742 0h15m3406 1h15m-1900 0h15m-1757 0h15m321 0h15m1250 0h15m-1122 0h15m-744 0h15m52 0h15m3054 0h15m-2753 0h15m3457 1h15m-3510 0h15m236 0h15m2824 0h15m-3144 0h15m1638 0h15m1473 0h15m-19 0h15m-1502 1h15m1796 0h15m-331 0h15m-2873 0h15m3237 0h15m-3171 0h15m-135 0h15m127 0h15m-125 0h15m1718 0h15m-2317 0h15m3950 0h15m-562 1h15m311 0h15m-3726 0h15m3748 0h15m-3184 0h15m-185 0h15m3362 0h15m-95 0h15m-660 1h15m-836 0h15m-1988 0h15m139 0h15m1811 0h15m-1916 0h15m-472 0h15m3875 0h15m-2083 0h15m1943 0h15m14 0h15m-3479 1h15m2022 0h15m1522 0h15m-59 0h15m-3242 0h15m-551 1h15m611 0h15m-460 0h15m2847 0h15m-2721 0h15m-338 0h15m95 0h15m-249 0h15m305 0h15m3568 1h15m-3918 0h15m2344 0h15m-386 0h15m1104 0h15m654 1h15m136 0h15m-3227 0h15m3051 0h15m59 0h15m-781 1h15m-2454 0h15m-7 0h15m3239 0h15m-14 0h15m-40 0h15m-131 0h15m-662 0h15m-2586 0h15m2610 0h15m-2516 0h15m2494 0h15m600 1h15m-3583 0h15m3147 0h15m-231 0h15m592 0h15m-3516 0h15m234 0h15m-499 0h15m132 0h15m215 0h15m3329 0h15m-3072 0h15m-150 0h15m2583 0h15m-2893 1h15m116 0h15m-445 0h15m141 0h15m63 0h15m-158 0h15m3277 1h15m-2970 0h15m-255 0h15m3589 0h15m-3150 0h15m2497 0h15m653 0h15m148 0h15m-3339 0h15m3130 0h15m92 0h15m-758 1h15m562 0h15m160 0h15m-796 0h15m-3023 0h15m3623 0h15m-1834 0h15m1207 0h15m-1220 0h15m1400 0h15m-2819 0h15m-253 0h15m-111 1h15m3122 0h15m-3236 0h15m2980 0h15m-2541 0h15m2736 0h15m-230 0h15m-2427 0h15m-657 1h15m1639 0h15m-1042 0h15m-455 0h15m187 1h15m-21 0h15m2594 0h15m-2797 0h15m-333 0h15m3828 0h15m-3390 0h15m-290 0h15m3682 0h15m-99 0h15m-3372 0h15m-103 1h15m3520 0h15m-3244 0h15m3154 0h15m-83 0h15m-3131 0h15m-135 1h15m-323 0h15m3685 0h15m-3764 0h15m1564 0h15m2064 0h15m-3803 0h15m3740 0h15m-1841 1h15m1980 0h15m-2194 0h15m-1720 0h15m88 0h15m141 0h15m-36 0h15m2773 0h15m-23 0h15m-2529 0h15m3262 1h15m5 0h15m-3655 0h15m2069 0h15m-375 0h15m-1495 0h15m1463 0h15m-1969 0h15m438 0h15m2695 0h15m-2557 1h15m-364 0h15m1313 0h15m2249 0h15m-3351 0h15m35 0h15m3372 0h15m-2006 0h15m-2001 1h15m111 0h15m275 0h15m76 0h15m1831 0h15m-1791 0h15m-62 1h15m1248 0h15m2017 0h15m-661 0h15m-1413 0h15m-1632 0h15m-192 0h15m110 0h15m3736 0h15m-712 0h15m590 1h15m-3385 0h15m258 0h15m-487 0h15m249 0h15m75 0h15m3199 0h15m-687 0h15m-3082 1h15m3330 0h15m562 0h15m-598 0h15m-3042 0h15m140 0h15m3341 0h15m-3154 0h15m-553 0h15m2970 0h15m-2592 0h15m2594 0h15m-2760 0h15m-147 0h15m322 1h15m3098 0h15m-3185 0h15m2506 0h15m-2855 0h15m-289 0h15m3051 0h15m786 0h15m-3646 0h15m2886 0h15m218 0h15m-300 0h15m-1154 1h15m20 0h15m1378 0h15m543 0h15m-3880 0h15m3804 0h15m-709 0h15m-21 0h15m-1226 0h15m-1389 0h15m102 0h15m2427 1h15m-849 0h15m-558 0h15m522 0h15m-1818 0h15m43 0h15m3188 0h15m-3244 1h15m115 0h15m3064 0h15m-3142 0h15m-96 0h15m-416 0h15m3758 0h15m-3431 0h15m3273 0h15m-3424 0h15m2774 0h15m672 0h15m-110 1h15m-1818 0h15m-1425 0h15m1371 0h15m-1229 0h15m-258 0h15m3341 0h15m-1871 0h15m-1286 0h15m1229 0h15m-5 0h15m1371 0h15m-2919 0h15m3303 0h15m-718 0h15m-755 1h15m-678 0h15m-1641 0h15m2291 0h15m1583 0h15m-673 0h15m-17 0h15m-13 0h15m-3205 0h15m14 0h15m3159 0h15m-1344 1h15m1880 0h15m-3725 0h15m3805 0h15m-3429 0h15m2799 0h15m-2916 0h15m35 0h15m3228 0h15m-3275 0h15m-2 1h15m2822 0h15m-10 0h15m429 0h15m-528 0h15m482 0h15m88 0h15m-774 0h15m-1203 0h15m27 1h15m-1386 0h15m1715 0h15m-1799 0h15m139 0h15m-395 1h15m2005 0h15m-2110 0h15m-205 0h15m3738 0h15m-1868 1h15m1314 0h15m-2781 0h15m-442 0h15m3005 0h15m-2866 0h15m3622 0h15m-3392 0h15m3316 0h15m95 1h15m-2203 0h15m2028 0h15m-2051 0h15m1487 0h15m456 1h15m-3789 0h15m536 0h15m3383 0h15m-1608 0h15m-2205 0h15m172 0h15m-321 1h15m461 0h15m1434 0h15m8 0h15m-1990 0h15m3168 0h15m-37 0h15m-1224 1h15m1151 0h15m-2992 0h15m3721 0h15m-3561 0h15m3486 0h15m-66 0h15m-3275 0h15m2609 0h15m-3153 0h15m3160 1h15m-37 0h15m757 0h15m-153 0h15m-3501 0h15m263 0h15m96 0h15m2426 0h15m634 0h15m-715 0h15m-1147 0h15m1795 1h15m-3460 0h15m268 0h15m1162 0h15m156 0h15m360 0h15m-9 0h15m-2369 0h15m4 1h15m2436 0h15m624 0h15m-2978 0h15m345 0h15m2678 0h15m713 0h15m-790 0h15m-2843 1h15m3533 0h15m-3 0h15m-3164 0h15m3007 0h15m-3131 0h15m-567 0h15m3075 0h15m-1220 0h15m-261 0h15m-1322 0h15m38 0h15m-323 1h15m361 0h15m2644 0h15m-2541 0h15m2598 0h15m-2668 1h15m3228 0h15m-687 0h15m-2513 0h15m3256 0h15m-907 1h15m182 0h15m532 0h15m-1852 0h15m-1424 0h15m-522 0h15m3214 0h15m616 0h15m-769 0h15m-2953 0h15m24 0h15m-217 0h15m3733 1h15m-3485 0h15m2781 0h15m-1177 0h15m-1950 0h15m3027 0h15m-2654 0h15m3330 0h15m-3796 0h15m3882 1h15m-581 0h15m117 0h15m-96 0h15m-241 0h15m282 0h15m-116 0h15m-11 1h15m-2935 0h15m2943 0h15m203 0h15m-3670 0h15m11 0h15m1950 0h15m-1712 0h15m3466 0h15m66 0h15m1 0h15m-3322 1h15m-272 0h15m182 0h15m3354 0h15m-3677 0h15m2995 0h15m-2746 0h15m2992 0h15m-2925 0h15m-153 0h15m2754 0h15m-101 0h15m235 0h15m556 0h15m-329 0h15m-2923 0h15m3043 1h15m82 0h15m-248 0h15m-1662 0h15m-1989 0h15m3351 0h15m-18 0h15m-317 0h15m-2523 0h15m1387 0h15m1633 0h15m-3601 0h15m3089 0h15m-2661 0h15m3355 0h15m-3820 0h15m3283 0h15m-3349 0h15m3585 1h15m-277 0h15m-2992 0h15m72 0h15m3320 0h15m-516 0h15m-1329 0h15m1332 0h15m-3191 0h15m1595 0h15m549 0h15m-354 0h15m-1752 1h15m-85 0h15m3628 0h15m-220 0h15m-3137 0h15m2592 0h15m-2805 1h15m-281 0h15m3117 0h15m642 0h15m-1512 0h15m-569 0h15m2159 0h15m-2216 0h15m9 1h15m-1463 0h15m21 0h15m3242 0h15m180 0h15m-2047 0h15m1613 0h15m202 0h15m-3392 0h15m417 0h15m-635 1h15m3404 0h15m-2984 0h15m3094 0h15m-565 0h15m-1312 0h15m1329 0h15m211 0h15m-2913 1h15m-409 0h15m537 0h15m3008 0h15m-3301 0h15m-318 0h15m374 0h15m130 0h15m-205 0h15m-373 0h15m2284 1h15m1464 0h15m-3342 0h15m3388 0h15m-3240 0h15m1644 0h15m945 0h15m-3184 0h15m3118 0h15m91 0h15m-2853 0h15m2981 0h15m80 0h15m-1822 1h15m-1770 0h15m2289 0h15m-2118 0h15m3018 0h15m557 0h15m-745 1h15m-3034 0h15m3109 0h15m269 0h15m-3065 0h15m2735 0h15m-2790 0h15m2781 0h15m695 0h15m-3665 0h15m3282 0h15m-1261 0h15m-2169 0h15m2978 0h15m-1618 0h15m2318 0h15m-709 1h15m586 0h15m-304 0h15m-3405 0h15m3055 0h15m728 0h15m-371 0h15m-3550 0h15m20 0h15m264 0h15m1956 0h15m-12 1h15m1588 0h15m-63 0h15m-3478 0h15m218 0h15m-355 0h15m-190 0h15m69 0h15m3026 1h15m-2776 0h15m2741 0h15m-1658 0h15m1963 0h15m-228 0h15m-3172 0h15m171 0h15m2918 0h15m-2765 1h15m-220 0h15m1364 0h15m-1507 0h15m-5 0h15m218 0h15m-3 0h15m113 0h15m2604 1h15m-102 0h15m300 0h15m-69 0h15m108 0h15m-1820 0h15m1267 0h15m125 0h15m-2623 0h15m2908 1h15m-124 0h15m527 0h15m-3631 0h15m3023 0h15m93 0h15m-1137 0h15m-1884 0h15m-250 0h15m3532 1h15m-183 0h15m-3497 0h15m411 0h15m40 0h15m2586 0h15m23 0h15m-2683 0h15m3151 0h15m-3371 1h15m51 0h15m3304 0h15m-3375 0h15m3250 0h15m-49 0h15m-585 0h15m753 0h15m20 0h15m-3927 0h15m3623 1h15m-3091 0h15m-119 0h15m173 0h15m2650 0h15m567 0h15m-210 0h15m-453 0h15m-2890 0h15m3285 0h15m0 0h15m-3590 0h15m444 0h15m3078 0h15m-1337 0h15m967 0h15m-2783 0h15m-209 0h15m1398 1h15m-1175 0h15m3071 0h15m-251 0h15m223 0h15m-565 0h15m-2429 0h15m2575 0h15m304 0h15m-1891 0h15m2039 0h15m-116 1h15m-293 0h15m-173 0h15m-2806 0h15m3213 0h15m132 0h15m-804 0h15m527 0h15m-3052 0h15m2573 1h15m-3042 0h15m13 0h15m2153 0h15m826 0h15m-1444 0h15m1544 0h15m-2854 0h15m2974 1h15m-3252 0h15m3449 0h15m-630 0h15m358 0h15m-3442 0h15m474 0h15m-129 0h15m3392 0h15m-373 0h15m-317 0h15m481 0h15m-266 0h15m-42 0h15m217 1h15m84 0h15m-413 0h15m479 0h15m-113 0h15m-358 0h15m35 0h15m-3360 0h15m3117 0h15m-872 0h15m817 0h15m289 0h15m-2990 1h15m1822 0h15m-1991 0h15m3079 0h15m-2842 1h15m2569 0h15m495 0h15m-3352 0h15m3247 0h15m-491 0h15m176 0h15m257 0h15m143 0h15m-1492 0h15m1552 0h15m-374 1h15m-3511 0h15m3580 0h15m-2943 0h15m-221 0h15m-62 0h15m3155 0h15m60 0h15m-347 0h15m-151 0h15m-2963 0h15m202 1h15m3351 0h15m-3677 0h15m3149 0h15m-2907 0h15m2976 0h15m-260 0h15m-2990 0h15m2990 0h15m554 0h15m-3783 1h15m1997 0h15m1666 0h15m-432 0h15m226 0h15m-3451 0h15m1928 0h15m1163 0h15m-2652 0h15m-35 1h15m2973 0h15m-3430 0h15m2938 0h15m422 0h15m-403 0h15m339 0h15m-3039 0h15m214 0h15m-145 0h15m2472 0h15m-2688 0h15m-337 0h15m3297 1h15m-1091 0h15m-296 0h15m-1858 0h15m3479 0h15m-3077 0h15m2965 0h15m-318 1h15m457 0h15m14 0h15m-215 0h15m-1303 0h15m1328 0h15m-3204 0h15m1837 0h15m-1997 0h15m3125 1h15m-2992 0h15m2717 0h15m-2689 0h15m3270 0h15m-1833 0h15m-1556 0h15m-109 0h15m2689 0h15m577 0h15m-3444 0h15m3320 1h15m-3427 0h15m2920 0h15m75 0h15m-3060 0h15m2910 0h15m156 1h15m-2921 0h15m3199 0h15m-1232 0h15m1022 0h15m-285 0h15m653 0h15m27 0h15m-3692 0h15m1601 0h15m288 0h15m-1801 0h15m2776 0h15m192 0h15m375 1h15m-3622 0h15m3230 0h15m237 0h15m13 0h15m-2946 0h15m-321 0h15m2719 0h15m-2789 0h15m-112 0h15m-19 0h15m43 0h15m-247 1h15m3455 0h15m-166 0h15m-3054 0h15m3202 0h15m-3005 0h15m-465 1h15m1957 0h15m291 0h15m-2145 0h15m141 0h15m171 0h15m2941 0h15m-209 0h15m-3246 1h15m106 0h15m43 0h15m3688 0h15m-2219 0h15m2129 0h15m-163 0h15m-3595 0h15m-145 0h15m-74 0h15m2028 0h15m-1649 1h15m-273 0h15m3471 0h15m-481 0h15m344 0h15m-3554 0h15m3317 0h15m-2877 0h15m1572 0h15m1688 0h15m-590 0h15m248 0h15m-3213 0h15m3404 1h15m-378 0h15m-3076 0h15m3446 0h15m-405 0h15m-991 0h15m-1634 0h15m2782 0h15m-170 1h15m-3199 0h15m3126 0h15m252 0h15m-3348 0h15m3328 0h15m102 0h15m-148 0h15m-1262 0h15m-293 1h15m-1571 0h15m-116 0h15m318 0h15m3019 0h15m-178 0h15m-288 0h15m276 1h15m-52 0h15m-3538 0h15m3627 0h15m-1954 0h15m559 0h15m-1802 0h15m-108 0h15m3042 0h15m-1192 0h15m-295 0h15m-1793 1h15m1493 0h15m2167 0h15m-1650 0h15m-1964 0h15m3166 0h15m-3225 0h15m3196 0h15m-270 0h15m-15 0h15m-3141 0h15m-80 0h15m3565 1h15m-1700 0h15m-1640 0h15m3043 0h15m288 0h15m-503 0h15m642 0h15m-1913 0h15m-1588 1h15m-372 0h15m-106 0h15m339 0h15m2814 0h15m302 0h15m-389 0h15m445 0h15m-268 0h15m-1321 0h15m1257 0h15m42 0h15m-2962 1h15m2824 0h15m-2548 0h15m-621 0h15m1663 0h15m1396 0h15m-1418 0h15m-26 0h15m-1436 0h15m2870 0h15m232 0h15m-3372 0h15m0 0h15m3392 0h15m93 0h15m-3600 1h15m280 0h15m-244 0h15m1892 0h15m-1880 0h15m-76 0h15m1646 0h15m1937 0h15m-529 0h15m203 0h15m-3244 1h15m3494 0h15m-348 0h15m-2828 0h15m3100 0h15m-355 0h15m140 0h15m376 0h15m-2121 0h15m-1556 0h15m-3 0h15m3087 0h15m-2704 0h15m2877 0h15m-1793 0h15m1374 0h15m-2726 0h15m3203 0h15m-470 0h15m-2622 0h15m2568 0h15m423 0h15m-315 1h15m-1574 0h15m1537 0h15m18 0h15m-3197 0h15m3399 0h15m-1597 0h15m10 0h15m-35 0h15m1153 0h15m133 0h15m-3053 0h15m-129 0h15m-44 0h15m3105 0h15m-166 0h15m408 1h15m-130 0h15m-3373 0h15m226 0h15m-198 0h15m36 0h15m3455 0h15m-26 0h15m-25 0h15m25 0h15m-1904 1h15m-73 0h15m-1417 0h15m221 0h15m-381 0h15m153 0h15m2721 1h15m-2838 0h15m2040 0h15m1520 0h15m-3700 0h15m3738 0h15m-1920 0h15m-1594 0h15m-415 0h15m385 1h15m3220 0h15m72 0h15m-1754 0h15m-1602 0h15m3292 0h15m-3331 0h15m68 1h15m-85 0h15m3337 0h15m-3761 0h15m1972 0h15m-1621 0h15m-380 0h15m3488 0h15m-54 0h15m-1767 0h15m-1388 1h15m2782 0h15m-2688 0h15m2902 0h15m-212 0h15m168 0h15m-3315 0h15m3037 0h15m176 0h15m406 0h15m-2058 0h15m1647 1h15m424 0h15m-3482 0h15m3326 0h15m-3351 0h15m2990 0h15m-3102 0h15m2902 0h15m-2819 0h15m12 0h15m-185 0h15m2913 0h15m170 0h15m-3133 0h15m2834 1h15m10 0h15m-2634 0h15m80 0h15m2796 0h15m472 0h15m-896 0h15m456 0h15m227 0h15m-371 0h15m94 1h15m-3415 0h15m-91 0h15m3664 0h15m-227 0h15m160 0h15m-3103 0h15m3065 0h15m-282 0h15m86 0h15m-422 0h15m554 0h15m-3635 0h15m3218 1h15m-3289 0h15m3080 0h15m-1099 0h15m-1914 0h15m3607 0h15m-3288 0h15m-258 1h15m2971 0h15m-1210 0h15m10 0h15m1252 0h15m-3313 0h15m283 0h15m2950 0h15m-1253 0h15m1433 0h15m218 1h15m-3123 0h15m-343 0h15m247 0h15m2641 0h15m287 0h15m-3273 0h15m417 1h15m2831 0h15m-95 0h15m-3461 0h15m358 0h15m3097 0h15m8 0h15m258 0h15m-413 0h15m541 0h15m-1616 1h15m1487 0h15m-259 0h15m-3267 0h15m2935 1h15m122 0h15m47 0h15m-298 0h15m208 0h15m-58 0h15m363 0h15m-679 0h15m-65 0h15m-2421 0h15m2695 1h15m-3156 0h15m269 0h15m3127 0h15m-137 0h15m-3154 0h15m-253 1h15m3438 0h15m-3419 0h15m3648 0h15m-3519 0h15m1951 0h15m1340 0h15m-3640 0h15m308 0h15m-282 0h15m3434 0h15m214 0h15m-2006 1h15m-38 0h15m1424 0h15m-2895 0h15m-234 0h15m398 0h15m2903 0h15m-92 0h15m-186 0h15m-874 1h15m940 0h15m-2925 0h15m3299 0h15m65 0h15m-85 0h15m-458 0h15m-2937 0h15m3173 0h15m-139 1h15m539 0h15m-540 0h15m-3298 0h15m3278 0h15m-2970 1h15m3116 0h15m-2037 0h15m2046 0h15m102 0h15m-27 0h15m-3330 0h15m3133 0h15m-295 1h15m395 0h15m-1966 0h15m1556 0h15m-3046 0h15m3220 0h15m483 0h15m-1744 0h15m1242 0h15m-22 1h15m-345 0h15m362 0h15m-62 0h15m110 0h15m-159 0h15m-1769 0h15m1853 0h15m-3461 0h15m431 0h15m2606 0h15m-2711 0h15m2933 0h15m-148 1h15m-3218 0h15m297 0h15m-131 0h15m-9 0h15m-263 0h15m3587 1h15m-434 0h15m-1572 0h15m1665 0h15m532 0h15m-231 0h15m-2048 0h15m1390 0h15m109 1h15m47 0h15m-1048 0h15m-2167 0h15m3625 0h15m-326 0h15m-3019 0h15m3271 1h15m-2010 0h15m349 0h15m147 0h15m1334 0h15m-170 0h15m-3281 0h15m2062 0h15m-555 0h15m1985 0h15m-3607 0h15m218 0h15m3322 0h15m-331 0h15m533 0h15m-719 1h15m350 0h15m-3103 0h15m-266 0h15m3295 0h15m-3622 0h15m1785 0h15m1406 0h15m-3173 0h15m228 1h15m1832 0h15m-29 0h15m-354 0h15m-17 0h15m-1407 0h15m70 0h15m3494 0h15m-646 0h15m158 1h15m-1472 0h15m1579 0h15m-1604 0h15m-312 0h15m801 0h15m-2389 0h15m2044 0h15m1279 0h15m325 0h15m-3844 1h15m3662 0h15m-165 0h15m-3325 0h15m1972 0h15m1193 0h15m-3280 0h15m1550 0h15m-1315 1h15m-52 0h15m-335 0h15m3686 0h15m-1561 0h15m1039 0h15m586 0h15m-1650 0h15m865 0h15m160 1h15m44 0h15m439 0h15m-529 0h15m211 0h15m-230 0h15m-7 0h15m-1612 0h15m-1208 1h15m1459 0h15m-1790 0h15m3210 0h15m-1246 0h15m1380 0h15m-293 0h15m-182 0h15m-2984 0h15m-125 0h15m2116 0h15m1559 0h15m-1609 0h15m1229 1h15m135 0h15m-3392 0h15m1972 0h15m-1950 0h15m3347 0h15m-3707 1h15m218 0h15m3657 0h15m-2141 0h15m1770 0h15m-3234 0h15m3211 0h15m-24 0h15m-1580 1h15m1311 0h15m61 0h15m-130 0h15m254 0h15m-3342 0h15m355 0h15m-546 0h15m3258 0h15m-3165 1h15m-104 0h15m458 0h15m2688 0h15m557 0h15m-3797 0h15m3470 0h15m-3130 0h15m-66 0h15m3090 1h15m-100 0h15m-1125 0h15m1415 0h15m-3698 0h15m1751 0h15m2129 0h15m-3436 1h15m-63 0h15m1314 0h15m-1372 0h15m-149 0h15m-216 0h15m2262 0h15m-2293 1h15m1854 0h15m-190 0h15m-1215 0h15m-128 0h15m2746 0h15m-1280 0h15m1486 0h15m-3093 0h15m1306 0h15m-1671 0h15m3477 0h15m-1591 0h15m-1893 0h15m3005 0h15m-2765 0h15m-155 0h15m2000 1h15m1453 0h15m-279 0h15m-1709 0h15m-61 0h15m298 0h15m1764 0h15m-3788 0h15m2069 0h15m-398 0h15m1929 0h15m-3362 0h15m3019 0h15m-2859 0h15m3055 0h15m-1637 0h15m1300 0h15m191 1h15m-27 0h15m-1528 0h15m-1786 0h15m2063 0h15m-322 0h15m1330 0h15m252 0h15m-333 0h15m245 0h15m-152 0h15m10 0h15m-1630 1h15m-40 0h15m1876 0h15m-446 0h15m-1196 0h15m1208 0h15m-1489 1h15m-1759 0h15m1436 0h15m201 0h15m1714 0h15m-109 0h15m-1387 0h15m1622 0h15m-1664 1h15m2019 0h15m-2258 0h15m-1793 0h15m454 0h15m-174 0h15m3203 0h15m-1494 0h15m1585 0h15m-336 1h15m231 0h15m-62 0h15m-223 0h15m86 0h15m-2942 0h15m1553 1h15m-316 0h15m2167 0h15m-643 0h15m-1544 0h15m263 0h15m1079 0h15m-1419 0h15m-1455 0h15m3399 0h15m-467 0h15m-1541 0h15m1421 1h15m294 0h15m-3186 0h15m1707 0h15m-1494 0h15m3126 0h15m-1959 0h15m-1543 0h15m213 1h15m2646 0h15m-1364 0h15m259 0h15m-1653 0h15m3317 0h15m-3507 0h15m-36 0h15m1535 0h15m-37 0h15m1633 0h15m-1155 0h15m1181 1h15m-1796 0h15m2277 0h15m-107 0h15m-368 0h15m367 0h15m-399 0h15m-150 0h15m-1727 0h15m435 0h15m141 0h15m1143 1h15m-3306 0h15m3143 0h15m-3226 0h15m1682 0h15m-1337 1h15m1490 0h15m-1960 0h15m198 0h15m2034 0h15m-2170 0h15m-171 0h15m3932 0h15m-2301 1h15m1740 0h15m-1616 0h15m-1268 0h15m-525 0h15m3354 0h15m-3211 0h15m1536 1h15m199 0h15m-1928 0h15m3489 0h15m-71 0h15m71 0h15m-3334 0h15m-101 1h15m3377 0h15m-84 0h15m-40 0h15m-243 0h15m320 0h15m-3154 0h15m3288 0h15m-3789 1h15m513 0h15m3003 0h15m90 0h15m-385 0h15m-49 0h15m84 0h15m260 1h15m-42 0h15m-2992 0h15m-346 0h15m-318 0h15m3879 0h15m-2082 0h15m1333 0h15m-874 0h15m-1848 1h15m2978 0h15m185 0h15m-3219 0h15m1285 0h15m-1206 0h15m3156 1h15m-3089 0h15m2577 0h15m-3102 0h15m3312 0h15m-3454 1h15m3494 0h15m-325 0h15m-1493 0h15m-9 0h15m1863 1h15m-1896 0h15m466 1h15m-2013 0h15m1734 0h15m1715 0h15m-111 0h15m-241 0h15m-3306 0h15m221 0h15m-63 0h15m3150 0h15m-219 0h15m53 0h15m-3163 1h15m387 0h15m1378 1h15m-225 0h15m1695 0h15m-73 1h15m-3278 0h15m3387 0h15m-3539 0h15m26 1h15m-30 0h15m3197 0h15m-251 0h15m-2758 0h15m3395 1h15m-1470 0h15m1422 0h15m-3238 0h15m3277 0h15m-3203 0h15m-466 0h15m2136 0h15m1277 1h15m-100 0h15m-2991 0h15m3106 0h15m-96 0h15m-2998 1h15m2862 0h15m-161 0h15m-1306 0h15m255 1h15m-1807 1h15m3382 0h15m-3288 0h15m2679 0h15m-1000 0h15m-1855 1h15m1264 0h15m-1452 0h15m3055 0h15m240 0h15m-3674 0h15m3267 1h15m-3246 0h15m3551 0h15m-3471 1h15m3455 0h15m-61 0h15m-79 0h15m-1226 0h15m-1956 1h15m3020 0h15m111 0h15m-3469 0h15m3197 0h15m-3002 0h15m3491 0h15m-445 0h15m241 0h15m-1856 0h15m-1789 1h15m404 0h15m1848 0h15m1201 0h15m-3015 0h15m-308 0h15m3322 0h15m-79 0h15m306 0h15m-2124 1h15m2022 0h15m-66 0h15m-1394 1h15m1057 0h15m343 0h15m-198 0h15m195 0h15m-1403 0h15m-89 0h15m-48 0h15m1678 1h15m-3780 0h15m-214 0h15m3752 1h15m-3592 0h15m-19 0h15m3071 0h15m147 0h15m352 0h15m-263 0h15m-301 1h15m-3014 0h15m-228 0h15m3584 0h15m-3414 0h15m3208 0h15m0 1h15m-214 0h15m-3182 0h15m3124 0h15m174 0h15m-1193 0h15m-502 0h15m1643 1h15m-3043 0h15m-425 0h15m-17 0h15m387 1h15m-366 0h15m2198 0h15m1120 0h15m-3427 0h15m3790 0h15m-301 0h15m-1733 1h15m1981 0h15m122 0h15m-3655 0h15m3365 0h15m-1413 0h15m1371 0h15m-276 1h15m244 0h15m-1406 0h15m-9 0h15m-2139 0h15m3724 1h15m-266 0h15m-198 0h15m-3422 0h15m2240 0h15m-2171 1h15m3057 0h15m-2721 0h15m3238 0h15m-3314 0h15m-229 0h15m1549 0h15m1749 0h15m-2990 0h15m3039 1h15m-54 0h15m-175 0h15m-1651 0h15m-1569 0h15m1982 1h15m1219 0h15m-1695 0h15m1804 0h15m-3573 0h15m3192 0h15m-2825 0h15m3138 0h15m-3627 0h15m473 0h15m1293 0h15m1817 1h15m-1840 0h15m1860 0h15m146 1h15m-2145 0h15m2015 0h15m-469 0h15m-3144 0h15m1462 0h15m-1428 0h15m3162 1h15m83 0h15m89 0h15m-3130 0h15m2918 0h15m-3296 0h15m3458 1h15m-364 0h15m367 0h15m-3642 0h15m3554 0h15m-3567 1h15m3286 0h15m-2970 0h15m2129 0h15m-2356 0h15m2074 0h15m1304 1h15m-112 0h15m-1731 0h15m-1765 0h15m2207 1h15m-1847 0h15m-424 0h15m3621 1h15m-3503 0h15m321 0h15m3178 0h15m-228 0h15m340 1h15m21 0h15m-599 0h15m-2889 0h15m2936 0h15m-95 0h15m0 1h15m-2991 0h15m3063 0h15m497 0h15m-3377 0h15m-158 0h15m40 1h15m3062 0h15m-3363 0h15m3270 0h15m-1809 1h15m-1708 0h15m3601 0h15m-3055 0h15m1219 0h15m-44 0h15m1801 0h15m-118 0h15m-3159 0h15m3428 0h15m-3726 1h15m174 0h15m1554 0h15m-36 0h15m441 0h15m-1752 1h15m-504 0h15m100 0h15m3274 0h15m179 0h15m193 0h15m-2047 1h15m1306 0h15m-574 0h15m-2500 0h15m2158 0h15m-2272 1h15m2179 0h15m1212 0h15m-2965 0h15m-478 0h15m2166 0h15m1223 0h15m-82 0h15m-1664 1h15m488 0h15m-1990 0h15m1986 0h15m1091 1h15m93 0h15m-1200 0h15m-2097 0h15m1603 0h15m1916 0h15m-1545 0h15m1619 1h15m-3265 0h15m3154 0h15m-278 0h15m216 0h15m-378 0h15m-2863 0h15m1655 1h15m30 0h15m-45 0h15m1151 0h15m-3091 0h15m3624 0h15m-655 1h15m-1125 0h15m68 1h15m1026 0h15m-1108 0h15m1497 0h15m-412 0h15m63 0h15m311 0h15m-167 1h15m-3045 0h15m-304 0h15m1913 0h15m5 0h15m-1932 0h15m3364 1h15m-3084 0h15m-217 0h15m3331 0h15m-6 0h15m-274 0h15m-3316 1h15m109 0h15m1462 0h15m1833 0h15m6 0h15m-1893 0h15m-1354 0h15m1719 0h15m-1638 0h15m1639 0h15m1579 0h15m-70 0h15m-164 0h15m-87 1h15m-1387 0h15m-301 0h15m255 0h15m-394 0h15m1507 0h15m-1429 0h15m-1768 0h15m3634 1h15m-35 0h15m-1944 0h15m1258 0h15m434 0h15m126 0h15m-424 0h15m-2982 0h15m1552 0h15m259 1h15m-302 0h15m1726 0h15m-1401 0h15m-19 0h15m10 0h15m1380 0h15m-178 1h15m83 0h15m-40 0h15m-1771 0h15m-1634 0h15m-136 1h15m2100 0h15m-25 0h15m1232 0h15m-3035 0h15m2916 0h15m-1141 0h15m1078 1h15m402 0h15m-149 0h15m-135 0h15m-170 0h15m-2716 0h15m2908 0h15m-1286 1h15m-93 0h15m39 0h15m1271 0h15m-1245 0h15m-1985 0h15m1494 1h15m1775 0h15m-1378 0h15m1391 0h15m-3413 1h15m1561 0h15m384 0h15m1095 0h15m-1465 1h15m1455 0h15m251 0h15m-363 0h15m-1063 0h15m-1733 1h15m2848 0h15m-139 0h15m296 0h15m-104 1h15m-201 0h15m-1060 0h15m1023 1h15m192 0h15m-21 0h15m-1272 0h15m-1771 0h15m1363 0h15m1696 0h15m-1778 1h15m1631 0h15m-3039 0h15m81 0h15m1333 0h15m-9 1h15m-1792 0h15m1743 0h15m-1311 0h15m2705 0h15m124 0h15m-70 1h15m230 0h15m-3344 0h15m2039 0h15m-114 0h15m1110 0h15m-1131 0h15m1447 0h15m-3656 1h15m3436 0h15m-1324 0h15m1203 0h15m-1182 0h15m-2125 0h15m2075 1h15m1217 0h15m-1264 0h15m1044 0h15m-1426 0h15m-31 0h15m-1763 0h15m374 0h15m2786 0h15m346 1h15m-1839 0h15m2183 0h15m-739 0h15m-2750 0h15m2891 0h15m-3264 0h15m342 0h15m2853 0h15m-1585 0h15m317 1h15m-13 0h15m1053 0h15m200 0h15m-128 0h15m-1530 0h15m1650 0h15m-1384 0h15m-1957 0h15m3238 0h15m-1321 0h15m19 0h15m-2097 1h15m3102 0h15m-3042 0h15m3439 0h15m-1428 0h15m1303 0h15m-1423 0h15m-252 0h15m1733 0h15m-1844 1h15m407 0h15m1269 0h15m-201 0h15m-1160 0h15m-2205 0h15m1883 0h15m-74 0h15m285 1h15m1486 0h15m-3082 0h15m1250 0h15m1823 0h15m65 0h15m-382 0h15m-99 0h15m-3123 0h15m1654 0h15m1536 0h15m-1520 1h15m206 0h15m-1805 0h15m1827 0h15m1326 0h15m69 0h15m-3594 0h15m1864 0h15m229 1h15m-274 0h15m7 0h15m1245 0h15m325 0h15m-198 0h15m-3152 0h15m3425 0h15m-1465 0h15m1181 1h15m-1596 0h15m1884 0h15m-1481 0h15m-350 0h15m1571 0h15m22 0h15m-158 1h15m228 0h15m-1743 0h15m-1850 0h15m1456 0h15m249 1h15m1579 0h15m-3390 0h15m3472 0h15m-395 0h15m-2559 0h15m-439 1h15m3516 0h15m-113 0h15m-3101 1h15m2931 0h15m-1548 0h15m-1472 0h15m-24 0h15m2851 0h15m-1416 0h15m-131 0h15m1482 0h15m-3297 1h15m3653 0h15m-421 0h15m-1114 1h15m-5 0h15m-4 0h15m1407 0h15m-3506 1h15m3309 0h15m-136 0h15m-2815 1h15m3054 0h15m-3471 0h15m132 0h15m153 0h15m1720 1h15m1284 0h15m118 0h15m-240 0h15m-1193 0h15m1452 0h15m-1857 0h15m-1752 0h15m254 0h15m3306 1h15m-3346 0h15m1510 0h15m1458 0h15m-2898 0h15m3338 0h15m-234 0h15m-353 0h15m471 0h15m-3604 1h15m3245 0h15m505 0h15m-415 1h15m-132 0h15m272 0h15m-339 0h15m-1594 0h15m1620 0h15m-78 0h15m193 0h15m-3141 0h15m3155 1h15m-58 0h15m-3296 0h15m3163 0h15m153 0h15m-3303 0h15m1519 0h15m1777 1h15m-1884 0h15m1662 0h15m-1368 0h15m58 0h15m-1955 1h15m3159 0h15m-204 1h15m-1400 0h15m243 0h15m-2160 1h15m3562 0h15m-1780 1h15m36 0h15m1419 0h15m-45 0h15m-2847 0h15m-14 0h15m3019 0h15m-27 1h15m-159 0h15m-3212 0h15m8 0h15m3418 0h15m-226 0h15m-3016 1h15m-96 0h15m1852 0h15m-34 0h15m-268 0h15m-40 0h15m1513 1h15m-125 0h15m127 0h15m-1231 1h15m1465 0h15m-92 0h15m-189 0h15m83 0h15m-3557 1h15m3300 0h15m-1166 0h15m1211 0h15m-118 0h15m-1063 0h15m1492 1h15m-1591 0h15m1552 0h15m-1860 0h15m1430 1h15m-1175 0h15m1044 1h15m-1390 0h15m1383 0h15m-1500 0h15m-15 0h15m229 1h15m-1999 0h15m3302 0h15m-1430 0h15m1545 0h15m-1689 0h15m1735 0h15m-3251 0h15m2847 0h15m501 0h15m-271 1h15m-1288 0h15m-2205 0h15m2135 0h15m-1742 0h15m2685 0h15m394 1h15m-1980 0h15m1879 0h15m-2967 0h15m2895 1h15m-4 0h15m-3217 0h15m1902 0h15m1383 1h15m8 0h15m-1435 0h15m-2016 0h15m1881 1h15m-152 0h15m28 0h15m1559 1h15m-54 1h15m-130 0h15m-2817 0h15m1302 0h15m236 1h15m1708 0h15m-348 0h15m9 0h15m-1455 0h15m20 0h15m-1717 1h15m1460 0h15m247 0h15m1092 0h15m25 0h15m-1377 1h15m-1969 0h15m3396 0h15m300 0h15m-114 0h15m-1525 0h15m1222 0h15m-1444 1h15m46 0h15m1860 0h15m-1756 0h15m1419 0h15m-264 0h15m-1414 0h15m-32 0h15m1817 0h15m-3236 1h15m1454 0h15m1645 0h15m-1735 0h15m1403 1h15m-1380 0h15m163 0h15m-230 0h15m174 0h15m-161 0h15m132 0h15m1260 1h15m-3161 0h15m1437 0h15m1864 0h15m-33 0h15m-1538 0h15m-1753 0h15m1889 1h15m1399 0h15m-1772 0h15m-1764 0h15m3362 0h15m-3281 0h15m3472 1h15m-3254 0h15m2817 0h15m-2942 0h15m1577 0h15m1511 0h15m-1527 0h15m1459 0h15m-171 1h15m-2849 0h15m3078 0h15m-1664 0h15m232 0h15m1299 0h15m-1500 0h15m1775 0h15m-258 1h15m-175 0h15m-10 0h15m-1357 0h15m1246 0h15m49 1h15m-100 0h15m29 0h15m-1240 0h15m-1896 0h15m1871 1h15m1461 0h15m-1555 0h15m1315 0h15m-1225 0h15m1448 0h15m-1709 0h15m-2 0h15m66 1h15m125 0h15m-2137 0h15m3396 0h15m-3008 0h15m1397 1h15m1514 0h15m-1351 0h15m-1881 0h15m3147 1h15m-3354 0h15m157 0h15m54 0h15m1684 0h15m1393 1h15m-2861 0h15m3123 0h15m-3642 0h15m435 0h15m2996 0h15m16 1h15m189 0h15m-3748 0h15m3386 0h15m-3282 1h15m3216 0h15m-1278 0h15m-1856 1h15m3076 0h15m-1375 0h15m-1746 0h15m3322 1h15m-3126 0h15m-62 0h15m2867 0h15m181 1h15m-1731 0h15m336 0h15m-67 0h15m-2104 0h15m3552 0h15m-3244 1h15m1520 0h15m101 0h15m91 1h15m1218 0h15m-1303 0h15m-1650 0h15m1746 0h15m1558 0h15m-218 1h15m-1529 0h15m-1867 0h15m1839 0h15m-36 0h15m203 1h15m1378 0h15m-3556 0h15m1949 0h15m-81 0h15m55 0h15m-1678 1h15m2893 0h15m-1309 0h15m1468 0h15m242 0h15m-138 0h15m-1614 1h15m-1524 0h15m3067 0h15m-3233 0h15m3256 1h15m-77 0h15m-1435 0h15m-203 1h15m-260 0h15m1724 0h15m-1423 0h15m-189 1h15m1577 0h15m13 0h15m-15 0h15m-3225 0h15m3124 0h15m147 1h15m85 0h15m-3524 0h15m68 0h15m3159 0h15m-1434 1h15m1200 0h15m201 0h15m18 0h15m-156 1h15m-1607 0h15m1549 0h15m-2819 0h15m1283 1h15m95 0h15m-1769 1h15m321 1h15m2860 0h15m-2972 0h15m-270 0h15m116 1h15m2978 0h15m-1262 0h15m-1946 0h15m3217 0h15m126 0h15m-3390 1h15m3343 0h15m-3334 0h15m169 0h15m1676 0h15m-1821 0h15m4 0h15m262 0h15m-318 1h15m3135 0h15m-3069 0h15m1503 1h15m1870 0h15m-1934 0h15m1849 0h15m-1701 0h15m1683 1h15m-1452 0h15m1302 0h15m-1484 0h15m1072 2h15m-2958 0h15m3435 0h15m-237 0h15m-31 0h15m-137 1h15m131 0h15m178 0h15m-3463 1h15m3421 0h15m-352 0h15m-3109 0h15m3081 1h15m-1318 0h15m-1971 1h15m3412 0h15m-2973 0h15m2941 0h15m-2987 0h15m-43 0h15m3189 0h15m-128 0h15m-3382 0h15m3122 0h15m-260 0h15m283 1h15m136 0h15m-1387 0h15m-1939 0h15m1561 0h15m1658 0h15m-94 0h15m-132 0h15m-1147 1h15m-1977 0h15m3131 0h15m-3241 1h15m346 0h15m1316 0h15m-1438 0h15m-352 0h15m3281 1h15m298 0h15m-3445 1h15m-91 0h15m1619 0h15m-1735 0h15m3256 0h15m237 0h15m-390 0h15m-1544 1h15m-1202 0h15m2973 0h15m-3007 1h15m2895 0h15m228 0h15m-3630 0h15m267 0h15m-167 1h15m3444 0h15m-3365 0h15m-189 0h15m3518 0h15m-1504 1h15m-91 0h15m-1867 0h15m3440 0h15m-3564 1h15m-71 0h15m3239 0h15m208 1h15m-3408 0h15m-77 0h15m1899 1h15m1543 0h15m42 0h15m-42 1h15m-3320 0h15m2981 0h15m-1272 0h15m1258 1h15m-3071 0h15m3415 1h15m-1864 0h15m406 0h15m1442 1h15m-9 0h15m-200 1h15m91 0h15m-255 0h15m-3057 0h15m1765 1h15m1329 0h15m69 0h15m100 0h15m-3341 1h15m3344 0h15m-324 0h15m108 0h15m53 1h15m-3361 0h15m3117 0h15m202 0h15m-1829 1h15m1420 0h15m-3104 0h15m3460 0h15m-3512 1h15m3395 0h15m-220 0h15m93 1h15m-1378 0h15m1410 0h15m-133 0h15m-1487 1h15m1559 1h15m-1327 0h15m1223 0h15m-94 1h15m284 1h15m-3428 0h15m3356 0h15m-3100 1h15m3172 0h15m-29 1h15m-62 1h15m-216 0h15m-3100 0h15m1884 0h15m-2010 0h15m220 1h15m-267 1h15m1888 0h15m-203 1h15m1714 0h15m-3527 1h15m3308 1h15m-3013 0h15m-148 1h15m3118 0h15m66 0h15m-3371 0h15m1952 1h15m-1989 1h15m-55 1h15m3215 0h15m-2963 0h15m-234 0h15m-162 1h15m38 0h15m-17 1h15m1771 0h15m1533 0h15m253 0h15m-114 1h15m-1777 0h15m285 0h15m-1693 1h15m-199 0h15m-140 1h15m296 1h15m-194 0h15m-167 0h15m206 0h15m3034 1h15m58 0h15m-3234 1h15m-23 0h15m3321 0h15m-108 0h15m-1513 0h15m156 1h15m1234 0h15m71 0h15m-3285 0h15m3336 0h15m-1425 1h15m-1761 0h15m-112 1h15m-121 0h15m1908 0h15m1389 0h15m-1344 0h15m1221 3h15m-1390 0h15m-1797 0h15m-19 1h15m3156 0h15m-133 1h15m-193 0h15m-2941 1h15m-144 0h15m3247 0h15m31 0h15m-1496 1h15m-1747 0h15m-27 0h15m1625 1h15m-97 0h15m369 0h15m-248 1h15m1995 0h15m-1939 1h15m205 0h15m-2102 0h15m3346 2h15m-3343 0h15m2019 1h15m-1926 0h15m3198 0h15m-3175 1h15m-321 0h15m204 1h15m3148 0h15m-3329 0h15m1936 0h15m1484 1h15m-108 0h15m113 1h15m-1690 0h15m159 0h15m-1805 2h15m2866 0h15m421 0h15m-3447 2h15m2010 0h15m-1903 1h15m-13 0h15m3166 0h15m12 0h15m-3324 1h15m1868 0h15m-1787 0h15m132 0h15m-191 1h15m1637 0h15m-1612 1h15m1452 0h15m-1765 0h15m3127 1h15m-1018 0h15m-2166 0h15m3128 1h15m-2893 0h15m-74 0h15m-134 0h15m2045 0h15m-57 1h15m54 0h15m-571 0h15m-1514 1h15m1864 1h15m1323 0h15m-3321 1h15m-44 0h15m232 0h15m-233 1h15m1693 1h15m1527 1h15m-3128 0h15m3326 1h15m-3403 0h15m-18 0h15m11 0h15m3189 1h15m-1528 1h15m-1589 0h15m-183 1h15m3004 2h15m-1419 0h15m359 0h15m-387 1h15m223 0h15m-1777 0h15m1796 2h15m-46 1h15m-1843 0h15m1567 1h15m234 0h15m-191 0h15m-1602 1h15m-17 0h15m1702 2h15m-208 0h15m-38 1h15m-3 1h15m397 0h15m-2101 1h15m1947 1h15m16 0h15m136 1h15m-2117 1h15m1654 0h15m-12 1h15m150 0h15m-1897 1h15m1728 0h15m137 0h15m10 0h15m-1834 1h15m1560 2h15m-1753 1h15m161 1h15m1881 2h15m1331 1h15m-3366 1h15m139 0h15m-6 0h15m1876 1h15m-2091 0h15m-29 1h15m1909 0h15m-1778 3h15m3241 0h15m-3212 1h15m-3 1h15m-169 1h15m1446 0h15m276 0h15m-1823 1h15m97 1h15m1550 0h15m-1437 0h15m-101 1h15m-160 1h15m1916 1h15m-1810 1h15m-83 1h15m1920 1h15m-2051 1h15m1822 0h15m12 1h15m-1685 0h15m-23 0h15m-119 1h15m59 0h15m-80 1h15m3406 0h15m-3387 1h15m1839 1h15m-184 1h15m-1653 1h15m-23 1h15m-115 1h15m1994 1h15m-416 2h15m176 0h15m-1702 1h15m1675 0h15m-61 0h15m-1860 1h15m-43 0h15m76 1h15m111 0h15m1620 1h15m-1649 1h15m-126 0h15m1744 0h15m214 1h15m-1950 2h15m1619 0h15m268 2h15m-403 4h15m338 3h15m-1823 2h15m1395 1h15m393 0h15m-41 1h15m-1848 3h15m1717 7h15m-317 6h15m-35 7h15m1888 4h15m-1847 0h15m374 7h15m18 0h15" stroke="#000" stroke-width="15" fill="none"/>
</svg>
</body></html>
